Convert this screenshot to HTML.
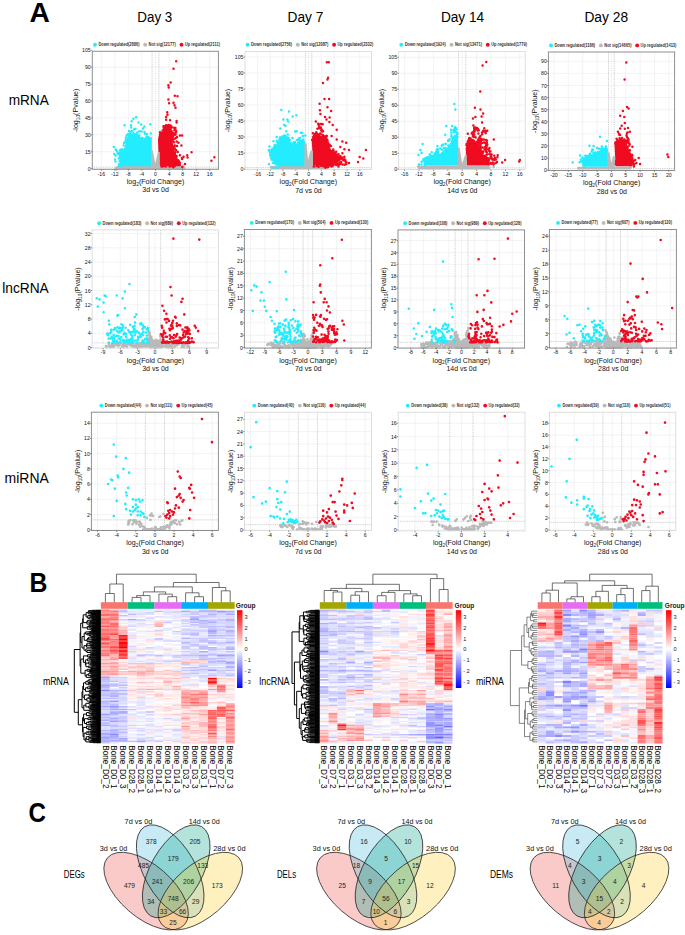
<!DOCTYPE html>
<html><head><meta charset="utf-8"><title>Figure</title>
<style>html,body{margin:0;padding:0;background:#fff;}svg{display:block;font-family:"Liberation Sans",sans-serif;}</style>
</head><body>
<svg width="685" height="935" viewBox="0 0 685 935" font-family="Liberation Sans, sans-serif"><text transform="translate(29.4 22.4) scale(0.99 1)" font-size="28.5" font-weight="bold" fill="#000">A</text>
<text transform="translate(29.6 592) scale(0.87 1)" font-size="28.5" font-weight="bold" fill="#000">B</text>
<text transform="translate(28.6 821.6) scale(0.85 1)" font-size="28.5" font-weight="bold" fill="#000">C</text>
<text x="137.3" y="21.8" font-size="15.3" textLength="35" lengthAdjust="spacingAndGlyphs" fill="#000">Day 3</text>
<text x="287.5" y="21.8" font-size="15.3" textLength="35.8" lengthAdjust="spacingAndGlyphs" fill="#000">Day 7</text>
<text x="440.9" y="21.8" font-size="15.3" textLength="43.3" lengthAdjust="spacingAndGlyphs" fill="#000">Day 14</text>
<text x="584.4" y="21.8" font-size="15.3" textLength="43.7" lengthAdjust="spacingAndGlyphs" fill="#000">Day 28</text>
<text x="8.7" y="105.2" font-size="15.3" textLength="40.1" lengthAdjust="spacingAndGlyphs" fill="#000">mRNA</text>
<text x="2.2" y="292.8" font-size="15.3" textLength="46.6" lengthAdjust="spacingAndGlyphs" fill="#000">lncRNA</text>
<text x="4.6" y="483.2" font-size="15.3" textLength="44.2" lengthAdjust="spacingAndGlyphs" fill="#000">miRNA</text>
<g><path d="M101.3 51.3V169.3M114.8 51.3V169.3M128.4 51.3V169.3M141.9 51.3V169.3M155.5 51.3V169.3M169.1 51.3V169.3M182.6 51.3V169.3M196.2 51.3V169.3M209.7 51.3V169.3M92.3 168.6H218.4M92.3 151.7H218.4M92.3 134.8H218.4M92.3 117.9H218.4M92.3 101H218.4M92.3 84.1H218.4M92.3 67.2H218.4" stroke="#ebebeb" stroke-width="0.6" fill="none"/>
<path d="M152.1 51.3V169.3M158.9 51.3V169.3M92.3 167.1H218.4" stroke="#9a9a9a" stroke-width="0.5" stroke-dasharray="1 0.8" fill="none"/>
<path d="M116.5 165.8L182 165.8L183 169L116 169Z" fill="#b9b9b9"/>
<path d="M182.1 166.6h0M183 168h0M184.3 167.9h0M183.2 165.7h0M116.6 169.5h0M115.9 168.3h0" stroke="#b9b9b9" stroke-width="2.5" stroke-linecap="round" fill="none"/>
<path d="M120.8 166.2L119 157.4L118.2 152.3L122.6 150.9L125.5 148.7L127 144.3L126.2 140.7L127.7 135.2L132.1 133.4L137.2 134.1L139.4 139.2L144.5 137.7L148.1 137L151.8 139.2L151.8 166.2Z" fill="#22ecfe"/>
<path d="M124.6 125.3h0M113.8 146.9h0M115.7 149.4h0M136.1 117.3h0M133.5 118.8h0M131.7 121.3h0M131 125.3h0M131.2 127.5h0M132.2 130.8h0M135.4 129.1h0M138.5 122.4h0M141.2 124.6h0M144.5 126.4h0M143 128.6h0M139.4 131.2h0M141.6 131.5h0M144.5 131.9h0M150.3 124.2h0M150.7 133.4h0M117 151h0M129 131h0M147 134h0M120.2 164.7h0M118.7 158.4h0M120.4 161.8h0M120.7 164.3h0M120.6 166.5h0M119.5 161.3h0M115.1 159.6h0M119.2 164.3h0M115.6 161.4h0M118.9 165.4h0M118.4 152.8h0M118.4 153.2h0M118.6 154.2h0M117.5 153.2h0M115.6 155.4h0M114.3 153.9h0M120.7 151.9h0M122.5 151.4h0M120 150.2h0M120.7 151.3h0M125.1 148.9h0M125.1 148.7h0M121.6 149.2h0M122.9 149.9h0M126.6 146.3h0M126.1 145.5h0M125.4 148.1h0M123.7 145.5h0M126.7 144.2h0M127 143h0M125.2 142.2h0M124 142.9h0M126.9 140.3h0M125.8 140.1h0M125.8 140.4h0M126.3 140h0M126.7 135.2h0M125.8 137.4h0M129.1 134.2h0M129.9 133.7h0M128.2 133.9h0M131 131.7h0M137 133.8h0M135.3 134.6h0M133.8 133.4h0M134.3 129.2h0M137.4 132.4h0M133.3 133.6h0M137.1 134.7h0M139.1 137.7h0M138.2 135.8h0M139 137.7h0M139.4 139.1h0M139.3 136.9h0M143 138.5h0M139.7 139.5h0M141.5 138.3h0M141.6 138.2h0M139.2 135.4h0M142.1 137.9h0M146.9 136.8h0M146.7 136.7h0M144.9 133.7h0M146.5 137h0M149.5 138.2h0M150.7 138.3h0M149.7 138h0M148.7 137.3h0" stroke="#22ecfe" stroke-width="2.5" stroke-linecap="round" fill="none"/>
<path d="M160.2 165.8L158.4 150.9L158 139.2L159.5 131.9L163.1 131.2L164.6 125.3L171.2 125.3L171.9 131.2L175.5 133.4L172.6 140.7L173.4 148.7L174.8 153.8L177 159.6L180.7 164L179.2 166.2Z" fill="#ef0b20"/>
<path d="M176.2 61.3h0M173.5 68.8h0M170.7 82.6h0M168.4 85.2h0M168.7 87.6h0M174.8 95.8h0M177.5 96.3h0M168.4 99.5h0M169.1 103.3h0M173.5 102.7h0M174.5 105.2h0M175.5 107.8h0M211.4 160.8h0M214.4 157.3h0M167.2 112.2h0M167.5 114.7h0M166.1 116.9h0M166.1 119.7h0M170.1 120.2h0M176.6 121h0M176.6 122.5h0M175.2 128.6h0M164.6 129.3h0M179.9 135.5h0M182.1 135.5h0M176.6 141.4h0M178.5 142.8h0M177 146.1h0M181.4 145.4h0M177.7 152h0M191.6 152.3h0M179.9 155.3h0M187.2 155.3h0M187.6 157.4h0M183.6 156.7h0M182.1 158.9h0M185 164h0M173.4 154.5h0M176 150h0M160.2 163.9h0M159.8 156.9h0M160.5 163.6h0M160.1 159.6h0M160.6 164.5h0M159.8 162.8h0M160 132.3h0M162.6 130.6h0M163 130.2h0M163.8 127.9h0M163.7 127.5h0M164.3 126.2h0M163.5 126.3h0M170.4 125.4h0M168.7 125h0M167 125.9h0M169.2 125.7h0M168.7 124.9h0M167.9 125.2h0M166 125.3h0M171.4 126.2h0M171.4 130.9h0M171.7 127.4h0M174.1 127.8h0M174.4 130.2h0M175.4 127.9h0M174.4 133.5h0M172.7 132.7h0M176.1 131.9h0M176 130.6h0M175.6 134.3h0M172.7 140.1h0M173.3 139.5h0M175.6 134.3h0M175 134.8h0M176.2 137.8h0M175.1 138.6h0M177 136.9h0M173.4 148.5h0M172.9 148.5h0M173.7 147.8h0M173.1 146.8h0M172.5 140.6h0M173.7 146.4h0M173.9 142.2h0M174.7 145.6h0M174.6 147.6h0M173.9 149.6h0M173.3 148.3h0M174.9 152.3h0M174.9 153.5h0M177.5 152.1h0M175 149.6h0M174.9 154.8h0M175.5 156.3h0M175.8 157.8h0M176.5 158.3h0M176.4 158.1h0M176.6 156h0M176.5 159.9h0M178 160.3h0M179.9 162.7h0M181.9 158.2h0M178.7 160.8h0M182.3 158.3h0M179.8 164.9h0M182.3 167.1h0M166 165.8h0M171.5 166h0M164.5 165.2h0M171.8 165.9h0M174.7 165.5h0M165.8 166.4h0M163.1 166.3h0M162.6 166.3h0M162 166.5h0M162.7 166.3h0M165.1 165.9h0M161.5 166.4h0M174.2 166.3h0M173.3 167.2h0M169.5 166.4h0M174.6 166.3h0M170.3 166.2h0M172.5 166.3h0" stroke="#ef0b20" stroke-width="2.5" stroke-linecap="round" fill="none"/>
<path d="M151.2 166.5L151.2 150.5L152.8 150.3L155.3 163.7L157.8 152L159.8 152L159.8 166.5Z" fill="#b9b9b9"/>
<rect x="92.3" y="51.3" width="126.1" height="118" fill="none" stroke="#8f8f8f" stroke-width="1"/>
<path d="M101.3 169.3v1.5M114.8 169.3v1.5M128.4 169.3v1.5M141.9 169.3v1.5M155.5 169.3v1.5M169.1 169.3v1.5M182.6 169.3v1.5M196.2 169.3v1.5M209.7 169.3v1.5M92.3 168.6h-1.5M92.3 151.7h-1.5M92.3 134.8h-1.5M92.3 117.9h-1.5M92.3 101h-1.5M92.3 84.1h-1.5M92.3 67.2h-1.5M92.3 50.3h-1.5" stroke="#333" stroke-width="0.5" fill="none"/>
<g font-size="5.15" fill="#111"><text x="101.3" y="175.6" text-anchor="middle">-16</text><text x="114.8" y="175.6" text-anchor="middle">-12</text><text x="128.4" y="175.6" text-anchor="middle">-8</text><text x="141.9" y="175.6" text-anchor="middle">-4</text><text x="155.5" y="175.6" text-anchor="middle">0</text><text x="169.1" y="175.6" text-anchor="middle">4</text><text x="182.6" y="175.6" text-anchor="middle">8</text><text x="196.2" y="175.6" text-anchor="middle">12</text><text x="209.7" y="175.6" text-anchor="middle">16</text><text x="90.7" y="170.6" text-anchor="end">0</text><text x="90.7" y="153.7" text-anchor="end">15</text><text x="90.7" y="136.8" text-anchor="end">30</text><text x="90.7" y="119.9" text-anchor="end">45</text><text x="90.7" y="103" text-anchor="end">60</text><text x="90.7" y="86.1" text-anchor="end">75</text><text x="90.7" y="69.2" text-anchor="end">90</text><text x="90.7" y="52.3" text-anchor="end">105</text></g>
<text x="126.8" y="183.8" font-size="7.9" fill="#111" textLength="57.5" lengthAdjust="spacingAndGlyphs">log<tspan font-size="5.3" dy="1.8">2</tspan><tspan dy="-1.8">(Fold Change)</tspan></text>
<text x="142.3" y="192.3" font-size="7.5" fill="#111" textLength="26.6" lengthAdjust="spacingAndGlyphs">3d vs 0d</text>
<text transform="translate(77.7 132) rotate(-90)" font-size="7.9" fill="#111" textLength="43.4" lengthAdjust="spacingAndGlyphs">-log<tspan font-size="5.3" dy="1.8">10</tspan><tspan dy="-1.8">(Pvalue)</tspan></text>
<g font-size="4.5" font-weight="bold" fill="#333"><circle cx="95" cy="44.7" r="1.95" fill="#22ecfe"/><text x="98.4" y="46.2" textLength="41.1" lengthAdjust="spacingAndGlyphs">Down regulated(2886)</text><circle cx="145.2" cy="44.7" r="1.95" fill="#b9b9b9"/><text x="148.6" y="46.2" textLength="27.2" lengthAdjust="spacingAndGlyphs">Not sig(12177)</text><circle cx="181.5" cy="44.7" r="1.95" fill="#ef0b20"/><text x="184.9" y="46.2" textLength="35.1" lengthAdjust="spacingAndGlyphs">Up regulated(2111)</text></g></g>
<g><path d="M257.4 51.4V169.6M270.2 51.4V169.6M283 51.4V169.6M295.8 51.4V169.6M308.6 51.4V169.6M321.4 51.4V169.6M334.2 51.4V169.6M347 51.4V169.6M359.8 51.4V169.6M245 169H371.5M245 153H371.5M245 137H371.5M245 121H371.5M245 105H371.5M245 89H371.5M245 73H371.5M245 57H371.5" stroke="#ebebeb" stroke-width="0.6" fill="none"/>
<path d="M305.4 51.4V169.6M311.8 51.4V169.6M245 167.6H371.5" stroke="#9a9a9a" stroke-width="0.5" stroke-dasharray="1 0.8" fill="none"/>
<path d="M271 166L327.5 166L328 169.2L270.5 169.2Z" fill="#b9b9b9"/>
<path d="M338.3 167.3h0M327.4 167.9h0M327.6 166.4h0M329.1 166.8h0M271 167.1h0M271.3 167.4h0" stroke="#b9b9b9" stroke-width="2.5" stroke-linecap="round" fill="none"/>
<path d="M278.2 166.3L273.6 163.2L271.2 157.8L270.5 151.6L274.3 147L277.4 143.1L280.5 137.8L285.1 135.4L289 140.1L292.8 145.5L296.7 144.7L300.5 140.1L305.1 140.8L305.1 166.3Z" fill="#22ecfe"/>
<path d="M281.3 110h0M289 111.6h0M292.7 116.6h0M296.4 115.3h0M283.4 119.6h0M287.4 119.6h0M288.2 121.6h0M284.3 125h0M285.5 125.8h0M280.3 128.5h0M286.3 131.2h0M295.1 131.6h0M296.7 131.2h0M300.9 132.7h0M302.1 132.7h0M305.3 135.6h0M269.3 146.6h0M268.9 150.5h0M284 135.8h0M280.1 137.4h0M276.6 140.8h0M274.7 144.7h0M292.4 138.1h0M297.1 140.1h0M300.1 138.1h0M275.7 164.4h0M278.6 165.7h0M275.9 164h0M273.3 167.8h0M277 167.7h0M271.7 159.5h0M271.7 157.9h0M272.5 159.6h0M273.2 163.1h0M272 159.9h0M268.9 164.3h0M271.5 155.2h0M270.5 152.6h0M270.8 157.4h0M270.6 154h0M270.1 155.1h0M270 152.4h0M273.9 148.4h0M271.2 150.3h0M271.6 151h0M272.3 149h0M269 150h0M272.2 149.5h0M275.9 145.7h0M276 146.4h0M274 147h0M275.1 145.5h0M273.5 141.3h0M279.6 140.6h0M279.4 140.2h0M280.2 138.3h0M276.7 137h0M279.3 139.5h0M277.1 142h0M280.5 137.5h0M280.6 137.7h0M284.2 136h0M282.4 136.8h0M284.7 135.5h0M282.7 136.6h0M286 136.6h0M287.8 138h0M287.3 137.5h0M288.7 137.9h0M288.1 138.9h0M287.8 134.5h0M291.6 143.5h0M290.8 143.2h0M292.5 144.9h0M289.7 140h0M295.1 143.7h0M295 142.1h0M294.6 142.8h0M295.8 144.2h0M295 145.4h0M293.8 142.2h0M292.9 143.7h0M299.8 140.9h0M298.1 144h0M298 142.7h0M297.8 139.8h0M298.7 138.8h0M299.5 140.7h0M302.5 141h0M301.2 140.4h0M303.4 139.6h0M302.8 136.1h0" stroke="#22ecfe" stroke-width="2.5" stroke-linecap="round" fill="none"/>
<path d="M313.2 165.5L311.7 140L313 137L318 134.5L322 136L326.5 137.5L328.6 148.1L334.7 154.3L338.8 158.4L335.7 162.4L330.6 166.5Z" fill="#ef0b20"/>
<path d="M326.8 62.3h0M328.8 62.3h0M328.1 77.7h0M327.5 79.4h0M323 83h0M324.5 99.1h0M329.1 99.1h0M319.6 103.7h0M327.5 107.3h0M331.1 111h0M319.9 110.3h0M320.4 113.9h0M325 117h0M329.6 117.5h0M326.5 119.5h0M329.4 122.1h0M332.7 125.1h0M315.8 121.6h0M336.7 129.7h0M331.6 135.9h0M336.7 139.5h0M342.4 141.5h0M346.2 142.8h0M340.3 147.1h0M344.4 149.2h0M349 150h0M365.9 150h0M359.7 157.1h0M363.3 158.4h0M358 161.9h0M349 163h0M344.4 156.8h0M342.4 153.2h0M338.8 160.4h0M345.8 162.3h0M328.3 149.7h0M319.5 128.3h0M322.1 151.1h0M324.8 140.4h0M323.4 148.4h0M325.3 138h0M326.2 149.9h0M312.2 140h0M329.4 160h0M345.1 160h0M336.7 155.1h0M340.3 155.9h0M345.5 160.4h0M331.2 150.9h0M320.8 127.4h0M334.2 159.1h0M328.1 145.1h0M321.6 149.5h0M322.1 150.4h0M316.2 134.1h0M324.9 139.2h0M316.5 144h0M323.1 150.3h0M327.2 139.6h0M336.9 163.6h0M346.4 162.2h0M314 137.5h0M338.2 159.1h0M321.3 148.5h0M336.2 164.9h0M321.3 129.1h0M318.7 125.2h0M335.3 161.2h0M318.6 142.6h0M337 162h0M332.7 162.8h0M333.4 152.1h0M322.1 143.2h0M325.6 144.6h0M319 124.8h0M317.7 138.8h0M344.4 160.4h0M338.5 154.2h0M319.8 143h0M316.5 146.2h0M339.7 163h0M333.6 165h0M341.2 162h0M322 136.8h0M329.1 162.1h0M326.7 159.2h0M320.5 124.1h0M315.4 143.8h0M340.5 157.8h0M339.4 159.5h0M329.8 164h0M337.9 154.5h0M331.8 160.1h0M316.9 144.6h0M317.2 141.7h0M322.7 124.3h0M317.5 138.1h0M320.8 149.9h0M317.4 128.7h0M337.2 161.6h0M323.2 155h0M323.2 145.3h0M322.3 131.4h0M344.8 164.8h0M315.8 138.6h0M343.1 159.9h0M320.8 139.1h0M315.7 137.6h0M335.8 159.8h0M318.1 123.7h0M333.5 150.8h0M342.1 157.4h0M342.4 159.1h0M318 141.6h0M323.2 137.9h0M327.3 151.5h0M329.1 156.3h0M324.8 145.2h0M322.5 130.8h0M318.4 137.6h0M323 131.2h0M331.9 153.7h0M326.6 142.2h0M325 157.5h0M320.2 133.5h0M322.1 145.6h0M314.9 134.1h0M325.4 152.2h0M323.7 137.6h0M331.2 155h0M315.9 142.8h0M317.6 143h0M321.9 153.8h0M340.5 164h0M328.2 160.6h0M346.3 164h0M335.2 152.5h0M344.6 160.3h0M319.2 126.9h0M315 136.4h0M326.8 135.9h0M340.1 159.3h0M326.3 143.5h0M328.1 149.9h0M320.9 144.9h0M315.7 139.4h0M323.7 140.9h0M329.3 144.5h0M342.4 158.8h0M339.5 159.2h0M340 158.5h0M342.7 164.6h0M325.9 159.1h0M315.9 138.7h0M317.4 134.1h0M327.4 146.9h0M326.9 153.4h0M328.8 144.5h0M321.7 137.9h0M336 162.7h0M320.1 137.2h0M332.8 151.1h0M339.3 163.2h0M322.1 124h0M331.3 152.4h0M318.4 141.6h0M321.3 130.4h0M336.1 164.5h0M314.4 141.3h0M328.2 148h0M321.6 145.6h0M326.3 144.8h0M329.8 156.7h0M328.8 163.3h0M332.3 152.3h0M344.5 159.2h0M338.7 164.9h0M322.7 142.7h0M314.1 135.7h0M333.6 159.4h0M338.3 164.2h0M323.2 135.7h0M331 165.8h0M324.8 145h0M312.7 155.9h0M313 159.2h0M313.5 163.3h0M313 158.6h0M313 162.7h0M312.9 138.7h0M316.1 134.9h0M317.8 135.3h0M314.8 136.7h0M316.3 132.3h0M313.3 136.8h0M312.9 133.3h0M318.7 135h0M318.5 135h0M320.6 133.7h0M321.7 130.9h0M326.2 136.9h0M324.6 136.4h0M322.8 135.1h0M326.3 135.9h0M328.2 146.1h0M327.9 142.8h0M327.5 140.7h0M328.4 146.3h0M327.9 143.9h0M326.7 142.3h0M329 146.7h0M327.5 142.1h0M328.5 147.4h0M327.4 142.1h0M330.9 146.1h0M329.9 145.3h0M333.4 151.8h0M329.7 149.7h0M329.2 148.7h0M333.4 152h0M328.8 148.4h0M333.4 152h0M335.5 152.8h0M333.3 149.4h0M336.2 151.7h0M334.2 153.5h0M334.5 154.9h0M337.3 157.4h0M335.7 155.8h0M338.6 157.5h0M335.2 154.3h0M337.4 156h0M337.4 160.8h0M337.6 159.6h0M336.6 160.6h0M339.8 162.5h0M340.5 163.2h0M338.8 160.6h0M333.2 164.2h0M332.8 164.6h0M331.7 166.5h0M334.6 163.3h0M332.3 165.2h0M338.5 166.2h0M332.6 166h0M322 165.7h0M313.3 166.2h0M316.9 166.1h0M321.3 166.1h0M323.9 166.5h0M323.6 165.8h0M328 166.9h0M326.3 165.6h0M313.2 165.1h0M317.6 166.2h0M318.1 165.8h0M316.9 166h0M314.3 166.4h0M325.5 167.7h0M318.7 166.7h0M325.9 167.1h0" stroke="#ef0b20" stroke-width="2.5" stroke-linecap="round" fill="none"/>
<path d="M304.4 166.5L304.4 144L306.5 143L308 160L310.5 150.5L313 151L313 166.5Z" fill="#b9b9b9"/>
<rect x="245" y="51.4" width="126.5" height="118.2" fill="none" stroke="#d6d6d6" stroke-width="0.8"/>
<path d="M257.4 169.6v1.5M270.2 169.6v1.5M283 169.6v1.5M295.8 169.6v1.5M308.6 169.6v1.5M321.4 169.6v1.5M334.2 169.6v1.5M347 169.6v1.5M359.8 169.6v1.5M245 169h-1.5M245 153h-1.5M245 137h-1.5M245 121h-1.5M245 105h-1.5M245 89h-1.5M245 73h-1.5M245 57h-1.5" stroke="#333" stroke-width="0.5" fill="none"/>
<g font-size="5.15" fill="#111"><text x="257.4" y="175.9" text-anchor="middle">-16</text><text x="270.2" y="175.9" text-anchor="middle">-12</text><text x="283" y="175.9" text-anchor="middle">-8</text><text x="295.8" y="175.9" text-anchor="middle">-4</text><text x="308.6" y="175.9" text-anchor="middle">0</text><text x="321.4" y="175.9" text-anchor="middle">4</text><text x="334.2" y="175.9" text-anchor="middle">8</text><text x="347" y="175.9" text-anchor="middle">12</text><text x="359.8" y="175.9" text-anchor="middle">16</text><text x="243.4" y="171" text-anchor="end">0</text><text x="243.4" y="155" text-anchor="end">15</text><text x="243.4" y="139" text-anchor="end">30</text><text x="243.4" y="123" text-anchor="end">45</text><text x="243.4" y="107" text-anchor="end">60</text><text x="243.4" y="91" text-anchor="end">75</text><text x="243.4" y="75" text-anchor="end">90</text><text x="243.4" y="59" text-anchor="end">105</text></g>
<text x="279.6" y="184.1" font-size="7.9" fill="#111" textLength="57.5" lengthAdjust="spacingAndGlyphs">log<tspan font-size="5.3" dy="1.8">2</tspan><tspan dy="-1.8">(Fold Change)</tspan></text>
<text x="295.2" y="192.6" font-size="7.5" fill="#111" textLength="26.6" lengthAdjust="spacingAndGlyphs">7d vs 0d</text>
<text transform="translate(230.4 132.2) rotate(-90)" font-size="7.9" fill="#111" textLength="43.4" lengthAdjust="spacingAndGlyphs">-log<tspan font-size="5.3" dy="1.8">10</tspan><tspan dy="-1.8">(Pvalue)</tspan></text>
<g font-size="4.5" font-weight="bold" fill="#333"><circle cx="247.6" cy="44.8" r="1.95" fill="#22ecfe"/><text x="251" y="46.3" textLength="41.1" lengthAdjust="spacingAndGlyphs">Down regulated(2756)</text><circle cx="297.8" cy="44.8" r="1.95" fill="#b9b9b9"/><text x="301.2" y="46.3" textLength="27.2" lengthAdjust="spacingAndGlyphs">Not sig(12087)</text><circle cx="334.1" cy="44.8" r="1.95" fill="#ef0b20"/><text x="337.5" y="46.3" textLength="35.8" lengthAdjust="spacingAndGlyphs">Up regulated(2332)</text></g></g>
<g><path d="M404.6 51.4V169.6M419 51.4V169.6M433.4 51.4V169.6M447.8 51.4V169.6M462.2 51.4V169.6M476.6 51.4V169.6M491 51.4V169.6M505.4 51.4V169.6M519.8 51.4V169.6M398.7 169.2H525.2M398.7 153.2H525.2M398.7 137.2H525.2M398.7 121.2H525.2M398.7 105.2H525.2M398.7 89.2H525.2M398.7 73.2H525.2M398.7 57.2H525.2" stroke="#ebebeb" stroke-width="0.6" fill="none"/>
<path d="M458.6 51.4V169.6M465.8 51.4V169.6M398.7 167.8H525.2" stroke="#9a9a9a" stroke-width="0.5" stroke-dasharray="1 0.8" fill="none"/>
<path d="M418.3 166L488.7 166L489 169.2L418 169.2Z" fill="#b9b9b9"/>
<path d="M489.3 167.8h0M488.5 165.5h0M493.7 166.9h0M418.9 166.3h0M418.6 166.9h0M418.2 166.6h0" stroke="#b9b9b9" stroke-width="2.5" stroke-linecap="round" fill="none"/>
<path d="M424.1 165.8L423.2 160.1L428.2 158.4L433.1 156L438.1 154.3L443 152.7L448 151L452.1 144.4L454.5 136.2L457.8 132.9L458.2 165.8Z" fill="#22ecfe"/>
<path d="M454.4 103.9h0M455.4 109.6h0M446.3 125.9h0M452.2 126.1h0M451 129.8h0M445.3 134.7h0M448.5 140.6h0M422.6 144h0M420.4 150h0M421.6 153.1h0M418.5 155h0M437.4 146.2h0M441.8 145.7h0M448.8 145.7h0M445.5 148.1h0M437.7 149.4h0M442.2 149.8h0M438.1 151.8h0M434 156.1h0M428.6 158.4h0M423.6 160.2h0M455.4 131.2h0M457.4 133.3h0M437.9 152.4h0M455.2 137.6h0M452.6 140.8h0M443.9 153.3h0M444 148.1h0M434.7 153.5h0M456.4 132.3h0M451.4 135.2h0M453.1 143.2h0M451.9 141.1h0M431.9 156.1h0M427.2 158.1h0M437.3 154.7h0M455.8 136h0M442.1 145.4h0M443.9 151.4h0M449.1 148.1h0M443.4 144.4h0M435.4 155.4h0M446.3 150.1h0M448.1 141h0M455.5 147.4h0M436.9 149.5h0M456.6 129.2h0M442.6 144.9h0M447.7 148.8h0M454.8 128h0M431.7 152.3h0M437.9 152.2h0M451.5 136.7h0M453.1 137.6h0M455.2 144.5h0M455.2 127.2h0M456.2 138.7h0M454.5 129.8h0M448.2 150h0M456.1 128.3h0M425 158.4h0M453.5 129.9h0M429.7 154.4h0M449.7 139.2h0M445.8 143.8h0M457 146.5h0M451.8 142.9h0M437.9 149.6h0M453.5 147.8h0M430.4 155.5h0M445.1 150.6h0M453.4 130.2h0M452.6 140.3h0M423.9 160.2h0M424.6 165.5h0M423.3 159.8h0M421.5 164.6h0M419 164.6h0M421.6 161.7h0M428 158.5h0M426.1 158.4h0M423.4 159.2h0M427.1 157.2h0M424.4 159.6h0M426.3 157.9h0M432.6 155.8h0M433.5 155.9h0M432.3 155.9h0M429.1 157.3h0M430.3 155.7h0M431 157h0M434.4 155.2h0M437.5 153.6h0M435 154.7h0M436.3 151.4h0M436.5 152.4h0M435.1 153.4h0M438.3 154.7h0M442.2 152.9h0M439.1 154.7h0M442.9 152.7h0M442.8 152.7h0M440.3 148.6h0M444 152.8h0M447.4 151.6h0M445.6 152.2h0M446 149.1h0M447.2 150.8h0M444.4 151.2h0M449.4 148.6h0M451.4 145h0M450.7 145.4h0M452.6 144.5h0M447.8 148.7h0M450.4 146.9h0M448.3 145.6h0M448.2 149.2h0M452.7 141.2h0M452.2 143.9h0M453.6 138.4h0M453.2 141.6h0M454.2 138.2h0M452.4 138.3h0M448.2 140.2h0M453 138.1h0M450.9 144h0M449.1 140.6h0M454.9 135.7h0M453.9 131.9h0M451.3 132.6h0M457.3 136.9h0M457.5 157.4h0M457.6 161.2h0M457.3 133.9h0" stroke="#22ecfe" stroke-width="2.5" stroke-linecap="round" fill="none"/>
<path d="M466.8 165.5L465.7 148.1L467.3 142L470.3 137.9L473.4 143L477.5 140L479.5 143L480.5 152.2L485.7 156.3L489.7 161.4L489.7 165.5Z" fill="#ef0b20"/>
<path d="M482.6 65.4h0M486.3 61.9h0M480.3 91.5h0M474.9 107.8h0M480.5 109.5h0M483.1 113.4h0M481.6 116.5h0M475.4 117h0M472.9 118.5h0M482.1 122.4h0M473.4 125.5h0M484.3 128.2h0M487.2 130.8h0M478 128.7h0M473.9 131.3h0M467.8 133.8h0M482.1 134.3h0M479.5 137.4h0M487 140.5h0M493.8 139.5h0M485.1 147.1h0M486.7 149.2h0M489.7 154.1h0M494.3 155.8h0M497.7 155.3h0M497.4 157.3h0M492.3 159.6h0M505.1 160.1h0M502.2 162.6h0M519.9 159.9h0M519.2 161.6h0M486.1 140.1h0M486.4 147.8h0M486.4 145.8h0M478.4 133.5h0M488.8 149.6h0M480.6 145h0M473.3 146.3h0M486.8 152.2h0M474.1 127.9h0M480.2 140.7h0M486.8 142.2h0M484.4 142.5h0M480.8 150.3h0M486.6 146.4h0M473.3 141.4h0M470.7 144.1h0M478.8 130.3h0M479.8 137.3h0M474 131.9h0M472.7 143.5h0M492.6 158.8h0M493.6 164.6h0M487.1 143.9h0M491.7 154.6h0M470.7 143h0M485.9 144.2h0M477.3 129.6h0M474.2 129.8h0M475.3 147.4h0M491 155.7h0M482.7 147.4h0M485.7 143.8h0M470.4 138.2h0M481.6 139.1h0M482 132.6h0M477.2 144.5h0M467.8 143.8h0M480.5 142.9h0M490.5 158.2h0M475.4 127.6h0M494.4 160h0M490.4 163.1h0M471.7 133.2h0M488.4 158.5h0M485.3 131.2h0M480.4 135.9h0M477 128.1h0M468.7 143.8h0M475.7 137.6h0M487 154.4h0M472.3 140.2h0M466.5 145.1h0M475.3 149h0M482.5 139.7h0M495.9 159.5h0M484 139.5h0M477.7 130.6h0M478 140.3h0M479.3 137.8h0M484.4 131.6h0M490.9 163.8h0M472.5 134.1h0M483.2 130.7h0M486.2 149.3h0M485.6 130.7h0M495.9 162.9h0M472.4 132.5h0M477.1 129.5h0M469.4 137.9h0M483 131.4h0M482.2 151.7h0M472.8 136.1h0M477.5 149.9h0M488.8 160.3h0M495.5 162.9h0M479.7 138.2h0M491.9 163.5h0M497 162h0M481.3 142.9h0M475 129.1h0M468.3 144.2h0M490.6 156.4h0M472.3 144.2h0M492.8 162.4h0M486.2 151.7h0M489.4 154.1h0M471.8 141.8h0M487.3 144.5h0M493 159.5h0M474.2 131.7h0M483.3 151.6h0M471.7 142.1h0M472.1 140.1h0M490.4 151.4h0M489.2 151.1h0M473.6 141.8h0M483.9 142.4h0M480.9 141.6h0M495 158h0M474 140.7h0M485.8 150.4h0M472.6 147.8h0M479.5 142.1h0M485.8 133.2h0M474.3 134.5h0M474.9 130.8h0M476.8 143.3h0M478.4 139.2h0M489.4 148h0M487 145.4h0M467 158h0M467 159.1h0M467 144.2h0M466.8 143.8h0M467.9 141.3h0M467.9 141.5h0M469.1 138.8h0M468.6 140.2h0M468.7 140h0M472.1 139.9h0M471.8 140.6h0M473.2 142.3h0M474.4 136.8h0M473.8 142.1h0M473.3 140.6h0M474.8 142.6h0M474.2 142.4h0M473.7 141.9h0M473.2 140.9h0M471.4 139.4h0M473.6 137.1h0M479.8 143.4h0M478.7 140.9h0M479.4 142.8h0M479.9 141.1h0M480 151.2h0M480.5 146.1h0M480.4 146.9h0M480.4 149.1h0M480.6 150.1h0M481.9 143h0M483.2 151.9h0M480.2 148.2h0M481.1 147.5h0M480.3 144.5h0M481.3 153.4h0M484.8 156.1h0M485.4 155.5h0M480.8 151.7h0M486.3 152h0M482.6 153.3h0M484.6 149.3h0M487.2 158.6h0M488.3 159.9h0M485.7 156.7h0M488.1 159.1h0M487.1 158.1h0M491.5 157.5h0M490.9 158.1h0" stroke="#ef0b20" stroke-width="2.5" stroke-linecap="round" fill="none"/>
<path d="M457.8 166.5L457.8 148L459.5 147.1L462.2 163.5L465.2 154.3L466.8 155L466.8 166.5Z" fill="#b9b9b9"/>
<rect x="398.7" y="51.4" width="126.5" height="118.2" fill="none" stroke="#d6d6d6" stroke-width="0.8"/>
<path d="M404.6 169.6v1.5M419 169.6v1.5M433.4 169.6v1.5M447.8 169.6v1.5M462.2 169.6v1.5M476.6 169.6v1.5M491 169.6v1.5M505.4 169.6v1.5M519.8 169.6v1.5M398.7 169.2h-1.5M398.7 153.2h-1.5M398.7 137.2h-1.5M398.7 121.2h-1.5M398.7 105.2h-1.5M398.7 89.2h-1.5M398.7 73.2h-1.5M398.7 57.2h-1.5" stroke="#333" stroke-width="0.5" fill="none"/>
<g font-size="5.15" fill="#111"><text x="404.6" y="175.9" text-anchor="middle">-16</text><text x="419" y="175.9" text-anchor="middle">-12</text><text x="433.4" y="175.9" text-anchor="middle">-8</text><text x="447.8" y="175.9" text-anchor="middle">-4</text><text x="462.2" y="175.9" text-anchor="middle">0</text><text x="476.6" y="175.9" text-anchor="middle">4</text><text x="491" y="175.9" text-anchor="middle">8</text><text x="505.4" y="175.9" text-anchor="middle">12</text><text x="519.8" y="175.9" text-anchor="middle">16</text><text x="397.1" y="171.2" text-anchor="end">0</text><text x="397.1" y="155.2" text-anchor="end">15</text><text x="397.1" y="139.2" text-anchor="end">30</text><text x="397.1" y="123.2" text-anchor="end">45</text><text x="397.1" y="107.2" text-anchor="end">60</text><text x="397.1" y="91.2" text-anchor="end">75</text><text x="397.1" y="75.2" text-anchor="end">90</text><text x="397.1" y="59.2" text-anchor="end">105</text></g>
<text x="433.4" y="184.1" font-size="7.9" fill="#111" textLength="57.5" lengthAdjust="spacingAndGlyphs">log<tspan font-size="5.3" dy="1.8">2</tspan><tspan dy="-1.8">(Fold Change)</tspan></text>
<text x="447.2" y="192.6" font-size="7.5" fill="#111" textLength="30.2" lengthAdjust="spacingAndGlyphs">14d vs 0d</text>
<text transform="translate(384.1 132.2) rotate(-90)" font-size="7.9" fill="#111" textLength="43.4" lengthAdjust="spacingAndGlyphs">-log<tspan font-size="5.3" dy="1.8">10</tspan><tspan dy="-1.8">(Pvalue)</tspan></text>
<g font-size="4.5" font-weight="bold" fill="#333"><circle cx="401.3" cy="44.8" r="1.95" fill="#22ecfe"/><text x="404.7" y="46.3" textLength="41.1" lengthAdjust="spacingAndGlyphs">Down regulated(1924)</text><circle cx="451.5" cy="44.8" r="1.95" fill="#b9b9b9"/><text x="454.9" y="46.3" textLength="27.2" lengthAdjust="spacingAndGlyphs">Not sig(13471)</text><circle cx="487.8" cy="44.8" r="1.95" fill="#ef0b20"/><text x="491.2" y="46.3" textLength="35.8" lengthAdjust="spacingAndGlyphs">Up regulated(1779)</text></g></g>
<g><path d="M554 52V170.5M568.3 52V170.5M582.7 52V170.5M597 52V170.5M611.4 52V170.5M625.8 52V170.5M640.1 52V170.5M654.5 52V170.5M668.8 52V170.5M548.4 170.2H674.6M548.4 158.1H674.6M548.4 146H674.6M548.4 133.9H674.6M548.4 121.8H674.6M548.4 109.7H674.6M548.4 97.6H674.6M548.4 85.5H674.6M548.4 73.4H674.6M548.4 61.3H674.6" stroke="#ebebeb" stroke-width="0.6" fill="none"/>
<path d="M608.5 52V170.5M614.3 52V170.5M548.4 168.6H674.6" stroke="#9a9a9a" stroke-width="0.5" stroke-dasharray="1 0.8" fill="none"/>
<path d="M577.3 166.8L630.4 166.8L631 169.5L577 169.5Z" fill="#b9b9b9"/>
<path d="M630.7 167.5h0M630.5 166.9h0" stroke="#b9b9b9" stroke-width="2.5" stroke-linecap="round" fill="none"/>
<path d="M584.4 166.7L581.9 161.1L582.4 158L587.5 156L592.6 153.9L598.7 150.9L603.8 148.8L607.9 148.8L607.9 166.7Z" fill="#22ecfe"/>
<path d="M572.7 162.6h0M580.1 155.5h0M589.5 145.8h0M593.6 146.1h0M593.1 149.9h0M600 136.8h0M606.9 140.9h0M600.8 149.3h0M595.7 152.9h0M586.5 157h0M583.2 164.4h0M583.3 165.3h0M582.8 161.8h0M584 166.8h0M579.5 162.2h0M582 162h0M581.5 160.4h0M580.8 159.8h0M582.4 157.6h0M587.3 156.2h0M582.6 157.7h0M585.3 155.8h0M586.3 155.9h0M586.1 156.5h0M588.7 156.2h0M588.6 156h0M589.9 155.4h0M590.2 154.3h0M589.8 154.2h0M590.1 153.8h0M595.2 152.5h0M598 152h0M594 153.7h0M594.3 153.4h0M593.6 153.1h0M597.2 147.9h0M592.2 149.5h0M591.7 151.4h0M602.4 150.1h0M602.9 149.3h0M603.4 149.3h0M602.2 148.4h0M601.8 146.6h0M598.8 148.8h0M605.9 148.1h0M606.5 149.1h0M604.8 148.8h0M605.7 146.6h0" stroke="#22ecfe" stroke-width="2.5" stroke-linecap="round" fill="none"/>
<path d="M615.6 166.2L614.6 145.8L616.1 141.5L619.2 140L624.3 139.5L626.3 142L625.3 145.8L628.4 152.9L631.4 159L633.5 162.1L632.4 166.2Z" fill="#ef0b20"/>
<path d="M626.3 62.5h0M624.6 79.4h0M667.4 154.5h0M668.3 156.9h0M640.1 164.1h0M638.7 158.1h0M634.4 164.1h0M627 107h0M628.6 108.6h0M622.9 111h0M620.2 115.8h0M624.3 116.9h0M624.8 123h0M621.7 125.8h0M624.8 128.7h0M620.2 128.4h0M628 128.1h0M629.9 131.7h0M617.9 131.7h0M629.1 143.2h0M629.7 144.2h0M632.4 146.8h0M628.9 150.9h0M628.7 156.7h0M619.1 133.7h0M626.5 135.3h0M616.6 138.8h0M619.3 134.8h0M618.5 145.3h0M628.9 156.3h0M619.7 143.9h0M626.7 147.6h0M619.8 140.8h0M631.8 162.3h0M625 155.8h0M620.6 147.9h0M617.8 145.7h0M619.8 134.5h0M630.4 155.5h0M616.7 148h0M633.9 165.5h0M625.7 158h0M628.5 141.2h0M625.4 151.9h0M616.2 146.6h0M625.7 152.8h0M619.4 144.5h0M626 153.6h0M622.2 147.7h0M621.3 150.4h0M627.8 142.5h0M628 160.7h0M618.5 143.7h0M621.6 142.6h0M627 133.3h0M626.9 136.7h0M623.1 141.1h0M628.8 157h0M621.1 139.8h0M624.9 145h0M626.3 142.5h0M632 154.8h0M621.3 139.5h0M623.8 154.7h0M629.9 150.3h0M631.3 158.4h0M629.3 159.2h0M619.8 139.6h0M630.1 157.5h0M626 147.7h0M627.4 149h0M620.5 152.5h0M628.1 141h0M621.2 143.5h0M622.1 137.9h0M621 146.9h0M628.5 140.6h0M623.4 142.3h0M616.9 145h0M624.2 154.2h0M628.3 153.4h0M629.3 145.4h0M630.6 157.1h0M620.1 134.9h0M627.5 132.5h0M625.3 143.6h0M631.7 156.4h0M627.7 137.9h0M619.1 141.2h0M628.1 151.7h0M632.4 158.2h0M620.7 139.3h0M625.2 146.6h0M630 153.8h0M629.1 152.1h0M628.5 139.2h0M617.2 146.7h0M626.3 156.5h0M615.3 163.9h0M615.6 162.7h0M616 161h0M615.5 164.2h0M615.5 144.3h0M615.8 143.2h0M615.3 143.6h0M615.4 142.4h0M618.5 141h0M616.8 142h0M617.4 140.4h0M616.8 139.4h0M619.9 140.2h0M621.7 139.3h0M624.2 139.5h0M619.7 138.8h0M619.6 138.3h0M619.8 138.4h0M624.9 140.6h0M625.9 140.8h0M627.7 139.2h0M626.2 142.2h0M625.8 144.5h0M625.9 145.8h0M626.3 145.5h0M626.2 147.3h0M628.8 151.9h0M628.9 152.3h0M627.4 150h0M627.5 150.8h0M627.7 147.7h0M628.7 151.1h0M627.4 147.3h0M629.9 155.6h0M630.5 157.6h0M629.7 153.6h0M630.4 156.3h0M631 157.6h0M628.7 153.6h0M630.4 156.9h0M632.3 155.6h0M632.3 158.8h0M632.5 159.7h0M635.2 160h0M633.7 160.9h0M633.2 163.4h0M632.9 161.9h0M636.4 163.1h0M633.9 166.5h0" stroke="#ef0b20" stroke-width="2.5" stroke-linecap="round" fill="none"/>
<path d="M607.5 167L607.5 152.5L609.5 151.9L611.3 163.1L613 156L614.8 156.5L614.8 167Z" fill="#b9b9b9"/>
<rect x="548.4" y="52" width="126.2" height="118.5" fill="none" stroke="#8f8f8f" stroke-width="1"/>
<path d="M554 170.5v1.5M568.3 170.5v1.5M582.7 170.5v1.5M597 170.5v1.5M611.4 170.5v1.5M625.8 170.5v1.5M640.1 170.5v1.5M654.5 170.5v1.5M668.8 170.5v1.5M548.4 170.2h-1.5M548.4 158.1h-1.5M548.4 146h-1.5M548.4 133.9h-1.5M548.4 121.8h-1.5M548.4 109.7h-1.5M548.4 97.6h-1.5M548.4 85.5h-1.5M548.4 73.4h-1.5M548.4 61.3h-1.5" stroke="#333" stroke-width="0.5" fill="none"/>
<g font-size="5.15" fill="#111"><text x="554" y="176.8" text-anchor="middle">-20</text><text x="568.3" y="176.8" text-anchor="middle">-15</text><text x="582.7" y="176.8" text-anchor="middle">-10</text><text x="597" y="176.8" text-anchor="middle">-5</text><text x="611.4" y="176.8" text-anchor="middle">0</text><text x="625.8" y="176.8" text-anchor="middle">5</text><text x="640.1" y="176.8" text-anchor="middle">10</text><text x="654.5" y="176.8" text-anchor="middle">15</text><text x="668.8" y="176.8" text-anchor="middle">20</text><text x="546.8" y="172.2" text-anchor="end">0</text><text x="546.8" y="160.1" text-anchor="end">10</text><text x="546.8" y="148" text-anchor="end">20</text><text x="546.8" y="135.9" text-anchor="end">30</text><text x="546.8" y="123.8" text-anchor="end">40</text><text x="546.8" y="111.7" text-anchor="end">50</text><text x="546.8" y="99.6" text-anchor="end">60</text><text x="546.8" y="87.5" text-anchor="end">70</text><text x="546.8" y="75.4" text-anchor="end">80</text><text x="546.8" y="63.3" text-anchor="end">90</text></g>
<text x="582.9" y="185" font-size="7.9" fill="#111" textLength="57.5" lengthAdjust="spacingAndGlyphs">log<tspan font-size="5.3" dy="1.8">2</tspan><tspan dy="-1.8">(Fold Change)</tspan></text>
<text x="596.7" y="193.5" font-size="7.5" fill="#111" textLength="30.2" lengthAdjust="spacingAndGlyphs">28d vs 0d</text>
<text transform="translate(536.7 132.9) rotate(-90)" font-size="7.9" fill="#111" textLength="43.4" lengthAdjust="spacingAndGlyphs">-log<tspan font-size="5.3" dy="1.8">10</tspan><tspan dy="-1.8">(Pvalue)</tspan></text>
<g font-size="4.5" font-weight="bold" fill="#333"><circle cx="551" cy="45.4" r="1.95" fill="#22ecfe"/><text x="554.4" y="46.9" textLength="40.8" lengthAdjust="spacingAndGlyphs">Down regulated(1186)</text><circle cx="600.9" cy="45.4" r="1.95" fill="#b9b9b9"/><text x="604.3" y="46.9" textLength="27.2" lengthAdjust="spacingAndGlyphs">Not sig(14665)</text><circle cx="637.2" cy="45.4" r="1.95" fill="#ef0b20"/><text x="640.6" y="46.9" textLength="35.8" lengthAdjust="spacingAndGlyphs">Up regulated(1413)</text></g></g>
<g><path d="M103 229.9V348.1M120.3 229.9V348.1M137.6 229.9V348.1M154.9 229.9V348.1M172.2 229.9V348.1M189.5 229.9V348.1M206.8 229.9V348.1M92.1 347.5H218.4M92.1 333.3H218.4M92.1 319H218.4M92.1 304.8H218.4M92.1 290.5H218.4M92.1 276.3H218.4M92.1 262.1H218.4M92.1 247.8H218.4M92.1 233.6H218.4" stroke="#ebebeb" stroke-width="0.6" fill="none"/>
<path d="M149.1 229.9V348.1M160.7 229.9V348.1M92.1 342.9H218.4" stroke="#9a9a9a" stroke-width="0.5" stroke-dasharray="1 0.8" fill="none"/>
<path d="M157.8 345.9h0M148.8 332.7h0M150.1 344.5h0M151.8 343.1h0M149.8 336.7h0M159.1 344.6h0M160.3 335.3h0M149.1 335.3h0M150.8 347.4h0M153.4 347h0M156.5 347.1h0M148.7 345.1h0M149.5 337.7h0M148.9 345.7h0M149.7 340.4h0M160.7 337.1h0M148.7 345.5h0M150.6 346.4h0M149.6 345.6h0M149.6 347.2h0M151 347.2h0M159.8 344.4h0M151.3 339.8h0M156.3 343h0M150.2 337.9h0M160.2 347.5h0M148.9 333.3h0M149 346.1h0M158.7 342.1h0M157.1 345.5h0M149.4 344.3h0M152.5 345h0M160.9 334.7h0M156.4 345.1h0M150.6 346.7h0M160.4 336.8h0M151.4 346h0M150.4 347.4h0M160.4 339.7h0M148.6 338.7h0M150.9 337.1h0M152.2 342h0M161.1 347.4h0M151.7 340.8h0M160.6 334.8h0M150 339.3h0M160.3 343.6h0M159.9 347.3h0M149.2 333.4h0M150.2 347.5h0M149.2 332.6h0M152.1 339.2h0M153.8 346.9h0M153.1 341.7h0M153.1 342.4h0M148.6 341.7h0M149.7 332.8h0M149.1 346h0M156.1 343.7h0M150.1 347.4h0M149.1 339.7h0M161 345.7h0M154.8 347.1h0M157.4 344.7h0M160 343.4h0M155.9 345.8h0M160.3 345.3h0M149.8 340.1h0M157.8 342.4h0M157.5 347.3h0M160.7 347.2h0M151 340h0M152.5 346.7h0M152 341.7h0M159.3 343h0M160.9 346.8h0M149.1 344.3h0M153.2 347.3h0M160.7 346.6h0M150.1 335.2h0M155.4 346.6h0M152.9 347.3h0M160.4 341.1h0M160.1 346.3h0M159.3 342.4h0M149.3 332.2h0M160.8 336.8h0M158.5 341.2h0M149.4 341.6h0M160.2 344.7h0M153.2 346.6h0M149.7 339.8h0M148.8 342h0M150.4 346.5h0M148.6 346.3h0M158.5 343.5h0M159.5 344.4h0M158.6 344.6h0M156.1 343.8h0M160.2 344.8h0M156.1 346.8h0M156.6 346.1h0M160.6 341h0M161.1 341.7h0M149 346h0M150.4 340h0M158.4 340.7h0M156.9 344.5h0M152.1 343h0M160.3 346.5h0M156.7 344.4h0M157.9 346.1h0M151.3 336.8h0M158.5 347.3h0M151.8 347.5h0M152.8 346.2h0M152.3 347.3h0M160.3 346.8h0M161.2 342.8h0M150.4 342.8h0M150.8 344.6h0M156.1 343.9h0M112.7 345.7h0M121.9 346.7h0M176.3 343.8h0M145.1 345.4h0M124.9 343.3h0M170.3 345.6h0M168.1 345.4h0M135.9 343.7h0M119.4 344.9h0M130.7 345.5h0M106.2 346.7h0M140.3 343.2h0M141.3 345.4h0M144.4 343.3h0M118.3 346.2h0M131.7 343.1h0M131.9 344.1h0M182.5 345.2h0M175 346.4h0M136 346.1h0M156.3 343.8h0M157.8 343h0M146.6 345.7h0M168.1 343.6h0M127.9 344.1h0M132.6 346.6h0M128.3 344.2h0M151.4 343.2h0M116.5 342.9h0M130.1 344.9h0M188.3 346.5h0M178.4 343.2h0M144.4 346.1h0M135.5 343.8h0M165.1 345.1h0M167.3 343h0M169.9 344.2h0M161 345.5h0M161.2 347.2h0M141.1 345.9h0M132.6 346.6h0M145.8 344.5h0M169.2 343h0M154.9 347.1h0M184.9 344.8h0M166.2 345.9h0M125.6 345.9h0M150.1 343h0M184.7 343.6h0M155.7 346h0M134.4 347.2h0M112.3 346.7h0M122.6 345.3h0M167.7 347.4h0M136.3 346.5h0M143.7 344.1h0M146.1 346.8h0M120.5 343h0M124 344h0M140.4 346.8h0M187.6 346.3h0M110.1 347.3h0M151 342.9h0M149.3 343.4h0M109 346.3h0M127 347.1h0M146.9 344.5h0M168.8 343.8h0M139.2 347.3h0M136 343.9h0M157.5 346.2h0M123.4 347.3h0M115.3 342.9h0M173.9 347.5h0M117.6 343.2h0M130.5 343.4h0M149 347.3h0M109.8 346.2h0M143.7 344.8h0M135.5 346.6h0M188.3 344.9h0M135.7 347h0M168.9 343.8h0M177.8 344.2h0M188.5 347.3h0M151.1 346.4h0M189.4 346.8h0M140.5 346.7h0M129.3 344.3h0M186.8 347.3h0M179 343h0M174.4 344.5h0M137.6 347.1h0M108.7 345.7h0M182.6 344.8h0M152.3 344.6h0M162.4 345.9h0M115.7 345h0M144.1 344h0M134.4 345.4h0M183.4 346.8h0M162.4 344.2h0M155.7 344.8h0M169 344.7h0M126.4 345.6h0M148.3 345.8h0M113.7 346.7h0M114.7 345.4h0M121.4 343.3h0M171.5 346.6h0M130 345.3h0M158.9 343.8h0M131.8 343.3h0M162.7 346.2h0M142.7 343.5h0M117.9 345.2h0M155.3 344.4h0M181.9 347.2h0M160.8 344.6h0M145.7 346.9h0M184.1 343.1h0M162.1 346.9h0M126.8 345.1h0M160.9 344.6h0M159.5 346.8h0M127.2 347.1h0M120.1 343.6h0M185.6 344.2h0M173.2 343.8h0M147.9 344.6h0M112.8 343.6h0M179.3 344.3h0M148 343.8h0M161.6 344.7h0M148.7 345.1h0M175 345.2h0M110.6 346.4h0M151.6 344.7h0M114.7 345.6h0M128.2 343.8h0M105.9 346h0M158.3 345.6h0M184 347.4h0M141.5 343.1h0M169.5 347.5h0M106.5 347.2h0M137.7 344.6h0M154.6 346.2h0M111.3 346.5h0M177.2 345.2h0M169.8 343.9h0M150.4 343.6h0M175.1 345.5h0M181.8 346.9h0M141.3 344.8h0M159.4 346.7h0M141.3 347h0M178.3 344h0M132 345.7h0M169.4 347h0M156.2 344.9h0M174 347.3h0M151.4 344.2h0M123.4 347.1h0M161.8 343.8h0M142.6 343.1h0M153.8 345.3h0M118.6 344.9h0M171.8 345.4h0M150 343.6h0M168.9 346.1h0M170.9 345h0M139.8 344.9h0M149.5 342.9h0M148 345.8h0M148.4 340.1h0M171.6 345.5h0M156.8 341.6h0M140.3 344.4h0M155.8 343.1h0M165.5 342.3h0M155.5 347.4h0M165.8 342.7h0M172.2 344.8h0M162 345.2h0M139.6 343.7h0M149.8 343.8h0M157 346.1h0M155.3 340.6h0M154.7 342.1h0M157.3 346.3h0M145.6 345.5h0M156.3 343.3h0M162.7 345.9h0M171.2 347.3h0M156.7 343.4h0M158.7 343.8h0M154.9 342.5h0M156.5 347.4h0M138.3 344.3h0M155.9 343.5h0M139.5 344.8h0M150.9 339.9h0M157.7 343.9h0M160.8 339.8h0M139 346.3h0M142.5 347h0M165.8 344h0M153.2 340.7h0M156.3 340h0M160.2 342.6h0M149.8 347.3h0M171.1 346.9h0M162.4 345.7h0M166.4 346.7h0M156.7 345.4h0M151.8 340.6h0M151.3 342.4h0M164.1 340.9h0M148.9 342.8h0M158.1 341.5h0M156.2 339.9h0M151.5 343.9h0M147.6 345.6h0M158.5 345.6h0M158.3 343.7h0M155.2 341.1h0M156.8 347.2h0M157.2 343.2h0M165.1 346.6h0M138.6 344h0M158.9 346.8h0M140.4 346.9h0M152.1 344.9h0M153.9 346.8h0M140.5 345.5h0M154.4 341.2h0M151.5 344.3h0M108.8 343.9h0M111.6 344.3h0M123.2 345h0" stroke="#b9b9b9" stroke-width="2.6" stroke-linecap="round" fill="none"/>
<path d="M128.7 340.1h0M137.1 331.4h0M134.9 332h0M146 332.5h0M113.6 329.8h0M130.3 342.6h0M148.3 328.1h0M132.2 336.1h0M121.5 328.3h0M143 342.9h0M119.6 332.3h0M135 322.6h0M111.7 338h0M148.4 342.8h0M130.7 333.8h0M146.8 338.4h0M107.5 333.5h0M140 336.6h0M113.4 339.4h0M140.7 337h0M144.1 341.5h0M133.3 342.5h0M125.9 334.1h0M114.6 336.7h0M125.9 342.4h0M138.2 336.8h0M122.2 330.4h0M130.6 339h0M110.4 338.7h0M133.4 341.3h0M119.8 327.7h0M127.6 342.1h0M126 336.7h0M127.1 340.3h0M142.5 329.1h0M128.3 330.2h0M143.1 335.2h0M125.9 340.5h0M120.5 341.3h0M117.3 331.4h0M135 329.5h0M129.3 332h0M110.2 333.3h0M107.9 334.3h0M117.5 342.1h0M148.2 330.7h0M133.1 342.9h0M134.6 325.8h0M121.3 337.1h0M142.4 341.6h0M147 340h0M141.4 323.4h0M112.6 342.7h0M134.8 335.1h0M111 329.7h0M137.8 340h0M144.8 327.1h0M116.6 335.7h0M131.9 342.9h0M112.9 341.6h0M113.7 342.6h0M143.1 328.3h0M110.5 332.6h0M130.8 339.5h0M118.8 338.5h0M137.3 342.6h0M124.7 341.3h0M108.6 338.5h0M147.9 327.9h0M140.5 334.9h0M121.5 324.3h0M115.4 329.3h0M143.9 327.4h0M123.5 342.6h0M129 342.9h0M125.6 341.2h0M117.6 327.2h0M132.4 338h0M113.3 342.6h0M134.2 330.2h0M142.6 340.6h0M123 339.8h0M132.5 339.7h0M130.2 324.7h0M140.2 324.1h0M111.4 331.8h0M118.4 342.7h0M132.2 342.7h0M112.9 342.2h0M135.5 332.4h0M127 340.7h0M125.9 333.8h0M120 339h0M120.8 328.5h0M123.7 334.4h0M146.7 342.9h0M111.7 336.7h0M131.5 335.2h0M116.8 340.8h0M122.8 340.3h0M118.5 336.1h0M146.8 335.6h0M123 325.6h0M124.4 332.8h0M113.7 335.1h0M123.7 340.4h0M107.1 333.7h0M122.9 327.6h0M114.5 339.2h0M132.8 326.8h0M114.4 341.6h0M135.4 340.5h0M129.2 341h0M142.8 325.3h0M144.9 339h0M125.6 327.7h0M146.7 329.1h0M141.9 333.9h0M147.6 342h0M132.4 331.9h0M138.1 338.2h0M115.1 328h0M127.4 341.7h0M118.7 328.1h0M139 332.9h0M120 331.2h0M112.6 338.2h0M130.9 332.3h0M132.2 341.7h0M133.7 328.3h0M143.4 331.9h0M119.1 332.4h0M108.7 342.6h0M107.9 335.3h0M126.5 337.5h0M96.7 298.4h0M99.5 299.4h0M97.8 306.6h0M103.6 302.6h0M104.7 295.5h0M105.9 296.2h0M103.6 312.3h0M116.8 295.5h0M117.4 315.8h0M118 315.1h0M122.6 298.4h0M124.9 291.6h0M129.5 284.1h0M124.9 308.3h0M134.7 316.9h0M136.4 314.4h0M108.8 320.8h0M109.3 324.4h0" stroke="#22ecfe" stroke-width="2.6" stroke-linecap="round" fill="none"/>
<path d="M162.1 327.8h0M180.1 342.7h0M186.1 342.9h0M189.9 342.8h0M178.5 340.6h0M166.5 322.5h0M172.2 341.7h0M180.3 342.5h0M188.1 340.2h0M179.1 325.1h0M176.8 323.4h0M182.5 329.6h0M165.8 336.8h0M188.2 342.3h0M188.6 328.8h0M169.5 342.3h0M187.6 329.5h0M165.3 342.8h0M186.5 342.4h0M163.8 330.8h0M172.4 323.1h0M177.4 342.1h0M189.8 333.9h0M191.9 338.2h0M173.6 338.2h0M179.4 342.8h0M161.8 325.8h0M167 341.5h0M165.2 333.1h0M172.2 342.4h0M183.4 342.5h0M169.4 328.7h0M179.1 342.3h0M191.9 341.6h0M178.9 342.5h0M186 333.9h0M173 320.8h0M179.4 342.2h0M183.1 334.9h0M192.8 341.9h0M162.7 341.5h0M166.6 342.4h0M185.3 342.6h0M163.6 342.6h0M193.7 342.2h0M189.2 338.4h0M172 337.4h0M173.4 342.9h0M189.4 330.2h0M179.6 337.6h0M178.4 342.7h0M187.5 333.6h0M174 341.2h0M177.1 334.1h0M162.2 335.9h0M188.3 331.6h0M163.2 339.5h0M183.7 332.2h0M163.7 333h0M168.4 342.8h0M169 320.9h0M163.2 337.5h0M186.6 332.8h0M163.2 334.6h0M189.1 342.1h0M183.4 337.5h0M186.4 331.5h0M181.4 342.6h0M179 342.8h0M187.2 327.4h0M180.7 339.9h0M179.5 342.8h0M164.9 341.9h0M171.3 337.3h0M170.5 329.1h0M161 334.3h0M188.2 337.3h0M171.4 341.6h0M172.4 326.2h0M166.9 336.8h0M181.9 338.5h0M181.9 342.9h0M169.8 335.4h0M172.3 322.8h0M180.2 337.9h0M184.7 331h0M176.6 335h0M176.2 340.8h0M185.2 336.6h0M168.9 342.2h0M183.2 342.2h0M169.9 330.2h0M178.8 341.9h0M176.7 342.9h0M175.7 342.7h0M186.2 342.3h0M174 335h0M180.2 325.4h0M172 328.6h0M172.8 328.1h0M172.1 323.6h0M164.9 319.4h0M176.8 326h0M190.2 342.6h0M177.2 341h0M178.9 342.7h0M182.7 342.6h0M162.1 342.6h0M166.6 319.1h0M170 338.8h0M170.9 325.6h0M188.1 342.8h0M175.8 336.6h0M185.4 327.5h0M188.3 330.3h0M173.4 238.6h0M199.3 239.6h0M170.5 287h0M171.6 295.5h0M182.6 298.7h0M181.4 301.9h0M162.4 305.8h0M164.1 310.8h0M184.3 314.4h0M175.1 316.9h0M175.7 317.6h0M194.7 325.8h0M195.8 327.6h0M198.2 331.1h0M166.4 313.7h0M167.6 319h0" stroke="#ef0b20" stroke-width="2.6" stroke-linecap="round" fill="none"/>
<rect x="92.1" y="229.9" width="126.3" height="118.2" fill="none" stroke="#d6d6d6" stroke-width="0.8"/>
<path d="M103 348.1v1.5M120.3 348.1v1.5M137.6 348.1v1.5M154.9 348.1v1.5M172.2 348.1v1.5M189.5 348.1v1.5M206.8 348.1v1.5M92.1 347.5h-1.5M92.1 333.3h-1.5M92.1 319h-1.5M92.1 304.8h-1.5M92.1 290.5h-1.5M92.1 276.3h-1.5M92.1 262.1h-1.5M92.1 247.8h-1.5M92.1 233.6h-1.5" stroke="#333" stroke-width="0.5" fill="none"/>
<g font-size="5.15" fill="#111"><text x="103" y="354.4" text-anchor="middle">-9</text><text x="120.3" y="354.4" text-anchor="middle">-6</text><text x="137.6" y="354.4" text-anchor="middle">-3</text><text x="154.9" y="354.4" text-anchor="middle">0</text><text x="172.2" y="354.4" text-anchor="middle">3</text><text x="189.5" y="354.4" text-anchor="middle">6</text><text x="206.8" y="354.4" text-anchor="middle">9</text><text x="90.5" y="349.5" text-anchor="end">0</text><text x="90.5" y="335.3" text-anchor="end">4</text><text x="90.5" y="321" text-anchor="end">8</text><text x="90.5" y="306.8" text-anchor="end">12</text><text x="90.5" y="292.5" text-anchor="end">16</text><text x="90.5" y="278.3" text-anchor="end">20</text><text x="90.5" y="264.1" text-anchor="end">24</text><text x="90.5" y="249.8" text-anchor="end">28</text><text x="90.5" y="235.6" text-anchor="end">32</text></g>
<text x="126.7" y="362.6" font-size="7.9" fill="#111" textLength="57.5" lengthAdjust="spacingAndGlyphs">log<tspan font-size="5.3" dy="1.8">2</tspan><tspan dy="-1.8">(Fold Change)</tspan></text>
<text x="142.2" y="371.1" font-size="7.5" fill="#111" textLength="26.6" lengthAdjust="spacingAndGlyphs">3d vs 0d</text>
<text transform="translate(80.4 310.7) rotate(-90)" font-size="7.9" fill="#111" textLength="43.4" lengthAdjust="spacingAndGlyphs">-log<tspan font-size="5.3" dy="1.8">10</tspan><tspan dy="-1.8">(Pvalue)</tspan></text>
<g font-size="4.5" font-weight="bold" fill="#333"><circle cx="99.2" cy="223.3" r="1.95" fill="#22ecfe"/><text x="102.6" y="224.8" textLength="38.8" lengthAdjust="spacingAndGlyphs">Down regulated(183)</text><circle cx="147.1" cy="223.3" r="1.95" fill="#b9b9b9"/><text x="150.5" y="224.8" textLength="22.6" lengthAdjust="spacingAndGlyphs">Not sig(689)</text><circle cx="178.8" cy="223.3" r="1.95" fill="#ef0b20"/><text x="182.2" y="224.8" textLength="33.4" lengthAdjust="spacingAndGlyphs">Up regulated(132)</text></g></g>
<g><path d="M250.5 229.5V348.1M264.8 229.5V348.1M279.2 229.5V348.1M293.5 229.5V348.1M307.9 229.5V348.1M322.3 229.5V348.1M336.6 229.5V348.1M351 229.5V348.1M365.3 229.5V348.1M244.4 347.5H371.4M244.4 335.2H371.4M244.4 322.8H371.4M244.4 310.5H371.4M244.4 298.1H371.4M244.4 285.8H371.4M244.4 273.4H371.4M244.4 261.1H371.4M244.4 248.7H371.4M244.4 236.4H371.4" stroke="#ebebeb" stroke-width="0.6" fill="none"/>
<path d="M303.1 229.5V348.1M312.7 229.5V348.1M244.4 342.1H371.4" stroke="#9a9a9a" stroke-width="0.5" stroke-dasharray="1 0.8" fill="none"/>
<path d="M311.9 338.2h0M312.7 337.1h0M306.2 345.7h0M310.5 342.3h0M306.3 345.2h0M311.2 345.9h0M309.2 342.7h0M310.4 343.8h0M312.8 333.6h0M310 345.1h0M305.7 347h0M303.8 336.9h0M308.8 347h0M303.2 344.1h0M310.3 343.4h0M303.4 343.7h0M312.9 345.3h0M312.3 347.1h0M307.8 344.6h0M306.2 347.4h0M311.9 346.8h0M313.1 339.2h0M311.5 343.4h0M302.7 336.6h0M303.2 334h0M309.6 345.8h0M304.6 344.8h0M311.2 345.8h0M303.5 336.4h0M303 339.7h0M309.8 341.6h0M302.9 344.2h0M307.4 345.4h0M303.4 345.7h0M311.9 339.3h0M303.6 337.4h0M310.5 347.2h0M312 344.4h0M308.6 344.4h0M310 344.2h0M312.9 338.4h0M313 342h0M303.6 338.8h0M305.4 345.1h0M304.8 335.8h0M302.8 334.1h0M310.3 344.4h0M308.8 342.1h0M302.8 342.9h0M307.4 346.5h0M304.6 335.2h0M312.8 338h0M304.3 346.8h0M312.2 347.3h0M307.5 347.1h0M312.7 337.2h0M311.5 343.7h0M304.9 342.7h0M311.3 340.3h0M303.6 342.3h0M306.7 342.8h0M306.2 347.1h0M304.6 345.3h0M309.9 341.9h0M303.8 341.6h0M303.5 341.1h0M303.9 340.2h0M312.9 331.8h0M307.7 347.2h0M308.4 345.6h0M311.3 346.8h0M305.7 346.6h0M305.6 343.4h0M302.9 346.9h0M311.6 347.5h0M310.7 346.2h0M312.9 331.7h0M305.9 342.1h0M313.1 343.1h0M307 343.3h0M304.7 347.5h0M304.9 343.1h0M305 346h0M304.1 334.2h0M310.2 341.8h0M307 343.5h0M313.1 339.6h0M303.5 335.4h0M307.1 344h0M306.8 343.2h0M309.8 346.5h0M306.1 346.2h0M306.3 344.9h0M303.6 346.3h0M304.3 343.5h0M311.5 335.6h0M310.9 347h0M312.9 347.2h0M304.4 343.8h0M304 344.5h0M303 336.1h0M304.4 339.6h0M304.5 342.6h0M306.3 347h0M310.7 340.1h0M307.1 346.4h0M304 345.3h0M309.2 343.4h0M304.7 336.2h0M313 342h0M312.8 347.5h0M303.9 335.2h0M308.9 347.2h0M308.5 345.3h0M312.2 336.5h0M306.5 346.8h0M310.6 346.8h0M312.4 339.9h0M312.5 346.6h0M304.9 345h0M287.8 342.5h0M308.5 344.9h0M277.4 347.3h0M303.5 343.9h0M295.4 347h0M299 346.8h0M324.3 345.2h0M277.9 346.9h0M274.7 346.7h0M305.5 342.9h0M280.4 343.5h0M302.6 344.6h0M283.5 343.9h0M309.6 343.1h0M317.6 345.3h0M317.5 346.9h0M291.1 344.2h0M276.4 346.7h0M301.4 342.2h0M303.5 346.1h0M287.1 345.8h0M279 347.1h0M295.7 345.4h0M293.1 346.5h0M327.1 345h0M299.3 344.9h0M270.9 342.8h0M267.3 344.7h0M292.1 344.8h0M271.3 343h0M293.8 342.9h0M319.6 344h0M284.4 343.6h0M272.9 345.9h0M282.3 347.1h0M275.7 345.4h0M302.8 345.7h0M323.1 347.1h0M329.9 344.7h0M314.5 344h0M272.8 347.3h0M323.2 346.2h0M324.2 344.1h0M274.3 344.9h0M312 343h0M305 345.8h0M272.6 343.4h0M292 344.2h0M271.5 345.2h0M305.7 347h0M297.8 346.9h0M327.5 342.6h0M277.9 346.3h0M300.3 345.9h0M304.8 344.1h0M297 342.6h0M329.1 346.2h0M326.4 345.8h0M305.6 347h0M304.2 343.5h0M277.4 345.3h0M300.8 347.5h0M319.8 344.1h0M284.6 346.3h0M299.9 343.8h0M314.2 346.7h0M311 343.4h0M277 345.8h0M327.5 346.3h0M283.5 343.2h0M310.6 346.6h0M276.6 344.7h0M299.4 342.8h0M300.8 346h0M280.1 346.9h0M282.5 346.9h0M294.6 344.2h0M268.3 343.8h0M275.8 345.3h0M292.8 344.3h0M286 347h0M283.1 342.9h0M326.3 345.1h0M315.8 343.1h0M326.3 345.4h0M274.7 347h0M301.3 345.2h0M331.3 344.2h0M324.7 345.9h0M294.5 342.7h0M328.4 344.9h0M293.5 343.9h0M292.6 346.7h0M309.2 346.8h0M278.6 344.5h0M309.3 342.4h0M294 343.9h0M330.6 344.7h0M298.2 343.3h0M297.7 347.3h0M273.3 343.1h0M299.9 344.1h0M281.3 346.2h0M284.8 345.4h0M323.1 344.9h0M281.2 346.8h0M326 342.9h0M328.3 346.5h0M279.4 342.8h0M278.6 344.8h0M320.6 346.8h0M307.3 347h0M306.5 344h0M311.9 343.1h0M312.5 343.9h0M287.4 346.5h0M314 344.3h0M314.4 347.3h0M299.3 346h0M303.3 344h0M312.9 343.4h0M329.5 345.7h0M319.5 345.2h0M324.3 343.4h0M295.9 346.5h0M315.9 345.9h0M308.5 342.6h0M291.9 345.2h0M312.8 344.4h0M300.2 342.6h0M280.7 347.4h0M274.1 345.4h0M291 343.7h0M284.9 345h0M324.4 342.2h0M284.3 343.2h0M314 346.8h0M323.3 347.1h0M303.7 343.7h0M291.7 342.5h0M312.4 344.4h0M289.2 347.3h0M288.8 345.4h0M328.9 344.3h0M305.3 346.2h0M322.8 346.3h0M300 345.5h0M310.4 343.2h0M292.1 345.6h0M279.3 346.8h0M277.2 342.5h0M289.7 346.7h0M317.4 345.9h0M303.7 347h0M328.8 345h0M302.6 346.9h0M330.5 344.2h0M314.5 347.1h0M269 344.4h0M302.4 344.7h0M311 346.2h0M302.7 347.4h0M305.6 345.2h0M304.6 346.5h0M310.1 346.6h0M299.1 342.4h0M292.5 342.8h0M313.7 342.4h0M307 346.6h0M318.8 343.1h0M306.7 342.7h0M304.3 340.5h0M315.5 343h0M298.3 341.3h0M306.4 347.1h0M315.7 347.4h0M305 345.4h0M311.5 344.5h0M297 344.5h0M307.3 345.3h0M294.4 341.8h0M300.3 342.6h0M301.1 345.2h0M308.1 344.8h0M301.6 343.1h0M309.7 346.9h0M312.2 340h0M305.5 343.2h0M295.9 341.1h0M307.6 339.2h0M316.7 346.3h0M311.5 347.1h0M303.6 343.1h0M307.7 342h0M309.4 346.3h0M316.6 340.4h0M296.3 342.1h0M317.7 342.5h0M297.2 341.8h0M309.6 341h0M295 344.4h0M311.3 347.1h0M302.7 345h0M316.2 343.7h0M303.8 344.6h0M296.3 342h0M293.8 345h0M303.5 344.7h0M295.6 342.5h0M300.7 341h0M321.4 344.8h0M294.9 342.2h0M310 344.7h0M308.6 342.9h0M311.8 338.7h0M313.6 339.6h0M319.4 343.8h0M298.2 342.8h0M302.3 341.6h0M294.6 346.1h0M304 340.2h0M320.1 346.3h0M295.1 344.4h0M315.3 345.8h0M316.9 345.8h0M311.4 345h0M305.3 342.6h0M304.7 342.7h0M301.1 339.9h0M294.3 345.8h0M310.1 345.5h0M315.2 346.2h0M310.9 338.5h0M312.7 339.9h0M299.3 345.6h0M301.5 342.3h0M304.4 343.2h0M306.8 344.4h0M316.5 346.5h0M305.2 340.6h0" stroke="#b9b9b9" stroke-width="2.6" stroke-linecap="round" fill="none"/>
<path d="M278.5 326.6h0M300.4 336.1h0M281.9 338.1h0M285.2 336.6h0M286.4 337.6h0M299.4 326.2h0M291.3 342h0M281 334h0M289.6 333.7h0M286.5 332.5h0M298.1 324.5h0M275 332.7h0M277.1 328.4h0M278.1 326.7h0M276.1 341.9h0M294.4 340.5h0M289.5 341.9h0M299.2 335.6h0M279.2 330.4h0M291.5 342h0M298.3 330h0M275.5 331.3h0M284.1 342.1h0M284.1 339.1h0M277.2 342h0M298.7 341.2h0M289.8 330.8h0M297.8 326h0M290.7 341.6h0M288.4 327.1h0M295.5 337.6h0M297.2 328.8h0M298.2 321.4h0M298.4 326.5h0M294.6 330.6h0M275.7 337.1h0M279.4 330.9h0M296.8 332.8h0M284.3 333.1h0M289.2 327.6h0M295.4 321.2h0M286.6 335.7h0M299.1 340.9h0M302.6 335h0M288.7 322.7h0M278.3 327.8h0M275.3 331.8h0M298.1 327.8h0M290.1 334.5h0M293 319.1h0M283.8 342h0M301 331.6h0M296.5 328.7h0M276.8 329.7h0M281.6 339.6h0M283.9 328.7h0M279.1 334.7h0M285.6 332.3h0M288.7 324.7h0M284.6 320.6h0M289.1 333.4h0M293.7 341.3h0M276.7 336.6h0M279 323.6h0M290 341.7h0M275.8 340.9h0M300.9 333.1h0M286.6 339.9h0M295.9 342.1h0M284.4 330.8h0M294.6 338.4h0M289.5 329.2h0M285.2 337.6h0M275.8 342h0M297.5 325.4h0M284.8 337.5h0M286.2 332.6h0M281.8 332.9h0M274.5 323.7h0M290.4 339h0M280.1 327.1h0M294.5 340h0M300.1 341.5h0M279.5 332.7h0M286.2 337.4h0M289.9 332.3h0M275.2 331.2h0M285.2 339h0M302.1 334.6h0M274.8 340.2h0M298.3 331.3h0M284.4 341.7h0M285.3 325.6h0M300.7 324.5h0M298.4 340.3h0M281.9 339.2h0M282.8 324.6h0M274.5 331.8h0M283 335.4h0M286.2 319.6h0M281.5 340.6h0M274.8 328.6h0M297.5 326.2h0M290.7 320.2h0M292.4 341.9h0M291.8 325.5h0M293.4 327.9h0M280.2 323.5h0M280.7 341.3h0M287.5 336.8h0M289.3 340.3h0M277.2 329.9h0M285.3 326.3h0M288.2 332.4h0M290.5 336.6h0M251.4 290.3h0M254.3 285.4h0M256.7 286.6h0M261.5 292.4h0M252.8 310.9h0M260.5 300.6h0M263.9 300.6h0M269.6 282.1h0M264.8 306.8h0M266.3 310.9h0M285.9 271.8h0M286.4 299.4h0M276.8 311.3h0M294 310.1h0M270.6 317h0M272 320.8h0" stroke="#22ecfe" stroke-width="2.6" stroke-linecap="round" fill="none"/>
<path d="M325.3 340.9h0M317.3 322.8h0M324.2 340.1h0M337.4 329.2h0M325.7 341.1h0M313.1 336.5h0M329.2 340.5h0M331.6 327.8h0M331.3 342.1h0M314.2 327.7h0M333.7 329.1h0M320.1 339.9h0M335.7 340.2h0M337 340.1h0M321.6 334.6h0M327.6 338.9h0M319.2 342.1h0M315 329.5h0M315.7 338.9h0M333.9 329h0M326.1 339.3h0M320 341.9h0M320 316.5h0M335.2 333.5h0M316 342.2h0M327.2 341.3h0M313.6 330.1h0M334.9 342h0M336.5 333.2h0M316.5 330.6h0M331.8 341.3h0M322.7 339.7h0M318.1 340.4h0M333.7 330h0M330.7 342.1h0M322.6 326.9h0M324 341.6h0M318.1 340.3h0M336.5 332.4h0M327 319.2h0M314.4 330.4h0M317.8 340.2h0M334.8 341.8h0M328.4 331.4h0M320.9 315h0M321 339.7h0M321.6 325.8h0M313.1 341.7h0M324.1 318.8h0M328.7 328.3h0M324.5 334.8h0M333.2 328.7h0M317.8 337.4h0M334.1 332.9h0M327.2 341.8h0M320 323.9h0M316.1 336.8h0M313.2 317.6h0M325.1 340.7h0M335.9 340.9h0M329.2 326.2h0M320.2 342.1h0M327.7 328.9h0M313.8 341.7h0M324.6 340.9h0M332.9 326.4h0M334.2 326.2h0M314.6 317.5h0M314 319.8h0M314 317.4h0M331.9 329.8h0M331.7 342.1h0M314.2 340.2h0M327.6 342.1h0M313.1 315h0M334.9 334.7h0M335.3 339.6h0M327.3 341.8h0M337 334.3h0M321.1 341.5h0M313.8 332.8h0M320.6 316.7h0M326.2 337.9h0M327.7 336h0M330.1 325.7h0M327.8 337.1h0M334 331h0M322.7 338.5h0M313.7 341h0M322.5 342.1h0M334.1 341.9h0M333.6 342h0M324.6 337.7h0M323.1 339.4h0M319.8 339.5h0M329.6 342.1h0M324.4 339.8h0M326.3 336.1h0M323.8 340.5h0M328.6 333.8h0M314.7 339.1h0M316.1 314.9h0M325.4 338.7h0M325.6 340.3h0M332.3 342.1h0M318.9 325.8h0M321.9 325.3h0M325.5 336.1h0M334.1 342h0M326 320h0M341.9 239.7h0M332.3 258.2h0M320.3 265.2h0M319.9 285.8h0M320.3 284.5h0M320.8 292.4h0M324.7 298.9h0M323.7 302.2h0M326.6 302.2h0M328.5 306.4h0M313.6 302.2h0M342.4 320.8h0M343.8 324.5h0M344.3 340.5h0M327 310.5h0M329.9 312.5h0" stroke="#ef0b20" stroke-width="2.6" stroke-linecap="round" fill="none"/>
<rect x="244.4" y="229.5" width="127" height="118.6" fill="none" stroke="#8f8f8f" stroke-width="1"/>
<path d="M250.5 348.1v1.5M264.8 348.1v1.5M279.2 348.1v1.5M293.5 348.1v1.5M307.9 348.1v1.5M322.3 348.1v1.5M336.6 348.1v1.5M351 348.1v1.5M365.3 348.1v1.5M244.4 347.5h-1.5M244.4 335.2h-1.5M244.4 322.8h-1.5M244.4 310.5h-1.5M244.4 298.1h-1.5M244.4 285.8h-1.5M244.4 273.4h-1.5M244.4 261.1h-1.5M244.4 248.7h-1.5M244.4 236.4h-1.5" stroke="#333" stroke-width="0.5" fill="none"/>
<g font-size="5.15" fill="#111"><text x="250.5" y="354.4" text-anchor="middle">-12</text><text x="264.8" y="354.4" text-anchor="middle">-9</text><text x="279.2" y="354.4" text-anchor="middle">-6</text><text x="293.5" y="354.4" text-anchor="middle">-3</text><text x="307.9" y="354.4" text-anchor="middle">0</text><text x="322.3" y="354.4" text-anchor="middle">3</text><text x="336.6" y="354.4" text-anchor="middle">6</text><text x="351" y="354.4" text-anchor="middle">9</text><text x="365.3" y="354.4" text-anchor="middle">12</text><text x="242.8" y="349.5" text-anchor="end">0</text><text x="242.8" y="337.2" text-anchor="end">3</text><text x="242.8" y="324.8" text-anchor="end">6</text><text x="242.8" y="312.5" text-anchor="end">9</text><text x="242.8" y="300.1" text-anchor="end">12</text><text x="242.8" y="287.8" text-anchor="end">15</text><text x="242.8" y="275.4" text-anchor="end">18</text><text x="242.8" y="263.1" text-anchor="end">21</text><text x="242.8" y="250.7" text-anchor="end">24</text><text x="242.8" y="238.4" text-anchor="end">27</text></g>
<text x="279.3" y="362.6" font-size="7.9" fill="#111" textLength="57.5" lengthAdjust="spacingAndGlyphs">log<tspan font-size="5.3" dy="1.8">2</tspan><tspan dy="-1.8">(Fold Change)</tspan></text>
<text x="294.9" y="371.1" font-size="7.5" fill="#111" textLength="26.6" lengthAdjust="spacingAndGlyphs">7d vs 0d</text>
<text transform="translate(232.7 310.5) rotate(-90)" font-size="7.9" fill="#111" textLength="43.4" lengthAdjust="spacingAndGlyphs">-log<tspan font-size="5.3" dy="1.8">10</tspan><tspan dy="-1.8">(Pvalue)</tspan></text>
<g font-size="4.5" font-weight="bold" fill="#333"><circle cx="251.8" cy="222.9" r="1.95" fill="#22ecfe"/><text x="255.2" y="224.4" textLength="38.8" lengthAdjust="spacingAndGlyphs">Down regulated(170)</text><circle cx="299.7" cy="222.9" r="1.95" fill="#b9b9b9"/><text x="303.1" y="224.4" textLength="22.6" lengthAdjust="spacingAndGlyphs">Not sig(504)</text><circle cx="331.5" cy="222.9" r="1.95" fill="#ef0b20"/><text x="334.9" y="224.4" textLength="33.4" lengthAdjust="spacingAndGlyphs">Up regulated(130)</text></g></g>
<g><path d="M410.7 229.9V348.1M423.4 229.9V348.1M436.1 229.9V348.1M448.8 229.9V348.1M461.5 229.9V348.1M474.2 229.9V348.1M486.9 229.9V348.1M499.6 229.9V348.1M512.3 229.9V348.1M398 347.5H524.5M398 335.6H524.5M398 323.7H524.5M398 311.9H524.5M398 300H524.5M398 288.1H524.5M398 276.2H524.5M398 264.3H524.5M398 252.5H524.5M398 240.6H524.5" stroke="#ebebeb" stroke-width="0.6" fill="none"/>
<path d="M455.1 229.9V348.1M467.9 229.9V348.1M398 342.3H524.5" stroke="#9a9a9a" stroke-width="0.5" stroke-dasharray="1 0.8" fill="none"/>
<path d="M454.7 332.9h0M455.3 334.4h0M464.9 343.5h0M456.4 342h0M455.6 334.6h0M457 347.4h0M464.8 346.5h0M464.9 342.7h0M460.4 347.1h0M457.4 344.9h0M467 346.6h0M458.3 339.4h0M467.8 330.5h0M457.9 344.4h0M463.7 343.5h0M455.4 340.1h0M464.5 341h0M465 346.1h0M463.4 342.6h0M458.4 345.3h0M462 346.8h0M456.9 347.5h0M456.7 341.7h0M455 338.9h0M460.3 346.3h0M459.2 340.6h0M466.3 335.8h0M467.9 343.5h0M468 344.1h0M459.6 343.6h0M466.9 347.4h0M462.9 344.4h0M463.7 345.5h0M457.4 346.9h0M468.2 334.2h0M454.7 335.3h0M467.2 331.1h0M468.1 342.2h0M467.3 346.2h0M465.3 343h0M456.4 336.2h0M463.5 347.1h0M464.7 344.6h0M463.2 347.2h0M461.3 346.7h0M459.9 347.3h0M467.3 346h0M461.5 345.6h0M466.9 335h0M468.2 341.8h0M464.9 345.4h0M462.8 341.4h0M467.5 338.6h0M455.8 345.9h0M466.5 346.6h0M466.6 347.5h0M456.2 339.7h0M466.1 347.2h0M457.7 345h0M463.6 339.7h0M457.7 345.8h0M464.7 346.7h0M455.6 334.3h0M455.4 344.2h0M466.5 333h0M468.3 335.9h0M460.4 347.3h0M467.3 340.9h0M456.7 335.3h0M462.5 347.5h0M456 334.8h0M467.8 335.9h0M457.2 338.3h0M467 336h0M465.6 342.3h0M462.1 347.5h0M458.8 347.3h0M464.3 344h0M455 339.6h0M455.2 346.5h0M454.7 341.5h0M458 338.7h0M457.6 343.7h0M457.9 342.5h0M465.9 346.7h0M462.2 346.7h0M467.5 337.7h0M456.1 332.1h0M455.6 346.6h0M457.4 334.9h0M454.5 340.5h0M457.5 339h0M468.4 328h0M462.1 347.5h0M455.5 332.5h0M462.7 344.1h0M466.3 334.7h0M455.2 336.8h0M466.8 345h0M468.1 343.2h0M467.6 334.8h0M465.9 345.6h0M461.9 346.5h0M467.7 342.1h0M458.6 346.9h0M463.4 341.4h0M462.3 343h0M463.4 347.2h0M468 346.2h0M455.9 347.3h0M465.6 338.7h0M456.9 347.4h0M465.3 346h0M457.6 336.2h0M466.5 344.7h0M465.3 343.7h0M456.3 339.9h0M460.4 346.9h0M458.7 339h0M457 343h0M463.6 346.6h0M436.6 347.1h0M431 344.8h0M463.3 344.8h0M433.6 343h0M430.7 343.9h0M455 344.8h0M472.2 346.6h0M427.2 346.7h0M472 344.5h0M456.8 347.1h0M430.8 342.6h0M465.3 347h0M428.5 343h0M464.9 343.4h0M423.5 343.7h0M457.8 345.6h0M486.4 346h0M427.5 344.2h0M435.1 345.9h0M481.4 342.6h0M484.1 346.8h0M456.3 345.2h0M454 343.4h0M466.7 345.7h0M439.9 346.6h0M452 346.2h0M459.7 344.9h0M445.5 343.2h0M446 343.6h0M484.9 346.9h0M475.3 347.5h0M456.4 347.3h0M463 345.9h0M468.3 345.9h0M474.2 345.6h0M429 343.1h0M454 343.5h0M433.6 344h0M430.9 342.6h0M431.8 342.5h0M479 346.6h0M441.8 344.6h0M424 347.3h0M459.2 344.8h0M446.9 343.2h0M452.4 342.5h0M428.5 342.5h0M473.8 345.7h0M475.7 343.7h0M444.8 346.3h0M438.6 345.7h0M487 347.5h0M489 345.3h0M476.8 344.7h0M484.2 347.4h0M463.3 346.4h0M460.1 344.6h0M460.4 344.4h0M447.7 346.3h0M477.7 347.2h0M425.6 343.8h0M421.5 347.2h0M458.5 345.6h0M426.3 342.5h0M449.2 347.1h0M486 346.1h0M463.1 344.1h0M464.4 345.2h0M443.3 342.6h0M433.4 344.1h0M450.5 345.5h0M484.4 344h0M483.5 343.9h0M437.4 345.3h0M459.8 346.8h0M436.6 342.9h0M434.7 344.9h0M425.6 347.3h0M429.8 346.1h0M469.6 346.1h0M450.4 343.8h0M447.6 345.3h0M429.9 345.8h0M464.3 344.9h0M455 342.5h0M469.9 344.7h0M477.6 342.9h0M444.8 343.6h0M483 345.4h0M427.8 346.6h0M485 344.3h0M489.2 344.4h0M470.9 346.1h0M487.7 347.1h0M484.4 346.5h0M445.7 342.4h0M436.8 343.5h0M451.7 346.7h0M481.8 343.4h0M469.3 346.7h0M457 347h0M454.5 346.6h0M475 343.2h0M470.2 344.5h0M477.4 346.6h0M466.2 343.7h0M468 345h0M469.8 343.6h0M472.5 345h0M424.8 344.6h0M441.2 343.8h0M422.5 346h0M440.2 346h0M483.7 346h0M489.4 346.1h0M430.1 344.1h0M456.5 343.2h0M435.9 342.5h0M431.9 346.6h0M423 343.8h0M482.1 345.4h0M421.2 344.4h0M432.8 346.3h0M452.1 343.6h0M469.7 343.2h0M474.6 347h0M482.2 344.5h0M468.8 342.5h0M440.9 344.3h0M432.8 345h0M467.1 344.1h0M427.1 343.2h0M482.9 343.8h0M436.7 347.5h0M429.5 345.4h0M471.6 345.6h0M437.2 346.4h0M430.6 342.5h0M486.2 347.4h0M430.9 346h0M477.4 342.9h0M468.9 343.9h0M436.9 344.2h0M473.6 342.6h0M478.5 347.5h0M462 345.8h0M456.2 347h0M451 344.6h0M450.6 343.1h0M439.6 342.7h0M462.5 345.7h0M424.3 347.1h0M465.9 346h0M423.1 345.5h0M468 346.1h0M450.8 346.7h0M486.5 344.7h0M447.3 343h0M451.4 344.9h0M473.7 345.6h0M442.3 343.4h0M458 345.7h0M456 343.8h0M435.5 345.3h0M428.4 346.1h0M434.8 344h0M464.3 342.9h0M478.7 343.3h0M472.6 346.4h0M455.9 346.3h0M479.3 342.8h0M479.2 342h0M455.4 343.3h0M457.6 338.9h0M459.3 343.1h0M466 342.8h0M457.1 347.4h0M470.7 343.4h0M462.4 342.6h0M474.8 341.1h0M458.6 338.8h0M478.8 342.2h0M470.4 343.8h0M461.2 344.7h0M444.2 347.3h0M464.6 345.1h0M478 346.8h0M452 341.3h0M443.2 346.6h0M453.8 339.2h0M471.9 346.1h0M470.4 344.1h0M451.4 344.4h0M445.3 345.2h0M474.1 342.3h0M479.1 342.1h0M480.2 344.2h0M448 345.3h0M449.7 341.4h0M457 341.8h0M469.3 339.2h0M472.3 345.3h0M452.6 343.2h0M454 344.7h0M474.2 344.1h0M444.9 346.4h0M465.6 338.8h0M466 345.3h0M461.4 341.5h0M448.6 343.7h0M453.4 339.6h0M444.9 343h0M479 342.2h0M463.7 343h0M474.2 346.5h0M457.3 341.5h0M468.1 343.7h0M473.2 345.6h0M472.2 341.7h0M470.6 346h0M459.2 344.9h0M478.5 343.8h0M453.7 340h0M468.8 344.6h0M449 345.5h0M463.4 340.1h0M444.3 346.8h0M476.3 343.2h0M449.9 344h0M445.4 345h0M474.8 345.5h0M456 342.3h0M451.7 346.7h0M454.5 342.1h0M446.4 344.8h0M444.7 343.5h0M464.6 340.1h0M458.7 339.1h0M449.6 346.4h0" stroke="#b9b9b9" stroke-width="2.6" stroke-linecap="round" fill="none"/>
<path d="M431.6 331.7h0M439.6 330.3h0M447.7 341.2h0M444.9 329.2h0M449 331h0M454.6 341.1h0M432.2 331.2h0M450.5 337.6h0M431.5 333h0M454.1 340.9h0M443.4 340.3h0M440.7 341h0M443.6 335.3h0M447.7 327.1h0M451.7 329.2h0M443.2 325.9h0M444.8 323.9h0M432.2 336.6h0M448.5 324.9h0M437.4 340.4h0M435.9 333.2h0M443.5 336.6h0M436.5 338.6h0M445 341.9h0M447.3 332h0M445.1 337.8h0M442.2 328.6h0M446 341.5h0M437.7 342.3h0M438.4 339.8h0M446.5 340.8h0M444.1 339.9h0M435.2 331.1h0M431.7 339.7h0M438.2 330.1h0M435.5 336.8h0M435.7 338.9h0M433.9 332.5h0M446 324.8h0M442.8 336.2h0M438.5 331.4h0M432 342.1h0M439.3 338.4h0M440.7 337.7h0M451.6 336.9h0M441.9 338.6h0M442.2 341.5h0M441.6 340.8h0M441.4 332h0M452.7 330.5h0M451.2 336.2h0M444.2 342.3h0M436.2 338.1h0M444.7 340.4h0M439.3 340.4h0M454.7 342h0M431.7 332.6h0M434.1 334.4h0M444.1 339.7h0M432.7 335.8h0M444.9 341.1h0M432.1 331.5h0M442.8 333.8h0M436 328.6h0M447.1 328.8h0M443.1 261.6h0M408.8 308.7h0M434.2 309.9h0M451.3 304.3h0M452 307.9h0M452.6 317h0M413.9 328.5h0M416.4 334h0M414.5 338.8h0M422.1 336h0M418.3 323.3h0M426.6 331.7h0M429.8 326.9h0" stroke="#22ecfe" stroke-width="2.6" stroke-linecap="round" fill="none"/>
<path d="M474.6 336.6h0M472.1 325.3h0M469.1 338.1h0M476 323h0M469 333.7h0M497.6 342.4h0M477.6 327.6h0M484.4 340.3h0M481.9 326.4h0M490 335.3h0M483 340.6h0M476.6 338.7h0M491.6 340.5h0M477.6 324.7h0M481 342.3h0M494.8 342.1h0M487.1 335.4h0M480.7 342.3h0M480.3 340.5h0M477.2 341.1h0M487.9 324.3h0M476.6 335h0M488.7 341.3h0M482.1 341.1h0M487.5 336.3h0M488.4 338.8h0M481.2 341.1h0M479 340.4h0M487.7 332.7h0M484.1 336.1h0M497.1 339.6h0M481.4 341.7h0M480.6 337.3h0M485.7 342.2h0M469.3 337.6h0M470.6 328.4h0M488.4 332.4h0M479.9 342.3h0M492.4 336.9h0M496.9 341.3h0M486.1 333.1h0M468.7 335.6h0M496.3 333.1h0M487 324.2h0M496.2 340.9h0M492.2 342h0M470.9 324h0M476.8 340h0M470.2 342.2h0M489.7 335.5h0M470.9 339.9h0M488.5 341.6h0M496.6 339.7h0M481.4 341.4h0M473.4 342.3h0M472.2 342.4h0M494.5 337.1h0M483.9 321h0M473.5 340.9h0M475.8 336.4h0M475.7 342.3h0M486 341.2h0M490.8 341.9h0M484.9 340.5h0M490.7 341.2h0M475.6 339.4h0M475.5 332.5h0M472.5 338.2h0M486.3 340.3h0M477 322.4h0M475.2 328.9h0M488.7 339.8h0M492.1 340.7h0M475.4 325.1h0M490 323.9h0M476.7 332.1h0M486.8 342.3h0M491.9 331.7h0M486.6 332.5h0M474.7 338.3h0M475.4 334.7h0M487 340.6h0M479.1 342.3h0M486.6 323h0M481.3 333.7h0M482.2 342.2h0M475.9 336.4h0M475.3 332.4h0M478.4 329.1h0M475 342.2h0M491.8 326.2h0M491.9 329.6h0M468.4 336.4h0M490.1 342.1h0M483.7 340.5h0M482.8 319.1h0M491.1 332.8h0M480.6 342.2h0M485.5 340.7h0M472.5 342h0M507.9 238.6h0M478.6 259.2h0M494.5 258.8h0M487.5 290.9h0M476.7 295.2h0M484.4 295.2h0M491.3 302.4h0M516.7 311.5h0M512.3 313.8h0M511 321.4h0M499.6 326.5h0M503.4 324.9h0M483.7 309.9h0M477.4 311.9h0M490.1 317.8h0" stroke="#ef0b20" stroke-width="2.6" stroke-linecap="round" fill="none"/>
<rect x="398" y="229.9" width="126.5" height="118.2" fill="none" stroke="#8f8f8f" stroke-width="1"/>
<path d="M410.7 348.1v1.5M423.4 348.1v1.5M436.1 348.1v1.5M448.8 348.1v1.5M461.5 348.1v1.5M474.2 348.1v1.5M486.9 348.1v1.5M499.6 348.1v1.5M512.3 348.1v1.5M398 347.5h-1.5M398 335.6h-1.5M398 323.7h-1.5M398 311.9h-1.5M398 300h-1.5M398 288.1h-1.5M398 276.2h-1.5M398 264.3h-1.5M398 252.5h-1.5M398 240.6h-1.5" stroke="#333" stroke-width="0.5" fill="none"/>
<g font-size="5.15" fill="#111"><text x="410.7" y="354.4" text-anchor="middle">-8</text><text x="423.4" y="354.4" text-anchor="middle">-6</text><text x="436.1" y="354.4" text-anchor="middle">-4</text><text x="448.8" y="354.4" text-anchor="middle">-2</text><text x="461.5" y="354.4" text-anchor="middle">0</text><text x="474.2" y="354.4" text-anchor="middle">2</text><text x="486.9" y="354.4" text-anchor="middle">4</text><text x="499.6" y="354.4" text-anchor="middle">6</text><text x="512.3" y="354.4" text-anchor="middle">8</text><text x="396.4" y="349.5" text-anchor="end">0</text><text x="396.4" y="337.6" text-anchor="end">3</text><text x="396.4" y="325.7" text-anchor="end">6</text><text x="396.4" y="313.9" text-anchor="end">9</text><text x="396.4" y="302" text-anchor="end">12</text><text x="396.4" y="290.1" text-anchor="end">15</text><text x="396.4" y="278.2" text-anchor="end">18</text><text x="396.4" y="266.3" text-anchor="end">21</text><text x="396.4" y="254.5" text-anchor="end">24</text><text x="396.4" y="242.6" text-anchor="end">27</text></g>
<text x="432.6" y="362.6" font-size="7.9" fill="#111" textLength="57.5" lengthAdjust="spacingAndGlyphs">log<tspan font-size="5.3" dy="1.8">2</tspan><tspan dy="-1.8">(Fold Change)</tspan></text>
<text x="446.4" y="371.1" font-size="7.5" fill="#111" textLength="30.2" lengthAdjust="spacingAndGlyphs">14d vs 0d</text>
<text transform="translate(386.3 310.7) rotate(-90)" font-size="7.9" fill="#111" textLength="43.4" lengthAdjust="spacingAndGlyphs">-log<tspan font-size="5.3" dy="1.8">10</tspan><tspan dy="-1.8">(Pvalue)</tspan></text>
<g font-size="4.5" font-weight="bold" fill="#333"><circle cx="405.2" cy="223.3" r="1.95" fill="#22ecfe"/><text x="408.6" y="224.8" textLength="38.8" lengthAdjust="spacingAndGlyphs">Down regulated(108)</text><circle cx="453.1" cy="223.3" r="1.95" fill="#b9b9b9"/><text x="456.5" y="224.8" textLength="22.6" lengthAdjust="spacingAndGlyphs">Not sig(989)</text><circle cx="484.8" cy="223.3" r="1.95" fill="#ef0b20"/><text x="488.2" y="224.8" textLength="33.4" lengthAdjust="spacingAndGlyphs">Up regulated(128)</text></g></g>
<g><path d="M555.9 229.5V348.1M570.2 229.5V348.1M584.6 229.5V348.1M598.9 229.5V348.1M613.3 229.5V348.1M627.7 229.5V348.1M642 229.5V348.1M656.4 229.5V348.1M670.7 229.5V348.1M549.4 347.5H676.4M549.4 333.6H676.4M549.4 319.7H676.4M549.4 305.8H676.4M549.4 291.9H676.4M549.4 278H676.4M549.4 264.1H676.4M549.4 250.2H676.4M549.4 236.3H676.4" stroke="#ebebeb" stroke-width="0.6" fill="none"/>
<path d="M606.1 229.5V348.1M620.5 229.5V348.1M549.4 341.5H676.4" stroke="#9a9a9a" stroke-width="0.5" stroke-dasharray="1 0.8" fill="none"/>
<path d="M620.8 341.1h0M610.3 338.6h0M617.3 342.4h0M609.8 346.6h0M617 345h0M606.6 341.5h0M607.8 345.6h0M611.7 346.3h0M616.9 346.2h0M618 338.8h0M619.2 344.3h0M620.6 342.7h0M617.1 342.2h0M609.5 339.1h0M620.9 342.1h0M606.7 347.1h0M607.8 343.7h0M607.8 335.9h0M620 340.8h0M610.7 346.1h0M607.7 347.2h0M616.7 342.7h0M619.8 333.6h0M617.8 338.3h0M619.3 339.2h0M610.2 344.5h0M616.5 344.9h0M606.4 339.5h0M619.2 336.7h0M608.5 346h0M620.2 339.8h0M620.6 344.9h0M616.8 346h0M612.3 346.8h0M607.5 338.1h0M610.6 344.2h0M614.4 345.9h0M619.3 341.8h0M611.7 347.1h0M610.2 347.4h0M620.5 343.5h0M607.2 340.1h0M609.2 346.6h0M613.5 346.7h0M611.9 345.3h0M617.7 338.5h0M616.3 342.2h0M614.9 347.5h0M605.7 335.2h0M619.3 341.8h0M619.7 346.8h0M606.6 332.2h0M619.6 333h0M619.4 343.1h0M607.9 338.3h0M606.9 336.3h0M606.3 335.6h0M618.3 336.9h0M615.6 342.6h0M608.2 337.9h0M605.6 343.2h0M615 344.5h0M609 343.9h0M615.1 343.1h0M612.2 342.2h0M616 345.2h0M617.7 345.8h0M611.5 346.8h0M611.2 346.6h0M605.7 345.8h0M617.7 340h0M613.1 343.9h0M621.2 341.5h0M614.6 342.9h0M620 347.2h0M610.4 339.7h0M606.3 335.2h0M605.5 330.3h0M618.7 342.5h0M618.6 346.2h0M620.2 338.2h0M607.3 346.5h0M612.5 343.4h0M616.2 346.1h0M611.3 346.8h0M618 347.2h0M608.4 347.5h0M611.6 344.4h0M619.7 345.5h0M606.4 339.1h0M617.7 344.5h0M610.1 340.1h0M608.1 343.3h0M618.2 343h0M621 347.3h0M607.5 347h0M613.6 344.5h0M617.5 347.5h0M607 335.4h0M619.1 346.2h0M618.2 341.6h0M616.7 347.1h0M611.8 341.8h0M617.8 345.9h0M607.4 338.7h0M618.1 340.7h0M619.8 334h0M606.9 333.7h0M617 347h0M607.1 347.1h0M621.1 344.5h0M610.8 340.7h0M612.6 346.2h0M618.1 347.4h0M608.1 340.1h0M619.9 337.3h0M620 341.7h0M611.7 347.4h0M611.7 343.4h0M619.3 339.9h0M640.9 346.6h0M599.1 347.4h0M566.9 347.1h0M595.2 341.5h0M625.6 342.2h0M572.6 345h0M572.9 343.5h0M598.5 344.4h0M592.6 346.4h0M606.5 345.6h0M604.2 345.3h0M613.5 343.1h0M625.2 346h0M597.4 341.8h0M599 345.5h0M589.5 343.4h0M613.5 341.5h0M615.4 344.1h0M608.6 341.5h0M616 342.5h0M626.5 345.8h0M576.6 344.9h0M639.8 344.7h0M580.5 343.2h0M640.5 346.5h0M637.5 346.7h0M625.1 345.8h0M591.6 342.3h0M606.3 342.5h0M621.1 346.7h0M618.9 343h0M596 341.7h0M571.2 346.9h0M608.1 347.3h0M570.8 346.7h0M636.2 343.8h0M570.6 345.7h0M609.1 344.1h0M571.4 345.1h0M591.1 343.9h0M596.7 342.5h0M600.8 343h0M603 342.1h0M625.1 343.1h0M630.7 347h0M607 345.4h0M602.4 342.1h0M616.3 344.6h0M631 347.2h0M601.1 343.5h0M589.3 345.7h0M618.4 342.5h0M607.5 344.9h0M620.1 343.6h0M571.1 342.6h0M600.1 343.5h0M610.3 345.7h0M609.9 343.1h0M571.4 343.6h0M590 346.8h0M624.1 342.8h0M584 341.9h0M595.8 341.8h0M600 344.6h0M633.4 343.5h0M638.5 343h0M572.3 345.4h0M628.5 346.3h0M594.7 344.1h0M626.1 344.2h0M625.9 344.8h0M609 345.5h0M617 343.7h0M639.5 344.1h0M569.8 343.5h0M596 345.7h0M636 344.8h0M600.6 347.2h0M631.1 345h0M629.7 344h0M569.4 344.2h0M601.4 341.7h0M586.7 345.3h0M595.4 344.8h0M632.9 343.6h0M576 342.3h0M594.2 344.2h0M568.8 343.8h0M617.5 343.5h0M571.4 344.5h0M598.8 342h0M579.8 345.2h0M571.8 343.3h0M582.3 346.6h0M582.8 342.4h0M582.4 346.4h0M604.4 344.3h0M633.6 343.4h0M635.5 347.1h0M637.1 344.4h0M601.7 347.4h0M638.5 346.6h0M632.3 346.4h0M598.2 342.9h0M583 347h0M626.7 343.7h0M606.6 344.8h0M617.5 344.2h0M610.6 346.9h0M630.3 341.8h0M584.4 346.1h0M587.4 341.8h0M580.2 346.2h0M604 342.7h0M629.5 345.7h0M624.2 342.5h0M601 346.9h0M574.5 347.4h0M641.4 347.2h0M597.7 342.6h0M590.7 343.3h0M596.1 341.8h0M637.7 345.3h0M637.7 343.9h0M575.3 341.5h0M590 347.3h0M619.1 343h0M610.7 343.4h0M598.7 344.4h0M587.9 343.6h0M622.8 343.5h0M616.7 342.3h0M638.7 343.3h0M624.3 345.8h0M617.9 342.2h0M631.8 347.3h0M635.4 343.4h0M567.5 343.8h0M597.2 344.1h0M635.2 346.1h0M630.7 346.6h0M631.9 342.2h0M627 341.8h0M603.4 345.8h0M596.2 343.9h0M609.2 346.7h0M574.8 342.5h0M640.5 345.9h0M633.4 345.9h0M611.4 341.5h0M572.9 344.8h0M613.8 342.9h0M582.7 345.7h0M611.3 347.4h0M581.9 343.7h0M599.2 347.2h0M579.7 346.7h0M588.1 343.4h0M606.5 343.1h0M574.8 342.5h0M580.8 344.2h0M587.1 344.3h0M627.5 347.5h0M641.3 346.9h0M601.3 342.2h0M576.6 343.1h0M574.8 345.3h0M597.1 342.7h0M585 342.8h0M580.3 344.1h0M631 341.4h0M606.8 347.4h0M609.6 341.3h0M620.5 346.4h0M597.7 347h0M626.7 344.9h0M595.9 342.8h0M611.2 342.3h0M597.5 341.1h0M612.6 346.1h0M613.6 344.9h0M605.4 347.5h0M611.1 341.4h0M597.5 344.4h0M617.6 340.4h0M619.9 346.6h0M621.3 346.9h0M631.5 342.3h0M622.1 347h0M632.5 341.2h0M617.2 345.8h0M627.7 340.1h0M612.5 344.5h0M609.3 337.9h0M634.1 342.5h0M597.4 340h0M618.8 343.5h0M606.3 346.9h0M622.1 337.7h0M618 342.6h0M603.4 341.3h0M625.4 338.7h0M594.7 344.8h0M624 339.3h0M621.2 343h0M608.1 338h0M596 340.7h0M616.4 344.9h0M613.3 347.2h0M623.3 346.1h0M595 345.8h0M596.2 342.3h0M606.4 341h0M605.3 337.7h0M617.5 345.7h0M614.4 337.5h0M620.6 346.2h0M610.8 339.9h0M612.9 347.3h0M609.1 343.6h0M603.6 339.1h0M634.6 343.1h0M629.2 339.7h0M605.9 338.6h0M609.8 340.3h0M623.9 339.2h0M629.5 346.6h0M604.6 341.9h0M623 345.2h0M606.6 347.3h0M626.4 340.2h0M614.5 342.1h0M600.3 344.7h0M630.8 343.7h0M628.8 345.4h0M600.4 342.8h0M597.6 343.9h0M610.4 341h0M628.9 341.7h0M613.1 347.2h0" stroke="#b9b9b9" stroke-width="2.6" stroke-linecap="round" fill="none"/>
<path d="M594.3 320.8h0M588.5 334.7h0M604.2 338.9h0M597.1 325.6h0M585.3 326.4h0M597.4 331.5h0M584.7 337.2h0M605.3 336.4h0M582.8 333.9h0M588.8 336.3h0M583.5 341.1h0M594.1 335.2h0M602.6 323.2h0M600.5 333.9h0M584.4 341.3h0M588.5 334h0M589.2 341.5h0M583.2 328.8h0M587.4 334.5h0M595.8 326.5h0M600 325.2h0M594.2 332.9h0M602.9 330.1h0M592 322.1h0M589.6 340.7h0M599.8 339.7h0M601.6 335.1h0M589.8 340.3h0M593.8 341.1h0M596.6 338.4h0M596 332.1h0M595.2 324.7h0M593.3 340.6h0M604.9 336.5h0M591.8 340.1h0M595.5 329.7h0M591.8 337.7h0M602.5 327.6h0M599.6 341h0M600.3 321.1h0M587.2 341.1h0M591.2 338.1h0M588.5 341.2h0M593.7 327.4h0M589.7 337.3h0M598.7 324.6h0M599.6 335.6h0M582.8 337.3h0M601.8 341.4h0M582.6 340.6h0M601.3 335.2h0M593.2 341.3h0M599.1 339.3h0M599.3 332.3h0M600.2 327.6h0M582.7 335.2h0M596.2 338.2h0M593.7 336.3h0M594.2 329.7h0M585.1 338.6h0M597 330.3h0M586.1 334.8h0M564.5 316h0M567.3 318.8h0M588.2 308.6h0M577.4 325.3h0M579.6 324.8h0M566.6 334.5h0M569.5 332.7h0M573.8 338.2h0M581 331.3h0" stroke="#22ecfe" stroke-width="2.6" stroke-linecap="round" fill="none"/>
<path d="M625.6 336.9h0M632.9 319.3h0M625.2 341.5h0M622.7 339.8h0M623.4 332.2h0M631.6 341.2h0M625.3 320.8h0M632.2 340.3h0M643.6 338.6h0M644.4 339.2h0M624 321.1h0M636.2 329.9h0M628.2 339.9h0M638.5 340.4h0M636.1 333.8h0M637.3 341.2h0M631.9 332.7h0M638.1 334.5h0M627.9 320.8h0M646.2 341.5h0M621.2 331h0M639.1 328.9h0M645.6 335.7h0M638.1 340.2h0M647.8 341.3h0M637.3 341.1h0M641.8 321.8h0M625.9 339h0M629.4 318.7h0M651.6 340.3h0M642.4 338.1h0M636.6 336.1h0M630 341.5h0M621.3 341.3h0M630.2 332.2h0M635.2 341.3h0M645.8 332.2h0M648.7 339.9h0M624.8 334.9h0M631.7 340h0M630.8 323.3h0M625.3 324.2h0M650.4 333.3h0M623.3 318.7h0M630.1 317.8h0M625.7 331.3h0M640.6 341.3h0M646.5 330.1h0M631.8 316.5h0M642.2 331.4h0M650.3 340.8h0M626.7 341.5h0M644.3 328.6h0M631.9 338.8h0M638.6 341.1h0M631.6 339.3h0M637.4 340.8h0M636.4 334.6h0M623.7 330.6h0M629.4 324.6h0M649.5 334.6h0M649 335h0M632 339h0M634.3 338.1h0M631.2 328.4h0M621.3 340.7h0M622.1 329.2h0M635 323h0M631.4 318.3h0M645.9 341.3h0M646 341.2h0M624.4 338.4h0M623.4 332.5h0M634.6 337.2h0M627.9 332.8h0M628.6 341.4h0M639.1 341.3h0M627.5 331.6h0M642.6 338.9h0M632.5 338.5h0M625.2 341.1h0M624 335.8h0M641.3 341h0M643.1 339.6h0M632.2 341.2h0M635.8 341.1h0M643.9 335.8h0M627.9 334.9h0M626.1 333.2h0M639.9 339.8h0M632.5 339.9h0M641.4 339.5h0M634 326.8h0M622.2 339h0M638.2 339.1h0M626.4 333.4h0M635.6 327.4h0M639 340.7h0M640.1 341.4h0M640.4 341.5h0M660.7 240h0M630.5 263.6h0M642.7 278.9h0M647 292.4h0M636.3 296.5h0M638.4 296.5h0M637.4 297.5h0M627.7 302.1h0M632.7 310h0M634.1 310.4h0M672.2 308.1h0M657.8 322.5h0M661.4 324.3h0M662.1 329h0M624.1 315.1h0M634.8 315.1h0" stroke="#ef0b20" stroke-width="2.6" stroke-linecap="round" fill="none"/>
<rect x="549.4" y="229.5" width="127" height="118.6" fill="none" stroke="#8f8f8f" stroke-width="1"/>
<path d="M555.9 348.1v1.5M570.2 348.1v1.5M584.6 348.1v1.5M598.9 348.1v1.5M613.3 348.1v1.5M627.7 348.1v1.5M642 348.1v1.5M656.4 348.1v1.5M670.7 348.1v1.5M549.4 347.5h-1.5M549.4 333.6h-1.5M549.4 319.7h-1.5M549.4 305.8h-1.5M549.4 291.9h-1.5M549.4 278h-1.5M549.4 264.1h-1.5M549.4 250.2h-1.5M549.4 236.3h-1.5" stroke="#333" stroke-width="0.5" fill="none"/>
<g font-size="5.15" fill="#111"><text x="555.9" y="354.4" text-anchor="middle">-8</text><text x="570.2" y="354.4" text-anchor="middle">-6</text><text x="584.6" y="354.4" text-anchor="middle">-4</text><text x="598.9" y="354.4" text-anchor="middle">-2</text><text x="613.3" y="354.4" text-anchor="middle">0</text><text x="627.7" y="354.4" text-anchor="middle">2</text><text x="642" y="354.4" text-anchor="middle">4</text><text x="656.4" y="354.4" text-anchor="middle">6</text><text x="670.7" y="354.4" text-anchor="middle">8</text><text x="547.8" y="349.5" text-anchor="end">0</text><text x="547.8" y="335.6" text-anchor="end">3</text><text x="547.8" y="321.7" text-anchor="end">6</text><text x="547.8" y="307.8" text-anchor="end">9</text><text x="547.8" y="293.9" text-anchor="end">12</text><text x="547.8" y="280" text-anchor="end">15</text><text x="547.8" y="266.1" text-anchor="end">18</text><text x="547.8" y="252.2" text-anchor="end">21</text><text x="547.8" y="238.3" text-anchor="end">24</text></g>
<text x="584.3" y="362.6" font-size="7.9" fill="#111" textLength="57.5" lengthAdjust="spacingAndGlyphs">log<tspan font-size="5.3" dy="1.8">2</tspan><tspan dy="-1.8">(Fold Change)</tspan></text>
<text x="598.1" y="371.1" font-size="7.5" fill="#111" textLength="30.2" lengthAdjust="spacingAndGlyphs">28d vs 0d</text>
<text transform="translate(537.7 310.5) rotate(-90)" font-size="7.9" fill="#111" textLength="43.4" lengthAdjust="spacingAndGlyphs">-log<tspan font-size="5.3" dy="1.8">10</tspan><tspan dy="-1.8">(Pvalue)</tspan></text>
<g font-size="4.5" font-weight="bold" fill="#333"><circle cx="558" cy="222.9" r="1.95" fill="#22ecfe"/><text x="561.4" y="224.4" textLength="36.4" lengthAdjust="spacingAndGlyphs">Down regulated(77)</text><circle cx="603.6" cy="222.9" r="1.95" fill="#b9b9b9"/><text x="607" y="224.4" textLength="22.6" lengthAdjust="spacingAndGlyphs">Not sig(607)</text><circle cx="635.3" cy="222.9" r="1.95" fill="#ef0b20"/><text x="638.7" y="224.4" textLength="33.4" lengthAdjust="spacingAndGlyphs">Up regulated(120)</text></g></g>
<g><path d="M97.6 412.2V530.5M116.7 412.2V530.5M135.8 412.2V530.5M154.9 412.2V530.5M174 412.2V530.5M193.1 412.2V530.5M212.2 412.2V530.5M91.4 529.8H218.4M91.4 514.6H218.4M91.4 499.3H218.4M91.4 484.1H218.4M91.4 468.9H218.4M91.4 453.6H218.4M91.4 438.4H218.4M91.4 423.2H218.4" stroke="#ebebeb" stroke-width="0.6" fill="none"/>
<path d="M145.3 412.2V530.5M164.5 412.2V530.5M91.4 519.9H218.4" stroke="#9a9a9a" stroke-width="0.5" stroke-dasharray="1 0.8" fill="none"/>
<path d="M134.6 520.3h0M169.5 526.7h0M154.6 529.4h0M163.3 526.8h0M132.4 524.3h0M173.5 522.5h0M169.4 528.3h0M151.9 528.6h0M139.9 522.2h0M177.1 524.3h0M128.6 521.2h0M179.2 522.1h0M139.2 524.9h0M128.8 523.1h0M151.5 529.4h0M140.1 526.7h0M139.3 524.8h0M143.3 529.4h0M173.6 521.7h0M162.8 529.4h0M182.2 520.3h0M133.9 522.4h0M167.2 525.4h0M179.1 521.9h0M173.2 521.3h0M144 526.9h0M176.1 520.3h0M155.2 529.4h0M129.1 523h0M171.4 524.4h0M136.8 522.2h0M166.1 526.2h0M148 529.4h0M155.4 528.5h0M156.1 529.4h0M154.3 529.4h0M129.6 520.3h0M181.7 520.9h0M149 529.4h0M155 527.2h0M169.9 524.7h0M174.9 523.1h0M155.7 527.4h0M159.2 529.4h0M142.1 526.1h0M180.2 524.4h0M170.6 522.5h0M176.3 520.3h0M172 523.2h0M158.3 529.4h0M130.3 520.3h0M158.8 529.4h0M155.2 529.4h0M147 529.4h0M157 529.3h0M161.1 529.4h0M128.8 523.1h0M137 522.2h0M174.9 520.3h0M171.4 521.9h0M141.3 523.8h0M164.5 529.4h0M128.1 524.4h0M169.1 527h0M133.3 520.7h0M146.3 529.4h0M136 521.7h0M136.5 523.7h0M166.6 527.2h0M145 528.1h0M128.5 522.1h0M150.5 529.4h0M133.2 520.3h0M155.5 529.4h0M160.8 527.4h0M128.4 524.4h0M135.3 520.3h0M136.1 520.7h0M164.8 527.6h0M139.4 521.7h0M160.3 516.4h0M149.9 515.5h0M153 516h0M151.7 515.6h0M146.9 517.9h0M163.4 513.9h0M151.4 514h0M151.5 513.5h0M159.3 517h0M150.4 519.8h0" stroke="#b9b9b9" stroke-width="2.7" stroke-linecap="round" fill="none"/>
<path d="M113.8 444.5h0M116.2 456.7h0M125.8 458.2h0M123.4 468.9h0M129.1 472.7h0M117.7 475.7h0M118.1 477.3h0M111 479.5h0M112.4 480.3h0M108.1 484.1h0M114.8 488.7h0M128.2 487.9h0M126.2 492.5h0M126.7 495.5h0M116.7 500.9h0M125.3 503.9h0M126.2 509.2h0M113.8 516.1h0M132.9 499.3h0M135.8 500.1h0M138.7 499.3h0M142.5 500.1h0M140.1 501.6h0M135.8 504.7h0M132.9 507h0M137.7 507h0M135.8 508.5h0M130.1 510.8h0M132.9 511.5h0M137.7 511.5h0M140.6 511.5h0M142.5 513h0M137.7 515.3h0M140.6 515.3h0M143.4 513.8h0M131 514.6h0M144.4 516.9h0M134.8 510h0" stroke="#22ecfe" stroke-width="2.7" stroke-linecap="round" fill="none"/>
<path d="M202 419h0M212 442.2h0M177.8 471.5h0M179.7 476.5h0M180.7 478h0M191.2 484.9h0M189.3 487.9h0M189.8 488.7h0M175 488.7h0M192.1 492.5h0M194.1 497.8h0M176.9 497.1h0M178.8 495.5h0M179.7 494h0M180.7 497.8h0M183.6 500.1h0M182.6 501.6h0M190.2 510h0M189.3 518.4h0M167.3 502.4h0M167.8 503.1h0M170.2 510h0M172.1 511.5h0M169.2 513h0M167.3 514.6h0M170.2 516.1h0M173 514.6h0M166.4 517.6h0M169.2 518.4h0M175 508.5h0M175.9 505.4h0M178.8 507.7h0M174 512.3h0M168.3 510.8h0M165.4 516.1h0" stroke="#ef0b20" stroke-width="2.7" stroke-linecap="round" fill="none"/>
<rect x="91.4" y="412.2" width="127" height="118.3" fill="none" stroke="#8f8f8f" stroke-width="1"/>
<path d="M97.6 530.5v1.5M116.7 530.5v1.5M135.8 530.5v1.5M154.9 530.5v1.5M174 530.5v1.5M193.1 530.5v1.5M212.2 530.5v1.5M91.4 529.8h-1.5M91.4 514.6h-1.5M91.4 499.3h-1.5M91.4 484.1h-1.5M91.4 468.9h-1.5M91.4 453.6h-1.5M91.4 438.4h-1.5M91.4 423.2h-1.5" stroke="#333" stroke-width="0.5" fill="none"/>
<g font-size="5.15" fill="#111"><text x="97.6" y="536.8" text-anchor="middle">-6</text><text x="116.7" y="536.8" text-anchor="middle">-4</text><text x="135.8" y="536.8" text-anchor="middle">-2</text><text x="154.9" y="536.8" text-anchor="middle">0</text><text x="174" y="536.8" text-anchor="middle">2</text><text x="193.1" y="536.8" text-anchor="middle">4</text><text x="212.2" y="536.8" text-anchor="middle">6</text><text x="89.8" y="531.8" text-anchor="end">0</text><text x="89.8" y="516.6" text-anchor="end">2</text><text x="89.8" y="501.3" text-anchor="end">4</text><text x="89.8" y="486.1" text-anchor="end">6</text><text x="89.8" y="470.9" text-anchor="end">8</text><text x="89.8" y="455.6" text-anchor="end">10</text><text x="89.8" y="440.4" text-anchor="end">12</text><text x="89.8" y="425.2" text-anchor="end">14</text></g>
<text x="126.3" y="545" font-size="7.9" fill="#111" textLength="57.5" lengthAdjust="spacingAndGlyphs">log<tspan font-size="5.3" dy="1.8">2</tspan><tspan dy="-1.8">(Fold Change)</tspan></text>
<text x="141.9" y="553.5" font-size="7.5" fill="#111" textLength="26.6" lengthAdjust="spacingAndGlyphs">3d vs 0d</text>
<text transform="translate(79.7 493.1) rotate(-90)" font-size="7.9" fill="#111" textLength="43.4" lengthAdjust="spacingAndGlyphs">-log<tspan font-size="5.3" dy="1.8">10</tspan><tspan dy="-1.8">(Pvalue)</tspan></text>
<g font-size="4.5" font-weight="bold" fill="#333"><circle cx="101.4" cy="405.6" r="1.95" fill="#22ecfe"/><text x="104.8" y="407.1" textLength="36.4" lengthAdjust="spacingAndGlyphs">Down regulated(44)</text><circle cx="147" cy="405.6" r="1.95" fill="#b9b9b9"/><text x="150.4" y="407.1" textLength="22" lengthAdjust="spacingAndGlyphs">Not sig(111)</text><circle cx="178.2" cy="405.6" r="1.95" fill="#ef0b20"/><text x="181.6" y="407.1" textLength="31.1" lengthAdjust="spacingAndGlyphs">Up regulated(45)</text></g></g>
<g><path d="M250.6 412.2V530.5M269.7 412.2V530.5M288.8 412.2V530.5M307.9 412.2V530.5M327 412.2V530.5M346.1 412.2V530.5M365.2 412.2V530.5M244.4 530H371.4M244.4 517.7H371.4M244.4 505.4H371.4M244.4 493.1H371.4M244.4 480.8H371.4M244.4 468.5H371.4M244.4 456.2H371.4M244.4 443.9H371.4M244.4 431.6H371.4M244.4 419.3H371.4" stroke="#ebebeb" stroke-width="0.6" fill="none"/>
<path d="M298.3 412.2V530.5M317.4 412.2V530.5M244.4 524.7H371.4" stroke="#9a9a9a" stroke-width="0.5" stroke-dasharray="1 0.8" fill="none"/>
<path d="M334 524.9h0M282.5 526.9h0M327.1 524.9h0M317.6 529.6h0M314 529.4h0M312.6 529.8h0M303.9 529.8h0M320.7 526.5h0M333.7 525.3h0M304.7 529.8h0M281.3 527h0M305.9 529.8h0M301 528.3h0M309.4 529.8h0M292.8 528.9h0M297.9 529.8h0M308.5 528.6h0M317.9 529.8h0M330.5 524.9h0M321.3 526.6h0M323 526.4h0M299.5 527.7h0M334.4 526.6h0M322.5 526.8h0M305.7 529.8h0M307.3 528.8h0M307.9 529.1h0M299.5 528.1h0M330.8 525.6h0M311.8 528.6h0M320.7 528.2h0M292 527.6h0M319.3 529.7h0M331.3 526.3h0M331.5 526.1h0M334.1 524.9h0M308.1 529.8h0M316.6 529h0M297.1 529.7h0M308.6 528.8h0M315 529.8h0M326.3 525.2h0M331.3 526.5h0M321.9 529.2h0M316.7 529.8h0M292.2 525.9h0M285.3 525.4h0M328.2 526.3h0M291.3 525.5h0M303.5 529.2h0M281.1 525.9h0M289.1 525.2h0M284 524.9h0M280.7 524.9h0M280.5 526.3h0M325.9 527.3h0M289.8 525.4h0M301.3 529.8h0M336 526.6h0M281.3 526h0M314.5 528.9h0M285.7 526h0M281 525.7h0M323.1 526.5h0M330.9 524.9h0M328.7 524.9h0M306.3 529.8h0M317.1 529.7h0M285.1 525.7h0M329.4 526.7h0M312.8 529.8h0M308.7 529.8h0M334.2 526.3h0M314 529.8h0M280.3 525.3h0M287.3 526.9h0M281.2 526.6h0M284.7 525h0M308.4 528.6h0M332.8 524.9h0M292.6 527.4h0M293.6 527.3h0M315 528.6h0M319.9 529.2h0M303.5 529.8h0M298.9 524.5h0M306.2 524.3h0M312 523.8h0M300.6 524h0M303 523.9h0M308.3 523h0M304.4 522.3h0M302.7 521.3h0M316.3 522h0M306.7 522.8h0" stroke="#b9b9b9" stroke-width="2.7" stroke-linecap="round" fill="none"/>
<path d="M256.3 422.2h0M250.6 447.2h0M253.5 497.2h0M262.1 503.4h0M265.9 501.7h0M269.7 488.2h0M277.3 491.1h0M286.9 481.6h0M285 492.3h0M277.3 499.2h0M278.3 502.9h0M281.2 502.1h0M276.4 507h0M280.2 509.5h0M270.7 516.1h0M273.5 516.5h0M274.5 517.3h0M277.3 516.5h0M280.2 518.5h0M284 518.9h0M286.9 514h0M289.8 511.6h0M288.8 519.8h0M290.7 519.3h0M292.6 520.2h0M294.5 521h0M296.4 519.8h0M291.7 521.8h0M293.6 522.6h0M295.5 523h0M287.8 522.2h0M289.8 521h0M283.1 523.4h0M297.4 521.8h0" stroke="#22ecfe" stroke-width="2.7" stroke-linecap="round" fill="none"/>
<path d="M342.3 478.8h0M342.3 480h0M341.3 485.3h0M339.4 491.5h0M354.7 493.5h0M330.8 495.6h0M332.7 502.1h0M334.6 502.1h0M344.2 504.6h0M347.1 505.4h0M351.8 502.9h0M352.8 507.9h0M344.2 510.7h0M344.2 512.4h0M323.2 510.7h0M327 512.4h0M328.9 509.1h0M335.6 511.6h0M349.9 521h0M320.3 521.4h0M322.2 519.3h0M324.1 520.6h0M326 518.5h0M328 516.5h0M329.9 517.7h0M331.8 519.8h0M325.1 522.2h0M327 523h0M332.7 522.6h0M319.4 522.6h0M328.9 521h0M336.5 515.6h0M333.7 523.9h0M323.2 516.1h0M338.5 518.9h0" stroke="#ef0b20" stroke-width="2.7" stroke-linecap="round" fill="none"/>
<rect x="244.4" y="412.2" width="127" height="118.3" fill="none" stroke="#d6d6d6" stroke-width="0.8"/>
<path d="M250.6 530.5v1.5M269.7 530.5v1.5M288.8 530.5v1.5M307.9 530.5v1.5M327 530.5v1.5M346.1 530.5v1.5M365.2 530.5v1.5M244.4 530h-1.5M244.4 517.7h-1.5M244.4 505.4h-1.5M244.4 493.1h-1.5M244.4 480.8h-1.5M244.4 468.5h-1.5M244.4 456.2h-1.5M244.4 443.9h-1.5M244.4 431.6h-1.5M244.4 419.3h-1.5" stroke="#333" stroke-width="0.5" fill="none"/>
<g font-size="5.15" fill="#111"><text x="250.6" y="536.8" text-anchor="middle">-6</text><text x="269.7" y="536.8" text-anchor="middle">-4</text><text x="288.8" y="536.8" text-anchor="middle">-2</text><text x="307.9" y="536.8" text-anchor="middle">0</text><text x="327" y="536.8" text-anchor="middle">2</text><text x="346.1" y="536.8" text-anchor="middle">4</text><text x="365.2" y="536.8" text-anchor="middle">6</text><text x="242.8" y="532" text-anchor="end">0</text><text x="242.8" y="519.7" text-anchor="end">3</text><text x="242.8" y="507.4" text-anchor="end">6</text><text x="242.8" y="495.1" text-anchor="end">9</text><text x="242.8" y="482.8" text-anchor="end">12</text><text x="242.8" y="470.5" text-anchor="end">15</text><text x="242.8" y="458.2" text-anchor="end">18</text><text x="242.8" y="445.9" text-anchor="end">21</text><text x="242.8" y="433.6" text-anchor="end">24</text><text x="242.8" y="421.3" text-anchor="end">27</text></g>
<text x="279.3" y="545" font-size="7.9" fill="#111" textLength="57.5" lengthAdjust="spacingAndGlyphs">log<tspan font-size="5.3" dy="1.8">2</tspan><tspan dy="-1.8">(Fold Change)</tspan></text>
<text x="294.9" y="553.5" font-size="7.5" fill="#111" textLength="26.6" lengthAdjust="spacingAndGlyphs">7d vs 0d</text>
<text transform="translate(232.7 493.1) rotate(-90)" font-size="7.9" fill="#111" textLength="43.4" lengthAdjust="spacingAndGlyphs">-log<tspan font-size="5.3" dy="1.8">10</tspan><tspan dy="-1.8">(Pvalue)</tspan></text>
<g font-size="4.5" font-weight="bold" fill="#333"><circle cx="254.3" cy="405.6" r="1.95" fill="#22ecfe"/><text x="257.7" y="407.1" textLength="36.4" lengthAdjust="spacingAndGlyphs">Down regulated(40)</text><circle cx="299.9" cy="405.6" r="1.95" fill="#b9b9b9"/><text x="303.3" y="407.1" textLength="22.3" lengthAdjust="spacingAndGlyphs">Not sig(116)</text><circle cx="331.3" cy="405.6" r="1.95" fill="#ef0b20"/><text x="334.7" y="407.1" textLength="31.1" lengthAdjust="spacingAndGlyphs">Up regulated(44)</text></g></g>
<g><path d="M415 412.2V530.9M438.2 412.2V530.9M461.4 412.2V530.9M484.6 412.2V530.9M507.8 412.2V530.9M398.2 530H525M398.2 516.6H525M398.2 503.3H525M398.2 489.9H525M398.2 476.6H525M398.2 463.2H525M398.2 449.9H525M398.2 436.6H525M398.2 423.2H525" stroke="#ebebeb" stroke-width="0.6" fill="none"/>
<path d="M449.8 412.2V530.9M473 412.2V530.9M398.2 521.3H525" stroke="#9a9a9a" stroke-width="0.5" stroke-dasharray="1 0.8" fill="none"/>
<path d="M445.6 526.6h0M453.6 528.9h0M469 529.7h0M432 521.7h0M446.9 528.8h0M491.3 522.8h0M481.7 524.7h0M469.8 529.7h0M469.5 527.4h0M462.8 529h0M471.7 529.7h0M477 526.5h0M449.4 529.7h0M483.4 523.7h0M474.6 525.9h0M474.3 525.8h0M455.1 528.2h0M458.1 527.9h0M484.3 525.2h0M439.4 525.1h0M489.5 523h0M469 529.7h0M461.8 529.7h0M452.4 528.8h0M466.5 527.8h0M472.4 526.4h0M482.9 521.7h0M471.7 529.7h0M483.2 521.7h0M485.8 522.3h0M474.3 529.6h0M481.4 524.4h0M448.4 529.7h0M482.7 521.7h0M436.6 521.7h0M456 529.7h0M449 526.8h0M483.9 525.7h0M468.3 529.7h0M474.6 528.8h0M484.4 521.7h0M461.7 527.7h0M449.9 529.7h0M467.4 529.7h0M443.1 526.2h0M468.1 529.7h0M433.8 521.7h0M450.2 526.1h0M485.3 523.3h0M459 529.7h0M470.1 528.8h0M465 529.5h0M488 522.6h0M457.2 528.9h0M445.6 527.9h0M490.2 522.5h0M464.3 529.7h0M456.3 529.5h0M432.4 522h0M469.4 529.7h0M469.1 529.7h0M472.2 529.5h0M473.9 526.9h0M432.6 525h0M472 526.3h0M446.4 527.4h0M467 529.7h0M453.2 529.7h0M453.5 529h0M449.4 529h0M477.8 529.1h0M465.6 528.8h0M449.9 529.7h0M479.7 527.1h0M442.5 525.7h0M473.3 529.7h0M450.7 529.6h0M481.5 525h0M482.8 525.7h0M451.6 528.2h0M484.6 523.1h0M444.8 528.5h0M463.2 529.7h0M479.9 523.8h0M442.3 526.5h0M479.9 524.8h0M479.9 526.4h0M439.1 524.5h0M479.1 527.2h0M452.1 529.6h0M456.6 529.7h0M486.8 524.5h0M431.5 521.7h0M484.3 521.7h0M457.4 527.7h0M470.8 520h0M466.8 516.3h0M465 518.2h0M456.8 519.3h0M455.4 520.9h0M463.4 519.6h0M468.2 521.1h0M470.3 517.2h0M470.7 515.9h0M470.2 517.9h0" stroke="#b9b9b9" stroke-width="2.7" stroke-linecap="round" fill="none"/>
<path d="M400.4 489.3h0M400.4 496.6h0M416.6 467.9h0M427.1 464.9h0M428 493.6h0M415 508h0M420.8 501.3h0M431.2 500.6h0M433.6 498.6h0M445.2 494h0M423.1 513.3h0M425.4 513.3h0M435.9 510h0M438.2 510.6h0M437 513.3h0M440.5 512h0M442.8 511.3h0M444 510.6h0M434.7 515.3h0M439.4 516.6h0M441.7 518h0M444 517.3h0M445.2 518.7h0M447.5 519.3h0M431.2 516h0M448.6 519.3h0M442.8 515.3h0M440.5 504.6h0" stroke="#22ecfe" stroke-width="2.7" stroke-linecap="round" fill="none"/>
<path d="M504.8 416.2h0M517.5 462.6h0M499.7 460.6h0M497.9 475.3h0M498.5 487.6h0M484.6 483.9h0M489.2 488.6h0M491.6 491.3h0M482.3 492h0M488.1 499.3h0M487.5 498.6h0M484.6 500h0M509 502h0M500.8 505.3h0M503.2 503.3h0M513.6 514h0M510.1 518h0M493.9 519.3h0M478.8 506h0M481.1 508.6h0M482.3 512h0M480 514h0M476.5 516h0M481.1 518h0M483.4 519.3h0M475.3 520h0M490.4 510.6h0M491.6 514.6h0M489.2 507.3h0M474.2 519.3h0" stroke="#ef0b20" stroke-width="2.7" stroke-linecap="round" fill="none"/>
<rect x="398.2" y="412.2" width="126.8" height="118.7" fill="none" stroke="#d6d6d6" stroke-width="0.8"/>
<path d="M415 530.9v1.5M438.2 530.9v1.5M461.4 530.9v1.5M484.6 530.9v1.5M507.8 530.9v1.5M398.2 530h-1.5M398.2 516.6h-1.5M398.2 503.3h-1.5M398.2 489.9h-1.5M398.2 476.6h-1.5M398.2 463.2h-1.5M398.2 449.9h-1.5M398.2 436.6h-1.5M398.2 423.2h-1.5" stroke="#333" stroke-width="0.5" fill="none"/>
<g font-size="5.15" fill="#111"><text x="415" y="537.2" text-anchor="middle">-4</text><text x="438.2" y="537.2" text-anchor="middle">-2</text><text x="461.4" y="537.2" text-anchor="middle">0</text><text x="484.6" y="537.2" text-anchor="middle">2</text><text x="507.8" y="537.2" text-anchor="middle">4</text><text x="396.6" y="532" text-anchor="end">0</text><text x="396.6" y="518.6" text-anchor="end">2</text><text x="396.6" y="505.3" text-anchor="end">4</text><text x="396.6" y="491.9" text-anchor="end">6</text><text x="396.6" y="478.6" text-anchor="end">8</text><text x="396.6" y="465.2" text-anchor="end">10</text><text x="396.6" y="451.9" text-anchor="end">12</text><text x="396.6" y="438.6" text-anchor="end">14</text><text x="396.6" y="425.2" text-anchor="end">16</text></g>
<text x="433" y="545.4" font-size="7.9" fill="#111" textLength="57.5" lengthAdjust="spacingAndGlyphs">log<tspan font-size="5.3" dy="1.8">2</tspan><tspan dy="-1.8">(Fold Change)</tspan></text>
<text x="446.8" y="553.9" font-size="7.5" fill="#111" textLength="30.2" lengthAdjust="spacingAndGlyphs">14d vs 0d</text>
<text transform="translate(386.5 493.2) rotate(-90)" font-size="7.9" fill="#111" textLength="43.4" lengthAdjust="spacingAndGlyphs">-log<tspan font-size="5.3" dy="1.8">10</tspan><tspan dy="-1.8">(Pvalue)</tspan></text>
<g font-size="4.5" font-weight="bold" fill="#333"><circle cx="407.8" cy="405.6" r="1.95" fill="#22ecfe"/><text x="411.2" y="407.1" textLength="36.4" lengthAdjust="spacingAndGlyphs">Down regulated(38)</text><circle cx="453.4" cy="405.6" r="1.95" fill="#b9b9b9"/><text x="456.8" y="407.1" textLength="22.6" lengthAdjust="spacingAndGlyphs">Not sig(132)</text><circle cx="485.2" cy="405.6" r="1.95" fill="#ef0b20"/><text x="488.6" y="407.1" textLength="31.1" lengthAdjust="spacingAndGlyphs">Up regulated(32)</text></g></g>
<g><path d="M555.3 412.2V530.5M574.3 412.2V530.5M593.3 412.2V530.5M612.3 412.2V530.5M631.3 412.2V530.5M650.3 412.2V530.5M669.3 412.2V530.5M549.4 530H675.8M549.4 518.1H675.8M549.4 506.3H675.8M549.4 494.4H675.8M549.4 482.5H675.8M549.4 470.7H675.8M549.4 458.8H675.8M549.4 446.9H675.8M549.4 435.1H675.8M549.4 423.2H675.8" stroke="#ebebeb" stroke-width="0.6" fill="none"/>
<path d="M602.8 412.2V530.5M621.8 412.2V530.5M549.4 522.3H675.8" stroke="#9a9a9a" stroke-width="0.5" stroke-dasharray="1 0.8" fill="none"/>
<path d="M597.8 528.3h0M606.6 529.7h0M588.4 523.9h0M635.3 522.6h0M626.9 527.7h0M614.3 529.7h0M594.3 526.2h0M596.6 523.7h0M630.4 522.8h0M628.9 526.7h0M601.8 527.7h0M625.1 525.6h0M633.2 525.4h0M618.1 528.9h0M612.6 529.7h0M610.8 529.7h0M636.2 522.6h0M614.9 529.7h0M634.8 523.1h0M633.4 522.6h0M612.8 529.7h0M617.8 529.7h0M593.6 524.8h0M629.5 527h0M587.3 522.9h0M600.2 527.4h0M610.7 529.7h0M639.7 524.9h0M607.5 529.7h0M619.6 529.7h0M604.4 528h0M602.4 528.2h0M634.6 525.4h0M588.1 524.8h0M626.9 525.8h0M597.8 527.2h0M594.5 524.7h0M587.1 522.6h0M634.1 522.6h0M625.2 525h0M585.8 524.5h0M638 522.6h0M607.4 527.7h0M618.9 528h0M600.9 529.4h0M609.2 529.7h0M605.8 527.3h0M603 529.7h0M587.2 525h0M627.9 526.4h0M600.7 529.7h0M638.8 523.8h0M596.2 527.6h0M587.8 525h0M622 529.7h0M587 523.5h0M598.5 524.4h0M591.5 523.3h0M627.4 526.5h0M639.2 523.6h0M598.1 527h0M586.8 523.8h0M598.4 524.9h0M630.5 524.2h0M586.5 524.6h0M598.1 528h0M597.5 524.5h0M592.6 525.6h0M635.9 523.2h0M639.3 523.9h0M634.4 522.7h0M628.3 524.4h0M612 529.7h0M596.4 523.9h0M634.3 522.6h0M603.3 528.1h0M628.8 524.6h0M629.6 524.6h0M620.8 528.1h0M599.5 525.3h0M620.5 521.9h0M620.8 517.2h0M615.3 522h0M619.5 521.6h0M620.8 518.7h0M604.4 521.4h0M614.7 519.2h0M616.7 517.3h0M607.2 522.3h0M619.9 522.2h0M648.4 527h0M602.8 512.8h0M604.7 516.9h0" stroke="#b9b9b9" stroke-width="2.7" stroke-linecap="round" fill="none"/>
<path d="M551.5 466.5h0M576.8 439.8h0M569.5 458.8h0M566.7 481.3h0M565.8 497.4h0M577.1 504.5h0M577.1 500.3h0M571.4 502.7h0M583.8 498.6h0M583.8 496.8h0M588.5 499.1h0M586.6 506.9h0M587.6 505.7h0M592.3 506.3h0M583.8 509.2h0M589.5 511h0M590 509.2h0M594.2 510.4h0M591.4 514.6h0M593.3 513.4h0M595.2 515.2h0M596.1 516.9h0M597.1 518.1h0M598 515.8h0M594.2 517.5h0M590.4 518.1h0M599 519.3h0M600.9 518.7h0M587.6 515.8h0M597.1 519.9h0M601.8 518.1h0" stroke="#22ecfe" stroke-width="2.7" stroke-linecap="round" fill="none"/>
<path d="M665 422.6h0M646.5 432.7h0M648.4 453.5h0M655 456.4h0M644.6 461.8h0M645.5 459.4h0M656.9 473h0M665.5 471.3h0M643.6 474.8h0M643.6 471.9h0M634.1 481.3h0M637.9 484.9h0M642.7 486.7h0M655 484.3h0M657.9 484.3h0M648.4 494.4h0M648.9 493.2h0M659.8 494.4h0M659.8 513.4h0M662.6 512.2h0M634.1 499.7h0M637 500.3h0M639.8 501.5h0M640.8 504.5h0M636 505.1h0M632.2 505.1h0M639.8 507.5h0M642.7 515.2h0M637 519.3h0M643.6 521.1h0M625.6 516.9h0M627.5 514.6h0M629.4 511.6h0M631.3 515.2h0M628.4 518.1h0M626.5 520.5h0M624.6 518.7h0M633.2 516.9h0M630.3 512.8h0M623.7 521.1h0M635.1 513.4h0M632.2 511h0M622.8 519.3h0" stroke="#ef0b20" stroke-width="2.7" stroke-linecap="round" fill="none"/>
<rect x="549.4" y="412.2" width="126.4" height="118.3" fill="none" stroke="#d6d6d6" stroke-width="0.8"/>
<path d="M555.3 530.5v1.5M574.3 530.5v1.5M593.3 530.5v1.5M612.3 530.5v1.5M631.3 530.5v1.5M650.3 530.5v1.5M669.3 530.5v1.5M549.4 530h-1.5M549.4 518.1h-1.5M549.4 506.3h-1.5M549.4 494.4h-1.5M549.4 482.5h-1.5M549.4 470.7h-1.5M549.4 458.8h-1.5M549.4 446.9h-1.5M549.4 435.1h-1.5M549.4 423.2h-1.5" stroke="#333" stroke-width="0.5" fill="none"/>
<g font-size="5.15" fill="#111"><text x="555.3" y="536.8" text-anchor="middle">-6</text><text x="574.3" y="536.8" text-anchor="middle">-4</text><text x="593.3" y="536.8" text-anchor="middle">-2</text><text x="612.3" y="536.8" text-anchor="middle">0</text><text x="631.3" y="536.8" text-anchor="middle">2</text><text x="650.3" y="536.8" text-anchor="middle">4</text><text x="669.3" y="536.8" text-anchor="middle">6</text><text x="547.8" y="532" text-anchor="end">0</text><text x="547.8" y="520.1" text-anchor="end">2</text><text x="547.8" y="508.3" text-anchor="end">4</text><text x="547.8" y="496.4" text-anchor="end">6</text><text x="547.8" y="484.5" text-anchor="end">8</text><text x="547.8" y="472.7" text-anchor="end">10</text><text x="547.8" y="460.8" text-anchor="end">12</text><text x="547.8" y="448.9" text-anchor="end">14</text><text x="547.8" y="437.1" text-anchor="end">16</text><text x="547.8" y="425.2" text-anchor="end">18</text></g>
<text x="584" y="545" font-size="7.9" fill="#111" textLength="57.5" lengthAdjust="spacingAndGlyphs">log<tspan font-size="5.3" dy="1.8">2</tspan><tspan dy="-1.8">(Fold Change)</tspan></text>
<text x="597.8" y="553.5" font-size="7.5" fill="#111" textLength="30.2" lengthAdjust="spacingAndGlyphs">28d vs 0d</text>
<text transform="translate(537.7 493.1) rotate(-90)" font-size="7.9" fill="#111" textLength="43.4" lengthAdjust="spacingAndGlyphs">-log<tspan font-size="5.3" dy="1.8">10</tspan><tspan dy="-1.8">(Pvalue)</tspan></text>
<g font-size="4.5" font-weight="bold" fill="#333"><circle cx="559" cy="405.6" r="1.95" fill="#22ecfe"/><text x="562.4" y="407.1" textLength="36.4" lengthAdjust="spacingAndGlyphs">Down regulated(39)</text><circle cx="604.6" cy="405.6" r="1.95" fill="#b9b9b9"/><text x="608" y="407.1" textLength="22.3" lengthAdjust="spacingAndGlyphs">Not sig(110)</text><circle cx="636" cy="405.6" r="1.95" fill="#ef0b20"/><text x="639.4" y="407.1" textLength="31.1" lengthAdjust="spacingAndGlyphs">Up regulated(51)</text></g></g>
<defs><linearGradient id="cbg" x1="0" y1="0" x2="0" y2="1"><stop offset="0" stop-color="#ff0000"/><stop offset="0.5" stop-color="#ffffff"/><stop offset="1" stop-color="#0000ff"/></linearGradient></defs>
<g><rect x="100.9" y="602.2" width="26.8" height="6.6" fill="#f8766d"/>
<rect x="127.7" y="602.2" width="26.8" height="6.6" fill="#00bf7d"/>
<rect x="154.4" y="602.2" width="26.8" height="6.6" fill="#e76bf3"/>
<rect x="181.2" y="602.2" width="26.8" height="6.6" fill="#00b0f6"/>
<rect x="207.9" y="602.2" width="26.8" height="6.6" fill="#a3a500"/>
<path d="M105.4 602.2V593.5H114.3V602.2M109.8 593.5V584H123.2V602.2M132.1 602.2V597.4H141V602.2M136.6 597.4V595.6H150V602.2M167.8 602.2V596.7H176.7V602.2M158.9 602.2V594.1H172.3V596.7M143.3 595.6V591.9H165.6V594.1M194.6 602.2V596.7H203.5V602.2M185.6 602.2V592.8H199V596.7M154.4 591.9V586.9H192.3V592.8M221.3 602.2V590.8H230.2V602.2M212.4 602.2V587.5H225.8V590.8M173.4 586.9V582.5H219.1V587.5M116.5 584V574.2H196.2V582.5" stroke="#333" stroke-width="0.7" fill="none"/>
<path d="M100.9 609.5h8.9v1.4h-8.9zM109.8 610.8h8.9v1.4h-8.9zM109.8 614.9h8.9v1.4h-8.9zM100.9 621.6h8.9v1.4h-8.9zM100.9 628.3h8.9v1.4h-8.9zM100.9 629.6h8.9v1.4h-8.9zM109.8 636.3h8.9v1.4h-8.9zM100.9 641.7h8.9v1.4h-8.9zM100.9 645.7h8.9v1.4h-8.9zM100.9 647h8.9v1.4h-8.9zM100.9 649.7h8.9v1.4h-8.9zM100.9 655.1h8.9v1.4h-8.9zM216.9 688.6h8.9v1.4h-8.9zM216.9 691.2h8.9v1.4h-8.9zM190.1 693.9h8.9v1.4h-8.9zM199 693.9h8.9v1.4h-8.9zM216.9 708.7h8.9v1.4h-8.9zM207.9 719.4h8.9v1.4h-8.9zM207.9 723.4h8.9v1.4h-8.9zM207.9 724.7h8.9v1.4h-8.9zM207.9 730.1h8.9v1.4h-8.9zM207.9 735.5h8.9v1.4h-8.9z" fill="#ff7575"/>
<path d="M109.8 609.5h8.9v1.4h-8.9zM154.4 625.6h8.9v1.4h-8.9zM118.7 629.6h8.9v1.4h-8.9zM100.9 656.4h8.9v1.4h-8.9zM100.9 659.1h8.9v1.4h-8.9zM199 659.1h8.9v1.4h-8.9zM109.8 661.8h8.9v1.4h-8.9zM136.6 671.1h8.9v1.4h-8.9zM100.9 672.5h8.9v1.4h-8.9zM109.8 672.5h8.9v1.4h-8.9zM136.6 672.5h8.9v1.4h-8.9zM100.9 673.8h8.9v1.4h-8.9zM172.3 685.9h8.9v1.4h-8.9zM145.5 688.6h8.9v1.4h-8.9zM190.1 689.9h8.9v1.4h-8.9zM199 697.9h8.9v1.4h-8.9zM181.2 700.6h8.9v1.4h-8.9zM216.9 706h8.9v1.4h-8.9zM225.8 722.1h8.9v1.4h-8.9zM225.8 730.1h8.9v1.4h-8.9zM207.9 731.4h8.9v1.4h-8.9zM207.9 734.1h8.9v1.4h-8.9zM225.8 734.1h8.9v1.4h-8.9zM207.9 738.1h8.9v1.4h-8.9z" fill="#ffaaaa"/>
<path d="M118.7 609.5h8.9v1.4h-8.9zM190.1 610.8h8.9v1.4h-8.9zM172.3 612.2h8.9v1.4h-8.9zM190.1 612.2h8.9v1.4h-8.9zM207.9 612.2h8.9v1.4h-8.9zM190.1 613.5h8.9v1.4h-8.9zM199 614.9h8.9v1.4h-8.9zM207.9 614.9h8.9v1.4h-8.9zM181.2 616.2h8.9v1.4h-8.9zM216.9 616.2h8.9v1.4h-8.9zM225.8 616.2h8.9v1.4h-8.9zM118.7 618.9h8.9v1.4h-8.9zM216.9 618.9h8.9v1.4h-8.9zM172.3 620.2h8.9v1.4h-8.9zM190.1 620.2h8.9v1.4h-8.9zM216.9 620.2h8.9v1.4h-8.9zM163.3 621.6h8.9v1.4h-8.9zM199 621.6h8.9v1.4h-8.9zM145.5 624.2h8.9v1.4h-8.9zM199 624.2h8.9v1.4h-8.9zM225.8 624.2h8.9v1.4h-8.9zM199 625.6h8.9v1.4h-8.9zM199 626.9h8.9v1.4h-8.9zM207.9 626.9h8.9v1.4h-8.9zM207.9 628.3h8.9v1.4h-8.9zM216.9 628.3h8.9v1.4h-8.9zM190.1 629.6h8.9v1.4h-8.9zM216.9 629.6h8.9v1.4h-8.9zM172.3 630.9h8.9v1.4h-8.9zM181.2 632.3h8.9v1.4h-8.9zM181.2 633.6h8.9v1.4h-8.9zM190.1 635h8.9v1.4h-8.9zM154.4 637.6h8.9v1.4h-8.9zM190.1 637.6h8.9v1.4h-8.9zM199 637.6h8.9v1.4h-8.9zM207.9 637.6h8.9v1.4h-8.9zM225.8 637.6h8.9v1.4h-8.9zM154.4 639h8.9v1.4h-8.9zM199 639h8.9v1.4h-8.9zM190.1 640.3h8.9v1.4h-8.9zM225.8 640.3h8.9v1.4h-8.9zM216.9 641.7h8.9v1.4h-8.9zM181.2 643h8.9v1.4h-8.9zM216.9 643h8.9v1.4h-8.9zM199 644.3h8.9v1.4h-8.9zM181.2 645.7h8.9v1.4h-8.9zM225.8 645.7h8.9v1.4h-8.9zM181.2 647h8.9v1.4h-8.9zM127.7 648.4h8.9v1.4h-8.9zM181.2 648.4h8.9v1.4h-8.9zM190.1 648.4h8.9v1.4h-8.9zM181.2 651h8.9v1.4h-8.9zM207.9 652.4h8.9v1.4h-8.9zM172.3 655.1h8.9v1.4h-8.9zM207.9 655.1h8.9v1.4h-8.9zM199 656.4h8.9v1.4h-8.9zM199 657.7h8.9v1.4h-8.9zM207.9 659.1h8.9v1.4h-8.9zM154.4 660.4h8.9v1.4h-8.9zM181.2 663.1h8.9v1.4h-8.9zM216.9 663.1h8.9v1.4h-8.9zM181.2 664.4h8.9v1.4h-8.9zM199 664.4h8.9v1.4h-8.9zM207.9 664.4h8.9v1.4h-8.9zM207.9 668.5h8.9v1.4h-8.9zM181.2 669.8h8.9v1.4h-8.9zM216.9 669.8h8.9v1.4h-8.9zM181.2 672.5h8.9v1.4h-8.9zM225.8 673.8h8.9v1.4h-8.9zM216.9 675.2h8.9v1.4h-8.9zM109.8 676.5h8.9v1.4h-8.9zM118.7 676.5h8.9v1.4h-8.9zM181.2 676.5h8.9v1.4h-8.9zM118.7 681.9h8.9v1.4h-8.9zM109.8 685.9h8.9v1.4h-8.9zM100.9 691.2h8.9v1.4h-8.9zM100.9 692.6h8.9v1.4h-8.9zM118.7 703.3h8.9v1.4h-8.9zM100.9 704.6h8.9v1.4h-8.9zM127.7 708.7h8.9v1.4h-8.9zM100.9 712.7h8.9v1.4h-8.9zM100.9 715.4h8.9v1.4h-8.9zM118.7 715.4h8.9v1.4h-8.9zM109.8 716.7h8.9v1.4h-8.9zM118.7 716.7h8.9v1.4h-8.9zM118.7 718h8.9v1.4h-8.9zM109.8 723.4h8.9v1.4h-8.9zM118.7 726.1h8.9v1.4h-8.9zM136.6 727.4h8.9v1.4h-8.9zM172.3 730.1h8.9v1.4h-8.9zM100.9 731.4h8.9v1.4h-8.9zM118.7 735.5h8.9v1.4h-8.9zM163.3 739.5h8.9v1.4h-8.9zM154.4 740.8h8.9v1.4h-8.9z" fill="#cacaff"/>
<path d="M127.7 609.5h8.9v1.4h-8.9zM145.5 614.9h8.9v1.4h-8.9zM154.4 614.9h8.9v1.4h-8.9zM118.7 617.5h8.9v1.4h-8.9zM136.6 617.5h8.9v1.4h-8.9zM154.4 617.5h8.9v1.4h-8.9zM154.4 618.9h8.9v1.4h-8.9zM163.3 618.9h8.9v1.4h-8.9zM172.3 621.6h8.9v1.4h-8.9zM145.5 622.9h8.9v1.4h-8.9zM118.7 624.2h8.9v1.4h-8.9zM163.3 624.2h8.9v1.4h-8.9zM163.3 625.6h8.9v1.4h-8.9zM127.7 626.9h8.9v1.4h-8.9zM154.4 626.9h8.9v1.4h-8.9zM181.2 626.9h8.9v1.4h-8.9zM136.6 628.3h8.9v1.4h-8.9zM154.4 628.3h8.9v1.4h-8.9zM172.3 628.3h8.9v1.4h-8.9zM127.7 630.9h8.9v1.4h-8.9zM163.3 630.9h8.9v1.4h-8.9zM136.6 633.6h8.9v1.4h-8.9zM163.3 633.6h8.9v1.4h-8.9zM172.3 635h8.9v1.4h-8.9zM154.4 636.3h8.9v1.4h-8.9zM163.3 636.3h8.9v1.4h-8.9zM181.2 636.3h8.9v1.4h-8.9zM136.6 639h8.9v1.4h-8.9zM136.6 641.7h8.9v1.4h-8.9zM154.4 641.7h8.9v1.4h-8.9zM163.3 641.7h8.9v1.4h-8.9zM172.3 641.7h8.9v1.4h-8.9zM154.4 643h8.9v1.4h-8.9zM172.3 643h8.9v1.4h-8.9zM154.4 644.3h8.9v1.4h-8.9zM136.6 645.7h8.9v1.4h-8.9zM145.5 645.7h8.9v1.4h-8.9zM163.3 645.7h8.9v1.4h-8.9zM172.3 645.7h8.9v1.4h-8.9zM207.9 645.7h8.9v1.4h-8.9zM145.5 649.7h8.9v1.4h-8.9zM199 649.7h8.9v1.4h-8.9zM154.4 651h8.9v1.4h-8.9zM145.5 652.4h8.9v1.4h-8.9zM154.4 652.4h8.9v1.4h-8.9zM163.3 656.4h8.9v1.4h-8.9zM163.3 657.7h8.9v1.4h-8.9zM118.7 659.1h8.9v1.4h-8.9zM154.4 664.4h8.9v1.4h-8.9zM181.2 665.8h8.9v1.4h-8.9zM163.3 667.1h8.9v1.4h-8.9zM118.7 669.8h8.9v1.4h-8.9zM207.9 671.1h8.9v1.4h-8.9zM225.8 671.1h8.9v1.4h-8.9zM118.7 675.2h8.9v1.4h-8.9zM154.4 675.2h8.9v1.4h-8.9zM207.9 676.5h8.9v1.4h-8.9zM225.8 676.5h8.9v1.4h-8.9zM190.1 677.8h8.9v1.4h-8.9zM154.4 680.5h8.9v1.4h-8.9zM127.7 683.2h8.9v1.4h-8.9zM154.4 683.2h8.9v1.4h-8.9zM199 683.2h8.9v1.4h-8.9zM225.8 683.2h8.9v1.4h-8.9zM199 685.9h8.9v1.4h-8.9zM109.8 687.2h8.9v1.4h-8.9zM181.2 687.2h8.9v1.4h-8.9zM199 687.2h8.9v1.4h-8.9zM154.4 689.9h8.9v1.4h-8.9zM163.3 691.2h8.9v1.4h-8.9zM145.5 692.6h8.9v1.4h-8.9zM145.5 695.3h8.9v1.4h-8.9zM163.3 696.6h8.9v1.4h-8.9zM216.9 699.3h8.9v1.4h-8.9zM154.4 700.6h8.9v1.4h-8.9zM154.4 702h8.9v1.4h-8.9zM163.3 702h8.9v1.4h-8.9zM225.8 702h8.9v1.4h-8.9zM127.7 703.3h8.9v1.4h-8.9zM127.7 704.6h8.9v1.4h-8.9zM163.3 704.6h8.9v1.4h-8.9zM207.9 704.6h8.9v1.4h-8.9zM145.5 708.7h8.9v1.4h-8.9zM136.6 710h8.9v1.4h-8.9zM172.3 710h8.9v1.4h-8.9zM127.7 711.3h8.9v1.4h-8.9zM154.4 711.3h8.9v1.4h-8.9zM163.3 711.3h8.9v1.4h-8.9zM136.6 714h8.9v1.4h-8.9zM216.9 716.7h8.9v1.4h-8.9zM154.4 720.7h8.9v1.4h-8.9zM163.3 720.7h8.9v1.4h-8.9zM145.5 722.1h8.9v1.4h-8.9zM136.6 723.4h8.9v1.4h-8.9zM136.6 726.1h8.9v1.4h-8.9zM163.3 726.1h8.9v1.4h-8.9zM145.5 727.4h8.9v1.4h-8.9zM127.7 731.4h8.9v1.4h-8.9zM145.5 735.5h8.9v1.4h-8.9zM163.3 735.5h8.9v1.4h-8.9zM154.4 736.8h8.9v1.4h-8.9zM154.4 738.1h8.9v1.4h-8.9zM163.3 740.8h8.9v1.4h-8.9zM118.7 742.2h8.9v1.4h-8.9z" fill="#ffffff"/>
<path d="M136.6 609.5h8.9v1.4h-8.9zM145.5 609.5h8.9v1.4h-8.9zM163.3 609.5h8.9v1.4h-8.9zM181.2 609.5h8.9v1.4h-8.9zM190.1 609.5h8.9v1.4h-8.9zM136.6 610.8h8.9v1.4h-8.9zM127.7 612.2h8.9v1.4h-8.9zM181.2 612.2h8.9v1.4h-8.9zM163.3 613.5h8.9v1.4h-8.9zM172.3 613.5h8.9v1.4h-8.9zM127.7 614.9h8.9v1.4h-8.9zM172.3 614.9h8.9v1.4h-8.9zM190.1 614.9h8.9v1.4h-8.9zM172.3 617.5h8.9v1.4h-8.9zM207.9 617.5h8.9v1.4h-8.9zM127.7 621.6h8.9v1.4h-8.9zM181.2 621.6h8.9v1.4h-8.9zM118.7 622.9h8.9v1.4h-8.9zM190.1 622.9h8.9v1.4h-8.9zM172.3 624.2h8.9v1.4h-8.9zM136.6 625.6h8.9v1.4h-8.9zM190.1 626.9h8.9v1.4h-8.9zM127.7 628.3h8.9v1.4h-8.9zM199 628.3h8.9v1.4h-8.9zM127.7 629.6h8.9v1.4h-8.9zM163.3 629.6h8.9v1.4h-8.9zM136.6 630.9h8.9v1.4h-8.9zM127.7 632.3h8.9v1.4h-8.9zM199 632.3h8.9v1.4h-8.9zM127.7 633.6h8.9v1.4h-8.9zM172.3 633.6h8.9v1.4h-8.9zM199 633.6h8.9v1.4h-8.9zM181.2 635h8.9v1.4h-8.9zM199 635h8.9v1.4h-8.9zM172.3 636.3h8.9v1.4h-8.9zM190.1 636.3h8.9v1.4h-8.9zM225.8 636.3h8.9v1.4h-8.9zM163.3 639h8.9v1.4h-8.9zM181.2 639h8.9v1.4h-8.9zM127.7 640.3h8.9v1.4h-8.9zM154.4 640.3h8.9v1.4h-8.9zM136.6 644.3h8.9v1.4h-8.9zM172.3 644.3h8.9v1.4h-8.9zM225.8 644.3h8.9v1.4h-8.9zM154.4 645.7h8.9v1.4h-8.9zM216.9 645.7h8.9v1.4h-8.9zM127.7 647h8.9v1.4h-8.9zM154.4 647h8.9v1.4h-8.9zM216.9 647h8.9v1.4h-8.9zM172.3 648.4h8.9v1.4h-8.9zM216.9 649.7h8.9v1.4h-8.9zM172.3 651h8.9v1.4h-8.9zM127.7 652.4h8.9v1.4h-8.9zM163.3 652.4h8.9v1.4h-8.9zM181.2 652.4h8.9v1.4h-8.9zM216.9 652.4h8.9v1.4h-8.9zM154.4 653.7h8.9v1.4h-8.9zM163.3 653.7h8.9v1.4h-8.9zM172.3 653.7h8.9v1.4h-8.9zM136.6 656.4h8.9v1.4h-8.9zM154.4 656.4h8.9v1.4h-8.9zM207.9 656.4h8.9v1.4h-8.9zM190.1 657.7h8.9v1.4h-8.9zM127.7 659.1h8.9v1.4h-8.9zM154.4 659.1h8.9v1.4h-8.9zM172.3 659.1h8.9v1.4h-8.9zM127.7 661.8h8.9v1.4h-8.9zM163.3 661.8h8.9v1.4h-8.9zM190.1 663.1h8.9v1.4h-8.9zM190.1 665.8h8.9v1.4h-8.9zM199 667.1h8.9v1.4h-8.9zM172.3 668.5h8.9v1.4h-8.9zM172.3 669.8h8.9v1.4h-8.9zM190.1 671.1h8.9v1.4h-8.9zM190.1 673.8h8.9v1.4h-8.9zM199 677.8h8.9v1.4h-8.9zM181.2 679.2h8.9v1.4h-8.9zM181.2 680.5h8.9v1.4h-8.9zM136.6 683.2h8.9v1.4h-8.9zM145.5 683.2h8.9v1.4h-8.9zM163.3 683.2h8.9v1.4h-8.9zM181.2 683.2h8.9v1.4h-8.9zM118.7 685.9h8.9v1.4h-8.9zM136.6 689.9h8.9v1.4h-8.9zM163.3 689.9h8.9v1.4h-8.9zM207.9 689.9h8.9v1.4h-8.9zM216.9 692.6h8.9v1.4h-8.9zM118.7 695.3h8.9v1.4h-8.9zM136.6 697.9h8.9v1.4h-8.9zM145.5 697.9h8.9v1.4h-8.9zM136.6 699.3h8.9v1.4h-8.9zM127.7 700.6h8.9v1.4h-8.9zM136.6 700.6h8.9v1.4h-8.9zM127.7 702h8.9v1.4h-8.9zM136.6 703.3h8.9v1.4h-8.9zM172.3 703.3h8.9v1.4h-8.9zM118.7 707.3h8.9v1.4h-8.9zM136.6 708.7h8.9v1.4h-8.9zM163.3 708.7h8.9v1.4h-8.9zM127.7 710h8.9v1.4h-8.9zM127.7 712.7h8.9v1.4h-8.9zM127.7 715.4h8.9v1.4h-8.9zM127.7 716.7h8.9v1.4h-8.9zM136.6 716.7h8.9v1.4h-8.9zM136.6 718h8.9v1.4h-8.9zM172.3 718h8.9v1.4h-8.9zM127.7 719.4h8.9v1.4h-8.9zM145.5 719.4h8.9v1.4h-8.9zM127.7 720.7h8.9v1.4h-8.9zM136.6 720.7h8.9v1.4h-8.9zM172.3 724.7h8.9v1.4h-8.9zM145.5 726.1h8.9v1.4h-8.9zM172.3 727.4h8.9v1.4h-8.9zM136.6 728.8h8.9v1.4h-8.9zM154.4 728.8h8.9v1.4h-8.9zM127.7 730.1h8.9v1.4h-8.9zM154.4 731.4h8.9v1.4h-8.9zM145.5 732.8h8.9v1.4h-8.9zM127.7 734.1h8.9v1.4h-8.9zM172.3 735.5h8.9v1.4h-8.9zM127.7 736.8h8.9v1.4h-8.9zM136.6 736.8h8.9v1.4h-8.9zM163.3 736.8h8.9v1.4h-8.9zM216.9 736.8h8.9v1.4h-8.9zM127.7 738.1h8.9v1.4h-8.9zM145.5 738.1h8.9v1.4h-8.9zM172.3 738.1h8.9v1.4h-8.9zM172.3 739.5h8.9v1.4h-8.9zM181.2 739.5h8.9v1.4h-8.9zM216.9 740.8h8.9v1.4h-8.9z" fill="#eaeaff"/>
<path d="M154.4 609.5h8.9v1.4h-8.9zM172.3 609.5h8.9v1.4h-8.9zM216.9 609.5h8.9v1.4h-8.9zM225.8 609.5h8.9v1.4h-8.9zM145.5 610.8h8.9v1.4h-8.9zM145.5 616.2h8.9v1.4h-8.9zM127.7 617.5h8.9v1.4h-8.9zM163.3 617.5h8.9v1.4h-8.9zM181.2 617.5h8.9v1.4h-8.9zM145.5 618.9h8.9v1.4h-8.9zM172.3 618.9h8.9v1.4h-8.9zM136.6 621.6h8.9v1.4h-8.9zM127.7 622.9h8.9v1.4h-8.9zM172.3 622.9h8.9v1.4h-8.9zM181.2 624.2h8.9v1.4h-8.9zM172.3 625.6h8.9v1.4h-8.9zM163.3 626.9h8.9v1.4h-8.9zM225.8 628.3h8.9v1.4h-8.9zM136.6 629.6h8.9v1.4h-8.9zM145.5 629.6h8.9v1.4h-8.9zM136.6 632.3h8.9v1.4h-8.9zM163.3 632.3h8.9v1.4h-8.9zM136.6 635h8.9v1.4h-8.9zM163.3 635h8.9v1.4h-8.9zM145.5 636.3h8.9v1.4h-8.9zM136.6 637.6h8.9v1.4h-8.9zM145.5 637.6h8.9v1.4h-8.9zM172.3 637.6h8.9v1.4h-8.9zM127.7 639h8.9v1.4h-8.9zM172.3 639h8.9v1.4h-8.9zM207.9 639h8.9v1.4h-8.9zM216.9 639h8.9v1.4h-8.9zM136.6 640.3h8.9v1.4h-8.9zM145.5 641.7h8.9v1.4h-8.9zM163.3 643h8.9v1.4h-8.9zM199 643h8.9v1.4h-8.9zM127.7 644.3h8.9v1.4h-8.9zM163.3 647h8.9v1.4h-8.9zM190.1 647h8.9v1.4h-8.9zM181.2 649.7h8.9v1.4h-8.9zM225.8 649.7h8.9v1.4h-8.9zM163.3 651h8.9v1.4h-8.9zM225.8 652.4h8.9v1.4h-8.9zM127.7 653.7h8.9v1.4h-8.9zM127.7 655.1h8.9v1.4h-8.9zM136.6 657.7h8.9v1.4h-8.9zM172.3 657.7h8.9v1.4h-8.9zM163.3 659.1h8.9v1.4h-8.9zM118.7 660.4h8.9v1.4h-8.9zM145.5 660.4h8.9v1.4h-8.9zM136.6 661.8h8.9v1.4h-8.9zM154.4 661.8h8.9v1.4h-8.9zM207.9 665.8h8.9v1.4h-8.9zM216.9 665.8h8.9v1.4h-8.9zM199 673.8h8.9v1.4h-8.9zM163.3 675.2h8.9v1.4h-8.9zM190.1 676.5h8.9v1.4h-8.9zM216.9 676.5h8.9v1.4h-8.9zM145.5 679.2h8.9v1.4h-8.9zM190.1 680.5h8.9v1.4h-8.9zM109.8 681.9h8.9v1.4h-8.9zM181.2 681.9h8.9v1.4h-8.9zM199 681.9h8.9v1.4h-8.9zM216.9 683.2h8.9v1.4h-8.9zM145.5 684.5h8.9v1.4h-8.9zM199 684.5h8.9v1.4h-8.9zM181.2 685.9h8.9v1.4h-8.9zM190.1 687.2h8.9v1.4h-8.9zM127.7 692.6h8.9v1.4h-8.9zM172.3 692.6h8.9v1.4h-8.9zM225.8 692.6h8.9v1.4h-8.9zM145.5 696.6h8.9v1.4h-8.9zM216.9 697.9h8.9v1.4h-8.9zM145.5 699.3h8.9v1.4h-8.9zM207.9 699.3h8.9v1.4h-8.9zM145.5 700.6h8.9v1.4h-8.9zM163.3 700.6h8.9v1.4h-8.9zM145.5 702h8.9v1.4h-8.9zM118.7 704.6h8.9v1.4h-8.9zM145.5 704.6h8.9v1.4h-8.9zM136.6 706h8.9v1.4h-8.9zM127.7 707.3h8.9v1.4h-8.9zM154.4 707.3h8.9v1.4h-8.9zM145.5 710h8.9v1.4h-8.9zM145.5 712.7h8.9v1.4h-8.9zM163.3 712.7h8.9v1.4h-8.9zM145.5 715.4h8.9v1.4h-8.9zM154.4 715.4h8.9v1.4h-8.9zM163.3 716.7h8.9v1.4h-8.9zM154.4 718h8.9v1.4h-8.9zM136.6 719.4h8.9v1.4h-8.9zM154.4 719.4h8.9v1.4h-8.9zM172.3 720.7h8.9v1.4h-8.9zM216.9 720.7h8.9v1.4h-8.9zM127.7 722.1h8.9v1.4h-8.9zM136.6 722.1h8.9v1.4h-8.9zM154.4 722.1h8.9v1.4h-8.9zM172.3 722.1h8.9v1.4h-8.9zM127.7 723.4h8.9v1.4h-8.9zM154.4 724.7h8.9v1.4h-8.9zM190.1 724.7h8.9v1.4h-8.9zM163.3 727.4h8.9v1.4h-8.9zM127.7 728.8h8.9v1.4h-8.9zM145.5 730.1h8.9v1.4h-8.9zM136.6 731.4h8.9v1.4h-8.9zM172.3 731.4h8.9v1.4h-8.9zM127.7 732.8h8.9v1.4h-8.9zM136.6 732.8h8.9v1.4h-8.9zM154.4 732.8h8.9v1.4h-8.9zM172.3 732.8h8.9v1.4h-8.9zM154.4 734.1h8.9v1.4h-8.9zM190.1 734.1h8.9v1.4h-8.9zM127.7 735.5h8.9v1.4h-8.9zM136.6 735.5h8.9v1.4h-8.9zM172.3 736.8h8.9v1.4h-8.9zM190.1 736.8h8.9v1.4h-8.9zM127.7 739.5h8.9v1.4h-8.9zM199 739.5h8.9v1.4h-8.9zM136.6 742.2h8.9v1.4h-8.9z" fill="#f4f4ff"/>
<path d="M199 609.5h8.9v1.4h-8.9zM207.9 609.5h8.9v1.4h-8.9zM118.7 610.8h8.9v1.4h-8.9zM154.4 610.8h8.9v1.4h-8.9zM145.5 612.2h8.9v1.4h-8.9zM216.9 612.2h8.9v1.4h-8.9zM225.8 612.2h8.9v1.4h-8.9zM127.7 613.5h8.9v1.4h-8.9zM118.7 614.9h8.9v1.4h-8.9zM207.9 616.2h8.9v1.4h-8.9zM181.2 620.2h8.9v1.4h-8.9zM199 622.9h8.9v1.4h-8.9zM207.9 625.6h8.9v1.4h-8.9zM216.9 625.6h8.9v1.4h-8.9zM225.8 625.6h8.9v1.4h-8.9zM190.1 632.3h8.9v1.4h-8.9zM225.8 632.3h8.9v1.4h-8.9zM190.1 633.6h8.9v1.4h-8.9zM216.9 635h8.9v1.4h-8.9zM225.8 635h8.9v1.4h-8.9zM207.9 640.3h8.9v1.4h-8.9zM207.9 643h8.9v1.4h-8.9zM199 645.7h8.9v1.4h-8.9zM199 647h8.9v1.4h-8.9zM225.8 647h8.9v1.4h-8.9zM199 648.4h8.9v1.4h-8.9zM216.9 648.4h8.9v1.4h-8.9zM225.8 651h8.9v1.4h-8.9zM190.1 652.4h8.9v1.4h-8.9zM207.9 653.7h8.9v1.4h-8.9zM216.9 653.7h8.9v1.4h-8.9zM225.8 653.7h8.9v1.4h-8.9zM136.6 655.1h8.9v1.4h-8.9zM154.4 655.1h8.9v1.4h-8.9zM181.2 655.1h8.9v1.4h-8.9zM190.1 655.1h8.9v1.4h-8.9zM172.3 656.4h8.9v1.4h-8.9zM207.9 657.7h8.9v1.4h-8.9zM216.9 657.7h8.9v1.4h-8.9zM163.3 660.4h8.9v1.4h-8.9zM207.9 660.4h8.9v1.4h-8.9zM225.8 660.4h8.9v1.4h-8.9zM207.9 661.8h8.9v1.4h-8.9zM199 665.8h8.9v1.4h-8.9zM181.2 667.1h8.9v1.4h-8.9zM190.1 667.1h8.9v1.4h-8.9zM199 668.5h8.9v1.4h-8.9zM190.1 669.8h8.9v1.4h-8.9zM225.8 669.8h8.9v1.4h-8.9zM190.1 672.5h8.9v1.4h-8.9zM199 675.2h8.9v1.4h-8.9zM100.9 677.8h8.9v1.4h-8.9zM100.9 680.5h8.9v1.4h-8.9zM109.8 680.5h8.9v1.4h-8.9zM109.8 683.2h8.9v1.4h-8.9zM109.8 684.5h8.9v1.4h-8.9zM118.7 687.2h8.9v1.4h-8.9zM100.9 688.6h8.9v1.4h-8.9zM109.8 691.2h8.9v1.4h-8.9zM118.7 692.6h8.9v1.4h-8.9zM100.9 693.9h8.9v1.4h-8.9zM109.8 693.9h8.9v1.4h-8.9zM118.7 693.9h8.9v1.4h-8.9zM100.9 695.3h8.9v1.4h-8.9zM100.9 697.9h8.9v1.4h-8.9zM109.8 697.9h8.9v1.4h-8.9zM100.9 702h8.9v1.4h-8.9zM100.9 703.3h8.9v1.4h-8.9zM109.8 703.3h8.9v1.4h-8.9zM109.8 704.6h8.9v1.4h-8.9zM100.9 708.7h8.9v1.4h-8.9zM145.5 711.3h8.9v1.4h-8.9zM118.7 719.4h8.9v1.4h-8.9zM118.7 720.7h8.9v1.4h-8.9zM100.9 722.1h8.9v1.4h-8.9zM100.9 723.4h8.9v1.4h-8.9zM109.8 724.7h8.9v1.4h-8.9zM109.8 726.1h8.9v1.4h-8.9zM109.8 728.8h8.9v1.4h-8.9zM118.7 728.8h8.9v1.4h-8.9zM100.9 735.5h8.9v1.4h-8.9zM109.8 738.1h8.9v1.4h-8.9zM109.8 740.8h8.9v1.4h-8.9zM118.7 740.8h8.9v1.4h-8.9zM127.7 740.8h8.9v1.4h-8.9zM100.9 742.2h8.9v1.4h-8.9z" fill="#bfbfff"/>
<path d="M100.9 610.8h8.9v1.4h-8.9zM100.9 612.2h8.9v1.4h-8.9zM109.8 620.2h8.9v1.4h-8.9zM109.8 630.9h8.9v1.4h-8.9zM100.9 640.3h8.9v1.4h-8.9zM100.9 648.4h8.9v1.4h-8.9zM109.8 659.1h8.9v1.4h-8.9zM109.8 665.8h8.9v1.4h-8.9zM109.8 671.1h8.9v1.4h-8.9zM127.7 671.1h8.9v1.4h-8.9zM109.8 673.8h8.9v1.4h-8.9zM207.9 688.6h8.9v1.4h-8.9zM216.9 689.9h8.9v1.4h-8.9zM199 691.2h8.9v1.4h-8.9zM199 692.6h8.9v1.4h-8.9zM181.2 693.9h8.9v1.4h-8.9zM181.2 699.3h8.9v1.4h-8.9zM199 699.3h8.9v1.4h-8.9zM199 702h8.9v1.4h-8.9zM181.2 704.6h8.9v1.4h-8.9zM199 704.6h8.9v1.4h-8.9zM225.8 704.6h8.9v1.4h-8.9zM225.8 707.3h8.9v1.4h-8.9zM225.8 719.4h8.9v1.4h-8.9zM225.8 720.7h8.9v1.4h-8.9zM181.2 726.1h8.9v1.4h-8.9zM225.8 731.4h8.9v1.4h-8.9zM225.8 732.8h8.9v1.4h-8.9zM225.8 742.2h8.9v1.4h-8.9z" fill="#ff9595"/>
<path d="M127.7 610.8h8.9v1.4h-8.9zM163.3 610.8h8.9v1.4h-8.9zM136.6 612.2h8.9v1.4h-8.9zM136.6 613.5h8.9v1.4h-8.9zM145.5 613.5h8.9v1.4h-8.9zM199 613.5h8.9v1.4h-8.9zM181.2 614.9h8.9v1.4h-8.9zM216.9 614.9h8.9v1.4h-8.9zM225.8 614.9h8.9v1.4h-8.9zM118.7 616.2h8.9v1.4h-8.9zM127.7 616.2h8.9v1.4h-8.9zM136.6 616.2h8.9v1.4h-8.9zM163.3 616.2h8.9v1.4h-8.9zM172.3 616.2h8.9v1.4h-8.9zM199 617.5h8.9v1.4h-8.9zM216.9 617.5h8.9v1.4h-8.9zM199 618.9h8.9v1.4h-8.9zM118.7 620.2h8.9v1.4h-8.9zM127.7 620.2h8.9v1.4h-8.9zM145.5 620.2h8.9v1.4h-8.9zM163.3 620.2h8.9v1.4h-8.9zM127.7 624.2h8.9v1.4h-8.9zM136.6 624.2h8.9v1.4h-8.9zM216.9 624.2h8.9v1.4h-8.9zM190.1 625.6h8.9v1.4h-8.9zM172.3 626.9h8.9v1.4h-8.9zM216.9 626.9h8.9v1.4h-8.9zM163.3 628.3h8.9v1.4h-8.9zM190.1 628.3h8.9v1.4h-8.9zM145.5 630.9h8.9v1.4h-8.9zM154.4 630.9h8.9v1.4h-8.9zM181.2 630.9h8.9v1.4h-8.9zM190.1 630.9h8.9v1.4h-8.9zM216.9 630.9h8.9v1.4h-8.9zM172.3 632.3h8.9v1.4h-8.9zM216.9 633.6h8.9v1.4h-8.9zM199 636.3h8.9v1.4h-8.9zM127.7 637.6h8.9v1.4h-8.9zM190.1 639h8.9v1.4h-8.9zM225.8 639h8.9v1.4h-8.9zM181.2 640.3h8.9v1.4h-8.9zM216.9 640.3h8.9v1.4h-8.9zM190.1 643h8.9v1.4h-8.9zM181.2 644.3h8.9v1.4h-8.9zM207.9 644.3h8.9v1.4h-8.9zM145.5 648.4h8.9v1.4h-8.9zM154.4 648.4h8.9v1.4h-8.9zM190.1 649.7h8.9v1.4h-8.9zM145.5 651h8.9v1.4h-8.9zM190.1 651h8.9v1.4h-8.9zM207.9 651h8.9v1.4h-8.9zM216.9 651h8.9v1.4h-8.9zM199 652.4h8.9v1.4h-8.9zM163.3 655.1h8.9v1.4h-8.9zM127.7 657.7h8.9v1.4h-8.9zM181.2 657.7h8.9v1.4h-8.9zM145.5 659.1h8.9v1.4h-8.9zM216.9 659.1h8.9v1.4h-8.9zM225.8 659.1h8.9v1.4h-8.9zM127.7 660.4h8.9v1.4h-8.9zM145.5 661.8h8.9v1.4h-8.9zM190.1 664.4h8.9v1.4h-8.9zM216.9 664.4h8.9v1.4h-8.9zM225.8 664.4h8.9v1.4h-8.9zM181.2 668.5h8.9v1.4h-8.9zM216.9 668.5h8.9v1.4h-8.9zM225.8 668.5h8.9v1.4h-8.9zM199 671.1h8.9v1.4h-8.9zM199 672.5h8.9v1.4h-8.9zM216.9 673.8h8.9v1.4h-8.9zM181.2 675.2h8.9v1.4h-8.9zM109.8 677.8h8.9v1.4h-8.9zM118.7 677.8h8.9v1.4h-8.9zM118.7 679.2h8.9v1.4h-8.9zM190.1 679.2h8.9v1.4h-8.9zM199 679.2h8.9v1.4h-8.9zM118.7 680.5h8.9v1.4h-8.9zM199 680.5h8.9v1.4h-8.9zM118.7 683.2h8.9v1.4h-8.9zM190.1 683.2h8.9v1.4h-8.9zM181.2 684.5h8.9v1.4h-8.9zM190.1 684.5h8.9v1.4h-8.9zM109.8 688.6h8.9v1.4h-8.9zM118.7 688.6h8.9v1.4h-8.9zM118.7 691.2h8.9v1.4h-8.9zM136.6 692.6h8.9v1.4h-8.9zM100.9 699.3h8.9v1.4h-8.9zM109.8 699.3h8.9v1.4h-8.9zM118.7 700.6h8.9v1.4h-8.9zM118.7 702h8.9v1.4h-8.9zM136.6 702h8.9v1.4h-8.9zM136.6 704.6h8.9v1.4h-8.9zM127.7 706h8.9v1.4h-8.9zM145.5 706h8.9v1.4h-8.9zM136.6 707.3h8.9v1.4h-8.9zM100.9 710h8.9v1.4h-8.9zM118.7 710h8.9v1.4h-8.9zM136.6 711.3h8.9v1.4h-8.9zM136.6 712.7h8.9v1.4h-8.9zM118.7 714h8.9v1.4h-8.9zM127.7 714h8.9v1.4h-8.9zM136.6 715.4h8.9v1.4h-8.9zM145.5 718h8.9v1.4h-8.9zM100.9 720.7h8.9v1.4h-8.9zM145.5 720.7h8.9v1.4h-8.9zM118.7 723.4h8.9v1.4h-8.9zM145.5 723.4h8.9v1.4h-8.9zM136.6 724.7h8.9v1.4h-8.9zM145.5 724.7h8.9v1.4h-8.9zM163.3 724.7h8.9v1.4h-8.9zM100.9 726.1h8.9v1.4h-8.9zM154.4 726.1h8.9v1.4h-8.9zM100.9 728.8h8.9v1.4h-8.9zM145.5 728.8h8.9v1.4h-8.9zM163.3 728.8h8.9v1.4h-8.9zM118.7 730.1h8.9v1.4h-8.9zM154.4 730.1h8.9v1.4h-8.9zM145.5 731.4h8.9v1.4h-8.9zM163.3 731.4h8.9v1.4h-8.9zM118.7 734.1h8.9v1.4h-8.9zM172.3 734.1h8.9v1.4h-8.9zM154.4 735.5h8.9v1.4h-8.9zM216.9 735.5h8.9v1.4h-8.9zM118.7 736.8h8.9v1.4h-8.9zM154.4 739.5h8.9v1.4h-8.9zM145.5 740.8h8.9v1.4h-8.9zM109.8 742.2h8.9v1.4h-8.9z" fill="#dfdfff"/>
<path d="M172.3 610.8h8.9v1.4h-8.9zM118.7 612.2h8.9v1.4h-8.9zM163.3 612.2h8.9v1.4h-8.9zM199 612.2h8.9v1.4h-8.9zM181.2 613.5h8.9v1.4h-8.9zM216.9 613.5h8.9v1.4h-8.9zM154.4 616.2h8.9v1.4h-8.9zM145.5 617.5h8.9v1.4h-8.9zM225.8 617.5h8.9v1.4h-8.9zM136.6 618.9h8.9v1.4h-8.9zM181.2 618.9h8.9v1.4h-8.9zM207.9 618.9h8.9v1.4h-8.9zM136.6 620.2h8.9v1.4h-8.9zM216.9 621.6h8.9v1.4h-8.9zM225.8 621.6h8.9v1.4h-8.9zM181.2 622.9h8.9v1.4h-8.9zM207.9 622.9h8.9v1.4h-8.9zM216.9 622.9h8.9v1.4h-8.9zM225.8 622.9h8.9v1.4h-8.9zM207.9 624.2h8.9v1.4h-8.9zM127.7 625.6h8.9v1.4h-8.9zM181.2 625.6h8.9v1.4h-8.9zM181.2 628.3h8.9v1.4h-8.9zM154.4 629.6h8.9v1.4h-8.9zM181.2 629.6h8.9v1.4h-8.9zM199 629.6h8.9v1.4h-8.9zM199 630.9h8.9v1.4h-8.9zM216.9 632.3h8.9v1.4h-8.9zM207.9 633.6h8.9v1.4h-8.9zM225.8 633.6h8.9v1.4h-8.9zM207.9 636.3h8.9v1.4h-8.9zM216.9 636.3h8.9v1.4h-8.9zM216.9 637.6h8.9v1.4h-8.9zM163.3 640.3h8.9v1.4h-8.9zM172.3 640.3h8.9v1.4h-8.9zM190.1 641.7h8.9v1.4h-8.9zM199 641.7h8.9v1.4h-8.9zM225.8 643h8.9v1.4h-8.9zM216.9 644.3h8.9v1.4h-8.9zM127.7 645.7h8.9v1.4h-8.9zM190.1 645.7h8.9v1.4h-8.9zM145.5 647h8.9v1.4h-8.9zM136.6 648.4h8.9v1.4h-8.9zM163.3 648.4h8.9v1.4h-8.9zM207.9 649.7h8.9v1.4h-8.9zM127.7 651h8.9v1.4h-8.9zM136.6 653.7h8.9v1.4h-8.9zM145.5 653.7h8.9v1.4h-8.9zM181.2 653.7h8.9v1.4h-8.9zM190.1 653.7h8.9v1.4h-8.9zM199 653.7h8.9v1.4h-8.9zM145.5 655.1h8.9v1.4h-8.9zM181.2 656.4h8.9v1.4h-8.9zM190.1 656.4h8.9v1.4h-8.9zM216.9 656.4h8.9v1.4h-8.9zM225.8 656.4h8.9v1.4h-8.9zM225.8 657.7h8.9v1.4h-8.9zM136.6 660.4h8.9v1.4h-8.9zM216.9 661.8h8.9v1.4h-8.9zM199 663.1h8.9v1.4h-8.9zM207.9 663.1h8.9v1.4h-8.9zM207.9 667.1h8.9v1.4h-8.9zM216.9 667.1h8.9v1.4h-8.9zM190.1 668.5h8.9v1.4h-8.9zM199 669.8h8.9v1.4h-8.9zM216.9 671.1h8.9v1.4h-8.9zM207.9 672.5h8.9v1.4h-8.9zM216.9 672.5h8.9v1.4h-8.9zM225.8 672.5h8.9v1.4h-8.9zM181.2 673.8h8.9v1.4h-8.9zM207.9 673.8h8.9v1.4h-8.9zM190.1 675.2h8.9v1.4h-8.9zM199 676.5h8.9v1.4h-8.9zM109.8 679.2h8.9v1.4h-8.9zM100.9 681.9h8.9v1.4h-8.9zM100.9 696.6h8.9v1.4h-8.9zM109.8 696.6h8.9v1.4h-8.9zM118.7 696.6h8.9v1.4h-8.9zM136.6 696.6h8.9v1.4h-8.9zM118.7 697.9h8.9v1.4h-8.9zM118.7 699.3h8.9v1.4h-8.9zM109.8 702h8.9v1.4h-8.9zM100.9 707.3h8.9v1.4h-8.9zM109.8 710h8.9v1.4h-8.9zM100.9 711.3h8.9v1.4h-8.9zM145.5 714h8.9v1.4h-8.9zM109.8 715.4h8.9v1.4h-8.9zM100.9 718h8.9v1.4h-8.9zM163.3 718h8.9v1.4h-8.9zM172.3 719.4h8.9v1.4h-8.9zM109.8 722.1h8.9v1.4h-8.9zM118.7 722.1h8.9v1.4h-8.9zM118.7 724.7h8.9v1.4h-8.9zM127.7 724.7h8.9v1.4h-8.9zM100.9 727.4h8.9v1.4h-8.9zM109.8 727.4h8.9v1.4h-8.9zM118.7 727.4h8.9v1.4h-8.9zM127.7 727.4h8.9v1.4h-8.9zM172.3 728.8h8.9v1.4h-8.9zM136.6 730.1h8.9v1.4h-8.9zM118.7 732.8h8.9v1.4h-8.9zM136.6 734.1h8.9v1.4h-8.9zM145.5 736.8h8.9v1.4h-8.9zM136.6 738.1h8.9v1.4h-8.9zM136.6 739.5h8.9v1.4h-8.9zM145.5 739.5h8.9v1.4h-8.9zM172.3 740.8h8.9v1.4h-8.9z" fill="#d4d4ff"/>
<path d="M181.2 610.8h8.9v1.4h-8.9zM225.8 610.8h8.9v1.4h-8.9zM225.8 613.5h8.9v1.4h-8.9zM127.7 618.9h8.9v1.4h-8.9zM207.9 621.6h8.9v1.4h-8.9zM207.9 629.6h8.9v1.4h-8.9zM207.9 632.3h8.9v1.4h-8.9zM225.8 641.7h8.9v1.4h-8.9zM207.9 648.4h8.9v1.4h-8.9zM199 651h8.9v1.4h-8.9zM199 655.1h8.9v1.4h-8.9zM225.8 655.1h8.9v1.4h-8.9zM100.9 679.2h8.9v1.4h-8.9zM100.9 706h8.9v1.4h-8.9zM109.8 708.7h8.9v1.4h-8.9zM118.7 708.7h8.9v1.4h-8.9zM109.8 711.3h8.9v1.4h-8.9zM109.8 712.7h8.9v1.4h-8.9zM109.8 718h8.9v1.4h-8.9zM100.9 724.7h8.9v1.4h-8.9zM109.8 730.1h8.9v1.4h-8.9zM118.7 731.4h8.9v1.4h-8.9zM100.9 732.8h8.9v1.4h-8.9zM100.9 734.1h8.9v1.4h-8.9zM109.8 735.5h8.9v1.4h-8.9zM109.8 736.8h8.9v1.4h-8.9zM109.8 739.5h8.9v1.4h-8.9zM118.7 739.5h8.9v1.4h-8.9zM100.9 740.8h8.9v1.4h-8.9zM136.6 740.8h8.9v1.4h-8.9z" fill="#aaaaff"/>
<path d="M199 610.8h8.9v1.4h-8.9zM207.9 610.8h8.9v1.4h-8.9zM207.9 613.5h8.9v1.4h-8.9zM190.1 616.2h8.9v1.4h-8.9zM199 616.2h8.9v1.4h-8.9zM190.1 617.5h8.9v1.4h-8.9zM225.8 618.9h8.9v1.4h-8.9zM207.9 620.2h8.9v1.4h-8.9zM225.8 620.2h8.9v1.4h-8.9zM190.1 621.6h8.9v1.4h-8.9zM190.1 624.2h8.9v1.4h-8.9zM225.8 626.9h8.9v1.4h-8.9zM225.8 629.6h8.9v1.4h-8.9zM225.8 630.9h8.9v1.4h-8.9zM207.9 635h8.9v1.4h-8.9zM181.2 637.6h8.9v1.4h-8.9zM199 640.3h8.9v1.4h-8.9zM181.2 641.7h8.9v1.4h-8.9zM207.9 641.7h8.9v1.4h-8.9zM190.1 644.3h8.9v1.4h-8.9zM207.9 647h8.9v1.4h-8.9zM172.3 660.4h8.9v1.4h-8.9zM225.8 663.1h8.9v1.4h-8.9zM225.8 665.8h8.9v1.4h-8.9zM225.8 667.1h8.9v1.4h-8.9zM207.9 675.2h8.9v1.4h-8.9zM225.8 675.2h8.9v1.4h-8.9zM100.9 683.2h8.9v1.4h-8.9zM118.7 684.5h8.9v1.4h-8.9zM100.9 685.9h8.9v1.4h-8.9zM100.9 687.2h8.9v1.4h-8.9zM109.8 689.9h8.9v1.4h-8.9zM118.7 689.9h8.9v1.4h-8.9zM109.8 692.6h8.9v1.4h-8.9zM100.9 700.6h8.9v1.4h-8.9zM118.7 706h8.9v1.4h-8.9zM109.8 707.3h8.9v1.4h-8.9zM118.7 712.7h8.9v1.4h-8.9zM109.8 714h8.9v1.4h-8.9zM100.9 716.7h8.9v1.4h-8.9zM109.8 719.4h8.9v1.4h-8.9zM100.9 730.1h8.9v1.4h-8.9zM109.8 731.4h8.9v1.4h-8.9zM109.8 732.8h8.9v1.4h-8.9zM100.9 738.1h8.9v1.4h-8.9zM100.9 739.5h8.9v1.4h-8.9z" fill="#b5b5ff"/>
<path d="M216.9 610.8h8.9v1.4h-8.9zM199 620.2h8.9v1.4h-8.9zM225.8 648.4h8.9v1.4h-8.9zM216.9 660.4h8.9v1.4h-8.9zM109.8 706h8.9v1.4h-8.9zM118.7 711.3h8.9v1.4h-8.9zM100.9 719.4h8.9v1.4h-8.9z" fill="#9595ff"/>
<path d="M109.8 612.2h8.9v1.4h-8.9zM100.9 624.2h8.9v1.4h-8.9zM109.8 626.9h8.9v1.4h-8.9zM100.9 630.9h8.9v1.4h-8.9zM109.8 643h8.9v1.4h-8.9zM109.8 644.3h8.9v1.4h-8.9zM100.9 651h8.9v1.4h-8.9zM109.8 656.4h8.9v1.4h-8.9zM100.9 663.1h8.9v1.4h-8.9zM216.9 684.5h8.9v1.4h-8.9zM190.1 695.3h8.9v1.4h-8.9zM199 696.6h8.9v1.4h-8.9zM181.2 702h8.9v1.4h-8.9zM199 703.3h8.9v1.4h-8.9zM190.1 704.6h8.9v1.4h-8.9zM225.8 712.7h8.9v1.4h-8.9zM207.9 722.1h8.9v1.4h-8.9zM225.8 724.7h8.9v1.4h-8.9zM207.9 728.8h8.9v1.4h-8.9zM225.8 736.8h8.9v1.4h-8.9zM225.8 740.8h8.9v1.4h-8.9z" fill="#ff8a8a"/>
<path d="M154.4 612.2h8.9v1.4h-8.9zM118.7 613.5h8.9v1.4h-8.9zM154.4 613.5h8.9v1.4h-8.9zM163.3 614.9h8.9v1.4h-8.9zM118.7 621.6h8.9v1.4h-8.9zM145.5 621.6h8.9v1.4h-8.9zM145.5 625.6h8.9v1.4h-8.9zM136.6 626.9h8.9v1.4h-8.9zM145.5 628.3h8.9v1.4h-8.9zM172.3 629.6h8.9v1.4h-8.9zM145.5 632.3h8.9v1.4h-8.9zM145.5 633.6h8.9v1.4h-8.9zM145.5 635h8.9v1.4h-8.9zM163.3 637.6h8.9v1.4h-8.9zM127.7 641.7h8.9v1.4h-8.9zM127.7 643h8.9v1.4h-8.9zM145.5 643h8.9v1.4h-8.9zM145.5 644.3h8.9v1.4h-8.9zM163.3 644.3h8.9v1.4h-8.9zM136.6 647h8.9v1.4h-8.9zM172.3 647h8.9v1.4h-8.9zM154.4 649.7h8.9v1.4h-8.9zM172.3 649.7h8.9v1.4h-8.9zM136.6 652.4h8.9v1.4h-8.9zM172.3 652.4h8.9v1.4h-8.9zM145.5 656.4h8.9v1.4h-8.9zM145.5 657.7h8.9v1.4h-8.9zM136.6 659.1h8.9v1.4h-8.9zM172.3 661.8h8.9v1.4h-8.9zM118.7 663.1h8.9v1.4h-8.9zM172.3 664.4h8.9v1.4h-8.9zM154.4 667.1h8.9v1.4h-8.9zM172.3 667.1h8.9v1.4h-8.9zM154.4 668.5h8.9v1.4h-8.9zM163.3 668.5h8.9v1.4h-8.9zM154.4 669.8h8.9v1.4h-8.9zM127.7 675.2h8.9v1.4h-8.9zM127.7 676.5h8.9v1.4h-8.9zM136.6 676.5h8.9v1.4h-8.9zM172.3 676.5h8.9v1.4h-8.9zM136.6 679.2h8.9v1.4h-8.9zM154.4 679.2h8.9v1.4h-8.9zM172.3 679.2h8.9v1.4h-8.9zM127.7 680.5h8.9v1.4h-8.9zM190.1 681.9h8.9v1.4h-8.9zM172.3 683.2h8.9v1.4h-8.9zM136.6 684.5h8.9v1.4h-8.9zM127.7 687.2h8.9v1.4h-8.9zM145.5 687.2h8.9v1.4h-8.9zM207.9 687.2h8.9v1.4h-8.9zM225.8 687.2h8.9v1.4h-8.9zM190.1 688.6h8.9v1.4h-8.9zM225.8 689.9h8.9v1.4h-8.9zM225.8 691.2h8.9v1.4h-8.9zM163.3 692.6h8.9v1.4h-8.9zM207.9 692.6h8.9v1.4h-8.9zM136.6 693.9h8.9v1.4h-8.9zM207.9 695.3h8.9v1.4h-8.9zM127.7 696.6h8.9v1.4h-8.9zM172.3 696.6h8.9v1.4h-8.9zM154.4 697.9h8.9v1.4h-8.9zM127.7 699.3h8.9v1.4h-8.9zM163.3 699.3h8.9v1.4h-8.9zM172.3 699.3h8.9v1.4h-8.9zM172.3 700.6h8.9v1.4h-8.9zM207.9 700.6h8.9v1.4h-8.9zM225.8 700.6h8.9v1.4h-8.9zM172.3 702h8.9v1.4h-8.9zM145.5 703.3h8.9v1.4h-8.9zM154.4 703.3h8.9v1.4h-8.9zM207.9 703.3h8.9v1.4h-8.9zM216.9 703.3h8.9v1.4h-8.9zM154.4 704.6h8.9v1.4h-8.9zM207.9 706h8.9v1.4h-8.9zM172.3 711.3h8.9v1.4h-8.9zM181.2 711.3h8.9v1.4h-8.9zM154.4 712.7h8.9v1.4h-8.9zM145.5 716.7h8.9v1.4h-8.9zM154.4 716.7h8.9v1.4h-8.9zM172.3 716.7h8.9v1.4h-8.9zM190.1 719.4h8.9v1.4h-8.9zM154.4 723.4h8.9v1.4h-8.9zM163.3 723.4h8.9v1.4h-8.9zM216.9 724.7h8.9v1.4h-8.9zM172.3 726.1h8.9v1.4h-8.9zM163.3 730.1h8.9v1.4h-8.9zM216.9 731.4h8.9v1.4h-8.9zM163.3 732.8h8.9v1.4h-8.9zM163.3 734.1h8.9v1.4h-8.9zM216.9 734.1h8.9v1.4h-8.9zM216.9 739.5h8.9v1.4h-8.9zM190.1 740.8h8.9v1.4h-8.9zM127.7 742.2h8.9v1.4h-8.9zM154.4 742.2h8.9v1.4h-8.9z" fill="#fff4f4"/>
<path d="M100.9 613.5h8.9v1.4h-8.9zM109.8 613.5h8.9v1.4h-8.9zM100.9 614.9h8.9v1.4h-8.9zM100.9 618.9h8.9v1.4h-8.9zM109.8 618.9h8.9v1.4h-8.9zM109.8 622.9h8.9v1.4h-8.9zM109.8 625.6h8.9v1.4h-8.9zM100.9 632.3h8.9v1.4h-8.9zM100.9 633.6h8.9v1.4h-8.9zM109.8 639h8.9v1.4h-8.9zM216.9 685.9h8.9v1.4h-8.9zM207.9 711.3h8.9v1.4h-8.9zM207.9 712.7h8.9v1.4h-8.9zM225.8 728.8h8.9v1.4h-8.9z" fill="#ff6a6a"/>
<path d="M136.6 614.9h8.9v1.4h-8.9zM163.3 622.9h8.9v1.4h-8.9zM145.5 626.9h8.9v1.4h-8.9zM154.4 632.3h8.9v1.4h-8.9zM154.4 635h8.9v1.4h-8.9zM136.6 636.3h8.9v1.4h-8.9zM136.6 643h8.9v1.4h-8.9zM127.7 649.7h8.9v1.4h-8.9zM136.6 649.7h8.9v1.4h-8.9zM136.6 651h8.9v1.4h-8.9zM154.4 657.7h8.9v1.4h-8.9zM127.7 664.4h8.9v1.4h-8.9zM163.3 664.4h8.9v1.4h-8.9zM163.3 665.8h8.9v1.4h-8.9zM118.7 667.1h8.9v1.4h-8.9zM127.7 668.5h8.9v1.4h-8.9zM145.5 676.5h8.9v1.4h-8.9zM163.3 676.5h8.9v1.4h-8.9zM127.7 677.8h8.9v1.4h-8.9zM127.7 679.2h8.9v1.4h-8.9zM216.9 679.2h8.9v1.4h-8.9zM136.6 680.5h8.9v1.4h-8.9zM145.5 680.5h8.9v1.4h-8.9zM225.8 680.5h8.9v1.4h-8.9zM127.7 681.9h8.9v1.4h-8.9zM216.9 681.9h8.9v1.4h-8.9zM225.8 681.9h8.9v1.4h-8.9zM127.7 684.5h8.9v1.4h-8.9zM154.4 684.5h8.9v1.4h-8.9zM172.3 684.5h8.9v1.4h-8.9zM127.7 685.9h8.9v1.4h-8.9zM154.4 685.9h8.9v1.4h-8.9zM163.3 685.9h8.9v1.4h-8.9zM190.1 685.9h8.9v1.4h-8.9zM225.8 685.9h8.9v1.4h-8.9zM136.6 687.2h8.9v1.4h-8.9zM163.3 687.2h8.9v1.4h-8.9zM199 688.6h8.9v1.4h-8.9zM145.5 689.9h8.9v1.4h-8.9zM172.3 689.9h8.9v1.4h-8.9zM154.4 691.2h8.9v1.4h-8.9zM172.3 691.2h8.9v1.4h-8.9zM163.3 693.9h8.9v1.4h-8.9zM172.3 693.9h8.9v1.4h-8.9zM127.7 695.3h8.9v1.4h-8.9zM172.3 695.3h8.9v1.4h-8.9zM216.9 695.3h8.9v1.4h-8.9zM225.8 695.3h8.9v1.4h-8.9zM154.4 696.6h8.9v1.4h-8.9zM207.9 696.6h8.9v1.4h-8.9zM127.7 697.9h8.9v1.4h-8.9zM172.3 697.9h8.9v1.4h-8.9zM225.8 697.9h8.9v1.4h-8.9zM154.4 699.3h8.9v1.4h-8.9zM225.8 699.3h8.9v1.4h-8.9zM216.9 700.6h8.9v1.4h-8.9zM163.3 703.3h8.9v1.4h-8.9zM163.3 706h8.9v1.4h-8.9zM172.3 706h8.9v1.4h-8.9zM172.3 707.3h8.9v1.4h-8.9zM199 707.3h8.9v1.4h-8.9zM207.9 707.3h8.9v1.4h-8.9zM154.4 708.7h8.9v1.4h-8.9zM181.2 708.7h8.9v1.4h-8.9zM190.1 708.7h8.9v1.4h-8.9zM207.9 708.7h8.9v1.4h-8.9zM154.4 710h8.9v1.4h-8.9zM190.1 711.3h8.9v1.4h-8.9zM172.3 712.7h8.9v1.4h-8.9zM154.4 714h8.9v1.4h-8.9zM163.3 715.4h8.9v1.4h-8.9zM172.3 715.4h8.9v1.4h-8.9zM163.3 719.4h8.9v1.4h-8.9zM216.9 719.4h8.9v1.4h-8.9zM181.2 720.7h8.9v1.4h-8.9zM163.3 722.1h8.9v1.4h-8.9zM172.3 723.4h8.9v1.4h-8.9zM127.7 726.1h8.9v1.4h-8.9zM154.4 727.4h8.9v1.4h-8.9zM190.1 728.8h8.9v1.4h-8.9zM216.9 728.8h8.9v1.4h-8.9zM199 732.8h8.9v1.4h-8.9zM216.9 732.8h8.9v1.4h-8.9zM145.5 734.1h8.9v1.4h-8.9zM199 735.5h8.9v1.4h-8.9zM163.3 738.1h8.9v1.4h-8.9zM145.5 742.2h8.9v1.4h-8.9zM172.3 742.2h8.9v1.4h-8.9zM216.9 742.2h8.9v1.4h-8.9z" fill="#ffeaea"/>
<path d="M100.9 616.2h8.9v1.4h-8.9zM109.8 621.6h8.9v1.4h-8.9zM154.4 624.2h8.9v1.4h-8.9zM100.9 626.9h8.9v1.4h-8.9zM109.8 635h8.9v1.4h-8.9zM109.8 637.6h8.9v1.4h-8.9zM109.8 657.7h8.9v1.4h-8.9zM109.8 663.1h8.9v1.4h-8.9zM145.5 671.1h8.9v1.4h-8.9zM181.2 691.2h8.9v1.4h-8.9zM190.1 691.2h8.9v1.4h-8.9zM181.2 692.6h8.9v1.4h-8.9zM181.2 695.3h8.9v1.4h-8.9zM199 695.3h8.9v1.4h-8.9zM190.1 696.6h8.9v1.4h-8.9zM181.2 697.9h8.9v1.4h-8.9zM190.1 700.6h8.9v1.4h-8.9zM190.1 703.3h8.9v1.4h-8.9zM225.8 703.3h8.9v1.4h-8.9zM225.8 708.7h8.9v1.4h-8.9zM199 714h8.9v1.4h-8.9zM225.8 714h8.9v1.4h-8.9zM181.2 718h8.9v1.4h-8.9zM225.8 726.1h8.9v1.4h-8.9zM225.8 735.5h8.9v1.4h-8.9zM225.8 738.1h8.9v1.4h-8.9zM225.8 739.5h8.9v1.4h-8.9zM207.9 742.2h8.9v1.4h-8.9z" fill="#ff9f9f"/>
<path d="M109.8 616.2h8.9v1.4h-8.9zM100.9 617.5h8.9v1.4h-8.9zM109.8 617.5h8.9v1.4h-8.9zM100.9 622.9h8.9v1.4h-8.9zM109.8 628.3h8.9v1.4h-8.9zM109.8 629.6h8.9v1.4h-8.9zM100.9 635h8.9v1.4h-8.9zM109.8 640.3h8.9v1.4h-8.9zM109.8 641.7h8.9v1.4h-8.9zM100.9 644.3h8.9v1.4h-8.9zM100.9 653.7h8.9v1.4h-8.9zM100.9 671.1h8.9v1.4h-8.9zM181.2 696.6h8.9v1.4h-8.9zM190.1 697.9h8.9v1.4h-8.9zM190.1 699.3h8.9v1.4h-8.9zM225.8 706h8.9v1.4h-8.9zM216.9 712.7h8.9v1.4h-8.9zM225.8 715.4h8.9v1.4h-8.9zM225.8 718h8.9v1.4h-8.9zM207.9 720.7h8.9v1.4h-8.9zM225.8 723.4h8.9v1.4h-8.9zM225.8 727.4h8.9v1.4h-8.9z" fill="#ff8080"/>
<path d="M190.1 618.9h8.9v1.4h-8.9zM207.9 630.9h8.9v1.4h-8.9zM216.9 655.1h8.9v1.4h-8.9zM225.8 661.8h8.9v1.4h-8.9zM207.9 669.8h8.9v1.4h-8.9zM100.9 676.5h8.9v1.4h-8.9zM100.9 684.5h8.9v1.4h-8.9zM109.8 695.3h8.9v1.4h-8.9zM109.8 700.6h8.9v1.4h-8.9zM100.9 714h8.9v1.4h-8.9zM109.8 720.7h8.9v1.4h-8.9zM100.9 736.8h8.9v1.4h-8.9zM118.7 738.1h8.9v1.4h-8.9z" fill="#9f9fff"/>
<path d="M100.9 620.2h8.9v1.4h-8.9zM109.8 632.3h8.9v1.4h-8.9zM100.9 636.3h8.9v1.4h-8.9zM109.8 645.7h8.9v1.4h-8.9zM109.8 648.4h8.9v1.4h-8.9zM109.8 651h8.9v1.4h-8.9zM100.9 652.4h8.9v1.4h-8.9zM216.9 687.2h8.9v1.4h-8.9zM190.1 702h8.9v1.4h-8.9zM207.9 710h8.9v1.4h-8.9zM216.9 711.3h8.9v1.4h-8.9zM207.9 714h8.9v1.4h-8.9zM207.9 716.7h8.9v1.4h-8.9zM225.8 716.7h8.9v1.4h-8.9zM207.9 718h8.9v1.4h-8.9zM207.9 726.1h8.9v1.4h-8.9zM207.9 727.4h8.9v1.4h-8.9z" fill="#ff6060"/>
<path d="M154.4 620.2h8.9v1.4h-8.9zM127.7 636.3h8.9v1.4h-8.9zM145.5 639h8.9v1.4h-8.9zM145.5 640.3h8.9v1.4h-8.9zM163.3 649.7h8.9v1.4h-8.9zM109.8 660.4h8.9v1.4h-8.9zM199 661.8h8.9v1.4h-8.9zM163.3 663.1h8.9v1.4h-8.9zM172.3 663.1h8.9v1.4h-8.9zM145.5 665.8h8.9v1.4h-8.9zM154.4 665.8h8.9v1.4h-8.9zM172.3 665.8h8.9v1.4h-8.9zM136.6 668.5h8.9v1.4h-8.9zM127.7 669.8h8.9v1.4h-8.9zM163.3 671.1h8.9v1.4h-8.9zM181.2 671.1h8.9v1.4h-8.9zM109.8 675.2h8.9v1.4h-8.9zM145.5 675.2h8.9v1.4h-8.9zM145.5 677.8h8.9v1.4h-8.9zM181.2 677.8h8.9v1.4h-8.9zM163.3 679.2h8.9v1.4h-8.9zM216.9 680.5h8.9v1.4h-8.9zM154.4 681.9h8.9v1.4h-8.9zM172.3 681.9h8.9v1.4h-8.9zM136.6 685.9h8.9v1.4h-8.9zM154.4 687.2h8.9v1.4h-8.9zM127.7 688.6h8.9v1.4h-8.9zM127.7 691.2h8.9v1.4h-8.9zM207.9 691.2h8.9v1.4h-8.9zM154.4 692.6h8.9v1.4h-8.9zM127.7 693.9h8.9v1.4h-8.9zM225.8 693.9h8.9v1.4h-8.9zM136.6 695.3h8.9v1.4h-8.9zM163.3 695.3h8.9v1.4h-8.9zM216.9 696.6h8.9v1.4h-8.9zM225.8 696.6h8.9v1.4h-8.9zM207.9 697.9h8.9v1.4h-8.9zM216.9 704.6h8.9v1.4h-8.9zM154.4 706h8.9v1.4h-8.9zM199 706h8.9v1.4h-8.9zM145.5 707.3h8.9v1.4h-8.9zM190.1 707.3h8.9v1.4h-8.9zM181.2 710h8.9v1.4h-8.9zM163.3 714h8.9v1.4h-8.9zM190.1 715.4h8.9v1.4h-8.9zM127.7 718h8.9v1.4h-8.9zM190.1 718h8.9v1.4h-8.9zM199 720.7h8.9v1.4h-8.9zM216.9 723.4h8.9v1.4h-8.9zM190.1 726.1h8.9v1.4h-8.9zM190.1 727.4h8.9v1.4h-8.9zM199 728.8h8.9v1.4h-8.9zM216.9 730.1h8.9v1.4h-8.9zM181.2 732.8h8.9v1.4h-8.9zM181.2 734.1h8.9v1.4h-8.9zM181.2 735.5h8.9v1.4h-8.9zM190.1 735.5h8.9v1.4h-8.9zM181.2 738.1h8.9v1.4h-8.9zM181.2 740.8h8.9v1.4h-8.9zM163.3 742.2h8.9v1.4h-8.9z" fill="#ffdfdf"/>
<path d="M154.4 621.6h8.9v1.4h-8.9zM118.7 626.9h8.9v1.4h-8.9zM118.7 628.3h8.9v1.4h-8.9zM181.2 660.4h8.9v1.4h-8.9zM199 660.4h8.9v1.4h-8.9zM100.9 661.8h8.9v1.4h-8.9zM154.4 663.1h8.9v1.4h-8.9zM145.5 664.4h8.9v1.4h-8.9zM100.9 667.1h8.9v1.4h-8.9zM136.6 667.1h8.9v1.4h-8.9zM145.5 667.1h8.9v1.4h-8.9zM145.5 668.5h8.9v1.4h-8.9zM163.3 669.8h8.9v1.4h-8.9zM154.4 671.1h8.9v1.4h-8.9zM118.7 672.5h8.9v1.4h-8.9zM127.7 672.5h8.9v1.4h-8.9zM172.3 672.5h8.9v1.4h-8.9zM118.7 673.8h8.9v1.4h-8.9zM127.7 673.8h8.9v1.4h-8.9zM145.5 673.8h8.9v1.4h-8.9zM163.3 673.8h8.9v1.4h-8.9zM154.4 677.8h8.9v1.4h-8.9zM163.3 677.8h8.9v1.4h-8.9zM216.9 677.8h8.9v1.4h-8.9zM225.8 679.2h8.9v1.4h-8.9zM127.7 689.9h8.9v1.4h-8.9zM136.6 691.2h8.9v1.4h-8.9zM145.5 691.2h8.9v1.4h-8.9zM154.4 693.9h8.9v1.4h-8.9zM207.9 693.9h8.9v1.4h-8.9zM154.4 695.3h8.9v1.4h-8.9zM190.1 706h8.9v1.4h-8.9zM163.3 707.3h8.9v1.4h-8.9zM199 712.7h8.9v1.4h-8.9zM172.3 714h8.9v1.4h-8.9zM181.2 715.4h8.9v1.4h-8.9zM199 715.4h8.9v1.4h-8.9zM181.2 719.4h8.9v1.4h-8.9zM199 719.4h8.9v1.4h-8.9zM190.1 720.7h8.9v1.4h-8.9zM181.2 722.1h8.9v1.4h-8.9zM181.2 723.4h8.9v1.4h-8.9zM199 730.1h8.9v1.4h-8.9zM190.1 731.4h8.9v1.4h-8.9zM190.1 732.8h8.9v1.4h-8.9zM190.1 739.5h8.9v1.4h-8.9zM207.9 739.5h8.9v1.4h-8.9zM199 740.8h8.9v1.4h-8.9zM190.1 742.2h8.9v1.4h-8.9z" fill="#ffcaca"/>
<path d="M136.6 622.9h8.9v1.4h-8.9zM118.7 625.6h8.9v1.4h-8.9zM154.4 633.6h8.9v1.4h-8.9zM127.7 635h8.9v1.4h-8.9zM127.7 656.4h8.9v1.4h-8.9zM100.9 657.7h8.9v1.4h-8.9zM181.2 659.1h8.9v1.4h-8.9zM190.1 660.4h8.9v1.4h-8.9zM118.7 661.8h8.9v1.4h-8.9zM136.6 664.4h8.9v1.4h-8.9zM118.7 665.8h8.9v1.4h-8.9zM127.7 665.8h8.9v1.4h-8.9zM136.6 669.8h8.9v1.4h-8.9zM154.4 672.5h8.9v1.4h-8.9zM163.3 672.5h8.9v1.4h-8.9zM154.4 673.8h8.9v1.4h-8.9zM172.3 673.8h8.9v1.4h-8.9zM172.3 675.2h8.9v1.4h-8.9zM154.4 676.5h8.9v1.4h-8.9zM136.6 677.8h8.9v1.4h-8.9zM225.8 677.8h8.9v1.4h-8.9zM172.3 680.5h8.9v1.4h-8.9zM145.5 681.9h8.9v1.4h-8.9zM163.3 684.5h8.9v1.4h-8.9zM207.9 684.5h8.9v1.4h-8.9zM225.8 684.5h8.9v1.4h-8.9zM145.5 685.9h8.9v1.4h-8.9zM172.3 687.2h8.9v1.4h-8.9zM163.3 688.6h8.9v1.4h-8.9zM181.2 688.6h8.9v1.4h-8.9zM225.8 688.6h8.9v1.4h-8.9zM145.5 693.9h8.9v1.4h-8.9zM216.9 693.9h8.9v1.4h-8.9zM163.3 697.9h8.9v1.4h-8.9zM207.9 702h8.9v1.4h-8.9zM172.3 704.6h8.9v1.4h-8.9zM172.3 708.7h8.9v1.4h-8.9zM199 708.7h8.9v1.4h-8.9zM163.3 710h8.9v1.4h-8.9zM181.2 714h8.9v1.4h-8.9zM190.1 714h8.9v1.4h-8.9zM190.1 716.7h8.9v1.4h-8.9zM199 716.7h8.9v1.4h-8.9zM199 718h8.9v1.4h-8.9zM216.9 718h8.9v1.4h-8.9zM190.1 722.1h8.9v1.4h-8.9zM216.9 722.1h8.9v1.4h-8.9zM181.2 724.7h8.9v1.4h-8.9zM216.9 726.1h8.9v1.4h-8.9zM199 727.4h8.9v1.4h-8.9zM216.9 727.4h8.9v1.4h-8.9zM181.2 730.1h8.9v1.4h-8.9zM181.2 731.4h8.9v1.4h-8.9zM199 734.1h8.9v1.4h-8.9zM199 736.8h8.9v1.4h-8.9zM190.1 738.1h8.9v1.4h-8.9zM199 738.1h8.9v1.4h-8.9zM216.9 738.1h8.9v1.4h-8.9z" fill="#ffd4d4"/>
<path d="M154.4 622.9h8.9v1.4h-8.9zM190.1 659.1h8.9v1.4h-8.9zM100.9 660.4h8.9v1.4h-8.9zM190.1 661.8h8.9v1.4h-8.9zM127.7 663.1h8.9v1.4h-8.9zM136.6 663.1h8.9v1.4h-8.9zM100.9 664.4h8.9v1.4h-8.9zM109.8 664.4h8.9v1.4h-8.9zM118.7 664.4h8.9v1.4h-8.9zM136.6 665.8h8.9v1.4h-8.9zM127.7 667.1h8.9v1.4h-8.9zM100.9 668.5h8.9v1.4h-8.9zM118.7 668.5h8.9v1.4h-8.9zM100.9 669.8h8.9v1.4h-8.9zM145.5 669.8h8.9v1.4h-8.9zM118.7 671.1h8.9v1.4h-8.9zM172.3 671.1h8.9v1.4h-8.9zM145.5 672.5h8.9v1.4h-8.9zM136.6 675.2h8.9v1.4h-8.9zM172.3 677.8h8.9v1.4h-8.9zM136.6 681.9h8.9v1.4h-8.9zM207.9 685.9h8.9v1.4h-8.9zM136.6 688.6h8.9v1.4h-8.9zM154.4 688.6h8.9v1.4h-8.9zM216.9 702h8.9v1.4h-8.9zM181.2 706h8.9v1.4h-8.9zM181.2 707.3h8.9v1.4h-8.9zM190.1 710h8.9v1.4h-8.9zM199 711.3h8.9v1.4h-8.9zM190.1 712.7h8.9v1.4h-8.9zM181.2 716.7h8.9v1.4h-8.9zM190.1 723.4h8.9v1.4h-8.9zM199 726.1h8.9v1.4h-8.9zM181.2 727.4h8.9v1.4h-8.9zM181.2 728.8h8.9v1.4h-8.9zM190.1 730.1h8.9v1.4h-8.9zM181.2 736.8h8.9v1.4h-8.9zM207.9 740.8h8.9v1.4h-8.9zM181.2 742.2h8.9v1.4h-8.9zM199 742.2h8.9v1.4h-8.9z" fill="#ffbfbf"/>
<path d="M109.8 624.2h8.9v1.4h-8.9zM109.8 633.6h8.9v1.4h-8.9zM100.9 637.6h8.9v1.4h-8.9zM100.9 639h8.9v1.4h-8.9zM109.8 647h8.9v1.4h-8.9zM118.7 648.4h8.9v1.4h-8.9zM109.8 649.7h8.9v1.4h-8.9zM109.8 652.4h8.9v1.4h-8.9zM118.7 657.7h8.9v1.4h-8.9zM207.9 683.2h8.9v1.4h-8.9z" fill="#ff4a4a"/>
<path d="M100.9 625.6h8.9v1.4h-8.9zM100.9 643h8.9v1.4h-8.9zM216.9 710h8.9v1.4h-8.9zM225.8 710h8.9v1.4h-8.9zM216.9 714h8.9v1.4h-8.9zM207.9 715.4h8.9v1.4h-8.9zM207.9 732.8h8.9v1.4h-8.9z" fill="#ff5555"/>
<path d="M118.7 630.9h8.9v1.4h-8.9zM118.7 632.3h8.9v1.4h-8.9zM118.7 633.6h8.9v1.4h-8.9zM109.8 653.7h8.9v1.4h-8.9zM109.8 655.1h8.9v1.4h-8.9zM181.2 661.8h8.9v1.4h-8.9zM145.5 663.1h8.9v1.4h-8.9zM100.9 665.8h8.9v1.4h-8.9zM109.8 667.1h8.9v1.4h-8.9zM109.8 668.5h8.9v1.4h-8.9zM109.8 669.8h8.9v1.4h-8.9zM136.6 673.8h8.9v1.4h-8.9zM100.9 675.2h8.9v1.4h-8.9zM163.3 680.5h8.9v1.4h-8.9zM163.3 681.9h8.9v1.4h-8.9zM172.3 688.6h8.9v1.4h-8.9zM181.2 689.9h8.9v1.4h-8.9zM199 689.9h8.9v1.4h-8.9zM190.1 692.6h8.9v1.4h-8.9zM199 700.6h8.9v1.4h-8.9zM181.2 703.3h8.9v1.4h-8.9zM199 710h8.9v1.4h-8.9zM225.8 711.3h8.9v1.4h-8.9zM181.2 712.7h8.9v1.4h-8.9zM199 722.1h8.9v1.4h-8.9zM199 723.4h8.9v1.4h-8.9zM199 724.7h8.9v1.4h-8.9zM199 731.4h8.9v1.4h-8.9zM207.9 736.8h8.9v1.4h-8.9z" fill="#ffb5b5"/>
<path d="M118.7 635h8.9v1.4h-8.9zM118.7 651h8.9v1.4h-8.9zM207.9 681.9h8.9v1.4h-8.9z" fill="#ff1515"/>
<path d="M118.7 636.3h8.9v1.4h-8.9zM118.7 644.3h8.9v1.4h-8.9zM118.7 645.7h8.9v1.4h-8.9zM118.7 649.7h8.9v1.4h-8.9z" fill="#ff2020"/>
<path d="M118.7 637.6h8.9v1.4h-8.9zM118.7 653.7h8.9v1.4h-8.9zM118.7 656.4h8.9v1.4h-8.9zM216.9 707.3h8.9v1.4h-8.9z" fill="#ff3535"/>
<path d="M118.7 639h8.9v1.4h-8.9zM118.7 643h8.9v1.4h-8.9zM118.7 647h8.9v1.4h-8.9zM207.9 677.8h8.9v1.4h-8.9z" fill="#ff0000"/>
<path d="M118.7 640.3h8.9v1.4h-8.9zM118.7 652.4h8.9v1.4h-8.9zM207.9 680.5h8.9v1.4h-8.9z" fill="#ff2b2b"/>
<path d="M118.7 641.7h8.9v1.4h-8.9z" fill="#ff0b0b"/>
<path d="M118.7 655.1h8.9v1.4h-8.9zM207.9 679.2h8.9v1.4h-8.9zM216.9 715.4h8.9v1.4h-8.9z" fill="#ff4040"/>
<path d="M100.9 689.9h8.9v1.4h-8.9zM109.8 734.1h8.9v1.4h-8.9z" fill="#8a8aff"/>
<path d="M96.2 610.2V610.5M96.2 610.2H100.6M96.2 610.5H100.6M91.7 610.3V610.9M91.7 610.3H96.2M91.7 610.9H100.6M96.4 611.2V611.6M96.4 611.2H100.6M96.4 611.6H100.6M92.6 611.4V611.9M92.6 611.4H96.4M92.6 611.9H100.6M96.8 612.6V613M96.8 612.6H100.6M96.8 613H100.6M92 612.3V612.8M92 612.3H100.6M92 612.8H96.8M89.2 611.7V612.5M89.2 611.7H92.6M89.2 612.5H92M88.6 610.6V612.1M88.6 610.6H91.7M88.6 612.1H89.2M96.6 613.3V613.7M96.6 613.3H100.6M96.6 613.7H100.6M96.7 614.4V614.7M96.7 614.4H100.6M96.7 614.7H100.6M92 614V614.5M92 614H100.6M92 614.5H96.7M90.4 613.5V614.3M90.4 613.5H96.6M90.4 614.3H92M88.2 611.4V613.9M88.2 611.4H88.6M88.2 613.9H90.4M96.5 615.1V615.4M96.5 615.1H100.6M96.5 615.4H100.6M96.2 616.5V616.8M96.2 616.5H100.6M96.2 616.8H100.6M92 616.1V616.7M92 616.1H100.6M92 616.7H96.2M90.6 615.8V616.4M90.6 615.8H100.6M90.6 616.4H92M89.5 615.2V616.1M89.5 615.2H96.5M89.5 616.1H90.6M96.3 617.2V617.5M96.3 617.2H100.6M96.3 617.5H100.6M92.9 617.3V617.9M92.9 617.3H96.3M92.9 617.9H100.6M96.6 618.6V618.9M96.6 618.6H100.6M96.6 618.9H100.6M92.1 618.2V618.8M92.1 618.2H100.6M92.1 618.8H96.6M91.9 618.5V619.3M91.9 618.5H92.1M91.9 619.3H100.6M88.9 617.6V618.9M88.9 617.6H92.9M88.9 618.9H91.9M87.7 615.7V618.2M87.7 615.7H89.5M87.7 618.2H88.9M86.1 612.6V617M86.1 612.6H88.2M86.1 617H87.7M96.5 620V620.3M96.5 620H100.6M96.5 620.3H100.6M92.6 619.6V620.2M92.6 619.6H100.6M92.6 620.2H96.5M91.7 619.9V620.7M91.7 619.9H92.6M91.7 620.7H100.6M96.7 621V621.4M96.7 621H100.6M96.7 621.4H100.6M96.2 621.7V622.1M96.2 621.7H100.6M96.2 622.1H100.6M91.2 621.2V621.9M91.2 621.2H96.7M91.2 621.9H96.2M96.2 622.4V622.8M96.2 622.4H100.6M96.2 622.8H100.6M90 621.6V622.6M90 621.6H91.2M90 622.6H96.2M87.6 620.3V622.1M87.6 620.3H91.7M87.6 622.1H90M96.7 623.8V624.2M96.7 623.8H100.6M96.7 624.2H100.6M92.6 623.5V624M92.6 623.5H100.6M92.6 624H96.7M92 623.1V623.7M92 623.1H100.6M92 623.7H92.6M96.3 624.5V624.9M96.3 624.5H100.6M96.3 624.9H100.6M89.3 623.4V624.7M89.3 623.4H92M89.3 624.7H96.3M86.9 621.2V624.1M86.9 621.2H87.6M86.9 624.1H89.3M83.2 614.8V622.6M83.2 614.8H86.1M83.2 622.6H86.9M96.5 625.2V625.6M96.5 625.2H100.6M96.5 625.6H100.6M92.1 625.4V625.9M92.1 625.4H96.5M92.1 625.9H100.6M96.5 626.6V627M96.5 626.6H100.6M96.5 627H100.6M91.8 626.3V626.8M91.8 626.3H100.6M91.8 626.8H96.5M96.5 627.3V627.7M96.5 627.3H100.6M96.5 627.7H100.6M92.1 627.5V628M92.1 627.5H96.5M92.1 628H100.6M89.2 626.5V627.8M89.2 626.5H91.8M89.2 627.8H92.1M88.7 625.7V627.1M88.7 625.7H92.1M88.7 627.1H89.2M96.4 628.7V629.1M96.4 628.7H100.6M96.4 629.1H100.6M92.9 628.4V628.9M92.9 628.4H100.6M92.9 628.9H96.4M96.2 629.8V630.1M96.2 629.8H100.6M96.2 630.1H100.6M92 629.4V630M92 629.4H100.6M92 630H96.2M90.7 628.6V629.7M90.7 628.6H92.9M90.7 629.7H92M87.3 626.4V629.2M87.3 626.4H88.7M87.3 629.2H90.7M82.7 618.7V627.8M82.7 618.7H83.2M82.7 627.8H87.3M96.3 630.8V631.2M96.3 630.8H100.6M96.3 631.2H100.6M92.6 631V631.5M92.6 631H96.3M92.6 631.5H100.6M91.5 630.5V631.3M91.5 630.5H100.6M91.5 631.3H92.6M91.2 630.9V631.9M91.2 630.9H91.5M91.2 631.9H100.6M96.7 632.2V632.6M96.7 632.2H100.6M96.7 632.6H100.6M89.2 631.4V632.4M89.2 631.4H91.2M89.2 632.4H96.7M96.5 632.9V633.3M96.5 632.9H100.6M96.5 633.3H100.6M92.8 633.1V633.6M92.8 633.1H96.5M92.8 633.6H100.6M96.7 634V634.3M96.7 634H100.6M96.7 634.3H100.6M96.1 635V635.4M96.1 635H100.6M96.1 635.4H100.6M92.9 634.7V635.2M92.9 634.7H100.6M92.9 635.2H96.1M96.1 635.7V636.1M96.1 635.7H100.6M96.1 636.1H100.6M92.6 635.9V636.4M92.6 635.9H96.1M92.6 636.4H100.6M90.6 634.9V636.2M90.6 634.9H92.9M90.6 636.2H92.6M89.1 634.2V635.5M89.1 634.2H96.7M89.1 635.5H90.6M87.1 633.4V634.9M87.1 633.4H92.8M87.1 634.9H89.1M85.7 631.9V634.1M85.7 631.9H89.2M85.7 634.1H87.1M96.6 637.1V637.5M96.6 637.1H100.6M96.6 637.5H100.6M96.4 637.8V638.2M96.4 637.8H100.6M96.4 638.2H100.6M91.5 637.3V638M91.5 637.3H96.6M91.5 638H96.4M91.2 636.8V637.6M91.2 636.8H100.6M91.2 637.6H91.5M96.4 638.5V638.9M96.4 638.5H100.6M96.4 638.9H100.6M92.1 638.7V639.2M92.1 638.7H96.4M92.1 639.2H100.6M88.7 637.2V639M88.7 637.2H91.2M88.7 639H92.1M96.8 639.9V640.3M96.8 639.9H100.6M96.8 640.3H100.6M92.6 640.1V640.6M92.6 640.1H96.8M92.6 640.6H100.6M91.7 639.6V640.4M91.7 639.6H100.6M91.7 640.4H92.6M87.7 638.1V640M87.7 638.1H88.7M87.7 640H91.7M96.1 641V641.3M96.1 641H100.6M96.1 641.3H100.6M96.4 641.7V642M96.4 641.7H100.6M96.4 642H100.6M92 641.2V641.8M92 641.2H96.1M92 641.8H96.4M87.1 639V641.5M87.1 639H87.7M87.1 641.5H92M84.2 633V640.3M84.2 633H85.7M84.2 640.3H87.1M96.2 642.7V643.1M96.2 642.7H100.6M96.2 643.1H100.6M92.3 642.4V642.9M92.3 642.4H100.6M92.3 642.9H96.2M96.5 643.4V643.8M96.5 643.4H100.6M96.5 643.8H100.6M91.7 643.6V644.1M91.7 643.6H96.5M91.7 644.1H100.6M89.4 642.6V643.9M89.4 642.6H92.3M89.4 643.9H91.7M96.5 644.5V644.8M96.5 644.5H100.6M96.5 644.8H100.6M96.3 645.2V645.5M96.3 645.2H100.6M96.3 645.5H100.6M92.7 645.3V645.9M92.7 645.3H96.3M92.7 645.9H100.6M90.8 645.6V646.2M90.8 645.6H92.7M90.8 646.2H100.6M90 644.7V645.9M90 644.7H96.5M90 645.9H90.8M87 643.2V645.3M87 643.2H89.4M87 645.3H90M96.4 646.6V646.9M96.4 646.6H100.6M96.4 646.9H100.6M96.4 647.3V647.6M96.4 647.3H100.6M96.4 647.6H100.6M92.5 647.5V648M92.5 647.5H96.4M92.5 648H100.6M90.8 646.8V647.7M90.8 646.8H96.4M90.8 647.7H92.5M86.5 644.3V647.2M86.5 644.3H87M86.5 647.2H90.8M96.5 648.3V648.7M96.5 648.3H100.6M96.5 648.7H100.6M96.4 649V649.4M96.4 649H100.6M96.4 649.4H100.6M91.8 648.5V649.2M91.8 648.5H96.5M91.8 649.2H96.4M96.6 649.7V650.1M96.6 649.7H100.6M96.6 650.1H100.6M92.9 649.9V650.4M92.9 649.9H96.6M92.9 650.4H100.6M96.6 651.1V651.5M96.6 651.1H100.6M96.6 651.5H100.6M92.6 650.8V651.3M92.6 650.8H100.6M92.6 651.3H96.6M89.6 650.2V651M89.6 650.2H92.9M89.6 651H92.6M96.6 651.8V652.2M96.6 651.8H100.6M96.6 652.2H100.6M96.5 652.5V652.9M96.5 652.5H100.6M96.5 652.9H100.6M96.2 653.2V653.6M96.2 653.2H100.6M96.2 653.6H100.6M91.3 652.7V653.4M91.3 652.7H96.5M91.3 653.4H96.2M90.3 652V653.1M90.3 652H96.6M90.3 653.1H91.3M87 650.6V652.5M87 650.6H89.6M87 652.5H90.3M85.9 648.9V651.6M85.9 648.9H91.8M85.9 651.6H87M84 645.7V650.2M84 645.7H86.5M84 650.2H85.9M82 636.6V648M82 636.6H84.2M82 648H84M80.7 623.2V642.3M80.7 623.2H82.7M80.7 642.3H82M96.2 653.9V654.3M96.2 653.9H100.6M96.2 654.3H100.6M91.7 654.1V654.6M91.7 654.1H96.2M91.7 654.6H100.6M96.6 655V655.3M96.6 655H100.6M96.6 655.3H100.6M89.9 654.4V655.2M89.9 654.4H91.7M89.9 655.2H96.6M96.7 656V656.4M96.7 656H100.6M96.7 656.4H100.6M92.1 655.7V656.2M92.1 655.7H100.6M92.1 656.2H96.7M96.3 656.7V657.1M96.3 656.7H100.6M96.3 657.1H100.6M90.7 655.9V656.9M90.7 655.9H92.1M90.7 656.9H96.3M96.6 657.4V657.8M96.6 657.4H100.6M96.6 657.8H100.6M89.2 656.4V657.6M89.2 656.4H90.7M89.2 657.6H96.6M87.6 654.8V657M87.6 654.8H89.9M87.6 657H89.2M96.4 658.1V658.5M96.4 658.1H100.6M96.4 658.5H100.6M96.3 658.8V659.2M96.3 658.8H100.6M96.3 659.2H100.6M96.5 659.5V659.9M96.5 659.5H100.6M96.5 659.9H100.6M91.7 659V659.7M91.7 659H96.3M91.7 659.7H96.5M89.6 658.3V659.4M89.6 658.3H96.4M89.6 659.4H91.7M96.4 660.6V660.9M96.4 660.6H100.6M96.4 660.9H100.6M91.8 660.2V660.8M91.8 660.2H100.6M91.8 660.8H96.4M91.4 660.5V661.3M91.4 660.5H91.8M91.4 661.3H100.6M87.6 658.8V660.9M87.6 658.8H89.6M87.6 660.9H91.4M96.8 661.6V662M96.8 661.6H100.6M96.8 662H100.6M96.1 662.3V662.7M96.1 662.3H100.6M96.1 662.7H100.6M91.3 661.8V662.5M91.3 661.8H96.8M91.3 662.5H96.1M96.3 663V663.4M96.3 663H100.6M96.3 663.4H100.6M91.8 663.2V663.7M91.8 663.2H96.3M91.8 663.7H100.6M96.7 664.1V664.4M96.7 664.1H100.6M96.7 664.4H100.6M92.7 664.2V664.8M92.7 664.2H96.7M92.7 664.8H100.6M91.6 664.5V665.1M91.6 664.5H92.7M91.6 665.1H100.6M90.3 663.5V664.8M90.3 663.5H91.8M90.3 664.8H91.6M88.7 662.1V664.1M88.7 662.1H91.3M88.7 664.1H90.3M96.4 665.5V665.8M96.4 665.5H100.6M96.4 665.8H100.6M96.2 666.2V666.5M96.2 666.2H100.6M96.2 666.5H100.6M91.5 665.7V666.3M91.5 665.7H96.4M91.5 666.3H96.2M96.3 666.9V667.2M96.3 666.9H100.6M96.3 667.2H100.6M96.6 667.6V667.9M96.6 667.6H100.6M96.6 667.9H100.6M92.1 667V667.8M92.1 667H96.3M92.1 667.8H96.6M88.4 666V667.4M88.4 666H91.5M88.4 667.4H92.1M85.9 663.1V666.7M85.9 663.1H88.7M85.9 666.7H88.4M85.4 659.9V664.9M85.4 659.9H87.6M85.4 664.9H85.9M83.4 655.9V662.4M83.4 655.9H87.6M83.4 662.4H85.4M96.5 668.3V668.6M96.5 668.3H100.6M96.5 668.6H100.6M96.3 669V669.3M96.3 669H100.6M96.3 669.3H100.6M90.9 668.5V669.2M90.9 668.5H96.5M90.9 669.2H96.3M96.3 669.7V670M96.3 669.7H100.6M96.3 670H100.6M90.6 668.8V669.8M90.6 668.8H90.9M90.6 669.8H96.3M96.5 670.4V670.7M96.5 670.4H100.6M96.5 670.7H100.6M96.5 671.1V671.4M96.5 671.1H100.6M96.5 671.4H100.6M92.5 671.2V671.8M92.5 671.2H96.5M92.5 671.8H100.6M96.6 672.5V672.8M96.6 672.5H100.6M96.6 672.8H100.6M92.5 672.1V672.7M92.5 672.1H100.6M92.5 672.7H96.6M89.6 671.5V672.4M89.6 671.5H92.5M89.6 672.4H92.5M89.2 670.5V672M89.2 670.5H96.5M89.2 672H89.6M87.1 669.3V671.2M87.1 669.3H90.6M87.1 671.2H89.2M96.5 673.2V673.5M96.5 673.2H100.6M96.5 673.5H100.6M96.7 673.9V674.2M96.7 673.9H100.6M96.7 674.2H100.6M90.9 673.3V674M90.9 673.3H96.5M90.9 674H96.7M96.2 674.9V675.3M96.2 674.9H100.6M96.2 675.3H100.6M92.7 674.6V675.1M92.7 674.6H100.6M92.7 675.1H96.2M91.2 674.8V675.6M91.2 674.8H92.7M91.2 675.6H100.6M96.6 676V676.3M96.6 676H100.6M96.6 676.3H100.6M90 675.2V676.2M90 675.2H91.2M90 676.2H96.6M88.3 673.7V675.7M88.3 673.7H90.9M88.3 675.7H90M96.3 677V677.4M96.3 677H100.6M96.3 677.4H100.6M91.9 676.7V677.2M91.9 676.7H100.6M91.9 677.2H96.3M96.8 677.7V678.1M96.8 677.7H100.6M96.8 678.1H100.6M91.1 676.9V677.9M91.1 676.9H91.9M91.1 677.9H96.8M86.3 674.7V677.4M86.3 674.7H88.3M86.3 677.4H91.1M85.1 670.3V676.1M85.1 670.3H87.1M85.1 676.1H86.3M80.8 659.1V673.2M80.8 659.1H83.4M80.8 673.2H85.1M80.1 632.8V666.2M80.1 632.8H80.7M80.1 666.2H80.8M96.1 678.4V678.8M96.1 678.4H100.6M96.1 678.8H100.6M92.5 678.6V679.1M92.5 678.6H96.1M92.5 679.1H100.6M96.2 679.8V680.2M96.2 679.8H100.6M96.2 680.2H100.6M92.7 679.5V680M92.7 679.5H100.6M92.7 680H96.2M90.8 678.9V679.7M90.8 678.9H92.5M90.8 679.7H92.7M96.6 680.9V681.2M96.6 680.9H100.6M96.6 681.2H100.6M92.2 680.5V681M92.2 680.5H100.6M92.2 681H96.6M92 680.8V681.6M92 680.8H92.2M92 681.6H100.6M89.1 679.3V681.2M89.1 679.3H90.8M89.1 681.2H92M96.7 681.9V682.3M96.7 681.9H100.6M96.7 682.3H100.6M92.2 682.1V682.6M92.2 682.1H96.7M92.2 682.6H100.6M87.9 680.2V682.4M87.9 680.2H89.1M87.9 682.4H92.2M96.7 683V683.3M96.7 683H100.6M96.7 683.3H100.6M96.3 683.7V684M96.3 683.7H100.6M96.3 684H100.6M91.9 683.2V683.8M91.9 683.2H96.7M91.9 683.8H96.3M96.5 684.4V684.7M96.5 684.4H100.6M96.5 684.7H100.6M96.2 685.4V685.8M96.2 685.4H100.6M96.2 685.8H100.6M92.3 685.1V685.6M92.3 685.1H100.6M92.3 685.6H96.2M90.7 684.5V685.3M90.7 684.5H96.5M90.7 685.3H92.3M88.3 683.5V684.9M88.3 683.5H91.9M88.3 684.9H90.7M85.8 681.3V684.2M85.8 681.3H87.9M85.8 684.2H88.3M96.7 686.5V686.8M96.7 686.5H100.6M96.7 686.8H100.6M91.6 686.1V686.7M91.6 686.1H100.6M91.6 686.7H96.7M96.6 687.5V687.9M96.6 687.5H100.6M96.6 687.9H100.6M91.8 687.2V687.7M91.8 687.2H100.6M91.8 687.7H96.6M89.8 686.4V687.4M89.8 686.4H91.6M89.8 687.4H91.8M96.6 688.6V688.9M96.6 688.6H100.6M96.6 688.9H100.6M96.2 689.3V689.6M96.2 689.3H100.6M96.2 689.6H100.6M90.9 688.8V689.5M90.9 688.8H96.6M90.9 689.5H96.2M90 688.2V689.1M90 688.2H100.6M90 689.1H90.9M87.4 686.9V688.7M87.4 686.9H89.8M87.4 688.7H90M96.7 690V690.3M96.7 690H100.6M96.7 690.3H100.6M92.1 690.2V690.7M92.1 690.2H96.7M92.1 690.7H100.6M96.1 691V691.4M96.1 691H100.6M96.1 691.4H100.6M96.3 691.7V692.1M96.3 691.7H100.6M96.3 692.1H100.6M90.6 691.2V691.9M90.6 691.2H96.1M90.6 691.9H96.3M96.7 692.4V692.8M96.7 692.4H100.6M96.7 692.8H100.6M92.5 692.6V693.1M92.5 692.6H96.7M92.5 693.1H100.6M90 691.6V692.9M90 691.6H90.6M90 692.9H92.5M89.2 690.4V692.2M89.2 690.4H92.1M89.2 692.2H90M85.4 687.8V691.3M85.4 687.8H87.4M85.4 691.3H89.2M83.5 682.8V689.5M83.5 682.8H85.8M83.5 689.5H85.4M96.5 693.8V694.2M96.5 693.8H100.6M96.5 694.2H100.6M92.9 694V694.5M92.9 694H96.5M92.9 694.5H100.6M91.3 693.5V694.3M91.3 693.5H100.6M91.3 694.3H92.9M96.4 694.9V695.2M96.4 694.9H100.6M96.4 695.2H100.6M92.8 695V695.6M92.8 695H96.4M92.8 695.6H100.6M91.5 695.3V695.9M91.5 695.3H92.8M91.5 695.9H100.6M96.1 696.3V696.6M96.1 696.3H100.6M96.1 696.6H100.6M89.3 695.6V696.5M89.3 695.6H91.5M89.3 696.5H96.1M88.9 693.9V696M88.9 693.9H91.3M88.9 696H89.3M96.5 697.3V697.7M96.5 697.3H100.6M96.5 697.7H100.6M91.9 697V697.5M91.9 697H100.6M91.9 697.5H96.5M96.7 698V698.4M96.7 698H100.6M96.7 698.4H100.6M96.3 699.1V699.4M96.3 699.1H100.6M96.3 699.4H100.6M91.6 698.7V699.2M91.6 698.7H100.6M91.6 699.2H96.3M96.6 699.8V700.1M96.6 699.8H100.6M96.6 700.1H100.6M90.6 699V700M90.6 699H91.6M90.6 700H96.6M90 698.2V699.5M90 698.2H96.7M90 699.5H90.6M88.7 697.2V698.8M88.7 697.2H91.9M88.7 698.8H90M96.6 700.5V700.8M96.6 700.5H100.6M96.6 700.8H100.6M96.3 701.2V701.5M96.3 701.2H100.6M96.3 701.5H100.6M92.3 701.3V701.9M92.3 701.3H96.3M92.3 701.9H100.6M89.8 700.7V701.6M89.8 700.7H96.6M89.8 701.6H92.3M86.9 698V701.1M86.9 698H88.7M86.9 701.1H89.8M84.4 695V699.6M84.4 695H88.9M84.4 699.6H86.9M82.8 686.2V697.3M82.8 686.2H83.5M82.8 697.3H84.4M96.6 702.9V703.3M96.6 702.9H100.6M96.6 703.3H100.6M92.7 702.6V703.1M92.7 702.6H100.6M92.7 703.1H96.6M91.1 702.2V702.8M91.1 702.2H100.6M91.1 702.8H92.7M96.3 703.6V704M96.3 703.6H100.6M96.3 704H100.6M96.2 704.3V704.7M96.2 704.3H100.6M96.2 704.7H100.6M91.6 703.8V704.5M91.6 703.8H96.3M91.6 704.5H96.2M88.9 702.5V704.1M88.9 702.5H91.1M88.9 704.1H91.6M96.1 705.4V705.7M96.1 705.4H100.6M96.1 705.7H100.6M92.2 705.5V706.1M92.2 705.5H96.1M92.2 706.1H100.6M91.9 705V705.8M91.9 705H100.6M91.9 705.8H92.2M96.3 706.4V706.8M96.3 706.4H100.6M96.3 706.8H100.6M90.1 705.4V706.6M90.1 705.4H91.9M90.1 706.6H96.3M96.3 707.1V707.5M96.3 707.1H100.6M96.3 707.5H100.6M92.7 707.3V707.8M92.7 707.3H96.3M92.7 707.8H100.6M96.6 708.2V708.5M96.6 708.2H100.6M96.6 708.5H100.6M92.3 708.3V708.9M92.3 708.3H96.6M92.3 708.9H100.6M89.5 707.6V708.6M89.5 707.6H92.7M89.5 708.6H92.3M88.7 706V708.1M88.7 706H90.1M88.7 708.1H89.5M85.9 703.3V707M85.9 703.3H88.9M85.9 707H88.7M96.5 709.2V709.6M96.5 709.2H100.6M96.5 709.6H100.6M96.4 709.9V710.3M96.4 709.9H100.6M96.4 710.3H100.6M90.6 709.4V710.1M90.6 709.4H96.5M90.6 710.1H96.4M96.3 711V711.3M96.3 711H100.6M96.3 711.3H100.6M92.6 710.6V711.2M92.6 710.6H100.6M92.6 711.2H96.3M89.2 709.8V710.9M89.2 709.8H90.6M89.2 710.9H92.6M83.8 705.2V710.3M83.8 705.2H85.9M83.8 710.3H89.2M82 691.7V707.8M82 691.7H82.8M82 707.8H83.8M96.2 712V712.4M96.2 712H100.6M96.2 712.4H100.6M92.1 711.7V712.2M92.1 711.7H100.6M92.1 712.2H96.2M96.3 712.7V713.1M96.3 712.7H100.6M96.3 713.1H100.6M96.6 713.8V714.1M96.6 713.8H100.6M96.6 714.1H100.6M92 713.4V714M92 713.4H100.6M92 714H96.6M91 712.9V713.7M91 712.9H96.3M91 713.7H92M88.8 711.9V713.3M88.8 711.9H92.1M88.8 713.3H91M96.3 714.5V714.8M96.3 714.5H100.6M96.3 714.8H100.6M96.2 715.2V715.5M96.2 715.2H100.6M96.2 715.5H100.6M90.9 714.7V715.3M90.9 714.7H96.3M90.9 715.3H96.2M96.7 716.2V716.6M96.7 716.2H100.6M96.7 716.6H100.6M92.9 715.9V716.4M92.9 715.9H100.6M92.9 716.4H96.7M88.8 715V716.1M88.8 715H90.9M88.8 716.1H92.9M86.5 712.6V715.6M86.5 712.6H88.8M86.5 715.6H88.8M96.4 716.9V717.3M96.4 716.9H100.6M96.4 717.3H100.6M92.3 717.1V717.6M92.3 717.1H96.4M92.3 717.6H100.6M96.2 718.3V718.7M96.2 718.3H100.6M96.2 718.7H100.6M92.5 718V718.5M92.5 718H100.6M92.5 718.5H96.2M89.9 717.4V718.2M89.9 717.4H92.3M89.9 718.2H92.5M96.1 719V719.4M96.1 719H100.6M96.1 719.4H100.6M96.2 720.1V720.4M96.2 720.1H100.6M96.2 720.4H100.6M92.7 719.7V720.2M92.7 719.7H100.6M92.7 720.2H96.2M90.5 719.2V720M90.5 719.2H96.1M90.5 720H92.7M87.9 717.8V719.6M87.9 717.8H89.9M87.9 719.6H90.5M96.7 720.8V721.1M96.7 720.8H100.6M96.7 721.1H100.6M92.7 721V721.5M92.7 721H96.7M92.7 721.5H100.6M96.5 721.8V722.2M96.5 721.8H100.6M96.5 722.2H100.6M90.1 721.2V722M90.1 721.2H92.7M90.1 722H96.5M96.2 722.5V722.9M96.2 722.5H100.6M96.2 722.9H100.6M91.8 722.7V723.2M91.8 722.7H96.2M91.8 723.2H100.6M88.4 721.6V723M88.4 721.6H90.1M88.4 723H91.8M96.1 723.6V723.9M96.1 723.6H100.6M96.1 723.9H100.6M92.8 723.8V724.3M92.8 723.8H96.1M92.8 724.3H100.6M91.1 724V724.6M91.1 724H92.8M91.1 724.6H100.6M96.7 725V725.3M96.7 725H100.6M96.7 725.3H100.6M90.3 724.3V725.2M90.3 724.3H91.1M90.3 725.2H96.7M86.5 722.3V724.7M86.5 722.3H88.4M86.5 724.7H90.3M84.5 718.7V723.5M84.5 718.7H87.9M84.5 723.5H86.5M83.6 714.1V721.1M83.6 714.1H86.5M83.6 721.1H84.5M96.6 725.7V726M96.6 725.7H100.6M96.6 726H100.6M96.5 726.4V726.7M96.5 726.4H100.6M96.5 726.7H100.6M90.8 725.8V726.5M90.8 725.8H96.6M90.8 726.5H96.5M96.5 727.1V727.4M96.5 727.1H100.6M96.5 727.4H100.6M92.3 727.2V727.8M92.3 727.2H96.5M92.3 727.8H100.6M96.3 728.1V728.5M96.3 728.1H100.6M96.3 728.5H100.6M91.3 727.5V728.3M91.3 727.5H92.3M91.3 728.3H96.3M96.7 728.8V729.2M96.7 728.8H100.6M96.7 729.2H100.6M96.6 729.5V729.9M96.6 729.5H100.6M96.6 729.9H100.6M92.9 729.7V730.2M92.9 729.7H96.6M92.9 730.2H100.6M91 729V730M91 729H96.7M91 730H92.9M88.1 727.9V729.5M88.1 727.9H91.3M88.1 729.5H91M86.5 726.2V728.7M86.5 726.2H90.8M86.5 728.7H88.1M96.5 730.6V730.9M96.5 730.6H100.6M96.5 730.9H100.6M96.7 731.3V731.6M96.7 731.3H100.6M96.7 731.6H100.6M91.8 731.5V732M91.8 731.5H96.7M91.8 732H100.6M90.5 730.8V731.7M90.5 730.8H96.5M90.5 731.7H91.8M96.7 732.3V732.7M96.7 732.3H100.6M96.7 732.7H100.6M96.2 733V733.4M96.2 733H100.6M96.2 733.4H100.6M90.8 732.5V733.2M90.8 732.5H96.7M90.8 733.2H96.2M88 731.2V732.9M88 731.2H90.5M88 732.9H90.8M96.3 733.7V734.1M96.3 733.7H100.6M96.3 734.1H100.6M96.7 734.8V735.1M96.7 734.8H100.6M96.7 735.1H100.6M92 734.4V735M92 734.4H100.6M92 735H96.7M90.5 733.9V734.7M90.5 733.9H96.3M90.5 734.7H92M86.1 732V734.3M86.1 732H88M86.1 734.3H90.5M96.5 735.5V735.8M96.5 735.5H100.6M96.5 735.8H100.6M96.7 736.2V736.5M96.7 736.2H100.6M96.7 736.5H100.6M91.4 735.7V736.3M91.4 735.7H96.5M91.4 736.3H96.7M96.5 736.9V737.2M96.5 736.9H100.6M96.5 737.2H100.6M96.2 737.6V737.9M96.2 737.6H100.6M96.2 737.9H100.6M91.7 737V737.8M91.7 737H96.5M91.7 737.8H96.2M88.7 736V737.4M88.7 736H91.4M88.7 737.4H91.7M96.2 738.3V738.6M96.2 738.3H100.6M96.2 738.6H100.6M91.9 738.5V739M91.9 738.5H96.2M91.9 739H100.6M96.1 739.3V739.7M96.1 739.3H100.6M96.1 739.7H100.6M92.5 739.5V740M92.5 739.5H96.1M92.5 740H100.6M96.4 740.4V740.7M96.4 740.4H100.6M96.4 740.7H100.6M91 739.8V740.5M91 739.8H92.5M91 740.5H96.4M88.4 738.7V740.2M88.4 738.7H91.9M88.4 740.2H91M86.2 736.7V739.4M86.2 736.7H88.7M86.2 739.4H88.4M96.6 741.4V741.8M96.6 741.4H100.6M96.6 741.8H100.6M92.7 741.1V741.6M92.7 741.1H100.6M92.7 741.6H96.6M96.5 742.5V742.8M96.5 742.5H100.6M96.5 742.8H100.6M92.7 742.1V742.7M92.7 742.1H100.6M92.7 742.7H96.5M89.7 741.3V742.4M89.7 741.3H92.7M89.7 742.4H92.7M85.8 738.1V741.9M85.8 738.1H86.2M85.8 741.9H89.7M84 733.2V740M84 733.2H86.1M84 740H85.8M83.1 727.4V736.6M83.1 727.4H86.5M83.1 736.6H84M82.6 717.6V732M82.6 717.6H83.6M82.6 732H83.1M78.3 699.7V724.8M78.3 699.7H82M78.3 724.8H82.6M74.3 649.5V712.3M74.3 649.5H80.1M74.3 712.3H78.3" stroke="#000" stroke-width="1.0" fill="none"/>
<text x="235.8" y="608" font-size="6.6" font-weight="bold" fill="#222">Group</text>
<rect x="237" y="610.2" width="5.5" height="77.8" fill="url(#cbg)"/>
<g font-size="5.6" fill="#222"><text x="244.4" y="619">3</text><text x="244.4" y="629.8">2</text><text x="244.4" y="640.6">1</text><text x="244.4" y="651.4">0</text><text x="244.4" y="662.2">- 1</text><text x="244.4" y="673">- 2</text><text x="244.4" y="683.8">- 3</text></g>
<g font-size="8.2" fill="#000"><text transform="translate(102.5 745.2) rotate(90)">Bone_D0_2</text><text transform="translate(111.4 745.2) rotate(90)">Bone_D0_1</text><text transform="translate(120.3 745.2) rotate(90)">Bone_D0_3</text><text transform="translate(129.2 745.2) rotate(90)">Bone_D28_2</text><text transform="translate(138.1 745.2) rotate(90)">Bone_D28_1</text><text transform="translate(147.1 745.2) rotate(90)">Bone_D28_3</text><text transform="translate(156 745.2) rotate(90)">Bone_D14_1</text><text transform="translate(164.9 745.2) rotate(90)">Bone_D14_2</text><text transform="translate(173.8 745.2) rotate(90)">Bone_D14_3</text><text transform="translate(182.7 745.2) rotate(90)">Bone_D3_2</text><text transform="translate(191.7 745.2) rotate(90)">Bone_D3_3</text><text transform="translate(200.6 745.2) rotate(90)">Bone_D3_1</text><text transform="translate(209.5 745.2) rotate(90)">Bone_D7_1</text><text transform="translate(218.4 745.2) rotate(90)">Bone_D7_2</text><text transform="translate(227.3 745.2) rotate(90)">Bone_D7_3</text></g>
<text x="42.9" y="684.9" font-size="10.5" textLength="26" lengthAdjust="spacingAndGlyphs" fill="#000">mRNA</text></g>
<g><rect x="319.8" y="602.2" width="26.6" height="6.6" fill="#a3a500"/>
<rect x="346.3" y="602.2" width="26.6" height="6.6" fill="#00b0f6"/>
<rect x="372.9" y="602.2" width="26.6" height="6.6" fill="#e76bf3"/>
<rect x="399.4" y="602.2" width="26.6" height="6.6" fill="#00bf7d"/>
<rect x="426" y="602.2" width="26.6" height="6.6" fill="#f8766d"/>
<path d="M333.1 602.2V592H341.9V602.2M324.2 602.2V590.5H337.5V592M350.8 602.2V595.2H359.6V602.2M355.2 595.2V591.7H368.5V602.2M330.9 590.5V588.4H361.8V591.7M377.3 602.2V595.7H386.1V602.2M381.7 595.7V592.4H395V602.2M412.7 602.2V595.7H421.5V602.2M403.8 602.2V593.9H417.1V595.7M388.4 592.4V590.6H410.5V593.9M346.3 588.4V584.3H399.4V590.6M439.2 602.2V589.5H448.1V602.2M430.4 602.2V578.6H443.7V589.5M372.9 584.3V574.2H437V578.6" stroke="#333" stroke-width="0.7" fill="none"/>
<path d="M319.8 609.5h8.8v1.4h-8.8zM328.6 609.5h8.8v1.4h-8.8zM364 612.2h8.8v1.4h-8.8zM346.3 616.2h8.8v1.4h-8.8zM355.2 626.9h8.8v1.4h-8.8zM390.6 628.3h8.8v1.4h-8.8zM319.8 629.6h8.8v1.4h-8.8zM328.6 630.9h8.8v1.4h-8.8zM346.3 630.9h8.8v1.4h-8.8zM328.6 633.6h8.8v1.4h-8.8zM319.8 635h8.8v1.4h-8.8zM319.8 652.4h8.8v1.4h-8.8zM319.8 669.8h8.8v1.4h-8.8zM364 673.8h8.8v1.4h-8.8zM337.5 675.2h8.8v1.4h-8.8zM319.8 676.5h8.8v1.4h-8.8zM355.2 676.5h8.8v1.4h-8.8zM346.3 679.2h8.8v1.4h-8.8zM364 679.2h8.8v1.4h-8.8zM337.5 681.9h8.8v1.4h-8.8zM319.8 685.9h8.8v1.4h-8.8zM319.8 687.2h8.8v1.4h-8.8zM355.2 687.2h8.8v1.4h-8.8zM328.6 691.2h8.8v1.4h-8.8zM337.5 692.6h8.8v1.4h-8.8zM337.5 697.9h8.8v1.4h-8.8zM426 704.6h8.8v1.4h-8.8zM434.8 704.6h8.8v1.4h-8.8zM426 710h8.8v1.4h-8.8zM434.8 710h8.8v1.4h-8.8zM426 712.7h8.8v1.4h-8.8zM434.8 712.7h8.8v1.4h-8.8zM443.7 712.7h8.8v1.4h-8.8zM443.7 714h8.8v1.4h-8.8zM434.8 722.1h8.8v1.4h-8.8zM434.8 726.1h8.8v1.4h-8.8zM443.7 731.4h8.8v1.4h-8.8zM434.8 732.8h8.8v1.4h-8.8zM443.7 739.5h8.8v1.4h-8.8zM426 740.8h8.8v1.4h-8.8zM434.8 740.8h8.8v1.4h-8.8zM426 742.2h8.8v1.4h-8.8zM443.7 742.2h8.8v1.4h-8.8z" fill="#b5b5ff"/>
<path d="M337.5 609.5h8.8v1.4h-8.8zM364 610.8h8.8v1.4h-8.8zM319.8 613.5h8.8v1.4h-8.8zM346.3 614.9h8.8v1.4h-8.8zM355.2 614.9h8.8v1.4h-8.8zM319.8 616.2h8.8v1.4h-8.8zM319.8 617.5h8.8v1.4h-8.8zM337.5 617.5h8.8v1.4h-8.8zM346.3 617.5h8.8v1.4h-8.8zM337.5 618.9h8.8v1.4h-8.8zM328.6 621.6h8.8v1.4h-8.8zM364 621.6h8.8v1.4h-8.8zM390.6 621.6h8.8v1.4h-8.8zM346.3 622.9h8.8v1.4h-8.8zM337.5 624.2h8.8v1.4h-8.8zM319.8 626.9h8.8v1.4h-8.8zM364 626.9h8.8v1.4h-8.8zM328.6 628.3h8.8v1.4h-8.8zM372.9 628.3h8.8v1.4h-8.8zM337.5 629.6h8.8v1.4h-8.8zM364 630.9h8.8v1.4h-8.8zM364 632.3h8.8v1.4h-8.8zM390.6 632.3h8.8v1.4h-8.8zM337.5 633.6h8.8v1.4h-8.8zM319.8 637.6h8.8v1.4h-8.8zM355.2 637.6h8.8v1.4h-8.8zM364 637.6h8.8v1.4h-8.8zM337.5 641.7h8.8v1.4h-8.8zM337.5 643h8.8v1.4h-8.8zM346.3 643h8.8v1.4h-8.8zM355.2 644.3h8.8v1.4h-8.8zM319.8 648.4h8.8v1.4h-8.8zM328.6 648.4h8.8v1.4h-8.8zM337.5 652.4h8.8v1.4h-8.8zM346.3 652.4h8.8v1.4h-8.8zM355.2 652.4h8.8v1.4h-8.8zM390.6 652.4h8.8v1.4h-8.8zM328.6 653.7h8.8v1.4h-8.8zM417.1 653.7h8.8v1.4h-8.8zM319.8 656.4h8.8v1.4h-8.8zM328.6 659.1h8.8v1.4h-8.8zM408.3 659.1h8.8v1.4h-8.8zM319.8 660.4h8.8v1.4h-8.8zM346.3 660.4h8.8v1.4h-8.8zM337.5 663.1h8.8v1.4h-8.8zM337.5 665.8h8.8v1.4h-8.8zM355.2 665.8h8.8v1.4h-8.8zM328.6 671.1h8.8v1.4h-8.8zM372.9 671.1h8.8v1.4h-8.8zM390.6 671.1h8.8v1.4h-8.8zM319.8 673.8h8.8v1.4h-8.8zM355.2 673.8h8.8v1.4h-8.8zM319.8 675.2h8.8v1.4h-8.8zM337.5 676.5h8.8v1.4h-8.8zM364 676.5h8.8v1.4h-8.8zM346.3 677.8h8.8v1.4h-8.8zM355.2 679.2h8.8v1.4h-8.8zM390.6 679.2h8.8v1.4h-8.8zM364 680.5h8.8v1.4h-8.8zM328.6 681.9h8.8v1.4h-8.8zM337.5 687.2h8.8v1.4h-8.8zM319.8 688.6h8.8v1.4h-8.8zM346.3 688.6h8.8v1.4h-8.8zM372.9 691.2h8.8v1.4h-8.8zM390.6 691.2h8.8v1.4h-8.8zM328.6 692.6h8.8v1.4h-8.8zM319.8 695.3h8.8v1.4h-8.8zM328.6 695.3h8.8v1.4h-8.8zM319.8 699.3h8.8v1.4h-8.8zM355.2 699.3h8.8v1.4h-8.8zM319.8 704.6h8.8v1.4h-8.8zM434.8 706h8.8v1.4h-8.8zM337.5 708.7h8.8v1.4h-8.8zM364 711.3h8.8v1.4h-8.8zM399.4 714h8.8v1.4h-8.8zM417.1 716.7h8.8v1.4h-8.8zM434.8 720.7h8.8v1.4h-8.8zM443.7 720.7h8.8v1.4h-8.8zM417.1 726.1h8.8v1.4h-8.8zM426 727.4h8.8v1.4h-8.8zM372.9 734.1h8.8v1.4h-8.8zM443.7 735.5h8.8v1.4h-8.8zM443.7 738.1h8.8v1.4h-8.8zM434.8 739.5h8.8v1.4h-8.8z" fill="#cacaff"/>
<path d="M346.3 609.5h8.8v1.4h-8.8zM355.2 609.5h8.8v1.4h-8.8zM408.3 610.8h8.8v1.4h-8.8zM328.6 612.2h8.8v1.4h-8.8zM390.6 612.2h8.8v1.4h-8.8zM337.5 613.5h8.8v1.4h-8.8zM346.3 613.5h8.8v1.4h-8.8zM372.9 613.5h8.8v1.4h-8.8zM381.7 614.9h8.8v1.4h-8.8zM390.6 614.9h8.8v1.4h-8.8zM417.1 614.9h8.8v1.4h-8.8zM434.8 614.9h8.8v1.4h-8.8zM381.7 616.2h8.8v1.4h-8.8zM417.1 616.2h8.8v1.4h-8.8zM408.3 617.5h8.8v1.4h-8.8zM399.4 618.9h8.8v1.4h-8.8zM328.6 620.2h8.8v1.4h-8.8zM355.2 620.2h8.8v1.4h-8.8zM390.6 620.2h8.8v1.4h-8.8zM399.4 621.6h8.8v1.4h-8.8zM417.1 621.6h8.8v1.4h-8.8zM372.9 622.9h8.8v1.4h-8.8zM381.7 622.9h8.8v1.4h-8.8zM408.3 622.9h8.8v1.4h-8.8zM372.9 624.2h8.8v1.4h-8.8zM408.3 624.2h8.8v1.4h-8.8zM417.1 624.2h8.8v1.4h-8.8zM408.3 625.6h8.8v1.4h-8.8zM417.1 628.3h8.8v1.4h-8.8zM372.9 629.6h8.8v1.4h-8.8zM346.3 633.6h8.8v1.4h-8.8zM355.2 633.6h8.8v1.4h-8.8zM417.1 633.6h8.8v1.4h-8.8zM337.5 635h8.8v1.4h-8.8zM346.3 635h8.8v1.4h-8.8zM355.2 635h8.8v1.4h-8.8zM372.9 636.3h8.8v1.4h-8.8zM381.7 639h8.8v1.4h-8.8zM372.9 640.3h8.8v1.4h-8.8zM417.1 640.3h8.8v1.4h-8.8zM355.2 641.7h8.8v1.4h-8.8zM328.6 645.7h8.8v1.4h-8.8zM355.2 645.7h8.8v1.4h-8.8zM417.1 645.7h8.8v1.4h-8.8zM364 647h8.8v1.4h-8.8zM355.2 648.4h8.8v1.4h-8.8zM399.4 653.7h8.8v1.4h-8.8zM408.3 653.7h8.8v1.4h-8.8zM319.8 655.1h8.8v1.4h-8.8zM355.2 655.1h8.8v1.4h-8.8zM364 655.1h8.8v1.4h-8.8zM355.2 660.4h8.8v1.4h-8.8zM417.1 660.4h8.8v1.4h-8.8zM328.6 661.8h8.8v1.4h-8.8zM346.3 664.4h8.8v1.4h-8.8zM346.3 668.5h8.8v1.4h-8.8zM355.2 668.5h8.8v1.4h-8.8zM408.3 668.5h8.8v1.4h-8.8zM417.1 668.5h8.8v1.4h-8.8zM426 669.8h8.8v1.4h-8.8zM355.2 672.5h8.8v1.4h-8.8zM328.6 673.8h8.8v1.4h-8.8zM372.9 673.8h8.8v1.4h-8.8zM355.2 675.2h8.8v1.4h-8.8zM399.4 676.5h8.8v1.4h-8.8zM417.1 676.5h8.8v1.4h-8.8zM364 677.8h8.8v1.4h-8.8zM319.8 680.5h8.8v1.4h-8.8zM337.5 683.2h8.8v1.4h-8.8zM355.2 683.2h8.8v1.4h-8.8zM328.6 684.5h8.8v1.4h-8.8zM381.7 687.2h8.8v1.4h-8.8zM381.7 688.6h8.8v1.4h-8.8zM328.6 689.9h8.8v1.4h-8.8zM443.7 691.2h8.8v1.4h-8.8zM364 692.6h8.8v1.4h-8.8zM372.9 692.6h8.8v1.4h-8.8zM443.7 692.6h8.8v1.4h-8.8zM381.7 693.9h8.8v1.4h-8.8zM443.7 693.9h8.8v1.4h-8.8zM390.6 695.3h8.8v1.4h-8.8zM328.6 696.6h8.8v1.4h-8.8zM346.3 696.6h8.8v1.4h-8.8zM372.9 696.6h8.8v1.4h-8.8zM390.6 696.6h8.8v1.4h-8.8zM426 696.6h8.8v1.4h-8.8zM319.8 697.9h8.8v1.4h-8.8zM346.3 697.9h8.8v1.4h-8.8zM319.8 702h8.8v1.4h-8.8zM355.2 702h8.8v1.4h-8.8zM346.3 704.6h8.8v1.4h-8.8zM364 704.6h8.8v1.4h-8.8zM364 707.3h8.8v1.4h-8.8zM408.3 707.3h8.8v1.4h-8.8zM417.1 707.3h8.8v1.4h-8.8zM346.3 708.7h8.8v1.4h-8.8zM417.1 708.7h8.8v1.4h-8.8zM355.2 710h8.8v1.4h-8.8zM417.1 710h8.8v1.4h-8.8zM319.8 711.3h8.8v1.4h-8.8zM355.2 712.7h8.8v1.4h-8.8zM364 714h8.8v1.4h-8.8zM346.3 715.4h8.8v1.4h-8.8zM355.2 715.4h8.8v1.4h-8.8zM417.1 715.4h8.8v1.4h-8.8zM319.8 716.7h8.8v1.4h-8.8zM355.2 718h8.8v1.4h-8.8zM364 718h8.8v1.4h-8.8zM381.7 718h8.8v1.4h-8.8zM399.4 718h8.8v1.4h-8.8zM417.1 719.4h8.8v1.4h-8.8zM408.3 720.7h8.8v1.4h-8.8zM337.5 722.1h8.8v1.4h-8.8zM417.1 723.4h8.8v1.4h-8.8zM417.1 724.7h8.8v1.4h-8.8zM319.8 727.4h8.8v1.4h-8.8zM399.4 727.4h8.8v1.4h-8.8zM328.6 728.8h8.8v1.4h-8.8zM381.7 728.8h8.8v1.4h-8.8zM408.3 728.8h8.8v1.4h-8.8zM417.1 728.8h8.8v1.4h-8.8zM381.7 730.1h8.8v1.4h-8.8zM328.6 731.4h8.8v1.4h-8.8zM408.3 732.8h8.8v1.4h-8.8zM417.1 735.5h8.8v1.4h-8.8zM408.3 738.1h8.8v1.4h-8.8zM390.6 739.5h8.8v1.4h-8.8zM364 740.8h8.8v1.4h-8.8zM390.6 740.8h8.8v1.4h-8.8zM408.3 740.8h8.8v1.4h-8.8zM372.9 742.2h8.8v1.4h-8.8zM417.1 742.2h8.8v1.4h-8.8z" fill="#f4f4ff"/>
<path d="M364 609.5h8.8v1.4h-8.8zM328.6 610.8h8.8v1.4h-8.8zM372.9 610.8h8.8v1.4h-8.8zM319.8 612.2h8.8v1.4h-8.8zM337.5 612.2h8.8v1.4h-8.8zM355.2 612.2h8.8v1.4h-8.8zM355.2 616.2h8.8v1.4h-8.8zM328.6 617.5h8.8v1.4h-8.8zM355.2 617.5h8.8v1.4h-8.8zM346.3 618.9h8.8v1.4h-8.8zM355.2 618.9h8.8v1.4h-8.8zM337.5 620.2h8.8v1.4h-8.8zM346.3 621.6h8.8v1.4h-8.8zM337.5 622.9h8.8v1.4h-8.8zM355.2 622.9h8.8v1.4h-8.8zM319.8 624.2h8.8v1.4h-8.8zM319.8 625.6h8.8v1.4h-8.8zM346.3 625.6h8.8v1.4h-8.8zM355.2 625.6h8.8v1.4h-8.8zM337.5 626.9h8.8v1.4h-8.8zM346.3 626.9h8.8v1.4h-8.8zM337.5 628.3h8.8v1.4h-8.8zM346.3 628.3h8.8v1.4h-8.8zM346.3 629.6h8.8v1.4h-8.8zM372.9 630.9h8.8v1.4h-8.8zM381.7 630.9h8.8v1.4h-8.8zM417.1 630.9h8.8v1.4h-8.8zM337.5 632.3h8.8v1.4h-8.8zM355.2 632.3h8.8v1.4h-8.8zM319.8 633.6h8.8v1.4h-8.8zM364 635h8.8v1.4h-8.8zM346.3 636.3h8.8v1.4h-8.8zM364 636.3h8.8v1.4h-8.8zM346.3 637.6h8.8v1.4h-8.8zM337.5 639h8.8v1.4h-8.8zM364 639h8.8v1.4h-8.8zM328.6 640.3h8.8v1.4h-8.8zM346.3 640.3h8.8v1.4h-8.8zM346.3 641.7h8.8v1.4h-8.8zM328.6 644.3h8.8v1.4h-8.8zM319.8 647h8.8v1.4h-8.8zM346.3 647h8.8v1.4h-8.8zM346.3 648.4h8.8v1.4h-8.8zM364 648.4h8.8v1.4h-8.8zM328.6 651h8.8v1.4h-8.8zM346.3 651h8.8v1.4h-8.8zM364 651h8.8v1.4h-8.8zM346.3 655.1h8.8v1.4h-8.8zM337.5 656.4h8.8v1.4h-8.8zM364 663.1h8.8v1.4h-8.8zM319.8 664.4h8.8v1.4h-8.8zM328.6 664.4h8.8v1.4h-8.8zM364 664.4h8.8v1.4h-8.8zM328.6 665.8h8.8v1.4h-8.8zM346.3 665.8h8.8v1.4h-8.8zM408.3 665.8h8.8v1.4h-8.8zM319.8 667.1h8.8v1.4h-8.8zM337.5 667.1h8.8v1.4h-8.8zM372.9 669.8h8.8v1.4h-8.8zM319.8 671.1h8.8v1.4h-8.8zM346.3 671.1h8.8v1.4h-8.8zM328.6 672.5h8.8v1.4h-8.8zM337.5 672.5h8.8v1.4h-8.8zM346.3 673.8h8.8v1.4h-8.8zM328.6 675.2h8.8v1.4h-8.8zM328.6 679.2h8.8v1.4h-8.8zM399.4 679.2h8.8v1.4h-8.8zM346.3 681.9h8.8v1.4h-8.8zM355.2 681.9h8.8v1.4h-8.8zM364 681.9h8.8v1.4h-8.8zM372.9 681.9h8.8v1.4h-8.8zM328.6 685.9h8.8v1.4h-8.8zM355.2 685.9h8.8v1.4h-8.8zM364 685.9h8.8v1.4h-8.8zM328.6 687.2h8.8v1.4h-8.8zM434.8 691.2h8.8v1.4h-8.8zM328.6 693.9h8.8v1.4h-8.8zM337.5 693.9h8.8v1.4h-8.8zM337.5 695.3h8.8v1.4h-8.8zM319.8 696.6h8.8v1.4h-8.8zM337.5 696.6h8.8v1.4h-8.8zM364 697.9h8.8v1.4h-8.8zM390.6 697.9h8.8v1.4h-8.8zM390.6 699.3h8.8v1.4h-8.8zM328.6 700.6h8.8v1.4h-8.8zM337.5 702h8.8v1.4h-8.8zM408.3 708.7h8.8v1.4h-8.8zM355.2 714h8.8v1.4h-8.8zM408.3 714h8.8v1.4h-8.8zM443.7 715.4h8.8v1.4h-8.8zM372.9 716.7h8.8v1.4h-8.8zM390.6 716.7h8.8v1.4h-8.8zM399.4 716.7h8.8v1.4h-8.8zM443.7 716.7h8.8v1.4h-8.8zM408.3 718h8.8v1.4h-8.8zM355.2 719.4h8.8v1.4h-8.8zM355.2 722.1h8.8v1.4h-8.8zM364 723.4h8.8v1.4h-8.8zM319.8 724.7h8.8v1.4h-8.8zM408.3 726.1h8.8v1.4h-8.8zM417.1 730.1h8.8v1.4h-8.8zM443.7 730.1h8.8v1.4h-8.8zM381.7 736.8h8.8v1.4h-8.8zM408.3 736.8h8.8v1.4h-8.8zM426 739.5h8.8v1.4h-8.8z" fill="#d4d4ff"/>
<path d="M372.9 609.5h8.8v1.4h-8.8zM390.6 609.5h8.8v1.4h-8.8zM399.4 609.5h8.8v1.4h-8.8zM408.3 609.5h8.8v1.4h-8.8zM408.3 612.2h8.8v1.4h-8.8zM417.1 612.2h8.8v1.4h-8.8zM399.4 613.5h8.8v1.4h-8.8zM399.4 614.9h8.8v1.4h-8.8zM443.7 614.9h8.8v1.4h-8.8zM372.9 616.2h8.8v1.4h-8.8zM443.7 616.2h8.8v1.4h-8.8zM390.6 617.5h8.8v1.4h-8.8zM381.7 620.2h8.8v1.4h-8.8zM337.5 621.6h8.8v1.4h-8.8zM381.7 621.6h8.8v1.4h-8.8zM408.3 621.6h8.8v1.4h-8.8zM381.7 624.2h8.8v1.4h-8.8zM372.9 625.6h8.8v1.4h-8.8zM417.1 625.6h8.8v1.4h-8.8zM417.1 629.6h8.8v1.4h-8.8zM399.4 632.3h8.8v1.4h-8.8zM434.8 632.3h8.8v1.4h-8.8zM399.4 633.6h8.8v1.4h-8.8zM434.8 633.6h8.8v1.4h-8.8zM399.4 635h8.8v1.4h-8.8zM372.9 637.6h8.8v1.4h-8.8zM381.7 637.6h8.8v1.4h-8.8zM390.6 637.6h8.8v1.4h-8.8zM399.4 637.6h8.8v1.4h-8.8zM328.6 639h8.8v1.4h-8.8zM372.9 639h8.8v1.4h-8.8zM408.3 639h8.8v1.4h-8.8zM355.2 640.3h8.8v1.4h-8.8zM399.4 640.3h8.8v1.4h-8.8zM328.6 643h8.8v1.4h-8.8zM372.9 643h8.8v1.4h-8.8zM417.1 643h8.8v1.4h-8.8zM390.6 644.3h8.8v1.4h-8.8zM408.3 644.3h8.8v1.4h-8.8zM372.9 645.7h8.8v1.4h-8.8zM328.6 647h8.8v1.4h-8.8zM372.9 647h8.8v1.4h-8.8zM372.9 648.4h8.8v1.4h-8.8zM381.7 648.4h8.8v1.4h-8.8zM399.4 648.4h8.8v1.4h-8.8zM381.7 651h8.8v1.4h-8.8zM399.4 651h8.8v1.4h-8.8zM381.7 652.4h8.8v1.4h-8.8zM408.3 652.4h8.8v1.4h-8.8zM417.1 652.4h8.8v1.4h-8.8zM390.6 653.7h8.8v1.4h-8.8zM417.1 656.4h8.8v1.4h-8.8zM319.8 657.7h8.8v1.4h-8.8zM372.9 659.1h8.8v1.4h-8.8zM417.1 659.1h8.8v1.4h-8.8zM426 659.1h8.8v1.4h-8.8zM399.4 660.4h8.8v1.4h-8.8zM399.4 661.8h8.8v1.4h-8.8zM417.1 661.8h8.8v1.4h-8.8zM390.6 663.1h8.8v1.4h-8.8zM426 663.1h8.8v1.4h-8.8zM408.3 664.4h8.8v1.4h-8.8zM364 665.8h8.8v1.4h-8.8zM399.4 665.8h8.8v1.4h-8.8zM346.3 667.1h8.8v1.4h-8.8zM390.6 667.1h8.8v1.4h-8.8zM372.9 668.5h8.8v1.4h-8.8zM390.6 669.8h8.8v1.4h-8.8zM417.1 669.8h8.8v1.4h-8.8zM417.1 671.1h8.8v1.4h-8.8zM381.7 672.5h8.8v1.4h-8.8zM390.6 672.5h8.8v1.4h-8.8zM337.5 673.8h8.8v1.4h-8.8zM381.7 675.2h8.8v1.4h-8.8zM408.3 676.5h8.8v1.4h-8.8zM319.8 677.8h8.8v1.4h-8.8zM417.1 679.2h8.8v1.4h-8.8zM426 679.2h8.8v1.4h-8.8zM346.3 683.2h8.8v1.4h-8.8zM372.9 683.2h8.8v1.4h-8.8zM390.6 683.2h8.8v1.4h-8.8zM319.8 684.5h8.8v1.4h-8.8zM390.6 684.5h8.8v1.4h-8.8zM417.1 684.5h8.8v1.4h-8.8zM381.7 685.9h8.8v1.4h-8.8zM434.8 687.2h8.8v1.4h-8.8zM408.3 688.6h8.8v1.4h-8.8zM417.1 688.6h8.8v1.4h-8.8zM426 689.9h8.8v1.4h-8.8zM372.9 693.9h8.8v1.4h-8.8zM381.7 695.3h8.8v1.4h-8.8zM355.2 697.9h8.8v1.4h-8.8zM434.8 697.9h8.8v1.4h-8.8zM355.2 700.6h8.8v1.4h-8.8zM381.7 700.6h8.8v1.4h-8.8zM390.6 702h8.8v1.4h-8.8zM328.6 703.3h8.8v1.4h-8.8zM355.2 704.6h8.8v1.4h-8.8zM346.3 706h8.8v1.4h-8.8zM355.2 706h8.8v1.4h-8.8zM408.3 706h8.8v1.4h-8.8zM390.6 707.3h8.8v1.4h-8.8zM328.6 708.7h8.8v1.4h-8.8zM408.3 710h8.8v1.4h-8.8zM328.6 711.3h8.8v1.4h-8.8zM346.3 711.3h8.8v1.4h-8.8zM355.2 711.3h8.8v1.4h-8.8zM346.3 712.7h8.8v1.4h-8.8zM346.3 714h8.8v1.4h-8.8zM319.8 715.4h8.8v1.4h-8.8zM346.3 718h8.8v1.4h-8.8zM372.9 718h8.8v1.4h-8.8zM346.3 719.4h8.8v1.4h-8.8zM399.4 719.4h8.8v1.4h-8.8zM381.7 720.7h8.8v1.4h-8.8zM381.7 722.1h8.8v1.4h-8.8zM399.4 722.1h8.8v1.4h-8.8zM319.8 723.4h8.8v1.4h-8.8zM372.9 723.4h8.8v1.4h-8.8zM381.7 723.4h8.8v1.4h-8.8zM390.6 726.1h8.8v1.4h-8.8zM381.7 727.4h8.8v1.4h-8.8zM408.3 727.4h8.8v1.4h-8.8zM337.5 730.1h8.8v1.4h-8.8zM372.9 730.1h8.8v1.4h-8.8zM399.4 730.1h8.8v1.4h-8.8zM364 731.4h8.8v1.4h-8.8zM381.7 731.4h8.8v1.4h-8.8zM372.9 732.8h8.8v1.4h-8.8zM399.4 732.8h8.8v1.4h-8.8zM390.6 735.5h8.8v1.4h-8.8zM364 736.8h8.8v1.4h-8.8zM328.6 738.1h8.8v1.4h-8.8zM372.9 738.1h8.8v1.4h-8.8zM390.6 738.1h8.8v1.4h-8.8zM399.4 738.1h8.8v1.4h-8.8zM408.3 739.5h8.8v1.4h-8.8zM417.1 739.5h8.8v1.4h-8.8zM355.2 740.8h8.8v1.4h-8.8zM372.9 740.8h8.8v1.4h-8.8zM381.7 740.8h8.8v1.4h-8.8zM364 742.2h8.8v1.4h-8.8zM381.7 742.2h8.8v1.4h-8.8z" fill="#ffffff"/>
<path d="M381.7 609.5h8.8v1.4h-8.8zM319.8 610.8h8.8v1.4h-8.8zM337.5 610.8h8.8v1.4h-8.8zM346.3 610.8h8.8v1.4h-8.8zM381.7 610.8h8.8v1.4h-8.8zM319.8 614.9h8.8v1.4h-8.8zM328.6 614.9h8.8v1.4h-8.8zM364 616.2h8.8v1.4h-8.8zM364 617.5h8.8v1.4h-8.8zM319.8 618.9h8.8v1.4h-8.8zM328.6 618.9h8.8v1.4h-8.8zM364 618.9h8.8v1.4h-8.8zM328.6 622.9h8.8v1.4h-8.8zM337.5 625.6h8.8v1.4h-8.8zM364 625.6h8.8v1.4h-8.8zM372.9 626.9h8.8v1.4h-8.8zM364 628.3h8.8v1.4h-8.8zM337.5 630.9h8.8v1.4h-8.8zM355.2 630.9h8.8v1.4h-8.8zM390.6 630.9h8.8v1.4h-8.8zM319.8 632.3h8.8v1.4h-8.8zM328.6 632.3h8.8v1.4h-8.8zM364 633.6h8.8v1.4h-8.8zM328.6 635h8.8v1.4h-8.8zM319.8 640.3h8.8v1.4h-8.8zM337.5 640.3h8.8v1.4h-8.8zM364 641.7h8.8v1.4h-8.8zM319.8 643h8.8v1.4h-8.8zM337.5 648.4h8.8v1.4h-8.8zM319.8 649.7h8.8v1.4h-8.8zM337.5 651h8.8v1.4h-8.8zM328.6 652.4h8.8v1.4h-8.8zM364 652.4h8.8v1.4h-8.8zM319.8 653.7h8.8v1.4h-8.8zM346.3 653.7h8.8v1.4h-8.8zM337.5 657.7h8.8v1.4h-8.8zM319.8 659.1h8.8v1.4h-8.8zM337.5 659.1h8.8v1.4h-8.8zM328.6 663.1h8.8v1.4h-8.8zM319.8 665.8h8.8v1.4h-8.8zM364 667.1h8.8v1.4h-8.8zM328.6 669.8h8.8v1.4h-8.8zM346.3 669.8h8.8v1.4h-8.8zM364 669.8h8.8v1.4h-8.8zM337.5 671.1h8.8v1.4h-8.8zM364 671.1h8.8v1.4h-8.8zM346.3 675.2h8.8v1.4h-8.8zM364 675.2h8.8v1.4h-8.8zM372.9 679.2h8.8v1.4h-8.8zM364 684.5h8.8v1.4h-8.8zM346.3 685.9h8.8v1.4h-8.8zM364 688.6h8.8v1.4h-8.8zM319.8 689.9h8.8v1.4h-8.8zM319.8 691.2h8.8v1.4h-8.8zM337.5 691.2h8.8v1.4h-8.8zM319.8 692.6h8.8v1.4h-8.8zM328.6 697.9h8.8v1.4h-8.8zM328.6 699.3h8.8v1.4h-8.8zM328.6 704.6h8.8v1.4h-8.8zM443.7 704.6h8.8v1.4h-8.8zM426 707.3h8.8v1.4h-8.8zM443.7 707.3h8.8v1.4h-8.8zM364 708.7h8.8v1.4h-8.8zM417.1 718h8.8v1.4h-8.8zM426 720.7h8.8v1.4h-8.8zM408.3 724.7h8.8v1.4h-8.8zM426 730.1h8.8v1.4h-8.8zM443.7 732.8h8.8v1.4h-8.8zM364 734.1h8.8v1.4h-8.8zM390.6 734.1h8.8v1.4h-8.8zM399.4 734.1h8.8v1.4h-8.8zM328.6 736.8h8.8v1.4h-8.8z" fill="#bfbfff"/>
<path d="M417.1 609.5h8.8v1.4h-8.8zM390.6 610.8h8.8v1.4h-8.8zM399.4 610.8h8.8v1.4h-8.8zM417.1 610.8h8.8v1.4h-8.8zM399.4 612.2h8.8v1.4h-8.8zM364 613.5h8.8v1.4h-8.8zM381.7 613.5h8.8v1.4h-8.8zM337.5 614.9h8.8v1.4h-8.8zM372.9 614.9h8.8v1.4h-8.8zM408.3 616.2h8.8v1.4h-8.8zM417.1 617.5h8.8v1.4h-8.8zM381.7 618.9h8.8v1.4h-8.8zM390.6 618.9h8.8v1.4h-8.8zM372.9 620.2h8.8v1.4h-8.8zM319.8 621.6h8.8v1.4h-8.8zM390.6 622.9h8.8v1.4h-8.8zM417.1 622.9h8.8v1.4h-8.8zM355.2 624.2h8.8v1.4h-8.8zM381.7 625.6h8.8v1.4h-8.8zM390.6 625.6h8.8v1.4h-8.8zM390.6 626.9h8.8v1.4h-8.8zM381.7 628.3h8.8v1.4h-8.8zM399.4 628.3h8.8v1.4h-8.8zM355.2 629.6h8.8v1.4h-8.8zM381.7 629.6h8.8v1.4h-8.8zM390.6 629.6h8.8v1.4h-8.8zM408.3 630.9h8.8v1.4h-8.8zM381.7 633.6h8.8v1.4h-8.8zM390.6 635h8.8v1.4h-8.8zM355.2 636.3h8.8v1.4h-8.8zM390.6 636.3h8.8v1.4h-8.8zM328.6 637.6h8.8v1.4h-8.8zM337.5 637.6h8.8v1.4h-8.8zM434.8 637.6h8.8v1.4h-8.8zM355.2 639h8.8v1.4h-8.8zM337.5 644.3h8.8v1.4h-8.8zM372.9 644.3h8.8v1.4h-8.8zM337.5 645.7h8.8v1.4h-8.8zM346.3 645.7h8.8v1.4h-8.8zM381.7 645.7h8.8v1.4h-8.8zM390.6 645.7h8.8v1.4h-8.8zM390.6 647h8.8v1.4h-8.8zM337.5 649.7h8.8v1.4h-8.8zM346.3 649.7h8.8v1.4h-8.8zM372.9 651h8.8v1.4h-8.8zM364 653.7h8.8v1.4h-8.8zM417.1 655.1h8.8v1.4h-8.8zM328.6 656.4h8.8v1.4h-8.8zM346.3 656.4h8.8v1.4h-8.8zM355.2 656.4h8.8v1.4h-8.8zM328.6 657.7h8.8v1.4h-8.8zM355.2 659.1h8.8v1.4h-8.8zM364 659.1h8.8v1.4h-8.8zM399.4 659.1h8.8v1.4h-8.8zM319.8 661.8h8.8v1.4h-8.8zM337.5 661.8h8.8v1.4h-8.8zM319.8 663.1h8.8v1.4h-8.8zM337.5 664.4h8.8v1.4h-8.8zM355.2 664.4h8.8v1.4h-8.8zM399.4 664.4h8.8v1.4h-8.8zM417.1 665.8h8.8v1.4h-8.8zM355.2 667.1h8.8v1.4h-8.8zM364 668.5h8.8v1.4h-8.8zM399.4 669.8h8.8v1.4h-8.8zM408.3 669.8h8.8v1.4h-8.8zM399.4 671.1h8.8v1.4h-8.8zM364 672.5h8.8v1.4h-8.8zM381.7 673.8h8.8v1.4h-8.8zM372.9 675.2h8.8v1.4h-8.8zM390.6 675.2h8.8v1.4h-8.8zM417.1 675.2h8.8v1.4h-8.8zM328.6 676.5h8.8v1.4h-8.8zM328.6 677.8h8.8v1.4h-8.8zM381.7 679.2h8.8v1.4h-8.8zM381.7 680.5h8.8v1.4h-8.8zM381.7 681.9h8.8v1.4h-8.8zM328.6 683.2h8.8v1.4h-8.8zM337.5 684.5h8.8v1.4h-8.8zM346.3 684.5h8.8v1.4h-8.8zM346.3 687.2h8.8v1.4h-8.8zM372.9 687.2h8.8v1.4h-8.8zM390.6 687.2h8.8v1.4h-8.8zM408.3 687.2h8.8v1.4h-8.8zM337.5 689.9h8.8v1.4h-8.8zM426 691.2h8.8v1.4h-8.8zM381.7 692.6h8.8v1.4h-8.8zM390.6 692.6h8.8v1.4h-8.8zM319.8 693.9h8.8v1.4h-8.8zM426 693.9h8.8v1.4h-8.8zM346.3 695.3h8.8v1.4h-8.8zM355.2 695.3h8.8v1.4h-8.8zM372.9 695.3h8.8v1.4h-8.8zM355.2 696.6h8.8v1.4h-8.8zM381.7 696.6h8.8v1.4h-8.8zM346.3 699.3h8.8v1.4h-8.8zM372.9 699.3h8.8v1.4h-8.8zM434.8 699.3h8.8v1.4h-8.8zM319.8 700.6h8.8v1.4h-8.8zM337.5 700.6h8.8v1.4h-8.8zM328.6 702h8.8v1.4h-8.8zM319.8 703.3h8.8v1.4h-8.8zM355.2 703.3h8.8v1.4h-8.8zM399.4 707.3h8.8v1.4h-8.8zM319.8 710h8.8v1.4h-8.8zM346.3 710h8.8v1.4h-8.8zM399.4 710h8.8v1.4h-8.8zM408.3 711.3h8.8v1.4h-8.8zM417.1 711.3h8.8v1.4h-8.8zM364 712.7h8.8v1.4h-8.8zM337.5 714h8.8v1.4h-8.8zM417.1 714h8.8v1.4h-8.8zM364 715.4h8.8v1.4h-8.8zM408.3 716.7h8.8v1.4h-8.8zM319.8 718h8.8v1.4h-8.8zM337.5 718h8.8v1.4h-8.8zM390.6 718h8.8v1.4h-8.8zM337.5 719.4h8.8v1.4h-8.8zM364 719.4h8.8v1.4h-8.8zM372.9 719.4h8.8v1.4h-8.8zM390.6 719.4h8.8v1.4h-8.8zM408.3 719.4h8.8v1.4h-8.8zM399.4 720.7h8.8v1.4h-8.8zM417.1 720.7h8.8v1.4h-8.8zM364 722.1h8.8v1.4h-8.8zM417.1 722.1h8.8v1.4h-8.8zM328.6 723.4h8.8v1.4h-8.8zM346.3 723.4h8.8v1.4h-8.8zM390.6 723.4h8.8v1.4h-8.8zM399.4 723.4h8.8v1.4h-8.8zM408.3 723.4h8.8v1.4h-8.8zM372.9 724.7h8.8v1.4h-8.8zM381.7 724.7h8.8v1.4h-8.8zM381.7 726.1h8.8v1.4h-8.8zM399.4 726.1h8.8v1.4h-8.8zM328.6 727.4h8.8v1.4h-8.8zM390.6 728.8h8.8v1.4h-8.8zM408.3 730.1h8.8v1.4h-8.8zM372.9 731.4h8.8v1.4h-8.8zM390.6 732.8h8.8v1.4h-8.8zM417.1 732.8h8.8v1.4h-8.8zM328.6 734.1h8.8v1.4h-8.8zM381.7 735.5h8.8v1.4h-8.8zM399.4 735.5h8.8v1.4h-8.8zM390.6 736.8h8.8v1.4h-8.8zM417.1 736.8h8.8v1.4h-8.8zM355.2 742.2h8.8v1.4h-8.8zM390.6 742.2h8.8v1.4h-8.8zM399.4 742.2h8.8v1.4h-8.8zM408.3 742.2h8.8v1.4h-8.8z" fill="#eaeaff"/>
<path d="M426 609.5h8.8v1.4h-8.8zM426 613.5h8.8v1.4h-8.8zM426 616.2h8.8v1.4h-8.8zM426 637.6h8.8v1.4h-8.8zM426 648.4h8.8v1.4h-8.8zM443.7 657.7h8.8v1.4h-8.8zM434.8 680.5h8.8v1.4h-8.8zM443.7 687.2h8.8v1.4h-8.8zM337.5 728.8h8.8v1.4h-8.8z" fill="#ff3535"/>
<path d="M434.8 609.5h8.8v1.4h-8.8zM443.7 609.5h8.8v1.4h-8.8zM372.9 612.2h8.8v1.4h-8.8zM381.7 612.2h8.8v1.4h-8.8zM390.6 613.5h8.8v1.4h-8.8zM408.3 614.9h8.8v1.4h-8.8zM443.7 617.5h8.8v1.4h-8.8zM408.3 618.9h8.8v1.4h-8.8zM443.7 618.9h8.8v1.4h-8.8zM364 620.2h8.8v1.4h-8.8zM408.3 620.2h8.8v1.4h-8.8zM417.1 620.2h8.8v1.4h-8.8zM364 624.2h8.8v1.4h-8.8zM390.6 624.2h8.8v1.4h-8.8zM417.1 626.9h8.8v1.4h-8.8zM408.3 632.3h8.8v1.4h-8.8zM408.3 635h8.8v1.4h-8.8zM399.4 636.3h8.8v1.4h-8.8zM408.3 636.3h8.8v1.4h-8.8zM408.3 637.6h8.8v1.4h-8.8zM390.6 639h8.8v1.4h-8.8zM399.4 639h8.8v1.4h-8.8zM381.7 640.3h8.8v1.4h-8.8zM381.7 641.7h8.8v1.4h-8.8zM381.7 643h8.8v1.4h-8.8zM381.7 644.3h8.8v1.4h-8.8zM355.2 647h8.8v1.4h-8.8zM364 649.7h8.8v1.4h-8.8zM372.9 652.4h8.8v1.4h-8.8zM372.9 655.1h8.8v1.4h-8.8zM399.4 655.1h8.8v1.4h-8.8zM408.3 655.1h8.8v1.4h-8.8zM364 657.7h8.8v1.4h-8.8zM408.3 657.7h8.8v1.4h-8.8zM390.6 659.1h8.8v1.4h-8.8zM390.6 660.4h8.8v1.4h-8.8zM355.2 661.8h8.8v1.4h-8.8zM372.9 661.8h8.8v1.4h-8.8zM381.7 661.8h8.8v1.4h-8.8zM399.4 663.1h8.8v1.4h-8.8zM417.1 664.4h8.8v1.4h-8.8zM390.6 665.8h8.8v1.4h-8.8zM372.9 667.1h8.8v1.4h-8.8zM399.4 667.1h8.8v1.4h-8.8zM408.3 667.1h8.8v1.4h-8.8zM417.1 667.1h8.8v1.4h-8.8zM399.4 668.5h8.8v1.4h-8.8zM381.7 671.1h8.8v1.4h-8.8zM346.3 672.5h8.8v1.4h-8.8zM390.6 673.8h8.8v1.4h-8.8zM408.3 673.8h8.8v1.4h-8.8zM426 676.5h8.8v1.4h-8.8zM381.7 677.8h8.8v1.4h-8.8zM390.6 677.8h8.8v1.4h-8.8zM408.3 679.2h8.8v1.4h-8.8zM355.2 680.5h8.8v1.4h-8.8zM372.9 680.5h8.8v1.4h-8.8zM399.4 680.5h8.8v1.4h-8.8zM417.1 680.5h8.8v1.4h-8.8zM426 680.5h8.8v1.4h-8.8zM408.3 681.9h8.8v1.4h-8.8zM426 681.9h8.8v1.4h-8.8zM372.9 684.5h8.8v1.4h-8.8zM381.7 684.5h8.8v1.4h-8.8zM372.9 685.9h8.8v1.4h-8.8zM390.6 685.9h8.8v1.4h-8.8zM328.6 688.6h8.8v1.4h-8.8zM372.9 688.6h8.8v1.4h-8.8zM390.6 688.6h8.8v1.4h-8.8zM434.8 688.6h8.8v1.4h-8.8zM399.4 691.2h8.8v1.4h-8.8zM408.3 691.2h8.8v1.4h-8.8zM390.6 693.9h8.8v1.4h-8.8zM426 695.3h8.8v1.4h-8.8zM443.7 696.6h8.8v1.4h-8.8zM381.7 697.9h8.8v1.4h-8.8zM443.7 697.9h8.8v1.4h-8.8zM443.7 699.3h8.8v1.4h-8.8zM364 700.6h8.8v1.4h-8.8zM372.9 700.6h8.8v1.4h-8.8zM390.6 700.6h8.8v1.4h-8.8zM346.3 702h8.8v1.4h-8.8zM364 702h8.8v1.4h-8.8zM372.9 702h8.8v1.4h-8.8zM426 702h8.8v1.4h-8.8zM337.5 706h8.8v1.4h-8.8zM364 706h8.8v1.4h-8.8zM399.4 706h8.8v1.4h-8.8zM417.1 706h8.8v1.4h-8.8zM319.8 707.3h8.8v1.4h-8.8zM337.5 710h8.8v1.4h-8.8zM399.4 711.3h8.8v1.4h-8.8zM337.5 712.7h8.8v1.4h-8.8zM408.3 712.7h8.8v1.4h-8.8zM319.8 714h8.8v1.4h-8.8zM408.3 715.4h8.8v1.4h-8.8zM337.5 716.7h8.8v1.4h-8.8zM381.7 716.7h8.8v1.4h-8.8zM319.8 719.4h8.8v1.4h-8.8zM381.7 719.4h8.8v1.4h-8.8zM346.3 720.7h8.8v1.4h-8.8zM372.9 720.7h8.8v1.4h-8.8zM319.8 722.1h8.8v1.4h-8.8zM372.9 722.1h8.8v1.4h-8.8zM328.6 726.1h8.8v1.4h-8.8zM364 726.1h8.8v1.4h-8.8zM372.9 727.4h8.8v1.4h-8.8zM390.6 727.4h8.8v1.4h-8.8zM417.1 727.4h8.8v1.4h-8.8zM364 728.8h8.8v1.4h-8.8zM390.6 730.1h8.8v1.4h-8.8zM399.4 731.4h8.8v1.4h-8.8zM328.6 732.8h8.8v1.4h-8.8zM337.5 734.1h8.8v1.4h-8.8zM364 735.5h8.8v1.4h-8.8zM372.9 735.5h8.8v1.4h-8.8zM408.3 735.5h8.8v1.4h-8.8zM364 738.1h8.8v1.4h-8.8zM417.1 738.1h8.8v1.4h-8.8zM372.9 739.5h8.8v1.4h-8.8zM337.5 742.2h8.8v1.4h-8.8z" fill="#fff4f4"/>
<path d="M355.2 610.8h8.8v1.4h-8.8zM346.3 612.2h8.8v1.4h-8.8zM364 614.9h8.8v1.4h-8.8zM328.6 616.2h8.8v1.4h-8.8zM337.5 616.2h8.8v1.4h-8.8zM372.9 617.5h8.8v1.4h-8.8zM381.7 617.5h8.8v1.4h-8.8zM372.9 618.9h8.8v1.4h-8.8zM319.8 620.2h8.8v1.4h-8.8zM346.3 620.2h8.8v1.4h-8.8zM355.2 621.6h8.8v1.4h-8.8zM372.9 621.6h8.8v1.4h-8.8zM364 622.9h8.8v1.4h-8.8zM328.6 624.2h8.8v1.4h-8.8zM346.3 624.2h8.8v1.4h-8.8zM328.6 625.6h8.8v1.4h-8.8zM328.6 626.9h8.8v1.4h-8.8zM381.7 626.9h8.8v1.4h-8.8zM399.4 626.9h8.8v1.4h-8.8zM408.3 626.9h8.8v1.4h-8.8zM434.8 626.9h8.8v1.4h-8.8zM355.2 628.3h8.8v1.4h-8.8zM408.3 628.3h8.8v1.4h-8.8zM328.6 629.6h8.8v1.4h-8.8zM364 629.6h8.8v1.4h-8.8zM399.4 630.9h8.8v1.4h-8.8zM346.3 632.3h8.8v1.4h-8.8zM381.7 632.3h8.8v1.4h-8.8zM372.9 633.6h8.8v1.4h-8.8zM390.6 633.6h8.8v1.4h-8.8zM372.9 635h8.8v1.4h-8.8zM381.7 635h8.8v1.4h-8.8zM319.8 636.3h8.8v1.4h-8.8zM328.6 636.3h8.8v1.4h-8.8zM337.5 636.3h8.8v1.4h-8.8zM319.8 639h8.8v1.4h-8.8zM346.3 639h8.8v1.4h-8.8zM364 640.3h8.8v1.4h-8.8zM319.8 641.7h8.8v1.4h-8.8zM328.6 641.7h8.8v1.4h-8.8zM372.9 641.7h8.8v1.4h-8.8zM364 643h8.8v1.4h-8.8zM319.8 644.3h8.8v1.4h-8.8zM346.3 644.3h8.8v1.4h-8.8zM364 644.3h8.8v1.4h-8.8zM319.8 645.7h8.8v1.4h-8.8zM364 645.7h8.8v1.4h-8.8zM337.5 647h8.8v1.4h-8.8zM328.6 649.7h8.8v1.4h-8.8zM355.2 649.7h8.8v1.4h-8.8zM390.6 651h8.8v1.4h-8.8zM408.3 651h8.8v1.4h-8.8zM399.4 652.4h8.8v1.4h-8.8zM337.5 653.7h8.8v1.4h-8.8zM355.2 653.7h8.8v1.4h-8.8zM328.6 655.1h8.8v1.4h-8.8zM337.5 655.1h8.8v1.4h-8.8zM364 656.4h8.8v1.4h-8.8zM355.2 657.7h8.8v1.4h-8.8zM346.3 659.1h8.8v1.4h-8.8zM328.6 660.4h8.8v1.4h-8.8zM337.5 660.4h8.8v1.4h-8.8zM364 660.4h8.8v1.4h-8.8zM346.3 663.1h8.8v1.4h-8.8zM355.2 663.1h8.8v1.4h-8.8zM328.6 667.1h8.8v1.4h-8.8zM319.8 668.5h8.8v1.4h-8.8zM328.6 668.5h8.8v1.4h-8.8zM337.5 668.5h8.8v1.4h-8.8zM381.7 669.8h8.8v1.4h-8.8zM355.2 671.1h8.8v1.4h-8.8zM408.3 671.1h8.8v1.4h-8.8zM319.8 672.5h8.8v1.4h-8.8zM372.9 676.5h8.8v1.4h-8.8zM381.7 676.5h8.8v1.4h-8.8zM337.5 677.8h8.8v1.4h-8.8zM355.2 677.8h8.8v1.4h-8.8zM328.6 680.5h8.8v1.4h-8.8zM337.5 680.5h8.8v1.4h-8.8zM346.3 680.5h8.8v1.4h-8.8zM319.8 681.9h8.8v1.4h-8.8zM417.1 681.9h8.8v1.4h-8.8zM355.2 684.5h8.8v1.4h-8.8zM337.5 685.9h8.8v1.4h-8.8zM426 685.9h8.8v1.4h-8.8zM364 687.2h8.8v1.4h-8.8zM337.5 688.6h8.8v1.4h-8.8zM355.2 688.6h8.8v1.4h-8.8zM390.6 689.9h8.8v1.4h-8.8zM381.7 691.2h8.8v1.4h-8.8zM372.9 697.9h8.8v1.4h-8.8zM337.5 699.3h8.8v1.4h-8.8zM364 699.3h8.8v1.4h-8.8zM337.5 703.3h8.8v1.4h-8.8zM443.7 703.3h8.8v1.4h-8.8zM337.5 704.6h8.8v1.4h-8.8zM337.5 707.3h8.8v1.4h-8.8zM346.3 707.3h8.8v1.4h-8.8zM319.8 708.7h8.8v1.4h-8.8zM355.2 708.7h8.8v1.4h-8.8zM364 710h8.8v1.4h-8.8zM426 711.3h8.8v1.4h-8.8zM443.7 711.3h8.8v1.4h-8.8zM417.1 712.7h8.8v1.4h-8.8zM346.3 716.7h8.8v1.4h-8.8zM364 720.7h8.8v1.4h-8.8zM390.6 722.1h8.8v1.4h-8.8zM408.3 722.1h8.8v1.4h-8.8zM355.2 723.4h8.8v1.4h-8.8zM319.8 726.1h8.8v1.4h-8.8zM372.9 726.1h8.8v1.4h-8.8zM364 727.4h8.8v1.4h-8.8zM443.7 727.4h8.8v1.4h-8.8zM390.6 731.4h8.8v1.4h-8.8zM408.3 731.4h8.8v1.4h-8.8zM417.1 731.4h8.8v1.4h-8.8zM426 732.8h8.8v1.4h-8.8zM381.7 734.1h8.8v1.4h-8.8zM328.6 735.5h8.8v1.4h-8.8zM372.9 736.8h8.8v1.4h-8.8zM399.4 736.8h8.8v1.4h-8.8zM443.7 740.8h8.8v1.4h-8.8zM328.6 742.2h8.8v1.4h-8.8zM346.3 742.2h8.8v1.4h-8.8z" fill="#dfdfff"/>
<path d="M426 610.8h8.8v1.4h-8.8zM426 628.3h8.8v1.4h-8.8zM426 633.6h8.8v1.4h-8.8zM426 635h8.8v1.4h-8.8zM426 639h8.8v1.4h-8.8zM443.7 655.1h8.8v1.4h-8.8zM434.8 663.1h8.8v1.4h-8.8zM443.7 663.1h8.8v1.4h-8.8zM434.8 664.4h8.8v1.4h-8.8zM434.8 665.8h8.8v1.4h-8.8zM443.7 685.9h8.8v1.4h-8.8zM337.5 723.4h8.8v1.4h-8.8z" fill="#ff5555"/>
<path d="M434.8 610.8h8.8v1.4h-8.8zM434.8 612.2h8.8v1.4h-8.8zM408.3 613.5h8.8v1.4h-8.8zM417.1 613.5h8.8v1.4h-8.8zM399.4 620.2h8.8v1.4h-8.8zM443.7 621.6h8.8v1.4h-8.8zM434.8 625.6h8.8v1.4h-8.8zM434.8 628.3h8.8v1.4h-8.8zM399.4 629.6h8.8v1.4h-8.8zM434.8 630.9h8.8v1.4h-8.8zM434.8 636.3h8.8v1.4h-8.8zM434.8 639h8.8v1.4h-8.8zM417.1 641.7h8.8v1.4h-8.8zM434.8 641.7h8.8v1.4h-8.8zM399.4 643h8.8v1.4h-8.8zM434.8 644.3h8.8v1.4h-8.8zM408.3 645.7h8.8v1.4h-8.8zM372.9 649.7h8.8v1.4h-8.8zM390.6 656.4h8.8v1.4h-8.8zM346.3 657.7h8.8v1.4h-8.8zM390.6 657.7h8.8v1.4h-8.8zM381.7 663.1h8.8v1.4h-8.8zM417.1 663.1h8.8v1.4h-8.8zM381.7 664.4h8.8v1.4h-8.8zM390.6 664.4h8.8v1.4h-8.8zM381.7 665.8h8.8v1.4h-8.8zM399.4 672.5h8.8v1.4h-8.8zM417.1 672.5h8.8v1.4h-8.8zM399.4 675.2h8.8v1.4h-8.8zM426 675.2h8.8v1.4h-8.8zM390.6 676.5h8.8v1.4h-8.8zM390.6 681.9h8.8v1.4h-8.8zM399.4 683.2h8.8v1.4h-8.8zM408.3 683.2h8.8v1.4h-8.8zM417.1 683.2h8.8v1.4h-8.8zM426 683.2h8.8v1.4h-8.8zM399.4 684.5h8.8v1.4h-8.8zM399.4 685.9h8.8v1.4h-8.8zM417.1 687.2h8.8v1.4h-8.8zM426 687.2h8.8v1.4h-8.8zM399.4 688.6h8.8v1.4h-8.8zM426 688.6h8.8v1.4h-8.8zM417.1 691.2h8.8v1.4h-8.8zM346.3 692.6h8.8v1.4h-8.8zM364 693.9h8.8v1.4h-8.8zM434.8 693.9h8.8v1.4h-8.8zM408.3 695.3h8.8v1.4h-8.8zM417.1 695.3h8.8v1.4h-8.8zM443.7 695.3h8.8v1.4h-8.8zM434.8 696.6h8.8v1.4h-8.8zM417.1 699.3h8.8v1.4h-8.8zM426 699.3h8.8v1.4h-8.8zM364 703.3h8.8v1.4h-8.8zM399.4 703.3h8.8v1.4h-8.8zM328.6 706h8.8v1.4h-8.8zM390.6 708.7h8.8v1.4h-8.8zM399.4 708.7h8.8v1.4h-8.8zM328.6 710h8.8v1.4h-8.8zM337.5 711.3h8.8v1.4h-8.8zM390.6 715.4h8.8v1.4h-8.8zM364 716.7h8.8v1.4h-8.8zM319.8 728.8h8.8v1.4h-8.8zM319.8 734.1h8.8v1.4h-8.8zM337.5 736.8h8.8v1.4h-8.8zM328.6 739.5h8.8v1.4h-8.8zM337.5 740.8h8.8v1.4h-8.8z" fill="#ffdfdf"/>
<path d="M443.7 610.8h8.8v1.4h-8.8zM328.6 613.5h8.8v1.4h-8.8zM434.8 613.5h8.8v1.4h-8.8zM390.6 616.2h8.8v1.4h-8.8zM399.4 617.5h8.8v1.4h-8.8zM417.1 618.9h8.8v1.4h-8.8zM434.8 618.9h8.8v1.4h-8.8zM434.8 621.6h8.8v1.4h-8.8zM399.4 622.9h8.8v1.4h-8.8zM434.8 622.9h8.8v1.4h-8.8zM399.4 624.2h8.8v1.4h-8.8zM399.4 625.6h8.8v1.4h-8.8zM408.3 629.6h8.8v1.4h-8.8zM408.3 633.6h8.8v1.4h-8.8zM381.7 636.3h8.8v1.4h-8.8zM417.1 637.6h8.8v1.4h-8.8zM390.6 640.3h8.8v1.4h-8.8zM390.6 641.7h8.8v1.4h-8.8zM399.4 641.7h8.8v1.4h-8.8zM355.2 643h8.8v1.4h-8.8zM390.6 643h8.8v1.4h-8.8zM408.3 643h8.8v1.4h-8.8zM434.8 643h8.8v1.4h-8.8zM434.8 645.7h8.8v1.4h-8.8zM381.7 647h8.8v1.4h-8.8zM408.3 647h8.8v1.4h-8.8zM390.6 648.4h8.8v1.4h-8.8zM408.3 648.4h8.8v1.4h-8.8zM408.3 649.7h8.8v1.4h-8.8zM417.1 651h8.8v1.4h-8.8zM372.9 653.7h8.8v1.4h-8.8zM381.7 653.7h8.8v1.4h-8.8zM381.7 655.1h8.8v1.4h-8.8zM426 655.1h8.8v1.4h-8.8zM417.1 657.7h8.8v1.4h-8.8zM408.3 660.4h8.8v1.4h-8.8zM390.6 661.8h8.8v1.4h-8.8zM408.3 661.8h8.8v1.4h-8.8zM372.9 663.1h8.8v1.4h-8.8zM408.3 663.1h8.8v1.4h-8.8zM381.7 667.1h8.8v1.4h-8.8zM390.6 668.5h8.8v1.4h-8.8zM426 671.1h8.8v1.4h-8.8zM372.9 672.5h8.8v1.4h-8.8zM408.3 672.5h8.8v1.4h-8.8zM399.4 673.8h8.8v1.4h-8.8zM408.3 675.2h8.8v1.4h-8.8zM408.3 677.8h8.8v1.4h-8.8zM390.6 680.5h8.8v1.4h-8.8zM319.8 683.2h8.8v1.4h-8.8zM364 683.2h8.8v1.4h-8.8zM408.3 684.5h8.8v1.4h-8.8zM426 684.5h8.8v1.4h-8.8zM408.3 685.9h8.8v1.4h-8.8zM417.1 685.9h8.8v1.4h-8.8zM434.8 685.9h8.8v1.4h-8.8zM399.4 687.2h8.8v1.4h-8.8zM364 689.9h8.8v1.4h-8.8zM372.9 689.9h8.8v1.4h-8.8zM381.7 689.9h8.8v1.4h-8.8zM355.2 691.2h8.8v1.4h-8.8zM364 691.2h8.8v1.4h-8.8zM426 692.6h8.8v1.4h-8.8zM364 695.3h8.8v1.4h-8.8zM434.8 695.3h8.8v1.4h-8.8zM364 696.6h8.8v1.4h-8.8zM381.7 699.3h8.8v1.4h-8.8zM408.3 699.3h8.8v1.4h-8.8zM381.7 702h8.8v1.4h-8.8zM443.7 702h8.8v1.4h-8.8zM346.3 703.3h8.8v1.4h-8.8zM390.6 706h8.8v1.4h-8.8zM328.6 707.3h8.8v1.4h-8.8zM390.6 710h8.8v1.4h-8.8zM399.4 712.7h8.8v1.4h-8.8zM337.5 715.4h8.8v1.4h-8.8zM399.4 715.4h8.8v1.4h-8.8zM355.2 716.7h8.8v1.4h-8.8zM337.5 720.7h8.8v1.4h-8.8zM355.2 720.7h8.8v1.4h-8.8zM390.6 720.7h8.8v1.4h-8.8zM346.3 722.1h8.8v1.4h-8.8zM328.6 724.7h8.8v1.4h-8.8zM390.6 724.7h8.8v1.4h-8.8zM372.9 728.8h8.8v1.4h-8.8zM399.4 728.8h8.8v1.4h-8.8zM364 730.1h8.8v1.4h-8.8zM337.5 731.4h8.8v1.4h-8.8zM364 732.8h8.8v1.4h-8.8zM346.3 734.1h8.8v1.4h-8.8zM381.7 738.1h8.8v1.4h-8.8zM346.3 740.8h8.8v1.4h-8.8zM399.4 740.8h8.8v1.4h-8.8z" fill="#ffeaea"/>
<path d="M426 612.2h8.8v1.4h-8.8zM426 622.9h8.8v1.4h-8.8zM426 626.9h8.8v1.4h-8.8zM426 632.3h8.8v1.4h-8.8zM426 636.3h8.8v1.4h-8.8zM426 641.7h8.8v1.4h-8.8zM426 645.7h8.8v1.4h-8.8zM443.7 649.7h8.8v1.4h-8.8zM426 651h8.8v1.4h-8.8zM434.8 656.4h8.8v1.4h-8.8zM434.8 657.7h8.8v1.4h-8.8zM434.8 660.4h8.8v1.4h-8.8zM434.8 669.8h8.8v1.4h-8.8zM434.8 679.2h8.8v1.4h-8.8z" fill="#ff4a4a"/>
<path d="M443.7 612.2h8.8v1.4h-8.8zM434.8 617.5h8.8v1.4h-8.8zM434.8 620.2h8.8v1.4h-8.8zM434.8 629.6h8.8v1.4h-8.8zM417.1 635h8.8v1.4h-8.8zM399.4 644.3h8.8v1.4h-8.8zM417.1 647h8.8v1.4h-8.8zM434.8 648.4h8.8v1.4h-8.8zM390.6 655.1h8.8v1.4h-8.8zM408.3 656.4h8.8v1.4h-8.8zM399.4 657.7h8.8v1.4h-8.8zM372.9 664.4h8.8v1.4h-8.8zM372.9 665.8h8.8v1.4h-8.8zM426 667.1h8.8v1.4h-8.8zM426 668.5h8.8v1.4h-8.8zM426 672.5h8.8v1.4h-8.8zM399.4 677.8h8.8v1.4h-8.8zM434.8 684.5h8.8v1.4h-8.8zM399.4 689.9h8.8v1.4h-8.8zM443.7 689.9h8.8v1.4h-8.8zM417.1 692.6h8.8v1.4h-8.8zM399.4 696.6h8.8v1.4h-8.8zM399.4 699.3h8.8v1.4h-8.8zM346.3 700.6h8.8v1.4h-8.8zM434.8 700.6h8.8v1.4h-8.8zM434.8 702h8.8v1.4h-8.8zM399.4 704.6h8.8v1.4h-8.8zM408.3 704.6h8.8v1.4h-8.8zM381.7 707.3h8.8v1.4h-8.8zM390.6 712.7h8.8v1.4h-8.8zM346.3 726.1h8.8v1.4h-8.8zM328.6 730.1h8.8v1.4h-8.8zM346.3 730.1h8.8v1.4h-8.8zM319.8 731.4h8.8v1.4h-8.8zM355.2 734.1h8.8v1.4h-8.8zM337.5 739.5h8.8v1.4h-8.8zM364 739.5h8.8v1.4h-8.8zM381.7 739.5h8.8v1.4h-8.8zM417.1 740.8h8.8v1.4h-8.8z" fill="#ffcaca"/>
<path d="M355.2 613.5h8.8v1.4h-8.8zM399.4 616.2h8.8v1.4h-8.8zM434.8 616.2h8.8v1.4h-8.8zM443.7 620.2h8.8v1.4h-8.8zM434.8 624.2h8.8v1.4h-8.8zM443.7 630.9h8.8v1.4h-8.8zM372.9 632.3h8.8v1.4h-8.8zM417.1 632.3h8.8v1.4h-8.8zM443.7 632.3h8.8v1.4h-8.8zM434.8 635h8.8v1.4h-8.8zM408.3 640.3h8.8v1.4h-8.8zM434.8 640.3h8.8v1.4h-8.8zM408.3 641.7h8.8v1.4h-8.8zM417.1 644.3h8.8v1.4h-8.8zM399.4 645.7h8.8v1.4h-8.8zM399.4 647h8.8v1.4h-8.8zM434.8 647h8.8v1.4h-8.8zM417.1 648.4h8.8v1.4h-8.8zM390.6 649.7h8.8v1.4h-8.8zM399.4 649.7h8.8v1.4h-8.8zM417.1 649.7h8.8v1.4h-8.8zM426 653.7h8.8v1.4h-8.8zM399.4 656.4h8.8v1.4h-8.8zM381.7 659.1h8.8v1.4h-8.8zM381.7 660.4h8.8v1.4h-8.8zM426 661.8h8.8v1.4h-8.8zM426 664.4h8.8v1.4h-8.8zM426 665.8h8.8v1.4h-8.8zM381.7 668.5h8.8v1.4h-8.8zM417.1 673.8h8.8v1.4h-8.8zM426 673.8h8.8v1.4h-8.8zM372.9 677.8h8.8v1.4h-8.8zM417.1 677.8h8.8v1.4h-8.8zM426 677.8h8.8v1.4h-8.8zM408.3 680.5h8.8v1.4h-8.8zM399.4 681.9h8.8v1.4h-8.8zM408.3 689.9h8.8v1.4h-8.8zM434.8 689.9h8.8v1.4h-8.8zM408.3 692.6h8.8v1.4h-8.8zM434.8 692.6h8.8v1.4h-8.8zM355.2 693.9h8.8v1.4h-8.8zM426 700.6h8.8v1.4h-8.8zM417.1 704.6h8.8v1.4h-8.8zM319.8 706h8.8v1.4h-8.8zM355.2 707.3h8.8v1.4h-8.8zM390.6 711.3h8.8v1.4h-8.8zM319.8 712.7h8.8v1.4h-8.8zM381.7 714h8.8v1.4h-8.8zM390.6 714h8.8v1.4h-8.8zM319.8 720.7h8.8v1.4h-8.8zM364 724.7h8.8v1.4h-8.8zM399.4 724.7h8.8v1.4h-8.8zM337.5 732.8h8.8v1.4h-8.8zM381.7 732.8h8.8v1.4h-8.8zM399.4 739.5h8.8v1.4h-8.8zM319.8 742.2h8.8v1.4h-8.8z" fill="#ffd4d4"/>
<path d="M443.7 613.5h8.8v1.4h-8.8zM443.7 626.9h8.8v1.4h-8.8zM443.7 633.6h8.8v1.4h-8.8zM443.7 639h8.8v1.4h-8.8zM443.7 641.7h8.8v1.4h-8.8zM443.7 648.4h8.8v1.4h-8.8zM381.7 657.7h8.8v1.4h-8.8zM372.9 660.4h8.8v1.4h-8.8zM408.3 700.6h8.8v1.4h-8.8zM417.1 700.6h8.8v1.4h-8.8zM399.4 702h8.8v1.4h-8.8zM417.1 702h8.8v1.4h-8.8zM381.7 703.3h8.8v1.4h-8.8zM390.6 703.3h8.8v1.4h-8.8zM381.7 704.6h8.8v1.4h-8.8zM372.9 706h8.8v1.4h-8.8zM372.9 708.7h8.8v1.4h-8.8zM372.9 710h8.8v1.4h-8.8zM381.7 711.3h8.8v1.4h-8.8zM328.6 716.7h8.8v1.4h-8.8zM328.6 719.4h8.8v1.4h-8.8zM319.8 732.8h8.8v1.4h-8.8zM346.3 735.5h8.8v1.4h-8.8zM319.8 736.8h8.8v1.4h-8.8zM355.2 736.8h8.8v1.4h-8.8z" fill="#ffaaaa"/>
<path d="M426 614.9h8.8v1.4h-8.8zM434.8 655.1h8.8v1.4h-8.8zM443.7 660.4h8.8v1.4h-8.8zM434.8 668.5h8.8v1.4h-8.8zM434.8 677.8h8.8v1.4h-8.8zM443.7 677.8h8.8v1.4h-8.8zM443.7 688.6h8.8v1.4h-8.8z" fill="#ff4040"/>
<path d="M426 617.5h8.8v1.4h-8.8zM426 618.9h8.8v1.4h-8.8zM426 621.6h8.8v1.4h-8.8zM434.8 651h8.8v1.4h-8.8zM426 652.4h8.8v1.4h-8.8zM443.7 656.4h8.8v1.4h-8.8zM434.8 659.1h8.8v1.4h-8.8zM434.8 661.8h8.8v1.4h-8.8zM443.7 661.8h8.8v1.4h-8.8zM443.7 667.1h8.8v1.4h-8.8zM443.7 668.5h8.8v1.4h-8.8zM443.7 671.1h8.8v1.4h-8.8zM434.8 672.5h8.8v1.4h-8.8zM443.7 673.8h8.8v1.4h-8.8zM434.8 675.2h8.8v1.4h-8.8zM434.8 681.9h8.8v1.4h-8.8zM337.5 726.1h8.8v1.4h-8.8zM337.5 727.4h8.8v1.4h-8.8z" fill="#ff6a6a"/>
<path d="M426 620.2h8.8v1.4h-8.8zM434.8 683.2h8.8v1.4h-8.8z" fill="#ff2b2b"/>
<path d="M319.8 622.9h8.8v1.4h-8.8zM319.8 628.3h8.8v1.4h-8.8zM319.8 630.9h8.8v1.4h-8.8zM346.3 661.8h8.8v1.4h-8.8zM364 661.8h8.8v1.4h-8.8zM337.5 669.8h8.8v1.4h-8.8zM355.2 669.8h8.8v1.4h-8.8zM346.3 676.5h8.8v1.4h-8.8zM337.5 679.2h8.8v1.4h-8.8zM426 703.3h8.8v1.4h-8.8zM443.7 706h8.8v1.4h-8.8zM443.7 710h8.8v1.4h-8.8zM434.8 711.3h8.8v1.4h-8.8zM426 714h8.8v1.4h-8.8zM426 716.7h8.8v1.4h-8.8zM426 718h8.8v1.4h-8.8zM443.7 722.1h8.8v1.4h-8.8zM443.7 723.4h8.8v1.4h-8.8zM443.7 724.7h8.8v1.4h-8.8zM426 728.8h8.8v1.4h-8.8zM443.7 728.8h8.8v1.4h-8.8zM426 731.4h8.8v1.4h-8.8zM408.3 734.1h8.8v1.4h-8.8zM434.8 738.1h8.8v1.4h-8.8z" fill="#aaaaff"/>
<path d="M443.7 622.9h8.8v1.4h-8.8zM443.7 624.2h8.8v1.4h-8.8zM443.7 636.3h8.8v1.4h-8.8zM443.7 637.6h8.8v1.4h-8.8zM381.7 649.7h8.8v1.4h-8.8zM372.9 656.4h8.8v1.4h-8.8zM381.7 656.4h8.8v1.4h-8.8zM372.9 657.7h8.8v1.4h-8.8zM426 657.7h8.8v1.4h-8.8zM346.3 689.9h8.8v1.4h-8.8zM346.3 691.2h8.8v1.4h-8.8zM346.3 693.9h8.8v1.4h-8.8zM399.4 695.3h8.8v1.4h-8.8zM408.3 696.6h8.8v1.4h-8.8zM443.7 700.6h8.8v1.4h-8.8zM381.7 708.7h8.8v1.4h-8.8zM372.9 714h8.8v1.4h-8.8zM355.2 724.7h8.8v1.4h-8.8zM319.8 730.1h8.8v1.4h-8.8zM355.2 735.5h8.8v1.4h-8.8zM319.8 738.1h8.8v1.4h-8.8zM337.5 738.1h8.8v1.4h-8.8zM346.3 738.1h8.8v1.4h-8.8z" fill="#ffb5b5"/>
<path d="M426 624.2h8.8v1.4h-8.8zM426 625.6h8.8v1.4h-8.8zM426 629.6h8.8v1.4h-8.8zM426 647h8.8v1.4h-8.8zM434.8 649.7h8.8v1.4h-8.8zM434.8 673.8h8.8v1.4h-8.8zM443.7 675.2h8.8v1.4h-8.8zM434.8 676.5h8.8v1.4h-8.8zM443.7 680.5h8.8v1.4h-8.8zM443.7 681.9h8.8v1.4h-8.8zM355.2 689.9h8.8v1.4h-8.8z" fill="#ff6060"/>
<path d="M443.7 625.6h8.8v1.4h-8.8zM443.7 629.6h8.8v1.4h-8.8zM443.7 640.3h8.8v1.4h-8.8zM443.7 647h8.8v1.4h-8.8zM355.2 692.6h8.8v1.4h-8.8zM417.1 693.9h8.8v1.4h-8.8zM381.7 706h8.8v1.4h-8.8zM372.9 711.3h8.8v1.4h-8.8zM328.6 714h8.8v1.4h-8.8zM381.7 715.4h8.8v1.4h-8.8zM346.3 724.7h8.8v1.4h-8.8zM355.2 730.1h8.8v1.4h-8.8zM346.3 731.4h8.8v1.4h-8.8zM346.3 732.8h8.8v1.4h-8.8zM319.8 740.8h8.8v1.4h-8.8z" fill="#ff9f9f"/>
<path d="M443.7 628.3h8.8v1.4h-8.8zM417.1 636.3h8.8v1.4h-8.8zM417.1 639h8.8v1.4h-8.8zM443.7 643h8.8v1.4h-8.8zM443.7 644.3h8.8v1.4h-8.8zM426 656.4h8.8v1.4h-8.8zM426 660.4h8.8v1.4h-8.8zM381.7 683.2h8.8v1.4h-8.8zM399.4 692.6h8.8v1.4h-8.8zM408.3 693.9h8.8v1.4h-8.8zM417.1 696.6h8.8v1.4h-8.8zM399.4 697.9h8.8v1.4h-8.8zM408.3 697.9h8.8v1.4h-8.8zM417.1 697.9h8.8v1.4h-8.8zM426 697.9h8.8v1.4h-8.8zM408.3 702h8.8v1.4h-8.8zM408.3 703.3h8.8v1.4h-8.8zM390.6 704.6h8.8v1.4h-8.8zM381.7 710h8.8v1.4h-8.8zM328.6 718h8.8v1.4h-8.8zM328.6 722.1h8.8v1.4h-8.8zM355.2 726.1h8.8v1.4h-8.8zM355.2 731.4h8.8v1.4h-8.8zM337.5 735.5h8.8v1.4h-8.8zM346.3 736.8h8.8v1.4h-8.8zM328.6 740.8h8.8v1.4h-8.8z" fill="#ffbfbf"/>
<path d="M426 630.9h8.8v1.4h-8.8zM434.8 652.4h8.8v1.4h-8.8zM443.7 665.8h8.8v1.4h-8.8zM443.7 669.8h8.8v1.4h-8.8zM434.8 671.1h8.8v1.4h-8.8zM399.4 700.6h8.8v1.4h-8.8zM372.9 703.3h8.8v1.4h-8.8zM372.9 715.4h8.8v1.4h-8.8zM355.2 728.8h8.8v1.4h-8.8z" fill="#ff8080"/>
<path d="M443.7 635h8.8v1.4h-8.8zM417.1 689.9h8.8v1.4h-8.8zM417.1 703.3h8.8v1.4h-8.8zM372.9 707.3h8.8v1.4h-8.8zM381.7 712.7h8.8v1.4h-8.8zM328.6 715.4h8.8v1.4h-8.8zM346.3 727.4h8.8v1.4h-8.8zM346.3 728.8h8.8v1.4h-8.8zM319.8 735.5h8.8v1.4h-8.8zM346.3 739.5h8.8v1.4h-8.8zM355.2 739.5h8.8v1.4h-8.8z" fill="#ff9595"/>
<path d="M426 640.3h8.8v1.4h-8.8zM426 643h8.8v1.4h-8.8zM426 644.3h8.8v1.4h-8.8z" fill="#ff2020"/>
<path d="M443.7 645.7h8.8v1.4h-8.8zM443.7 652.4h8.8v1.4h-8.8zM443.7 676.5h8.8v1.4h-8.8zM443.7 679.2h8.8v1.4h-8.8zM399.4 693.9h8.8v1.4h-8.8zM372.9 704.6h8.8v1.4h-8.8zM328.6 712.7h8.8v1.4h-8.8zM372.9 712.7h8.8v1.4h-8.8zM328.6 720.7h8.8v1.4h-8.8zM355.2 727.4h8.8v1.4h-8.8zM355.2 732.8h8.8v1.4h-8.8zM355.2 738.1h8.8v1.4h-8.8zM319.8 739.5h8.8v1.4h-8.8z" fill="#ff8a8a"/>
<path d="M426 649.7h8.8v1.4h-8.8zM443.7 683.2h8.8v1.4h-8.8zM443.7 684.5h8.8v1.4h-8.8zM337.5 724.7h8.8v1.4h-8.8z" fill="#ff1515"/>
<path d="M319.8 651h8.8v1.4h-8.8zM443.7 708.7h8.8v1.4h-8.8zM426 736.8h8.8v1.4h-8.8z" fill="#8a8aff"/>
<path d="M355.2 651h8.8v1.4h-8.8zM434.8 703.3h8.8v1.4h-8.8zM434.8 707.3h8.8v1.4h-8.8zM434.8 708.7h8.8v1.4h-8.8zM426 715.4h8.8v1.4h-8.8zM434.8 715.4h8.8v1.4h-8.8zM434.8 716.7h8.8v1.4h-8.8zM434.8 718h8.8v1.4h-8.8zM443.7 719.4h8.8v1.4h-8.8zM426 726.1h8.8v1.4h-8.8zM434.8 728.8h8.8v1.4h-8.8zM434.8 730.1h8.8v1.4h-8.8zM434.8 731.4h8.8v1.4h-8.8zM417.1 734.1h8.8v1.4h-8.8zM434.8 735.5h8.8v1.4h-8.8zM443.7 736.8h8.8v1.4h-8.8z" fill="#9f9fff"/>
<path d="M443.7 651h8.8v1.4h-8.8zM434.8 653.7h8.8v1.4h-8.8zM443.7 653.7h8.8v1.4h-8.8zM443.7 659.1h8.8v1.4h-8.8zM443.7 664.4h8.8v1.4h-8.8zM434.8 667.1h8.8v1.4h-8.8zM443.7 672.5h8.8v1.4h-8.8z" fill="#ff7575"/>
<path d="M319.8 679.2h8.8v1.4h-8.8zM426 706h8.8v1.4h-8.8zM443.7 718h8.8v1.4h-8.8zM426 719.4h8.8v1.4h-8.8zM434.8 719.4h8.8v1.4h-8.8zM426 722.1h8.8v1.4h-8.8zM426 723.4h8.8v1.4h-8.8zM434.8 723.4h8.8v1.4h-8.8zM426 724.7h8.8v1.4h-8.8zM426 735.5h8.8v1.4h-8.8zM426 738.1h8.8v1.4h-8.8z" fill="#9595ff"/>
<path d="M426 708.7h8.8v1.4h-8.8zM443.7 726.1h8.8v1.4h-8.8zM434.8 727.4h8.8v1.4h-8.8z" fill="#7575ff"/>
<path d="M434.8 714h8.8v1.4h-8.8zM434.8 724.7h8.8v1.4h-8.8zM434.8 734.1h8.8v1.4h-8.8zM443.7 734.1h8.8v1.4h-8.8zM434.8 742.2h8.8v1.4h-8.8z" fill="#8080ff"/>
<path d="M426 734.1h8.8v1.4h-8.8z" fill="#6a6aff"/>
<path d="M434.8 736.8h8.8v1.4h-8.8z" fill="#6060ff"/>
<path d="M315 610.2V610.7M315 610.2H319.5M315 610.7H319.5M310.5 610.4V611.1M310.5 610.4H315M310.5 611.1H319.5M315 611.6V612M315 611.6H319.5M315 612H319.5M308.6 610.8V611.8M308.6 610.8H310.5M308.6 611.8H315M314.7 612.9V613.3M314.7 612.9H319.5M314.7 613.3H319.5M310.8 612.4V613.1M310.8 612.4H319.5M310.8 613.1H314.7M306.2 611.3V612.8M306.2 611.3H308.6M306.2 612.8H310.8M315.2 613.8V614.2M315.2 613.8H319.5M315.2 614.2H319.5M315.2 614.7V615.1M315.2 614.7H319.5M315.2 615.1H319.5M309.9 614V614.9M309.9 614H315.2M309.9 614.9H315.2M309.2 614.4V615.5M309.2 614.4H309.9M309.2 615.5H319.5M314.8 616V616.4M314.8 616H319.5M314.8 616.4H319.5M314.9 616.9V617.3M314.9 616.9H319.5M314.9 617.3H319.5M308.7 616.2V617.1M308.7 616.2H314.8M308.7 617.1H314.9M307.2 615V616.7M307.2 615H309.2M307.2 616.7H308.7M315 618.2V618.6M315 618.2H319.5M315 618.6H319.5M309.6 617.8V618.4M309.6 617.8H319.5M309.6 618.4H315M308.7 618.1V619.1M308.7 618.1H309.6M308.7 619.1H319.5M315.1 619.5V620M315.1 619.5H319.5M315.1 620H319.5M308.4 618.6V619.8M308.4 618.6H308.7M308.4 619.8H315.1M304.4 615.8V619.2M304.4 615.8H307.2M304.4 619.2H308.4M314.9 620.4V620.9M314.9 620.4H319.5M314.9 620.9H319.5M314.8 621.3V621.7M314.8 621.3H319.5M314.8 621.7H319.5M309.7 621.5V622.2M309.7 621.5H314.8M309.7 622.2H319.5M314.9 622.6V623.1M314.9 622.6H319.5M314.9 623.1H319.5M308.5 621.9V622.9M308.5 621.9H309.7M308.5 622.9H314.9M306.6 620.6V622.4M306.6 620.6H314.9M306.6 622.4H308.5M303.9 617.5V621.5M303.9 617.5H304.4M303.9 621.5H306.6M303.4 612V619.5M303.4 612H306.2M303.4 619.5H303.9M314.8 623.5V624M314.8 623.5H319.5M314.8 624H319.5M315.2 624.4V624.9M315.2 624.4H319.5M315.2 624.9H319.5M308.6 623.7V624.6M308.6 623.7H314.8M308.6 624.6H315.2M314.8 625.3V625.7M314.8 625.3H319.5M314.8 625.7H319.5M314.5 626.2V626.6M314.5 626.2H319.5M314.5 626.6H319.5M309.4 625.5V626.4M309.4 625.5H314.8M309.4 626.4H314.5M314.9 627.1V627.5M314.9 627.1H319.5M314.9 627.5H319.5M307 626V627.3M307 626H309.4M307 627.3H314.9M305.3 624.2V626.6M305.3 624.2H308.6M305.3 626.6H307M315.2 628V628.4M315.2 628H319.5M315.2 628.4H319.5M314.9 628.8V629.3M314.9 628.8H319.5M314.9 629.3H319.5M309.3 628.2V629.1M309.3 628.2H315.2M309.3 629.1H314.9M314.8 629.7V630.2M314.8 629.7H319.5M314.8 630.2H319.5M315.1 630.6V631.1M315.1 630.6H319.5M315.1 631.1H319.5M309.4 630V630.8M309.4 630H314.8M309.4 630.8H315.1M314.7 631.9V632.4M314.7 631.9H319.5M314.7 632.4H319.5M310.7 631.5V632.2M310.7 631.5H319.5M310.7 632.2H314.7M307.8 630.4V631.8M307.8 630.4H309.4M307.8 631.8H310.7M306.6 628.6V631.1M306.6 628.6H309.3M306.6 631.1H307.8M314.6 632.8V633.3M314.6 632.8H319.5M314.6 633.3H319.5M315.1 634.2V634.6M315.1 634.2H319.5M315.1 634.6H319.5M310.2 634.4V635M310.2 634.4H315.1M310.2 635H319.5M309.7 633.7V634.7M309.7 633.7H319.5M309.7 634.7H310.2M308.6 633.1V634.2M308.6 633.1H314.6M308.6 634.2H309.7M315.2 635.5V635.9M315.2 635.5H319.5M315.2 635.9H319.5M310.8 635.7V636.4M310.8 635.7H315.2M310.8 636.4H319.5M306.6 633.6V636M306.6 633.6H308.6M306.6 636H310.8M303.8 629.9V634.8M303.8 629.9H306.6M303.8 634.8H306.6M303.3 625.4V632.4M303.3 625.4H305.3M303.3 632.4H303.8M299.8 615.8V628.9M299.8 615.8H303.4M299.8 628.9H303.3M314.9 637.3V637.7M314.9 637.3H319.5M314.9 637.7H319.5M309.8 636.8V637.5M309.8 636.8H319.5M309.8 637.5H314.9M314.9 639V639.5M314.9 639H319.5M314.9 639.5H319.5M310.9 638.6V639.3M310.9 638.6H319.5M310.9 639.3H314.9M309.8 638.2V638.9M309.8 638.2H319.5M309.8 638.9H310.9M309 638.5V639.9M309 638.5H309.8M309 639.9H319.5M306.6 637.2V639.2M306.6 637.2H309.8M306.6 639.2H309M314.5 640.4V640.8M314.5 640.4H319.5M314.5 640.8H319.5M314.6 641.3V641.7M314.6 641.3H319.5M314.6 641.7H319.5M314.8 642.1V642.6M314.8 642.1H319.5M314.8 642.6H319.5M308.6 641.5V642.4M308.6 641.5H314.6M308.6 642.4H314.8M308.1 640.6V641.9M308.1 640.6H314.5M308.1 641.9H308.6M315 643V643.5M315 643H319.5M315 643.5H319.5M307.4 641.3V643.2M307.4 641.3H308.1M307.4 643.2H315M315.2 643.9V644.4M315.2 643.9H319.5M315.2 644.4H319.5M310.3 644.1V644.8M310.3 644.1H315.2M310.3 644.8H319.5M305.5 642.3V644.5M305.5 642.3H307.4M305.5 644.5H310.3M315 645.2V645.7M315 645.2H319.5M315 645.7H319.5M315 646.1V646.6M315 646.1H319.5M315 646.6H319.5M309.5 645.5V646.4M309.5 645.5H315M309.5 646.4H315M305.1 643.4V645.9M305.1 643.4H305.5M305.1 645.9H309.5M303.9 638.2V644.6M303.9 638.2H306.6M303.9 644.6H305.1M299.2 622.3V641.4M299.2 622.3H299.8M299.2 641.4H303.9M314.7 647V647.5M314.7 647H319.5M314.7 647.5H319.5M315.1 647.9V648.3M315.1 647.9H319.5M315.1 648.3H319.5M314.8 648.8V649.2M314.8 648.8H319.5M314.8 649.2H319.5M308.5 648.1V649M308.5 648.1H315.1M308.5 649H314.8M307.7 647.2V648.6M307.7 647.2H314.7M307.7 648.6H308.5M314.9 649.7V650.1M314.9 649.7H319.5M314.9 650.1H319.5M315.2 650.6V651M315.2 650.6H319.5M315.2 651H319.5M308.7 649.9V650.8M308.7 649.9H314.9M308.7 650.8H315.2M315.2 651.9V652.3M315.2 651.9H319.5M315.2 652.3H319.5M310.1 651.5V652.1M310.1 651.5H319.5M310.1 652.1H315.2M307.4 650.3V651.8M307.4 650.3H308.7M307.4 651.8H310.1M314.6 652.8V653.2M314.6 652.8H319.5M314.6 653.2H319.5M310.6 653V653.7M310.6 653H314.6M310.6 653.7H319.5M307 651.1V653.3M307 651.1H307.4M307 653.3H310.6M304 647.9V652.2M304 647.9H307.7M304 652.2H307M315.1 654.6V655M315.1 654.6H319.5M315.1 655H319.5M309.8 654.8V655.4M309.8 654.8H315.1M309.8 655.4H319.5M308.6 654.1V655.1M308.6 654.1H319.5M308.6 655.1H309.8M314.7 655.9V656.3M314.7 655.9H319.5M314.7 656.3H319.5M309.9 656.1V656.8M309.9 656.1H314.7M309.9 656.8H319.5M306.3 654.6V656.4M306.3 654.6H308.6M306.3 656.4H309.9M302 650.1V655.5M302 650.1H304M302 655.5H306.3M315 657.2V657.7M315 657.2H319.5M315 657.7H319.5M310 657.4V658.1M310 657.4H315M310 658.1H319.5M315 659V659.4M315 659H319.5M315 659.4H319.5M310.2 659.2V659.9M310.2 659.2H315M310.2 659.9H319.5M309.9 658.5V659.5M309.9 658.5H319.5M309.9 659.5H310.2M307.8 657.8V659M307.8 657.8H310M307.8 659H309.9M314.8 660.8V661.2M314.8 660.8H319.5M314.8 661.2H319.5M310.8 660.3V661M310.8 660.3H319.5M310.8 661H314.8M305.8 658.4V660.7M305.8 658.4H307.8M305.8 660.7H310.8M314.9 661.6V662.1M314.9 661.6H319.5M314.9 662.1H319.5M314.9 662.5V663M314.9 662.5H319.5M314.9 663H319.5M315.2 663.4V663.9M315.2 663.4H319.5M315.2 663.9H319.5M309.9 662.8V663.6M309.9 662.8H314.9M309.9 663.6H315.2M307.9 661.9V663.2M307.9 661.9H314.9M307.9 663.2H309.9M304.4 659.5V662.5M304.4 659.5H305.8M304.4 662.5H307.9M315.1 664.8V665.2M315.1 664.8H319.5M315.1 665.2H319.5M310.7 664.3V665M310.7 664.3H319.5M310.7 665H315.1M315.2 665.6V666.1M315.2 665.6H319.5M315.2 666.1H319.5M308.3 664.6V665.9M308.3 664.6H310.7M308.3 665.9H315.2M315 666.5V667M315 666.5H319.5M315 667H319.5M309.7 666.7V667.4M309.7 666.7H315M309.7 667.4H319.5M307.1 665.3V667.1M307.1 665.3H308.3M307.1 667.1H309.7M314.7 668.3V668.7M314.7 668.3H319.5M314.7 668.7H319.5M310.9 667.9V668.5M310.9 667.9H319.5M310.9 668.5H314.7M309.1 668.2V669.2M309.1 668.2H310.9M309.1 669.2H319.5M314.7 669.6V670.1M314.7 669.6H319.5M314.7 670.1H319.5M315.1 670.5V671M315.1 670.5H319.5M315.1 671H319.5M309 669.9V670.7M309 669.9H314.7M309 670.7H315.1M314.6 671.4V671.8M314.6 671.4H319.5M314.6 671.8H319.5M314.7 672.3V672.7M314.7 672.3H319.5M314.7 672.7H319.5M314.9 673.2V673.6M314.9 673.2H319.5M314.9 673.6H319.5M310 672.5V673.4M310 672.5H314.7M310 673.4H314.9M307.1 671.6V673M307.1 671.6H314.6M307.1 673H310M306.7 670.3V672.3M306.7 670.3H309M306.7 672.3H307.1M304 668.7V671.3M304 668.7H309.1M304 671.3H306.7M302.9 666.2V670M302.9 666.2H307.1M302.9 670H304M302.3 661V668.1M302.3 661H304.4M302.3 668.1H302.9M314.8 674.1V674.5M314.8 674.1H319.5M314.8 674.5H319.5M310.4 674.3V674.9M310.4 674.3H314.8M310.4 674.9H319.5M315.2 675.4V675.8M315.2 675.4H319.5M315.2 675.8H319.5M309 674.6V675.6M309 674.6H310.4M309 675.6H315.2M315.1 676.3V676.7M315.1 676.3H319.5M315.1 676.7H319.5M310.1 676.5V677.2M310.1 676.5H315.1M310.1 677.2H319.5M305.8 675.1V676.8M305.8 675.1H309M305.8 676.8H310.1M315.2 677.6V678.1M315.2 677.6H319.5M315.2 678.1H319.5M314.8 678.5V678.9M314.8 678.5H319.5M314.8 678.9H319.5M309.6 678.7V679.4M309.6 678.7H314.8M309.6 679.4H319.5M307.7 677.8V679M307.7 677.8H315.2M307.7 679H309.6M314.7 679.8V680.3M314.7 679.8H319.5M314.7 680.3H319.5M311 680V680.7M311 680H314.7M311 680.7H319.5M305.8 678.4V680.4M305.8 678.4H307.7M305.8 680.4H311M314.9 681.2V681.6M314.9 681.2H319.5M314.9 681.6H319.5M314.7 682V682.5M314.7 682H319.5M314.7 682.5H319.5M314.9 682.9V683.4M314.9 682.9H319.5M314.9 683.4H319.5M308.9 682.3V683.1M308.9 682.3H314.7M308.9 683.1H314.9M306.9 681.4V682.7M306.9 681.4H314.9M306.9 682.7H308.9M304 679.4V682M304 679.4H305.8M304 682H306.9M303.3 676V680.7M303.3 676H305.8M303.3 680.7H304M300.5 664.6V678.3M300.5 664.6H302.3M300.5 678.3H303.3M299.9 652.8V671.5M299.9 652.8H302M299.9 671.5H300.5M314.9 684.3V684.7M314.9 684.3H319.5M314.9 684.7H319.5M310.6 683.8V684.5M310.6 683.8H319.5M310.6 684.5H314.9M315 686V686.5M315 686H319.5M315 686.5H319.5M310 685.6V686.3M310 685.6H319.5M310 686.3H315M308.6 685.1V685.9M308.6 685.1H319.5M308.6 685.9H310M306.4 684.1V685.5M306.4 684.1H310.6M306.4 685.5H308.6M314.7 686.9V687.4M314.7 686.9H319.5M314.7 687.4H319.5M314.8 688.7V689.1M314.8 688.7H319.5M314.8 689.1H319.5M310.4 688.2V688.9M310.4 688.2H319.5M310.4 688.9H314.8M309.1 687.8V688.6M309.1 687.8H319.5M309.1 688.6H310.4M307.8 687.1V688.2M307.8 687.1H314.7M307.8 688.2H309.1M315.2 690.5V690.9M315.2 690.5H319.5M315.2 690.9H319.5M310.2 690V690.7M310.2 690H319.5M310.2 690.7H315.2M308.5 689.6V690.4M308.5 689.6H319.5M308.5 690.4H310.2M306.6 687.7V690M306.6 687.7H307.8M306.6 690H308.5M302.9 684.8V688.8M302.9 684.8H306.4M302.9 688.8H306.6M315 691.4V691.8M315 691.4H319.5M315 691.8H319.5M314.5 692.2V692.7M314.5 692.2H319.5M314.5 692.7H319.5M314.9 693.6V694M314.9 693.6H319.5M314.9 694H319.5M310 693.1V693.8M310 693.1H319.5M310 693.8H314.9M309 692.5V693.5M309 692.5H314.5M309 693.5H310M308.1 691.6V693M308.1 691.6H315M308.1 693H309M315.1 694.5V694.9M315.1 694.5H319.5M315.1 694.9H319.5M315.1 695.3V695.8M315.1 695.3H319.5M315.1 695.8H319.5M309.7 694.7V695.6M309.7 694.7H315.1M309.7 695.6H315.1M306 692.3V695.1M306 692.3H308.1M306 695.1H309.7M314.8 696.7V697.1M314.8 696.7H319.5M314.8 697.1H319.5M311 696.9V697.6M311 696.9H314.8M311 697.6H319.5M309 696.2V697.2M309 696.2H319.5M309 697.2H311M314.6 698V698.4M314.6 698H319.5M314.6 698.4H319.5M315 698.9V699.3M315 698.9H319.5M315 699.3H319.5M309.7 698.2V699.1M309.7 698.2H314.6M309.7 699.1H315M308.7 698.7V699.8M308.7 698.7H309.7M308.7 699.8H319.5M306 696.7V699.2M306 696.7H309M306 699.2H308.7M302.6 693.7V698M302.6 693.7H306M302.6 698H306M301.4 686.8V695.8M301.4 686.8H302.9M301.4 695.8H302.6M314.5 700.2V700.7M314.5 700.2H319.5M314.5 700.7H319.5M310.6 700.4V701.1M310.6 700.4H314.5M310.6 701.1H319.5M315.2 701.5V702M315.2 701.5H319.5M315.2 702H319.5M308.5 700.8V701.8M308.5 700.8H310.6M308.5 701.8H315.2M315 702.9V703.3M315 702.9H319.5M315 703.3H319.5M309.7 702.4V703.1M309.7 702.4H319.5M309.7 703.1H315M307.2 701.3V702.8M307.2 701.3H308.5M307.2 702.8H309.7M314.8 705.1V705.5M314.8 705.1H319.5M314.8 705.5H319.5M310.5 704.7V705.3M310.5 704.7H319.5M310.5 705.3H314.8M309 704.2V705M309 704.2H319.5M309 705H310.5M308.4 703.8V704.6M308.4 703.8H319.5M308.4 704.6H309M314.8 706V706.4M314.8 706H319.5M314.8 706.4H319.5M310.4 706.2V706.9M310.4 706.2H314.8M310.4 706.9H319.5M314.9 707.8V708.2M314.9 707.8H319.5M314.9 708.2H319.5M309.5 707.3V708M309.5 707.3H319.5M309.5 708H314.9M307 706.5V707.6M307 706.5H310.4M307 707.6H309.5M314.5 709.1V709.5M314.5 709.1H319.5M314.5 709.5H319.5M309.9 708.6V709.3M309.9 708.6H319.5M309.9 709.3H314.5M305.4 707.1V709M305.4 707.1H307M305.4 709H309.9M304.9 704.2V708M304.9 704.2H308.4M304.9 708H305.4M304.5 702V706.1M304.5 702H307.2M304.5 706.1H304.9M314.9 710V710.4M314.9 710H319.5M314.9 710.4H319.5M314.5 711.3V711.7M314.5 711.3H319.5M314.5 711.7H319.5M310.4 710.9V711.5M310.4 710.9H319.5M310.4 711.5H314.5M308.4 710.2V711.2M308.4 710.2H314.9M308.4 711.2H310.4M315.1 712.2V712.6M315.1 712.2H319.5M315.1 712.6H319.5M314.7 713.5V714M314.7 713.5H319.5M314.7 714H319.5M310.1 713.1V713.7M310.1 713.1H319.5M310.1 713.7H314.7M309 712.4V713.4M309 712.4H315.1M309 713.4H310.1M306 710.7V712.9M306 710.7H308.4M306 712.9H309M315.2 715.3V715.7M315.2 715.3H319.5M315.2 715.7H319.5M310.1 714.8V715.5M310.1 714.8H319.5M310.1 715.5H315.2M309.2 715.2V716.2M309.2 715.2H310.1M309.2 716.2H319.5M308.6 714.4V715.7M308.6 714.4H319.5M308.6 715.7H309.2M305.6 711.8V715M305.6 711.8H306M305.6 715H308.6M301.4 704.1V713.4M301.4 704.1H304.5M301.4 713.4H305.6M314.7 717.1V717.5M314.7 717.1H319.5M314.7 717.5H319.5M309.6 717.3V718M309.6 717.3H314.7M309.6 718H319.5M308.8 716.6V717.6M308.8 716.6H319.5M308.8 717.6H309.6M314.6 718.4V718.8M314.6 718.4H319.5M314.6 718.8H319.5M310 718.6V719.3M310 718.6H314.6M310 719.3H319.5M307.2 717.1V718.9M307.2 717.1H308.8M307.2 718.9H310M315.1 720.2V720.6M315.1 720.2H319.5M315.1 720.6H319.5M310.4 719.7V720.4M310.4 719.7H319.5M310.4 720.4H315.1M309.9 720.1V721.1M309.9 720.1H310.4M309.9 721.1H319.5M315.2 721.5V721.9M315.2 721.5H319.5M315.2 721.9H319.5M307.6 720.6V721.7M307.6 720.6H309.9M307.6 721.7H315.2M304.3 718V721.1M304.3 718H307.2M304.3 721.1H307.6M314.6 722.4V722.8M314.6 722.4H319.5M314.6 722.8H319.5M314.6 723.3V723.7M314.6 723.3H319.5M314.6 723.7H319.5M315 724.6V725M315 724.6H319.5M315 725H319.5M309.5 724.2V724.8M309.5 724.2H319.5M309.5 724.8H315M308.3 723.5V724.5M308.3 723.5H314.6M308.3 724.5H309.5M306.8 722.6V724M306.8 722.6H314.6M306.8 724H308.3M314.5 725.5V725.9M314.5 725.5H319.5M314.5 725.9H319.5M306.4 723.3V725.7M306.4 723.3H306.8M306.4 725.7H314.5M303 719.6V724.5M303 719.6H304.3M303 724.5H306.4M314.5 726.4V726.8M314.5 726.4H319.5M314.5 726.8H319.5M315 727.3V727.7M315 727.3H319.5M315 727.7H319.5M309.7 726.6V727.5M309.7 726.6H314.5M309.7 727.5H315M315.2 728.1V728.6M315.2 728.1H319.5M315.2 728.6H319.5M308 727V728.4M308 727H309.7M308 728.4H315.2M314.7 729V729.5M314.7 729H319.5M314.7 729.5H319.5M315.1 730.4V730.8M315.1 730.4H319.5M315.1 730.8H319.5M310.6 729.9V730.6M310.6 729.9H319.5M310.6 730.6H315.1M308.4 729.3V730.3M308.4 729.3H314.7M308.4 730.3H310.6M305.4 727.7V729.8M305.4 727.7H308M305.4 729.8H308.4M315 731.7V732.1M315 731.7H319.5M315 732.1H319.5M310.5 731.3V731.9M310.5 731.3H319.5M310.5 731.9H315M314.6 733V733.5M314.6 733H319.5M314.6 733.5H319.5M309.6 732.6V733.2M309.6 732.6H319.5M309.6 733.2H314.6M308.6 731.6V732.9M308.6 731.6H310.5M308.6 732.9H309.6M304.7 728.7V732.2M304.7 728.7H305.4M304.7 732.2H308.6M315 733.9V734.4M315 733.9H319.5M315 734.4H319.5M315 734.8V735.2M315 734.8H319.5M315 735.2H319.5M315.1 735.7V736.1M315.1 735.7H319.5M315.1 736.1H319.5M310.1 735.9V736.6M310.1 735.9H315.1M310.1 736.6H319.5M309.3 736.2V737M309.3 736.2H310.1M309.3 737H319.5M307.8 735V736.6M307.8 735H315M307.8 736.6H309.3M307.4 734.1V735.8M307.4 734.1H315M307.4 735.8H307.8M314.8 737.9V738.3M314.8 737.9H319.5M314.8 738.3H319.5M309.9 737.5V738.1M309.9 737.5H319.5M309.9 738.1H314.8M304.8 735V737.8M304.8 735H307.4M304.8 737.8H309.9M314.6 738.8V739.2M314.6 738.8H319.5M314.6 739.2H319.5M310.5 739V739.7M310.5 739H314.6M310.5 739.7H319.5M314.6 740.1V740.6M314.6 740.1H319.5M314.6 740.6H319.5M310.8 740.3V741M310.8 740.3H314.6M310.8 741H319.5M315 741.4V741.9M315 741.4H319.5M315 741.9H319.5M314.6 742.3V742.8M314.6 742.3H319.5M314.6 742.8H319.5M309.6 741.7V742.6M309.6 741.7H315M309.6 742.6H314.6M307.1 740.7V742.1M307.1 740.7H310.8M307.1 742.1H309.6M306.4 739.3V741.4M306.4 739.3H310.5M306.4 741.4H307.1M302.7 736.4V740.4M302.7 736.4H304.8M302.7 740.4H306.4M302.2 730.5V738.4M302.2 730.5H304.7M302.2 738.4H302.7M301 722V734.4M301 722H303M301 734.4H302.2M299.3 708.7V728.2M299.3 708.7H301.4M299.3 728.2H301M296.7 691.3V718.5M296.7 691.3H301.4M296.7 718.5H299.3M294.4 662.1V704.9M294.4 662.1H299.9M294.4 704.9H296.7M292 631.9V683.5M292 631.9H299.2M292 683.5H294.4" stroke="#000" stroke-width="1.0" fill="none"/>
<text x="454.6" y="608" font-size="6.6" font-weight="bold" fill="#222">Group</text>
<rect x="455.8" y="610.2" width="5.5" height="77.8" fill="url(#cbg)"/>
<g font-size="5.6" fill="#222"><text x="463.2" y="619">3</text><text x="463.2" y="629.8">2</text><text x="463.2" y="640.6">1</text><text x="463.2" y="651.4">0</text><text x="463.2" y="662.2">- 1</text><text x="463.2" y="673">- 2</text><text x="463.2" y="683.8">- 3</text></g>
<g font-size="8.2" fill="#000"><text transform="translate(321.3 745.2) rotate(90)">Bone_D7_3</text><text transform="translate(330.2 745.2) rotate(90)">Bone_D7_2</text><text transform="translate(339 745.2) rotate(90)">Bone_D7_1</text><text transform="translate(347.9 745.2) rotate(90)">Bone_D3_1</text><text transform="translate(356.7 745.2) rotate(90)">Bone_D3_3</text><text transform="translate(365.6 745.2) rotate(90)">Bone_D3_2</text><text transform="translate(374.4 745.2) rotate(90)">Bone_D14_3</text><text transform="translate(383.2 745.2) rotate(90)">Bone_D14_2</text><text transform="translate(392.1 745.2) rotate(90)">Bone_D14_1</text><text transform="translate(400.9 745.2) rotate(90)">Bone_D28_2</text><text transform="translate(409.8 745.2) rotate(90)">Bone_D28_1</text><text transform="translate(418.6 745.2) rotate(90)">Bone_D28_3</text><text transform="translate(427.5 745.2) rotate(90)">Bone_D0_3</text><text transform="translate(436.3 745.2) rotate(90)">Bone_D0_2</text><text transform="translate(445.2 745.2) rotate(90)">Bone_D0_1</text></g>
<text x="259.2" y="684.8" font-size="10.5" textLength="30.4" lengthAdjust="spacingAndGlyphs" fill="#000">lncRNA</text></g>
<g><rect x="537.7" y="602.2" width="25" height="6.6" fill="#f8766d"/>
<rect x="562.7" y="602.2" width="25" height="6.6" fill="#e76bf3"/>
<rect x="587.6" y="602.2" width="25" height="6.6" fill="#a3a500"/>
<rect x="612.6" y="602.2" width="25" height="6.6" fill="#00b0f6"/>
<rect x="637.5" y="602.2" width="25" height="6.6" fill="#00bf7d"/>
<path d="M541.9 602.2V593H550.2V602.2M546 593V590.2H558.5V602.2M566.8 602.2V598.9H575.1V602.2M571 598.9V596.7H583.5V602.2M552.3 590.2V583H577.2V596.7M591.8 602.2V596.7H600.1V602.2M595.9 596.7V591.3H608.4V602.2M616.7 602.2V594.6H625.1V602.2M620.9 594.6V588.4H633.4V602.2M602.2 591.3V585.4H627.1V588.4M564.7 583V580.8H614.7V585.4M641.7 602.2V590.6H650V602.2M645.9 590.6V586.2H658.3V602.2M589.7 580.8V574.2H652.1V586.2" stroke="#333" stroke-width="0.7" fill="none"/>
<path d="M537.7 609.5h8.3v2.2h-8.3zM620.9 611.7h8.3v2.2h-8.3zM629.2 611.7h8.3v2.2h-8.3zM637.5 616h8.3v2.2h-8.3zM645.9 616h8.3v2.2h-8.3zM620.9 622.5h8.3v2.2h-8.3zM612.6 629h8.3v2.2h-8.3zM537.7 635.4h8.3v2.2h-8.3zM612.6 637.6h8.3v2.2h-8.3zM645.9 637.6h8.3v2.2h-8.3zM554.3 639.8h8.3v2.2h-8.3zM562.7 652.7h8.3v2.2h-8.3zM620.9 654.9h8.3v2.2h-8.3zM595.9 665.7h8.3v2.2h-8.3zM645.9 665.7h8.3v2.2h-8.3zM587.6 670h8.3v2.2h-8.3zM604.3 672.2h8.3v2.2h-8.3zM604.3 676.5h8.3v2.2h-8.3zM612.6 678.7h8.3v2.2h-8.3zM587.6 680.8h8.3v2.2h-8.3zM595.9 680.8h8.3v2.2h-8.3zM629.2 680.8h8.3v2.2h-8.3zM604.3 683h8.3v2.2h-8.3zM637.5 683h8.3v2.2h-8.3zM554.3 689.5h8.3v2.2h-8.3zM554.3 691.6h8.3v2.2h-8.3zM604.3 691.6h8.3v2.2h-8.3zM629.2 691.6h8.3v2.2h-8.3zM637.5 691.6h8.3v2.2h-8.3zM612.6 698.1h8.3v2.2h-8.3zM629.2 698.1h8.3v2.2h-8.3zM554.3 702.4h8.3v2.2h-8.3zM595.9 702.4h8.3v2.2h-8.3zM587.6 706.8h8.3v2.2h-8.3zM587.6 708.9h8.3v2.2h-8.3zM612.6 708.9h8.3v2.2h-8.3zM629.2 708.9h8.3v2.2h-8.3zM620.9 713.2h8.3v2.2h-8.3zM612.6 715.4h8.3v2.2h-8.3zM554.3 719.7h8.3v2.2h-8.3zM595.9 721.9h8.3v2.2h-8.3zM604.3 726.2h8.3v2.2h-8.3zM612.6 737h8.3v2.2h-8.3zM620.9 741.3h8.3v2.2h-8.3z" fill="#ffeaea"/>
<path d="M546 609.5h8.3v2.2h-8.3zM537.7 611.7h8.3v2.2h-8.3zM546 611.7h8.3v2.2h-8.3zM537.7 618.1h8.3v2.2h-8.3zM546 620.3h8.3v2.2h-8.3zM629.2 620.3h8.3v2.2h-8.3zM645.9 622.5h8.3v2.2h-8.3zM654.2 626.8h8.3v2.2h-8.3zM612.6 631.1h8.3v2.2h-8.3zM546 635.4h8.3v2.2h-8.3zM620.9 637.6h8.3v2.2h-8.3zM612.6 639.8h8.3v2.2h-8.3zM620.9 657h8.3v2.2h-8.3zM620.9 659.2h8.3v2.2h-8.3zM587.6 674.3h8.3v2.2h-8.3zM637.5 678.7h8.3v2.2h-8.3zM604.3 680.8h8.3v2.2h-8.3zM537.7 687.3h8.3v2.2h-8.3zM620.9 687.3h8.3v2.2h-8.3zM637.5 687.3h8.3v2.2h-8.3zM645.9 693.8h8.3v2.2h-8.3zM645.9 700.3h8.3v2.2h-8.3zM587.6 702.4h8.3v2.2h-8.3zM620.9 702.4h8.3v2.2h-8.3zM645.9 713.2h8.3v2.2h-8.3zM620.9 715.4h8.3v2.2h-8.3zM579.3 719.7h8.3v2.2h-8.3zM645.9 726.2h8.3v2.2h-8.3zM604.3 732.7h8.3v2.2h-8.3zM612.6 739.2h8.3v2.2h-8.3z" fill="#ffd4d4"/>
<path d="M554.3 609.5h8.3v2.2h-8.3zM629.2 626.8h8.3v2.2h-8.3zM629.2 633.3h8.3v2.2h-8.3zM595.9 644.1h8.3v2.2h-8.3zM604.3 644.1h8.3v2.2h-8.3zM595.9 648.4h8.3v2.2h-8.3zM604.3 657h8.3v2.2h-8.3zM620.9 663.5h8.3v2.2h-8.3zM654.2 685.1h8.3v2.2h-8.3zM654.2 696h8.3v2.2h-8.3zM645.9 698.1h8.3v2.2h-8.3zM654.2 698.1h8.3v2.2h-8.3zM654.2 706.8h8.3v2.2h-8.3zM637.5 711.1h8.3v2.2h-8.3zM637.5 734.9h8.3v2.2h-8.3zM654.2 741.3h8.3v2.2h-8.3z" fill="#ff6a6a"/>
<path d="M562.7 609.5h8.3v2.2h-8.3zM587.6 613.8h8.3v2.2h-8.3zM579.3 631.1h8.3v2.2h-8.3zM579.3 661.4h8.3v2.2h-8.3zM546 672.2h8.3v2.2h-8.3zM562.7 672.2h8.3v2.2h-8.3zM579.3 672.2h8.3v2.2h-8.3zM579.3 691.6h8.3v2.2h-8.3zM554.3 696h8.3v2.2h-8.3zM571 696h8.3v2.2h-8.3zM537.7 698.1h8.3v2.2h-8.3zM562.7 698.1h8.3v2.2h-8.3zM562.7 715.4h8.3v2.2h-8.3zM562.7 726.2h8.3v2.2h-8.3z" fill="#9f9fff"/>
<path d="M571 609.5h8.3v2.2h-8.3zM612.6 611.7h8.3v2.2h-8.3zM654.2 611.7h8.3v2.2h-8.3zM612.6 613.8h8.3v2.2h-8.3zM620.9 613.8h8.3v2.2h-8.3zM562.7 616h8.3v2.2h-8.3zM579.3 616h8.3v2.2h-8.3zM604.3 616h8.3v2.2h-8.3zM645.9 618.1h8.3v2.2h-8.3zM612.6 620.3h8.3v2.2h-8.3zM562.7 622.5h8.3v2.2h-8.3zM595.9 622.5h8.3v2.2h-8.3zM587.6 624.6h8.3v2.2h-8.3zM595.9 624.6h8.3v2.2h-8.3zM579.3 626.8h8.3v2.2h-8.3zM612.6 626.8h8.3v2.2h-8.3zM587.6 629h8.3v2.2h-8.3zM654.2 629h8.3v2.2h-8.3zM637.5 631.1h8.3v2.2h-8.3zM645.9 631.1h8.3v2.2h-8.3zM645.9 633.3h8.3v2.2h-8.3zM595.9 635.4h8.3v2.2h-8.3zM645.9 635.4h8.3v2.2h-8.3zM654.2 635.4h8.3v2.2h-8.3zM595.9 637.6h8.3v2.2h-8.3zM637.5 641.9h8.3v2.2h-8.3zM562.7 644.1h8.3v2.2h-8.3zM645.9 644.1h8.3v2.2h-8.3zM637.5 646.2h8.3v2.2h-8.3zM554.3 648.4h8.3v2.2h-8.3zM571 648.4h8.3v2.2h-8.3zM620.9 648.4h8.3v2.2h-8.3zM554.3 650.6h8.3v2.2h-8.3zM554.3 652.7h8.3v2.2h-8.3zM612.6 652.7h8.3v2.2h-8.3zM579.3 654.9h8.3v2.2h-8.3zM546 659.2h8.3v2.2h-8.3zM537.7 661.4h8.3v2.2h-8.3zM554.3 667.9h8.3v2.2h-8.3zM554.3 674.3h8.3v2.2h-8.3zM562.7 674.3h8.3v2.2h-8.3zM537.7 680.8h8.3v2.2h-8.3zM629.2 685.1h8.3v2.2h-8.3zM587.6 691.6h8.3v2.2h-8.3zM587.6 693.8h8.3v2.2h-8.3zM612.6 696h8.3v2.2h-8.3zM629.2 696h8.3v2.2h-8.3zM537.7 700.3h8.3v2.2h-8.3zM546 702.4h8.3v2.2h-8.3zM562.7 702.4h8.3v2.2h-8.3zM587.6 704.6h8.3v2.2h-8.3zM595.9 704.6h8.3v2.2h-8.3zM620.9 704.6h8.3v2.2h-8.3zM579.3 708.9h8.3v2.2h-8.3zM571 711.1h8.3v2.2h-8.3zM604.3 713.2h8.3v2.2h-8.3zM571 715.4h8.3v2.2h-8.3zM587.6 715.4h8.3v2.2h-8.3zM537.7 717.6h8.3v2.2h-8.3zM604.3 717.6h8.3v2.2h-8.3zM587.6 719.7h8.3v2.2h-8.3zM579.3 721.9h8.3v2.2h-8.3zM587.6 724h8.3v2.2h-8.3zM546 726.2h8.3v2.2h-8.3zM629.2 726.2h8.3v2.2h-8.3zM537.7 728.4h8.3v2.2h-8.3zM554.3 728.4h8.3v2.2h-8.3zM562.7 728.4h8.3v2.2h-8.3zM554.3 730.5h8.3v2.2h-8.3zM620.9 732.7h8.3v2.2h-8.3zM579.3 734.9h8.3v2.2h-8.3zM537.7 737h8.3v2.2h-8.3zM546 739.2h8.3v2.2h-8.3zM579.3 739.2h8.3v2.2h-8.3zM587.6 739.2h8.3v2.2h-8.3zM620.9 739.2h8.3v2.2h-8.3zM562.7 741.3h8.3v2.2h-8.3zM587.6 741.3h8.3v2.2h-8.3z" fill="#dfdfff"/>
<path d="M579.3 609.5h8.3v2.2h-8.3zM562.7 613.8h8.3v2.2h-8.3zM579.3 633.3h8.3v2.2h-8.3zM546 693.8h8.3v2.2h-8.3zM554.3 734.9h8.3v2.2h-8.3z" fill="#8a8aff"/>
<path d="M587.6 609.5h8.3v2.2h-8.3zM620.9 609.5h8.3v2.2h-8.3zM579.3 611.7h8.3v2.2h-8.3zM571 613.8h8.3v2.2h-8.3zM571 618.1h8.3v2.2h-8.3zM612.6 618.1h8.3v2.2h-8.3zM579.3 620.3h8.3v2.2h-8.3zM620.9 626.8h8.3v2.2h-8.3zM579.3 629h8.3v2.2h-8.3zM571 631.1h8.3v2.2h-8.3zM562.7 635.4h8.3v2.2h-8.3zM595.9 639.8h8.3v2.2h-8.3zM571 644.1h8.3v2.2h-8.3zM554.3 646.2h8.3v2.2h-8.3zM562.7 648.4h8.3v2.2h-8.3zM637.5 650.6h8.3v2.2h-8.3zM537.7 654.9h8.3v2.2h-8.3zM546 654.9h8.3v2.2h-8.3zM571 654.9h8.3v2.2h-8.3zM571 659.2h8.3v2.2h-8.3zM562.7 661.4h8.3v2.2h-8.3zM571 661.4h8.3v2.2h-8.3zM537.7 663.5h8.3v2.2h-8.3zM562.7 663.5h8.3v2.2h-8.3zM562.7 667.9h8.3v2.2h-8.3zM571 670h8.3v2.2h-8.3zM537.7 674.3h8.3v2.2h-8.3zM571 676.5h8.3v2.2h-8.3zM571 680.8h8.3v2.2h-8.3zM562.7 683h8.3v2.2h-8.3zM579.3 689.5h8.3v2.2h-8.3zM587.6 689.5h8.3v2.2h-8.3zM571 693.8h8.3v2.2h-8.3zM546 696h8.3v2.2h-8.3zM562.7 696h8.3v2.2h-8.3zM546 698.1h8.3v2.2h-8.3zM571 713.2h8.3v2.2h-8.3zM562.7 721.9h8.3v2.2h-8.3zM546 724h8.3v2.2h-8.3zM554.3 724h8.3v2.2h-8.3zM587.6 730.5h8.3v2.2h-8.3zM537.7 734.9h8.3v2.2h-8.3zM554.3 739.2h8.3v2.2h-8.3z" fill="#b5b5ff"/>
<path d="M595.9 609.5h8.3v2.2h-8.3zM604.3 609.5h8.3v2.2h-8.3zM629.2 609.5h8.3v2.2h-8.3zM604.3 611.7h8.3v2.2h-8.3zM645.9 613.8h8.3v2.2h-8.3zM620.9 616h8.3v2.2h-8.3zM637.5 618.1h8.3v2.2h-8.3zM595.9 620.3h8.3v2.2h-8.3zM620.9 620.3h8.3v2.2h-8.3zM654.2 620.3h8.3v2.2h-8.3zM571 622.5h8.3v2.2h-8.3zM620.9 624.6h8.3v2.2h-8.3zM654.2 624.6h8.3v2.2h-8.3zM604.3 626.8h8.3v2.2h-8.3zM637.5 626.8h8.3v2.2h-8.3zM637.5 629h8.3v2.2h-8.3zM645.9 629h8.3v2.2h-8.3zM604.3 631.1h8.3v2.2h-8.3zM571 633.3h8.3v2.2h-8.3zM654.2 633.3h8.3v2.2h-8.3zM612.6 635.4h8.3v2.2h-8.3zM546 641.9h8.3v2.2h-8.3zM620.9 644.1h8.3v2.2h-8.3zM612.6 646.2h8.3v2.2h-8.3zM645.9 646.2h8.3v2.2h-8.3zM537.7 648.4h8.3v2.2h-8.3zM645.9 650.6h8.3v2.2h-8.3zM579.3 652.7h8.3v2.2h-8.3zM654.2 652.7h8.3v2.2h-8.3zM637.5 654.9h8.3v2.2h-8.3zM654.2 659.2h8.3v2.2h-8.3zM554.3 661.4h8.3v2.2h-8.3zM554.3 663.5h8.3v2.2h-8.3zM579.3 663.5h8.3v2.2h-8.3zM546 665.7h8.3v2.2h-8.3zM587.6 667.9h8.3v2.2h-8.3zM654.2 667.9h8.3v2.2h-8.3zM645.9 670h8.3v2.2h-8.3zM537.7 672.2h8.3v2.2h-8.3zM637.5 672.2h8.3v2.2h-8.3zM571 674.3h8.3v2.2h-8.3zM546 678.7h8.3v2.2h-8.3zM612.6 683h8.3v2.2h-8.3zM554.3 685.1h8.3v2.2h-8.3zM562.7 687.3h8.3v2.2h-8.3zM612.6 687.3h8.3v2.2h-8.3zM562.7 689.5h8.3v2.2h-8.3zM612.6 689.5h8.3v2.2h-8.3zM612.6 691.6h8.3v2.2h-8.3zM637.5 693.8h8.3v2.2h-8.3zM554.3 698.1h8.3v2.2h-8.3zM620.9 698.1h8.3v2.2h-8.3zM637.5 698.1h8.3v2.2h-8.3zM637.5 706.8h8.3v2.2h-8.3zM546 711.1h8.3v2.2h-8.3zM620.9 711.1h8.3v2.2h-8.3zM554.3 713.2h8.3v2.2h-8.3zM562.7 717.6h8.3v2.2h-8.3zM537.7 719.7h8.3v2.2h-8.3zM546 719.7h8.3v2.2h-8.3zM546 721.9h8.3v2.2h-8.3zM612.6 724h8.3v2.2h-8.3zM595.9 726.2h8.3v2.2h-8.3zM546 728.4h8.3v2.2h-8.3zM595.9 728.4h8.3v2.2h-8.3zM612.6 730.5h8.3v2.2h-8.3zM571 732.7h8.3v2.2h-8.3zM612.6 732.7h8.3v2.2h-8.3zM562.7 737h8.3v2.2h-8.3zM595.9 737h8.3v2.2h-8.3zM537.7 741.3h8.3v2.2h-8.3zM629.2 741.3h8.3v2.2h-8.3z" fill="#eaeaff"/>
<path d="M612.6 609.5h8.3v2.2h-8.3zM645.9 609.5h8.3v2.2h-8.3zM654.2 609.5h8.3v2.2h-8.3zM571 611.7h8.3v2.2h-8.3zM579.3 618.1h8.3v2.2h-8.3zM571 620.3h8.3v2.2h-8.3zM587.6 620.3h8.3v2.2h-8.3zM645.9 620.3h8.3v2.2h-8.3zM637.5 624.6h8.3v2.2h-8.3zM562.7 626.8h8.3v2.2h-8.3zM571 629h8.3v2.2h-8.3zM587.6 635.4h8.3v2.2h-8.3zM587.6 637.6h8.3v2.2h-8.3zM604.3 637.6h8.3v2.2h-8.3zM562.7 639.8h8.3v2.2h-8.3zM579.3 639.8h8.3v2.2h-8.3zM587.6 639.8h8.3v2.2h-8.3zM571 641.9h8.3v2.2h-8.3zM554.3 644.1h8.3v2.2h-8.3zM537.7 646.2h8.3v2.2h-8.3zM562.7 646.2h8.3v2.2h-8.3zM579.3 646.2h8.3v2.2h-8.3zM645.9 652.7h8.3v2.2h-8.3zM546 657h8.3v2.2h-8.3zM579.3 657h8.3v2.2h-8.3zM562.7 659.2h8.3v2.2h-8.3zM629.2 659.2h8.3v2.2h-8.3zM637.5 665.7h8.3v2.2h-8.3zM637.5 667.9h8.3v2.2h-8.3zM546 670h8.3v2.2h-8.3zM637.5 670h8.3v2.2h-8.3zM571 672.2h8.3v2.2h-8.3zM546 674.3h8.3v2.2h-8.3zM654.2 674.3h8.3v2.2h-8.3zM554.3 676.5h8.3v2.2h-8.3zM554.3 680.8h8.3v2.2h-8.3zM537.7 691.6h8.3v2.2h-8.3zM537.7 693.8h8.3v2.2h-8.3zM562.7 693.8h8.3v2.2h-8.3zM579.3 693.8h8.3v2.2h-8.3zM587.6 696h8.3v2.2h-8.3zM595.9 696h8.3v2.2h-8.3zM579.3 698.1h8.3v2.2h-8.3zM546 706.8h8.3v2.2h-8.3zM562.7 711.1h8.3v2.2h-8.3zM537.7 713.2h8.3v2.2h-8.3zM537.7 715.4h8.3v2.2h-8.3zM554.3 715.4h8.3v2.2h-8.3zM579.3 715.4h8.3v2.2h-8.3zM554.3 717.6h8.3v2.2h-8.3zM562.7 719.7h8.3v2.2h-8.3zM537.7 724h8.3v2.2h-8.3zM571 734.9h8.3v2.2h-8.3zM587.6 734.9h8.3v2.2h-8.3zM604.3 734.9h8.3v2.2h-8.3zM571 737h8.3v2.2h-8.3zM579.3 737h8.3v2.2h-8.3zM595.9 741.3h8.3v2.2h-8.3z" fill="#cacaff"/>
<path d="M637.5 609.5h8.3v2.2h-8.3zM654.2 613.8h8.3v2.2h-8.3zM571 616h8.3v2.2h-8.3zM654.2 616h8.3v2.2h-8.3zM604.3 618.1h8.3v2.2h-8.3zM620.9 618.1h8.3v2.2h-8.3zM537.7 620.3h8.3v2.2h-8.3zM587.6 626.8h8.3v2.2h-8.3zM595.9 626.8h8.3v2.2h-8.3zM620.9 631.1h8.3v2.2h-8.3zM612.6 633.3h8.3v2.2h-8.3zM579.3 637.6h8.3v2.2h-8.3zM620.9 639.8h8.3v2.2h-8.3zM537.7 641.9h8.3v2.2h-8.3zM562.7 641.9h8.3v2.2h-8.3zM537.7 644.1h8.3v2.2h-8.3zM546 648.4h8.3v2.2h-8.3zM654.2 648.4h8.3v2.2h-8.3zM612.6 650.6h8.3v2.2h-8.3zM620.9 652.7h8.3v2.2h-8.3zM629.2 654.9h8.3v2.2h-8.3zM554.3 657h8.3v2.2h-8.3zM571 657h8.3v2.2h-8.3zM612.6 657h8.3v2.2h-8.3zM537.7 659.2h8.3v2.2h-8.3zM654.2 661.4h8.3v2.2h-8.3zM554.3 665.7h8.3v2.2h-8.3zM654.2 670h8.3v2.2h-8.3zM595.9 672.2h8.3v2.2h-8.3zM645.9 672.2h8.3v2.2h-8.3zM654.2 672.2h8.3v2.2h-8.3zM562.7 678.7h8.3v2.2h-8.3zM579.3 678.7h8.3v2.2h-8.3zM620.9 678.7h8.3v2.2h-8.3zM612.6 685.1h8.3v2.2h-8.3zM620.9 685.1h8.3v2.2h-8.3zM595.9 691.6h8.3v2.2h-8.3zM620.9 691.6h8.3v2.2h-8.3zM612.6 693.8h8.3v2.2h-8.3zM604.3 696h8.3v2.2h-8.3zM612.6 706.8h8.3v2.2h-8.3zM546 708.9h8.3v2.2h-8.3zM554.3 708.9h8.3v2.2h-8.3zM587.6 711.1h8.3v2.2h-8.3zM629.2 711.1h8.3v2.2h-8.3zM604.3 715.4h8.3v2.2h-8.3zM595.9 717.6h8.3v2.2h-8.3zM562.7 724h8.3v2.2h-8.3zM595.9 724h8.3v2.2h-8.3zM620.9 726.2h8.3v2.2h-8.3zM587.6 728.4h8.3v2.2h-8.3zM629.2 730.5h8.3v2.2h-8.3zM562.7 732.7h8.3v2.2h-8.3zM587.6 732.7h8.3v2.2h-8.3zM629.2 732.7h8.3v2.2h-8.3zM554.3 737h8.3v2.2h-8.3zM587.6 737h8.3v2.2h-8.3zM620.9 737h8.3v2.2h-8.3z" fill="#f4f4ff"/>
<path d="M554.3 611.7h8.3v2.2h-8.3zM537.7 624.6h8.3v2.2h-8.3zM554.3 631.1h8.3v2.2h-8.3zM654.2 678.7h8.3v2.2h-8.3zM654.2 687.3h8.3v2.2h-8.3zM654.2 708.9h8.3v2.2h-8.3z" fill="#ff4040"/>
<path d="M562.7 611.7h8.3v2.2h-8.3zM637.5 611.7h8.3v2.2h-8.3zM579.3 613.8h8.3v2.2h-8.3zM587.6 618.1h8.3v2.2h-8.3zM587.6 622.5h8.3v2.2h-8.3zM604.3 622.5h8.3v2.2h-8.3zM571 624.6h8.3v2.2h-8.3zM579.3 624.6h8.3v2.2h-8.3zM595.9 629h8.3v2.2h-8.3zM587.6 631.1h8.3v2.2h-8.3zM637.5 633.3h8.3v2.2h-8.3zM604.3 635.4h8.3v2.2h-8.3zM562.7 637.6h8.3v2.2h-8.3zM571 637.6h8.3v2.2h-8.3zM554.3 641.9h8.3v2.2h-8.3zM579.3 644.1h8.3v2.2h-8.3zM637.5 644.1h8.3v2.2h-8.3zM571 646.2h8.3v2.2h-8.3zM537.7 650.6h8.3v2.2h-8.3zM537.7 652.7h8.3v2.2h-8.3zM546 652.7h8.3v2.2h-8.3zM554.3 654.9h8.3v2.2h-8.3zM546 661.4h8.3v2.2h-8.3zM562.7 665.7h8.3v2.2h-8.3zM537.7 667.9h8.3v2.2h-8.3zM571 667.9h8.3v2.2h-8.3zM645.9 667.9h8.3v2.2h-8.3zM579.3 670h8.3v2.2h-8.3zM579.3 674.3h8.3v2.2h-8.3zM546 676.5h8.3v2.2h-8.3zM579.3 676.5h8.3v2.2h-8.3zM579.3 680.8h8.3v2.2h-8.3zM537.7 683h8.3v2.2h-8.3zM571 683h8.3v2.2h-8.3zM571 685.1h8.3v2.2h-8.3zM546 689.5h8.3v2.2h-8.3zM587.6 698.1h8.3v2.2h-8.3zM579.3 702.4h8.3v2.2h-8.3zM537.7 704.6h8.3v2.2h-8.3zM562.7 706.8h8.3v2.2h-8.3zM571 706.8h8.3v2.2h-8.3zM579.3 706.8h8.3v2.2h-8.3zM562.7 713.2h8.3v2.2h-8.3zM579.3 713.2h8.3v2.2h-8.3zM571 717.6h8.3v2.2h-8.3zM579.3 717.6h8.3v2.2h-8.3zM537.7 726.2h8.3v2.2h-8.3zM562.7 730.5h8.3v2.2h-8.3zM554.3 732.7h8.3v2.2h-8.3zM595.9 732.7h8.3v2.2h-8.3zM571 739.2h8.3v2.2h-8.3zM604.3 739.2h8.3v2.2h-8.3zM546 741.3h8.3v2.2h-8.3zM571 741.3h8.3v2.2h-8.3z" fill="#bfbfff"/>
<path d="M587.6 611.7h8.3v2.2h-8.3zM595.9 613.8h8.3v2.2h-8.3zM637.5 613.8h8.3v2.2h-8.3zM587.6 616h8.3v2.2h-8.3zM562.7 618.1h8.3v2.2h-8.3zM562.7 620.3h8.3v2.2h-8.3zM571 626.8h8.3v2.2h-8.3zM562.7 629h8.3v2.2h-8.3zM579.3 635.4h8.3v2.2h-8.3zM571 639.8h8.3v2.2h-8.3zM546 650.6h8.3v2.2h-8.3zM579.3 650.6h8.3v2.2h-8.3zM537.7 670h8.3v2.2h-8.3zM554.3 670h8.3v2.2h-8.3zM562.7 670h8.3v2.2h-8.3zM579.3 683h8.3v2.2h-8.3zM562.7 685.1h8.3v2.2h-8.3zM579.3 685.1h8.3v2.2h-8.3zM562.7 691.6h8.3v2.2h-8.3zM571 691.6h8.3v2.2h-8.3zM537.7 696h8.3v2.2h-8.3zM571 698.1h8.3v2.2h-8.3zM587.6 700.3h8.3v2.2h-8.3zM546 704.6h8.3v2.2h-8.3zM562.7 704.6h8.3v2.2h-8.3zM546 715.4h8.3v2.2h-8.3zM579.3 724h8.3v2.2h-8.3zM554.3 726.2h8.3v2.2h-8.3zM546 730.5h8.3v2.2h-8.3zM579.3 730.5h8.3v2.2h-8.3zM546 732.7h8.3v2.2h-8.3zM546 734.9h8.3v2.2h-8.3zM562.7 734.9h8.3v2.2h-8.3zM562.7 739.2h8.3v2.2h-8.3zM579.3 741.3h8.3v2.2h-8.3z" fill="#aaaaff"/>
<path d="M595.9 611.7h8.3v2.2h-8.3zM604.3 613.8h8.3v2.2h-8.3zM612.6 616h8.3v2.2h-8.3zM595.9 618.1h8.3v2.2h-8.3zM637.5 620.3h8.3v2.2h-8.3zM604.3 624.6h8.3v2.2h-8.3zM645.9 624.6h8.3v2.2h-8.3zM562.7 631.1h8.3v2.2h-8.3zM562.7 633.3h8.3v2.2h-8.3zM587.6 633.3h8.3v2.2h-8.3zM595.9 633.3h8.3v2.2h-8.3zM579.3 641.9h8.3v2.2h-8.3zM654.2 641.9h8.3v2.2h-8.3zM546 646.2h8.3v2.2h-8.3zM654.2 646.2h8.3v2.2h-8.3zM654.2 650.6h8.3v2.2h-8.3zM571 652.7h8.3v2.2h-8.3zM637.5 652.7h8.3v2.2h-8.3zM562.7 657h8.3v2.2h-8.3zM554.3 659.2h8.3v2.2h-8.3zM579.3 659.2h8.3v2.2h-8.3zM637.5 659.2h8.3v2.2h-8.3zM645.9 661.4h8.3v2.2h-8.3zM546 663.5h8.3v2.2h-8.3zM571 663.5h8.3v2.2h-8.3zM537.7 665.7h8.3v2.2h-8.3zM579.3 665.7h8.3v2.2h-8.3zM546 667.9h8.3v2.2h-8.3zM579.3 667.9h8.3v2.2h-8.3zM554.3 672.2h8.3v2.2h-8.3zM537.7 676.5h8.3v2.2h-8.3zM562.7 676.5h8.3v2.2h-8.3zM537.7 678.7h8.3v2.2h-8.3zM546 680.8h8.3v2.2h-8.3zM546 683h8.3v2.2h-8.3zM537.7 685.1h8.3v2.2h-8.3zM546 685.1h8.3v2.2h-8.3zM546 687.3h8.3v2.2h-8.3zM571 687.3h8.3v2.2h-8.3zM571 689.5h8.3v2.2h-8.3zM620.9 696h8.3v2.2h-8.3zM546 700.3h8.3v2.2h-8.3zM579.3 700.3h8.3v2.2h-8.3zM595.9 700.3h8.3v2.2h-8.3zM537.7 706.8h8.3v2.2h-8.3zM554.3 706.8h8.3v2.2h-8.3zM620.9 706.8h8.3v2.2h-8.3zM629.2 706.8h8.3v2.2h-8.3zM537.7 708.9h8.3v2.2h-8.3zM571 708.9h8.3v2.2h-8.3zM579.3 711.1h8.3v2.2h-8.3zM546 713.2h8.3v2.2h-8.3zM595.9 713.2h8.3v2.2h-8.3zM612.6 713.2h8.3v2.2h-8.3zM546 717.6h8.3v2.2h-8.3zM571 719.7h8.3v2.2h-8.3zM595.9 719.7h8.3v2.2h-8.3zM571 724h8.3v2.2h-8.3zM579.3 726.2h8.3v2.2h-8.3zM587.6 726.2h8.3v2.2h-8.3zM571 728.4h8.3v2.2h-8.3zM579.3 728.4h8.3v2.2h-8.3zM537.7 730.5h8.3v2.2h-8.3zM595.9 730.5h8.3v2.2h-8.3zM604.3 730.5h8.3v2.2h-8.3zM537.7 732.7h8.3v2.2h-8.3zM579.3 732.7h8.3v2.2h-8.3zM595.9 734.9h8.3v2.2h-8.3zM537.7 739.2h8.3v2.2h-8.3zM554.3 741.3h8.3v2.2h-8.3z" fill="#d4d4ff"/>
<path d="M645.9 611.7h8.3v2.2h-8.3zM595.9 616h8.3v2.2h-8.3zM629.2 616h8.3v2.2h-8.3zM629.2 618.1h8.3v2.2h-8.3zM629.2 622.5h8.3v2.2h-8.3zM546 629h8.3v2.2h-8.3zM620.9 629h8.3v2.2h-8.3zM546 631.1h8.3v2.2h-8.3zM604.3 639.8h8.3v2.2h-8.3zM612.6 648.4h8.3v2.2h-8.3zM637.5 657h8.3v2.2h-8.3zM620.9 661.4h8.3v2.2h-8.3zM654.2 663.5h8.3v2.2h-8.3zM595.9 667.9h8.3v2.2h-8.3zM595.9 670h8.3v2.2h-8.3zM587.6 676.5h8.3v2.2h-8.3zM612.6 680.8h8.3v2.2h-8.3zM637.5 685.1h8.3v2.2h-8.3zM620.9 689.5h8.3v2.2h-8.3zM637.5 689.5h8.3v2.2h-8.3zM637.5 696h8.3v2.2h-8.3zM604.3 698.1h8.3v2.2h-8.3zM537.7 702.4h8.3v2.2h-8.3zM612.6 702.4h8.3v2.2h-8.3zM612.6 704.6h8.3v2.2h-8.3zM637.5 704.6h8.3v2.2h-8.3zM595.9 715.4h8.3v2.2h-8.3zM629.2 715.4h8.3v2.2h-8.3zM629.2 717.6h8.3v2.2h-8.3zM620.9 719.7h8.3v2.2h-8.3zM629.2 719.7h8.3v2.2h-8.3zM554.3 721.9h8.3v2.2h-8.3zM612.6 721.9h8.3v2.2h-8.3zM620.9 721.9h8.3v2.2h-8.3zM629.2 721.9h8.3v2.2h-8.3zM604.3 724h8.3v2.2h-8.3zM629.2 724h8.3v2.2h-8.3zM645.9 728.4h8.3v2.2h-8.3zM645.9 730.5h8.3v2.2h-8.3zM645.9 732.7h8.3v2.2h-8.3zM629.2 737h8.3v2.2h-8.3zM612.6 741.3h8.3v2.2h-8.3z" fill="#ffdfdf"/>
<path d="M537.7 613.8h8.3v2.2h-8.3zM546 613.8h8.3v2.2h-8.3zM637.5 622.5h8.3v2.2h-8.3zM537.7 631.1h8.3v2.2h-8.3zM620.9 635.4h8.3v2.2h-8.3zM537.7 637.6h8.3v2.2h-8.3zM587.6 665.7h8.3v2.2h-8.3zM629.2 670h8.3v2.2h-8.3zM620.9 674.3h8.3v2.2h-8.3zM595.9 676.5h8.3v2.2h-8.3zM587.6 678.7h8.3v2.2h-8.3zM629.2 678.7h8.3v2.2h-8.3zM587.6 683h8.3v2.2h-8.3zM537.7 689.5h8.3v2.2h-8.3zM645.9 689.5h8.3v2.2h-8.3zM629.2 702.4h8.3v2.2h-8.3zM620.9 708.9h8.3v2.2h-8.3zM645.9 708.9h8.3v2.2h-8.3zM645.9 711.1h8.3v2.2h-8.3zM645.9 715.4h8.3v2.2h-8.3zM645.9 721.9h8.3v2.2h-8.3zM612.6 726.2h8.3v2.2h-8.3zM620.9 728.4h8.3v2.2h-8.3zM645.9 741.3h8.3v2.2h-8.3z" fill="#ffcaca"/>
<path d="M554.3 613.8h8.3v2.2h-8.3zM554.3 618.1h8.3v2.2h-8.3zM537.7 626.8h8.3v2.2h-8.3zM629.2 629h8.3v2.2h-8.3zM629.2 631.1h8.3v2.2h-8.3zM595.9 646.2h8.3v2.2h-8.3zM587.6 657h8.3v2.2h-8.3zM595.9 659.2h8.3v2.2h-8.3zM645.9 687.3h8.3v2.2h-8.3zM654.2 689.5h8.3v2.2h-8.3zM654.2 693.8h8.3v2.2h-8.3zM654.2 700.3h8.3v2.2h-8.3zM654.2 702.4h8.3v2.2h-8.3zM637.5 724h8.3v2.2h-8.3zM654.2 730.5h8.3v2.2h-8.3zM654.2 734.9h8.3v2.2h-8.3zM637.5 737h8.3v2.2h-8.3zM654.2 739.2h8.3v2.2h-8.3z" fill="#ff7575"/>
<path d="M629.2 613.8h8.3v2.2h-8.3zM654.2 618.1h8.3v2.2h-8.3zM612.6 622.5h8.3v2.2h-8.3zM612.6 624.6h8.3v2.2h-8.3zM645.9 626.8h8.3v2.2h-8.3zM537.7 629h8.3v2.2h-8.3zM620.9 633.3h8.3v2.2h-8.3zM637.5 639.8h8.3v2.2h-8.3zM645.9 639.8h8.3v2.2h-8.3zM546 644.1h8.3v2.2h-8.3zM612.6 644.1h8.3v2.2h-8.3zM645.9 648.4h8.3v2.2h-8.3zM620.9 650.6h8.3v2.2h-8.3zM629.2 650.6h8.3v2.2h-8.3zM645.9 654.9h8.3v2.2h-8.3zM537.7 657h8.3v2.2h-8.3zM629.2 657h8.3v2.2h-8.3zM645.9 657h8.3v2.2h-8.3zM612.6 659.2h8.3v2.2h-8.3zM645.9 659.2h8.3v2.2h-8.3zM612.6 661.4h8.3v2.2h-8.3zM645.9 663.5h8.3v2.2h-8.3zM571 665.7h8.3v2.2h-8.3zM654.2 665.7h8.3v2.2h-8.3zM645.9 674.3h8.3v2.2h-8.3zM637.5 676.5h8.3v2.2h-8.3zM620.9 680.8h8.3v2.2h-8.3zM637.5 680.8h8.3v2.2h-8.3zM595.9 683h8.3v2.2h-8.3zM629.2 683h8.3v2.2h-8.3zM554.3 687.3h8.3v2.2h-8.3zM579.3 687.3h8.3v2.2h-8.3zM629.2 687.3h8.3v2.2h-8.3zM595.9 689.5h8.3v2.2h-8.3zM604.3 689.5h8.3v2.2h-8.3zM629.2 689.5h8.3v2.2h-8.3zM554.3 700.3h8.3v2.2h-8.3zM604.3 700.3h8.3v2.2h-8.3zM620.9 700.3h8.3v2.2h-8.3zM595.9 706.8h8.3v2.2h-8.3zM537.7 711.1h8.3v2.2h-8.3zM629.2 713.2h8.3v2.2h-8.3zM620.9 717.6h8.3v2.2h-8.3zM604.3 719.7h8.3v2.2h-8.3zM612.6 719.7h8.3v2.2h-8.3zM587.6 721.9h8.3v2.2h-8.3zM604.3 728.4h8.3v2.2h-8.3zM629.2 728.4h8.3v2.2h-8.3zM612.6 734.9h8.3v2.2h-8.3zM629.2 734.9h8.3v2.2h-8.3zM546 737h8.3v2.2h-8.3z" fill="#fff4f4"/>
<path d="M537.7 616h8.3v2.2h-8.3zM546 616h8.3v2.2h-8.3zM537.7 639.8h8.3v2.2h-8.3zM587.6 646.2h8.3v2.2h-8.3zM595.9 654.9h8.3v2.2h-8.3zM587.6 659.2h8.3v2.2h-8.3zM612.6 663.5h8.3v2.2h-8.3zM612.6 665.7h8.3v2.2h-8.3zM612.6 670h8.3v2.2h-8.3zM645.9 680.8h8.3v2.2h-8.3zM604.3 685.1h8.3v2.2h-8.3zM595.9 687.3h8.3v2.2h-8.3zM604.3 687.3h8.3v2.2h-8.3zM604.3 708.9h8.3v2.2h-8.3zM645.9 719.7h8.3v2.2h-8.3zM637.5 726.2h8.3v2.2h-8.3zM645.9 734.9h8.3v2.2h-8.3zM645.9 737h8.3v2.2h-8.3z" fill="#ffaaaa"/>
<path d="M554.3 616h8.3v2.2h-8.3z" fill="#ff3535"/>
<path d="M546 618.1h8.3v2.2h-8.3zM546 633.3h8.3v2.2h-8.3zM554.3 635.4h8.3v2.2h-8.3zM554.3 637.6h8.3v2.2h-8.3zM587.6 641.9h8.3v2.2h-8.3zM629.2 665.7h8.3v2.2h-8.3zM604.3 667.9h8.3v2.2h-8.3zM620.9 670h8.3v2.2h-8.3zM645.9 676.5h8.3v2.2h-8.3zM604.3 678.7h8.3v2.2h-8.3zM587.6 685.1h8.3v2.2h-8.3zM587.6 687.3h8.3v2.2h-8.3zM604.3 702.4h8.3v2.2h-8.3zM604.3 711.1h8.3v2.2h-8.3zM637.5 730.5h8.3v2.2h-8.3z" fill="#ffb5b5"/>
<path d="M554.3 620.3h8.3v2.2h-8.3zM554.3 629h8.3v2.2h-8.3zM629.2 637.6h8.3v2.2h-8.3zM629.2 644.1h8.3v2.2h-8.3zM587.6 648.4h8.3v2.2h-8.3zM604.3 648.4h8.3v2.2h-8.3zM587.6 652.7h8.3v2.2h-8.3zM587.6 661.4h8.3v2.2h-8.3zM595.9 663.5h8.3v2.2h-8.3zM620.9 665.7h8.3v2.2h-8.3zM620.9 672.2h8.3v2.2h-8.3zM612.6 676.5h8.3v2.2h-8.3zM620.9 676.5h8.3v2.2h-8.3zM629.2 676.5h8.3v2.2h-8.3zM654.2 680.8h8.3v2.2h-8.3zM645.9 706.8h8.3v2.2h-8.3zM637.5 717.6h8.3v2.2h-8.3zM654.2 732.7h8.3v2.2h-8.3zM637.5 739.2h8.3v2.2h-8.3zM637.5 741.3h8.3v2.2h-8.3z" fill="#ff8080"/>
<path d="M604.3 620.3h8.3v2.2h-8.3zM579.3 622.5h8.3v2.2h-8.3zM654.2 622.5h8.3v2.2h-8.3zM604.3 629h8.3v2.2h-8.3zM654.2 631.1h8.3v2.2h-8.3zM604.3 633.3h8.3v2.2h-8.3zM637.5 635.4h8.3v2.2h-8.3zM637.5 637.6h8.3v2.2h-8.3zM654.2 637.6h8.3v2.2h-8.3zM654.2 639.8h8.3v2.2h-8.3zM620.9 641.9h8.3v2.2h-8.3zM645.9 641.9h8.3v2.2h-8.3zM654.2 644.1h8.3v2.2h-8.3zM620.9 646.2h8.3v2.2h-8.3zM637.5 648.4h8.3v2.2h-8.3zM629.2 652.7h8.3v2.2h-8.3zM562.7 654.9h8.3v2.2h-8.3zM612.6 654.9h8.3v2.2h-8.3zM654.2 654.9h8.3v2.2h-8.3zM654.2 657h8.3v2.2h-8.3zM637.5 661.4h8.3v2.2h-8.3zM637.5 663.5h8.3v2.2h-8.3zM604.3 670h8.3v2.2h-8.3zM587.6 672.2h8.3v2.2h-8.3zM595.9 674.3h8.3v2.2h-8.3zM637.5 674.3h8.3v2.2h-8.3zM554.3 678.7h8.3v2.2h-8.3zM571 678.7h8.3v2.2h-8.3zM554.3 683h8.3v2.2h-8.3zM620.9 683h8.3v2.2h-8.3zM554.3 693.8h8.3v2.2h-8.3zM595.9 693.8h8.3v2.2h-8.3zM604.3 693.8h8.3v2.2h-8.3zM620.9 693.8h8.3v2.2h-8.3zM629.2 693.8h8.3v2.2h-8.3zM595.9 698.1h8.3v2.2h-8.3zM571 700.3h8.3v2.2h-8.3zM612.6 700.3h8.3v2.2h-8.3zM629.2 700.3h8.3v2.2h-8.3zM637.5 700.3h8.3v2.2h-8.3zM571 702.4h8.3v2.2h-8.3zM629.2 704.6h8.3v2.2h-8.3zM595.9 708.9h8.3v2.2h-8.3zM554.3 711.1h8.3v2.2h-8.3zM595.9 711.1h8.3v2.2h-8.3zM612.6 711.1h8.3v2.2h-8.3zM587.6 713.2h8.3v2.2h-8.3zM587.6 717.6h8.3v2.2h-8.3zM612.6 717.6h8.3v2.2h-8.3zM537.7 721.9h8.3v2.2h-8.3zM571 721.9h8.3v2.2h-8.3zM604.3 721.9h8.3v2.2h-8.3zM612.6 728.4h8.3v2.2h-8.3zM620.9 730.5h8.3v2.2h-8.3zM604.3 737h8.3v2.2h-8.3zM595.9 739.2h8.3v2.2h-8.3zM629.2 739.2h8.3v2.2h-8.3zM604.3 741.3h8.3v2.2h-8.3z" fill="#ffffff"/>
<path d="M537.7 622.5h8.3v2.2h-8.3z" fill="#ff1515"/>
<path d="M546 622.5h8.3v2.2h-8.3zM546 624.6h8.3v2.2h-8.3zM604.3 646.2h8.3v2.2h-8.3zM629.2 646.2h8.3v2.2h-8.3zM587.6 650.6h8.3v2.2h-8.3zM595.9 650.6h8.3v2.2h-8.3zM604.3 661.4h8.3v2.2h-8.3zM629.2 663.5h8.3v2.2h-8.3zM612.6 667.9h8.3v2.2h-8.3zM645.9 683h8.3v2.2h-8.3zM645.9 685.1h8.3v2.2h-8.3zM604.3 706.8h8.3v2.2h-8.3zM637.5 713.2h8.3v2.2h-8.3z" fill="#ff9f9f"/>
<path d="M554.3 622.5h8.3v2.2h-8.3zM612.6 672.2h8.3v2.2h-8.3zM654.2 683h8.3v2.2h-8.3zM654.2 711.1h8.3v2.2h-8.3zM637.5 719.7h8.3v2.2h-8.3zM637.5 721.9h8.3v2.2h-8.3zM654.2 737h8.3v2.2h-8.3z" fill="#ff5555"/>
<path d="M554.3 624.6h8.3v2.2h-8.3zM554.3 626.8h8.3v2.2h-8.3zM629.2 639.8h8.3v2.2h-8.3zM604.3 641.9h8.3v2.2h-8.3zM604.3 659.2h8.3v2.2h-8.3zM654.2 713.2h8.3v2.2h-8.3zM654.2 717.6h8.3v2.2h-8.3zM654.2 724h8.3v2.2h-8.3zM654.2 728.4h8.3v2.2h-8.3z" fill="#ff6060"/>
<path d="M562.7 624.6h8.3v2.2h-8.3zM579.3 648.4h8.3v2.2h-8.3zM562.7 680.8h8.3v2.2h-8.3zM546 691.6h8.3v2.2h-8.3z" fill="#8080ff"/>
<path d="M629.2 624.6h8.3v2.2h-8.3zM546 626.8h8.3v2.2h-8.3zM546 637.6h8.3v2.2h-8.3zM595.9 641.9h8.3v2.2h-8.3zM587.6 644.1h8.3v2.2h-8.3zM604.3 650.6h8.3v2.2h-8.3zM604.3 654.9h8.3v2.2h-8.3zM595.9 657h8.3v2.2h-8.3zM595.9 661.4h8.3v2.2h-8.3zM587.6 663.5h8.3v2.2h-8.3zM629.2 672.2h8.3v2.2h-8.3zM612.6 674.3h8.3v2.2h-8.3zM629.2 674.3h8.3v2.2h-8.3zM595.9 678.7h8.3v2.2h-8.3zM645.9 678.7h8.3v2.2h-8.3zM645.9 696h8.3v2.2h-8.3zM645.9 702.4h8.3v2.2h-8.3zM604.3 704.6h8.3v2.2h-8.3zM645.9 704.6h8.3v2.2h-8.3zM654.2 704.6h8.3v2.2h-8.3zM637.5 715.4h8.3v2.2h-8.3zM654.2 719.7h8.3v2.2h-8.3z" fill="#ff9595"/>
<path d="M595.9 631.1h8.3v2.2h-8.3zM571 635.4h8.3v2.2h-8.3zM562.7 650.6h8.3v2.2h-8.3zM571 650.6h8.3v2.2h-8.3zM579.3 696h8.3v2.2h-8.3zM562.7 700.3h8.3v2.2h-8.3zM554.3 704.6h8.3v2.2h-8.3zM571 704.6h8.3v2.2h-8.3zM562.7 708.9h8.3v2.2h-8.3zM571 726.2h8.3v2.2h-8.3zM571 730.5h8.3v2.2h-8.3z" fill="#9595ff"/>
<path d="M537.7 633.3h8.3v2.2h-8.3zM546 639.8h8.3v2.2h-8.3zM612.6 641.9h8.3v2.2h-8.3zM629.2 661.4h8.3v2.2h-8.3zM604.3 665.7h8.3v2.2h-8.3zM604.3 674.3h8.3v2.2h-8.3zM595.9 685.1h8.3v2.2h-8.3zM637.5 702.4h8.3v2.2h-8.3zM645.9 717.6h8.3v2.2h-8.3zM620.9 724h8.3v2.2h-8.3zM645.9 724h8.3v2.2h-8.3zM637.5 732.7h8.3v2.2h-8.3zM620.9 734.9h8.3v2.2h-8.3zM645.9 739.2h8.3v2.2h-8.3z" fill="#ffbfbf"/>
<path d="M554.3 633.3h8.3v2.2h-8.3zM654.2 715.4h8.3v2.2h-8.3zM654.2 726.2h8.3v2.2h-8.3z" fill="#ff4a4a"/>
<path d="M629.2 635.4h8.3v2.2h-8.3zM629.2 641.9h8.3v2.2h-8.3zM629.2 648.4h8.3v2.2h-8.3zM595.9 652.7h8.3v2.2h-8.3zM604.3 652.7h8.3v2.2h-8.3zM587.6 654.9h8.3v2.2h-8.3zM604.3 663.5h8.3v2.2h-8.3zM620.9 667.9h8.3v2.2h-8.3zM629.2 667.9h8.3v2.2h-8.3zM645.9 691.6h8.3v2.2h-8.3zM654.2 691.6h8.3v2.2h-8.3zM637.5 708.9h8.3v2.2h-8.3zM637.5 728.4h8.3v2.2h-8.3z" fill="#ff8a8a"/>
<path d="M654.2 676.5h8.3v2.2h-8.3zM654.2 721.9h8.3v2.2h-8.3z" fill="#ff2b2b"/>
<path d="M579.3 704.6h8.3v2.2h-8.3z" fill="#7575ff"/>
<path d="M533.1 613.2V615.4M533.1 613.2H537.4M533.1 615.4H537.4M532.6 614.3V617.5M532.6 614.3H533.1M532.6 617.5H537.4M531.6 611.1V615.9M531.6 611.1H537.4M531.6 615.9H532.6M533.7 619.7V621.8M533.7 619.7H537.4M533.7 621.8H537.4M530.6 613.5V620.7M530.6 613.5H531.6M530.6 620.7H533.7M532.7 626.1V628.2M532.7 626.1H537.4M532.7 628.2H537.4M532 623.9V627.2M532 623.9H537.4M532 627.2H532.7M530.7 625.6V630.4M530.7 625.6H532M530.7 630.4H537.4M533 632.5V634.7M533 632.5H537.4M533 634.7H537.4M532.6 633.6V636.8M532.6 633.6H533M532.6 636.8H537.4M531.2 635.2V639M531.2 635.2H532.6M531.2 639H537.4M528.6 628V637.1M528.6 628H530.7M528.6 637.1H531.2M526.9 617.1V632.5M526.9 617.1H530.6M526.9 632.5H528.6M532.8 643.2V645.4M532.8 643.2H537.4M532.8 645.4H537.4M532.4 641.1V644.3M532.4 641.1H537.4M532.4 644.3H532.8M533.8 647.5V649.7M533.8 647.5H537.4M533.8 649.7H537.4M533.6 654V656.1M533.6 654H537.4M533.6 656.1H537.4M531.9 651.8V655M531.9 651.8H537.4M531.9 655H533.6M531 648.6V653.4M531 648.6H533.8M531 653.4H531.9M529.2 642.7V651M529.2 642.7H532.4M529.2 651H531M524.1 624.8V646.9M524.1 624.8H526.9M524.1 646.9H529.2M533.2 658.3V660.4M533.2 658.3H537.4M533.2 660.4H537.4M533.7 662.6V664.7M533.7 662.6H537.4M533.7 664.7H537.4M532.1 659.3V663.6M532.1 659.3H533.2M532.1 663.6H533.7M533.2 671.1V673.3M533.2 671.1H537.4M533.2 673.3H537.4M532.7 669V672.2M532.7 669H537.4M532.7 672.2H533.2M531.5 666.8V670.6M531.5 666.8H537.4M531.5 670.6H532.7M527.9 661.5V668.7M527.9 661.5H532.1M527.9 668.7H531.5M521.6 635.8V665.1M521.6 635.8H524.1M521.6 665.1H527.9M532.6 675.4V677.6M532.6 675.4H537.4M532.6 677.6H537.4M533.6 679.7V681.9M533.6 679.7H537.4M533.6 681.9H537.4M531.7 676.5V680.8M531.7 676.5H532.6M531.7 680.8H533.6M532.7 684V686.2M532.7 684H537.4M532.7 686.2H537.4M532.5 685.1V688.3M532.5 685.1H532.7M532.5 688.3H537.4M529.4 678.6V686.7M529.4 678.6H531.7M529.4 686.7H532.5M533.3 690.4V692.6M533.3 690.4H537.4M533.3 692.6H537.4M532.4 691.5V694.7M532.4 691.5H533.3M532.4 694.7H537.4M528.5 682.7V693.1M528.5 682.7H529.4M528.5 693.1H532.4M533.3 696.9V699M533.3 696.9H537.4M533.3 699H537.4M533.7 701.2V703.3M533.7 701.2H537.4M533.7 703.3H537.4M533.5 705.5V707.6M533.5 705.5H537.4M533.5 707.6H537.4M531.8 706.5V709.8M531.8 706.5H533.5M531.8 709.8H537.4M531.6 702.2V708.1M531.6 702.2H533.7M531.6 708.1H531.8M529.9 698V705.2M529.9 698H533.3M529.9 705.2H531.6M533.3 714V716.2M533.3 714H537.4M533.3 716.2H537.4M532.1 711.9V715.1M532.1 711.9H537.4M532.1 715.1H533.3M533.7 718.3V720.5M533.7 718.3H537.4M533.7 720.5H537.4M532.2 719.4V722.6M532.2 719.4H533.7M532.2 722.6H537.4M533.5 724.8V726.9M533.5 724.8H537.4M533.5 726.9H537.4M532.6 725.8V729.1M532.6 725.8H533.5M532.6 729.1H537.4M530.3 721V727.4M530.3 721H532.2M530.3 727.4H532.6M527.7 713.5V724.2M527.7 713.5H532.1M527.7 724.2H530.3M525.4 701.6V718.9M525.4 701.6H529.9M525.4 718.9H527.7M533.3 733.3V735.5M533.3 733.3H537.4M533.3 735.5H537.4M532.1 731.2V734.4M532.1 731.2H537.4M532.1 734.4H533.3M533 737.6V739.8M533 737.6H537.4M533 739.8H537.4M532.8 738.7V741.9M532.8 738.7H533M532.8 741.9H537.4M529.9 732.8V740.3M529.9 732.8H532.1M529.9 740.3H532.8M524.5 710.2V736.6M524.5 710.2H525.4M524.5 736.6H529.9M519.3 687.9V723.4M519.3 687.9H528.5M519.3 723.4H524.5M510.4 650.5V705.6M510.4 650.5H521.6M510.4 705.6H519.3" stroke="#333" stroke-width="0.6" fill="none"/>
<text x="664.8" y="608" font-size="6.6" font-weight="bold" fill="#222">Group</text>
<rect x="666" y="610.2" width="5.5" height="77.8" fill="url(#cbg)"/>
<g font-size="5.6" fill="#222"><text x="673.4" y="619">3</text><text x="673.4" y="629.8">2</text><text x="673.4" y="640.6">1</text><text x="673.4" y="651.4">0</text><text x="673.4" y="662.2">- 1</text><text x="673.4" y="673">- 2</text><text x="673.4" y="683.8">- 3</text></g>
<g font-size="8.2" fill="#000"><text transform="translate(539 745.2) rotate(90)">Bone_D0_1</text><text transform="translate(547.3 745.2) rotate(90)">Bone_D0_2</text><text transform="translate(555.6 745.2) rotate(90)">Bone_D0_3</text><text transform="translate(563.9 745.2) rotate(90)">Bone_D14_2</text><text transform="translate(572.2 745.2) rotate(90)">Bone_D14_1</text><text transform="translate(580.6 745.2) rotate(90)">Bone_D14_3</text><text transform="translate(588.9 745.2) rotate(90)">Bone_D7_1</text><text transform="translate(597.2 745.2) rotate(90)">Bone_D7_3</text><text transform="translate(605.5 745.2) rotate(90)">Bone_D7_2</text><text transform="translate(613.8 745.2) rotate(90)">Bone_D3_3</text><text transform="translate(622.2 745.2) rotate(90)">Bone_D3_1</text><text transform="translate(630.5 745.2) rotate(90)">Bone_D3_2</text><text transform="translate(638.8 745.2) rotate(90)">Bone_D28_3</text><text transform="translate(647.1 745.2) rotate(90)">Bone_D28_1</text><text transform="translate(655.4 745.2) rotate(90)">Bone_D28_2</text></g>
<text x="476" y="684.9" font-size="10.5" textLength="28" lengthAdjust="spacingAndGlyphs" fill="#000">miRNA</text></g>
<ellipse cx="146.1" cy="891.1" rx="51" ry="26.3" transform="rotate(40.8 146.1 891.1)" fill="#ed4f49" fill-opacity="0.3"/>
<ellipse cx="170.2" cy="871.3" rx="51.4" ry="25.7" transform="rotate(60.4 170.2 871.3)" fill="#49badc" fill-opacity="0.3"/>
<ellipse cx="176.2" cy="871.3" rx="51.4" ry="25.7" transform="rotate(119.6 176.2 871.3)" fill="#05a18b" fill-opacity="0.3"/>
<ellipse cx="200.3" cy="891.1" rx="51" ry="26.3" transform="rotate(139.2 200.3 891.1)" fill="#ffce2c" fill-opacity="0.3"/>
<ellipse cx="146.1" cy="891.1" rx="51" ry="26.3" transform="rotate(40.8 146.1 891.1)" fill="none" stroke="#262626" stroke-width="0.75"/>
<ellipse cx="170.2" cy="871.3" rx="51.4" ry="25.7" transform="rotate(60.4 170.2 871.3)" fill="none" stroke="#262626" stroke-width="0.75"/>
<ellipse cx="176.2" cy="871.3" rx="51.4" ry="25.7" transform="rotate(119.6 176.2 871.3)" fill="none" stroke="#262626" stroke-width="0.75"/>
<ellipse cx="200.3" cy="891.1" rx="51" ry="26.3" transform="rotate(139.2 200.3 891.1)" fill="none" stroke="#262626" stroke-width="0.75"/>
<g font-size="6.6" fill="#222"><text x="129.4" y="887.9" text-anchor="middle">479</text><text x="151.2" y="844.2" text-anchor="middle">378</text><text x="195" y="844.2" text-anchor="middle">205</text><text x="217.2" y="887.9" text-anchor="middle">173</text><text x="143.6" y="868.2" text-anchor="middle">485</text><text x="173.2" y="861.2" text-anchor="middle">179</text><text x="202.8" y="868.2" text-anchor="middle">133</text><text x="150.8" y="904.3" text-anchor="middle">34</text><text x="195.7" y="904.3" text-anchor="middle">29</text><text x="172.9" y="925.1" text-anchor="middle">25</text><text x="157.4" y="884.2" text-anchor="middle">241</text><text x="188.6" y="884.2" text-anchor="middle">206</text><text x="163.5" y="913.7" text-anchor="middle">33</text><text x="182.6" y="913.7" text-anchor="middle">66</text><text x="173.2" y="901.3" text-anchor="middle">748</text></g>
<g font-size="7.3" fill="#111"><text x="124.6" y="823.6" textLength="27.8" lengthAdjust="spacingAndGlyphs">7d vs 0d</text><text x="188.7" y="823.6" textLength="31.1" lengthAdjust="spacingAndGlyphs">14d vs 0d</text><text x="99.8" y="850.6" textLength="27.6" lengthAdjust="spacingAndGlyphs">3d vs 0d</text><text x="213.2" y="850.6" textLength="32.4" lengthAdjust="spacingAndGlyphs">28d vs 0d</text></g>
<text x="63.8" y="877.7" font-size="10.4" textLength="21" lengthAdjust="spacingAndGlyphs" fill="#000">DEGs</text>
<ellipse cx="358.9" cy="891.1" rx="51" ry="26.3" transform="rotate(40.8 358.9 891.1)" fill="#ed4f49" fill-opacity="0.3"/>
<ellipse cx="383" cy="871.3" rx="51.4" ry="25.7" transform="rotate(60.4 383 871.3)" fill="#49badc" fill-opacity="0.3"/>
<ellipse cx="389" cy="871.3" rx="51.4" ry="25.7" transform="rotate(119.6 389 871.3)" fill="#05a18b" fill-opacity="0.3"/>
<ellipse cx="413.1" cy="891.1" rx="51" ry="26.3" transform="rotate(139.2 413.1 891.1)" fill="#ffce2c" fill-opacity="0.3"/>
<ellipse cx="358.9" cy="891.1" rx="51" ry="26.3" transform="rotate(40.8 358.9 891.1)" fill="none" stroke="#262626" stroke-width="0.75"/>
<ellipse cx="383" cy="871.3" rx="51.4" ry="25.7" transform="rotate(60.4 383 871.3)" fill="none" stroke="#262626" stroke-width="0.75"/>
<ellipse cx="389" cy="871.3" rx="51.4" ry="25.7" transform="rotate(119.6 389 871.3)" fill="none" stroke="#262626" stroke-width="0.75"/>
<ellipse cx="413.1" cy="891.1" rx="51" ry="26.3" transform="rotate(139.2 413.1 891.1)" fill="none" stroke="#262626" stroke-width="0.75"/>
<g font-size="6.6" fill="#222"><text x="342.2" y="887.9" text-anchor="middle">25</text><text x="364" y="844.2" text-anchor="middle">16</text><text x="407.8" y="844.2" text-anchor="middle">10</text><text x="430" y="887.9" text-anchor="middle">12</text><text x="356.4" y="868.2" text-anchor="middle">18</text><text x="386" y="861.2" text-anchor="middle">5</text><text x="415.6" y="868.2" text-anchor="middle">15</text><text x="363.6" y="904.3" text-anchor="middle">7</text><text x="408.5" y="904.3" text-anchor="middle">3</text><text x="385.7" y="925.1" text-anchor="middle">1</text><text x="370.2" y="884.2" text-anchor="middle">9</text><text x="401.4" y="884.2" text-anchor="middle">17</text><text x="376.3" y="913.7" text-anchor="middle">10</text><text x="395.4" y="913.7" text-anchor="middle">6</text><text x="386" y="901.3" text-anchor="middle">56</text></g>
<g font-size="7.3" fill="#111"><text x="337.4" y="823.6" textLength="27.8" lengthAdjust="spacingAndGlyphs">7d vs 0d</text><text x="401.5" y="823.6" textLength="31.1" lengthAdjust="spacingAndGlyphs">14d vs 0d</text><text x="312.6" y="850.6" textLength="27.6" lengthAdjust="spacingAndGlyphs">3d vs 0d</text><text x="426" y="850.6" textLength="32.4" lengthAdjust="spacingAndGlyphs">28d vs 0d</text></g>
<text x="276.9" y="877.7" font-size="10.4" textLength="19.3" lengthAdjust="spacingAndGlyphs" fill="#000">DELs</text>
<ellipse cx="572.4" cy="891.1" rx="51" ry="26.3" transform="rotate(40.8 572.4 891.1)" fill="#ed4f49" fill-opacity="0.3"/>
<ellipse cx="596.5" cy="871.3" rx="51.4" ry="25.7" transform="rotate(60.4 596.5 871.3)" fill="#49badc" fill-opacity="0.3"/>
<ellipse cx="602.5" cy="871.3" rx="51.4" ry="25.7" transform="rotate(119.6 602.5 871.3)" fill="#05a18b" fill-opacity="0.3"/>
<ellipse cx="626.6" cy="891.1" rx="51" ry="26.3" transform="rotate(139.2 626.6 891.1)" fill="#ffce2c" fill-opacity="0.3"/>
<ellipse cx="572.4" cy="891.1" rx="51" ry="26.3" transform="rotate(40.8 572.4 891.1)" fill="none" stroke="#262626" stroke-width="0.75"/>
<ellipse cx="596.5" cy="871.3" rx="51.4" ry="25.7" transform="rotate(60.4 596.5 871.3)" fill="none" stroke="#262626" stroke-width="0.75"/>
<ellipse cx="602.5" cy="871.3" rx="51.4" ry="25.7" transform="rotate(119.6 602.5 871.3)" fill="none" stroke="#262626" stroke-width="0.75"/>
<ellipse cx="626.6" cy="891.1" rx="51" ry="26.3" transform="rotate(139.2 626.6 891.1)" fill="none" stroke="#262626" stroke-width="0.75"/>
<g font-size="6.6" fill="#222"><text x="555.7" y="887.9" text-anchor="middle">11</text><text x="577.5" y="844.2" text-anchor="middle">5</text><text x="621.3" y="844.2" text-anchor="middle">2</text><text x="643.5" y="887.9" text-anchor="middle">4</text><text x="569.9" y="868.2" text-anchor="middle">4</text><text x="599.5" y="861.2" text-anchor="middle">3</text><text x="629.1" y="868.2" text-anchor="middle">3</text><text x="622" y="904.3" text-anchor="middle">2</text><text x="599.2" y="925.1" text-anchor="middle">4</text><text x="583.7" y="884.2" text-anchor="middle">3</text><text x="614.9" y="884.2" text-anchor="middle">4</text><text x="589.8" y="913.7" text-anchor="middle">4</text><text x="608.9" y="913.7" text-anchor="middle">2</text><text x="599.5" y="901.3" text-anchor="middle">15</text></g>
<g font-size="7.3" fill="#111"><text x="550.9" y="823.6" textLength="27.8" lengthAdjust="spacingAndGlyphs">7d vs 0d</text><text x="615" y="823.6" textLength="31.1" lengthAdjust="spacingAndGlyphs">14d vs 0d</text><text x="526.1" y="850.6" textLength="27.6" lengthAdjust="spacingAndGlyphs">3d vs 0d</text><text x="639.5" y="850.6" textLength="32.4" lengthAdjust="spacingAndGlyphs">28d vs 0d</text></g>
<text x="489.9" y="877.7" font-size="10.4" textLength="23.1" lengthAdjust="spacingAndGlyphs" fill="#000">DEMs</text></svg>
</body></html>
